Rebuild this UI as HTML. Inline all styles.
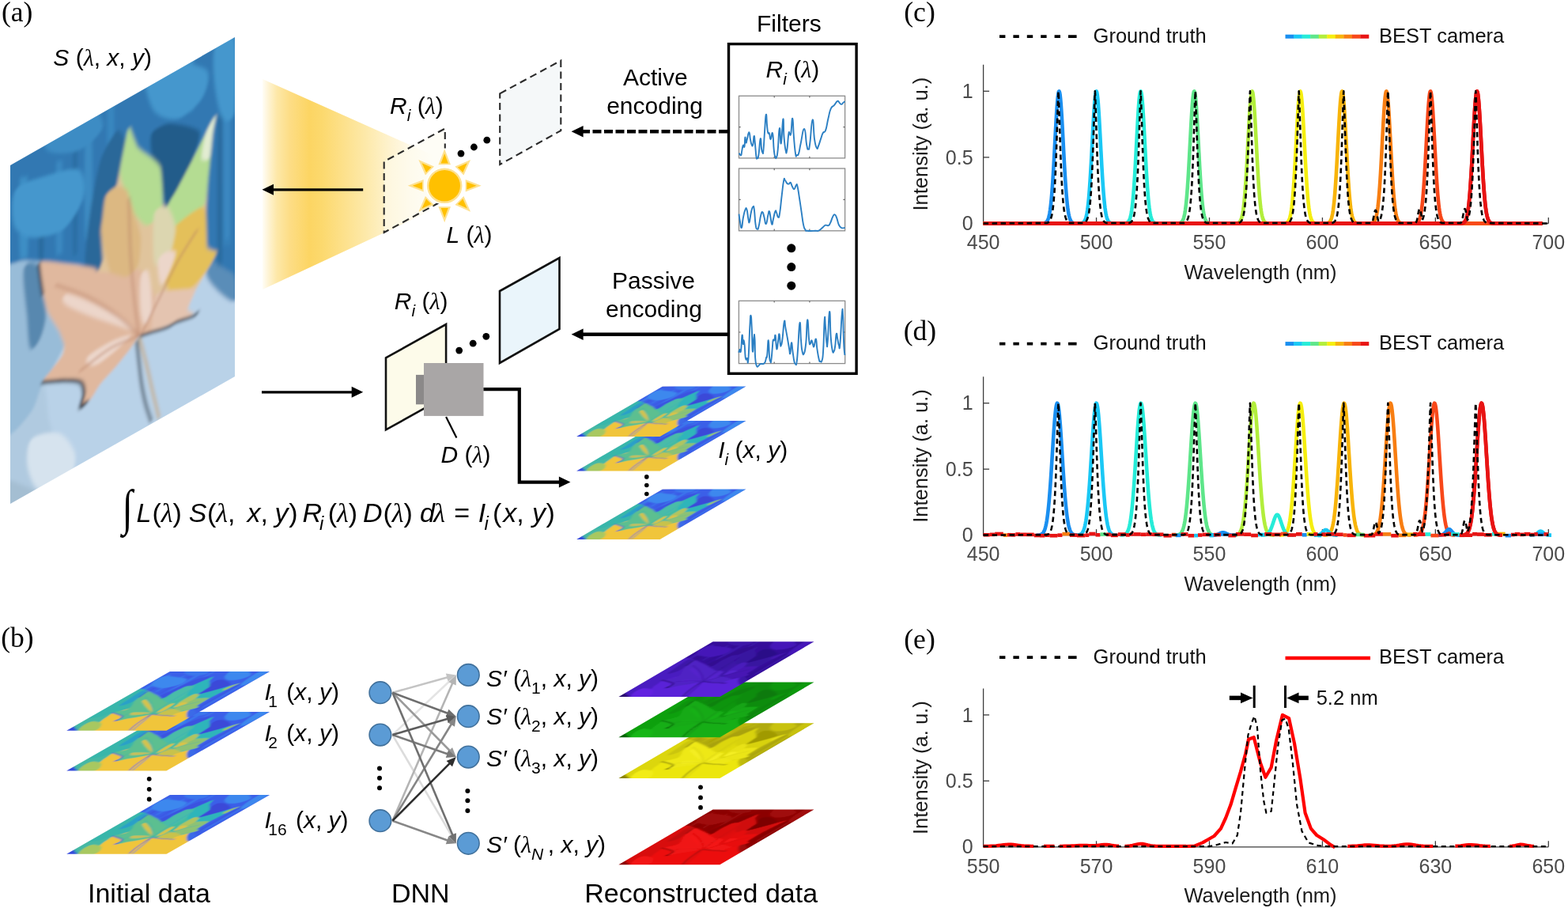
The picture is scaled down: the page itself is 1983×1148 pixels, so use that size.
<!DOCTYPE html>
<html><head><meta charset="utf-8"><title>BEST camera figure</title><style>html,body{margin:0;padding:0;background:#fff;overflow:hidden}svg{display:block}</style></head><body>
<svg width="1983" height="1148" viewBox="0 0 1983 1148"><defs><filter id="blur2" x="-10%" y="-10%" width="120%" height="120%"><feGaussianBlur stdDeviation="2.2"/></filter><filter id="blur1" x="-10%" y="-10%" width="120%" height="120%"><feGaussianBlur stdDeviation="3"/></filter><linearGradient id="cone" gradientUnits="userSpaceOnUse" x1="332" y1="0" x2="560" y2="0"><stop offset="0" stop-color="#fffdf6"/><stop offset="0.035" stop-color="#fef3d2"/><stop offset="0.08" stop-color="#fde8a8"/><stop offset="0.15" stop-color="#fddd86"/><stop offset="0.26" stop-color="#fcd563"/><stop offset="0.33" stop-color="#fcd96e"/><stop offset="0.44" stop-color="#fde089"/><stop offset="0.57" stop-color="#fde9a9"/><stop offset="0.7" stop-color="#fef2cd"/><stop offset="0.83" stop-color="#fffaec"/><stop offset="0.95" stop-color="#ffffff"/></linearGradient><clipPath id="cpA"><path d="M13,209L297,47V476L13,637Z"/></clipPath></defs><rect width="1983" height="1148" fill="#fff"/><g clip-path="url(#cpA)"><g transform="matrix(1,-0.5704,0,1,13,209)"><g filter="url(#blur2)"><rect x="-20" y="-20" width="330" height="480" fill="#b9d2e8"/><path d="M-8,266.44 C-3.1,251.58 35.3,289.64 41,297.89 C46.7,306.14 46.9,338.6 49,348.95 C51.1,359.3 59.8,391.61 62,401.36 C64.2,411.12 70.5,437.71 71,446.5 C71.5,455.28 74.9,489.22 67,489.22 C59.1,489.21 -0.5,468.71 -8,446.44 C-15.5,424.16 -12.9,281.29 -8,266.44Z" fill="#b0cae0"/><path d="M27,361.4 C33,358.52 53.75,366.66 62,374.36 C70.25,382.07 80.5,402.62 82,412.77 C83.5,422.93 78.75,439.17 72,442.07 C65.25,444.97 44.5,439.38 37,432.1 C29.5,424.83 23.5,404.15 22,393.55 C20.5,382.94 21,364.28 27,361.4Z" fill="#d6e3ee"/><path d="M-8,396.44 C-4.25,391.68 9.5,407.72 17,414.7 C24.5,421.67 36,432.63 42,442.96 C48,453.28 64.5,482.99 57,483.51 C49.5,484.03 1.75,459.5 -8,446.44 C-17.75,433.38 -11.75,401.2 -8,396.44Z" fill="#a4bed2"/><path d="M-8,117.44 C-3.55,98.65 31.6,137.02 36.5,143.52 C41.4,150.01 39.87,175.41 41,182.39 C42.13,189.36 45.76,207.12 47.8,213.27 C49.84,219.41 59.36,238.56 61.4,243.82 C63.44,249.09 69.11,261.44 68.2,265.9 C67.29,270.36 55.02,285.23 52.3,288.43 C49.58,291.63 43.53,294.09 41,297.89 C38.47,301.68 31.9,323.05 27,326.4 C22.1,329.76 -4.5,352.33 -8,331.44 C-11.5,310.54 -12.45,136.23 -8,117.44Z" fill="#98bcd8"/><path d="M17,140.7 C19.33,131.36 31,139.68 35,146.96 C39,154.25 39.33,172.77 41,184.39 C42.67,196 45.67,207.05 45,216.67 C44.33,226.29 40.33,237.34 37,242.1 C33.67,246.87 27.67,251.78 25,245.26 C22.33,238.74 22.33,220.41 21,202.98 C19.67,185.55 14.67,150.03 17,140.7Z" fill="#4d7fa8" opacity="0.85"/><path d="M-13,-0.42 C12.17,-10.31 263.58,-31.65 289,-4.15 C314.42,23.34 293,303.13 292,329.56 C291,355.99 279.42,316.63 277,313 C274.58,309.37 265.33,289.68 263,286.02 C260.67,282.35 255.33,273.39 249,269.03 C242.67,264.67 198.5,239.47 187,233.66 C175.5,227.86 119.33,204.15 111,199.31 C102.67,194.48 92.33,179.83 87,175.62 C81.67,171.42 52.83,152.64 47,148.81 C41.17,144.98 22,132.55 17,129.7 C12,126.84 -10.5,125.43 -13,114.58 C-15.5,103.74 -38.17,9.48 -13,-0.42Z" fill="#3078b2"/><path d="M252,264.74 C255.83,265.26 266.67,279.77 272,286.15 C277.33,292.52 282,295.19 284,302.99 C286,310.8 286.83,330.94 284,332.99 C281.17,335.04 272.83,323.62 267,315.3 C261.17,306.97 251.5,291.46 249,283.03 C246.5,274.6 248.17,264.22 252,264.74Z" fill="#5a8db8"/><path d="M12,28.84 C12.83,13.65 15.33,24.75 17,25.7 C18.67,26.65 21.17,18.41 22,34.55 C22.83,50.69 22.83,107.36 22,122.55 C21.17,137.74 18.67,126.65 17,125.7 C15.33,124.75 12.83,132.99 12,116.84 C11.17,100.7 11.17,44.04 12,28.84Z" fill="#4597cd" opacity="0.7"/><path d="M58,35.08 C58.67,17.3 60.67,30.6 62,31.36 C63.33,32.13 65.33,21.1 66,39.65 C66.67,58.19 66.67,124.86 66,142.65 C65.33,160.43 63.33,147.13 62,146.36 C60.67,145.6 58.67,156.63 58,138.08 C57.33,119.54 57.33,52.87 58,35.08Z" fill="#3d8cc4" opacity="0.8"/><path d="M94.5,25.9 C95.25,6.5 97.5,21.61 99,22.47 C100.5,23.33 102.75,10.78 103.5,31.04 C104.25,51.3 104.25,124.63 103.5,144.04 C102.75,163.44 100.5,148.33 99,147.47 C97.5,146.61 95.25,159.16 94.5,138.9 C93.75,118.64 93.75,45.31 94.5,25.9Z" fill="#4597cd" opacity="0.6"/><path d="M123,-7.84 C123.67,-18.96 125.67,-12.32 127,-11.56 C128.33,-10.8 130.33,-15.16 131,-3.28 C131.67,8.6 131.67,48.6 131,59.72 C130.33,70.84 128.33,64.2 127,63.44 C125.67,62.68 123.67,67.04 123,55.16 C122.33,43.28 122.33,3.28 123,-7.84Z" fill="#3d8cc4" opacity="0.7"/><path d="M222,-14.37 C222.83,-25.9 225.33,-18.47 227,-17.52 C228.67,-16.57 231.17,-21.14 232,-8.67 C232.83,3.81 232.83,45.81 232,57.33 C231.17,68.86 228.67,61.43 227,60.48 C225.33,59.53 222.83,64.1 222,51.63 C221.17,39.15 221.17,-2.85 222,-14.37Z" fill="#4597cd" opacity="0.7"/><path d="M270,6.01 C270.67,-33.45 272.67,1.53 274,2.29 C275.33,3.05 277.33,-29.64 278,10.57 C278.67,50.78 278.67,204.12 278,243.57 C277.33,283.02 275.33,248.05 274,247.29 C272.67,246.53 270.67,279.22 270,239.01 C269.33,198.79 269.33,45.46 270,6.01Z" fill="#3d8cc4" opacity="0.8"/><path d="M36,67.53 C36.5,55.49 38,62.68 39,63.25 C40,63.82 41.5,58.34 42,70.96 C42.5,83.58 42.5,126.91 42,138.96 C41.5,151 40,143.82 39,143.25 C38,142.68 36.5,148.15 36,135.53 C35.5,122.92 35.5,79.58 36,67.53Z" fill="#245c8a" opacity="0.5"/><path d="M79.5,32.35 C79.92,11.92 81.17,27.3 82,27.77 C82.83,28.25 84.08,14.29 84.5,35.2 C84.92,56.1 84.92,132.77 84.5,153.2 C84.08,173.63 82.83,158.25 82,157.77 C81.17,157.3 79.92,171.25 79.5,150.35 C79.08,129.44 79.08,52.78 79.5,32.35Z" fill="#245c8a" opacity="0.4"/><path d="M262,96.44 C262.5,67.73 264,91.59 265,92.16 C266,92.73 267.5,70.58 268,99.87 C268.5,129.15 268.5,239.15 268,267.87 C267.5,296.58 266,272.73 265,272.16 C264,271.59 262.5,293.73 262,264.44 C261.5,235.16 261.5,125.16 262,96.44Z" fill="#245c8a" opacity="0.5"/><path d="M172,-15.89 C176.5,-22.32 200.45,-13.91 212,-8.08 C223.55,-2.24 244.5,13.71 249,23.03 C253.5,32.35 247.55,48.2 242,54.04 C236.45,59.87 221,64.81 212,61.92 C203,59.04 188,46.49 182,34.81 C176,23.14 167.5,-9.46 172,-15.89Z" fill="#4597cd"/><path d="M7,34.99 C13.3,29.14 35,36.71 47,39.81 C59,42.9 80.25,47.57 87,55.62 C93.75,63.67 95,83.94 92,93.48 C89,103.02 76.75,117.28 67,119.22 C57.25,121.16 36.3,112.46 27,106.4 C17.7,100.35 8,89.56 5,78.85 C2,68.14 0.7,40.85 7,34.99Z" fill="#4597cd"/><path d="M259,-1.27 C262.75,-8.13 280.25,-11.15 284,2.99 C287.75,17.13 286.25,79.28 284,92.99 C281.75,106.71 272.75,101.08 269,94.44 C265.25,87.8 260.5,63.09 259,48.73 C257.5,34.38 255.25,5.59 259,-1.27Z" fill="#4597cd"/><path d="M47,-32.19 C54.5,-36.91 86.5,-31.16 97,-23.67 C107.5,-16.18 118.5,9.59 117,17.74 C115.5,25.88 97.5,32.11 87,30.62 C76.5,29.14 53,17.23 47,7.81 C41,-1.61 39.5,-27.47 47,-32.19Z" fill="#3d8cc4"/><path d="M179,61.1 C181.68,57.97 195,58.46 202,62.22 C209,65.98 235.73,85.98 239,93.33 C242.27,100.67 233.27,118.42 230,125.19 C226.73,131.96 214.73,146.6 211,151.35 C207.27,156.11 200.1,166.9 198,165.94 C195.9,164.97 193.93,149.34 193,143.09 C192.07,136.84 191.63,118.67 190,112.38 C188.37,106.08 180.28,95.08 179,89.1 C177.72,83.12 176.32,64.24 179,61.1Z" fill="#245c8a"/><path d="M135,33 C138.5,32.43 144.42,46.48 145,51.71 C145.58,56.94 141.28,71.82 140,77.86 C138.72,83.89 136.22,100.03 134,103.43 C131.78,106.84 123.22,101.17 121,107.02 C118.78,112.87 115.47,144.41 115,153.6 C114.53,162.78 117.47,180.64 117,185.74 C116.53,190.84 113.57,197.85 111,197.31 C108.43,196.78 96.63,187.14 95,181.19 C93.37,175.24 95.95,155.76 97,146.33 C98.05,136.89 101.9,110.79 104,100.32 C106.1,89.85 111.38,64.45 115,56.6 C118.62,48.74 131.5,33.57 135,33Z" fill="#2a6899"/><path d="M150.6,38 C151.62,39.1 159.25,65.28 161.1,68.89 C162.95,72.5 176.39,89.22 178.3,92.1 C180.21,94.98 188.84,107.81 189.8,112.06 C190.76,116.32 192.12,152.27 192.7,155.92 C193.28,159.57 197.29,167.16 198.5,166.82 C199.71,166.49 208.8,153.66 210.9,150.9 C213,148.14 227.57,128.73 230,125.39 C232.43,122.05 245.31,103.46 247.3,100.76 C249.29,98.06 259.23,84.56 259.8,84.89 C260.37,85.22 256.54,100.66 255.9,105.67 C255.26,110.67 250.77,153.21 250.2,159.91 C249.63,166.61 247.37,200.45 247.3,206.16 C247.23,211.87 248.31,242.09 249.2,245.54 C250.09,248.99 260.31,256.4 260.7,257.9 C261.09,259.4 255.91,266.76 255,268.05 C254.09,269.34 248.53,275.63 247.1,277.25 C245.67,278.86 235.11,290.08 233.6,292.25 C232.09,294.41 224.65,307.78 224.5,309.65 C224.35,311.53 232.21,319.94 231.3,320.33 C230.39,320.72 213.01,315.8 210.9,315.5 C208.79,315.2 201.71,316.15 199.6,315.85 C197.49,315.55 181.47,311.56 179.2,311.02 C176.93,310.48 166.81,307.84 165.6,307.76 C164.39,307.67 161.91,309.04 161,309.73 C160.09,310.43 153.81,316.82 152,318.2 C150.19,319.58 136.47,328.92 133.9,330.48 C131.33,332.03 115.61,340.03 113.5,341.54 C111.39,343.05 103.86,352.18 102.2,353.19 C100.54,354.21 89.21,357.55 88.6,356.74 C87.99,355.93 93,343.16 93,341.05 C93,338.93 90.11,326.95 88.6,325.04 C87.09,323.12 73.57,314.17 70.4,312.36 C67.23,310.55 42.21,299.48 41,297.89 C39.79,296.29 50.64,289.75 52.3,288.43 C53.96,287.11 64.84,279.59 65.9,278.09 C66.96,276.59 68.5,268.19 68.2,265.9 C67.9,263.62 62.76,247.33 61.4,243.82 C60.04,240.31 49.16,217.36 47.8,213.27 C46.44,209.17 41.75,187.04 41,182.39 C40.25,177.74 34.23,144.49 36.5,143.52 C38.77,142.55 70.47,164.74 75,167.78 C79.53,170.82 101.98,187.07 104.4,189.05 C106.82,191.03 110.46,197.73 111.3,197.49 C112.14,197.24 116.75,188.35 117,185.44 C117.25,182.52 115.1,157.33 115.1,153.75 C115.1,150.18 116.61,134.94 117,131.84 C117.39,128.74 119.75,109.16 120.9,107.26 C122.05,105.37 133.03,105.37 134.3,103.4 C135.57,101.44 139.23,81.25 140,77.86 C140.77,74.46 145.09,55.12 145.8,52.46 C146.51,49.81 149.58,36.91 150.6,38Z" fill="#e0c49c"/><path d="M150.6,38 C152.38,39.92 157.87,62.58 161.1,68.89 C164.33,75.2 174.95,87.07 178.3,92.1 C181.65,97.14 188.12,104.62 189.8,112.06 C191.48,119.51 193.03,148.85 192.7,155.92 C192.37,162.99 189.41,170.54 187,172.66 C184.59,174.79 175.5,176.69 172,174.11 C168.5,171.53 159.92,156.88 157,150.55 C154.08,144.22 149.1,126.88 147,119.85 C144.9,112.82 139.14,98.15 139,90.29 C138.86,82.42 144.45,58.56 145.8,52.46 C147.15,46.36 148.81,36.09 150.6,38Z" fill="#b4dc92"/><path d="M259.8,84.89 C260.8,85.46 257.02,96.91 255.9,105.67 C254.78,114.42 251.47,149.99 250.2,159.91 C248.93,169.84 247.71,186.02 245,190.75 C242.29,195.48 231.2,199.96 227,200.48 C222.8,201 212.32,199.14 209,195.21 C205.68,191.29 198.28,171.99 198.5,166.82 C198.72,161.65 207.22,155.73 210.9,150.9 C214.58,146.06 225.75,131.24 230,125.39 C234.25,119.54 243.82,105.49 247.3,100.76 C250.78,96.03 258.8,84.32 259.8,84.89Z" fill="#b4dc92"/><path d="M259.8,84.89 C260.8,85.46 256.81,99.85 255.9,105.67 C254.99,111.48 253.62,132.01 252,134.74 C250.38,137.47 242.55,133 242,129.04 C241.45,125.07 245.22,105.91 247.3,100.76 C249.38,95.61 258.8,84.32 259.8,84.89Z" fill="#e2ecd2"/><path d="M134.3,103.4 C137.34,104.29 144.35,109.35 147,114.85 C149.65,120.35 154.9,142.35 157,150.55 C159.1,158.75 164.42,177.2 165,185.12 C165.58,193.03 164.1,213.77 162,218.4 C159.9,223.04 151.08,226.01 147,224.85 C142.92,223.69 130.73,216.75 127,208.44 C123.27,200.13 116.17,162.53 115,153.6 C113.83,144.66 116.31,137.24 117,131.84 C117.69,126.43 118.88,110.58 120.9,107.26 C122.92,103.94 131.26,102.52 134.3,103.4Z" fill="#dcb882"/><path d="M209,195.21 C214.6,193.97 240.31,186.88 245,192.75 C249.69,198.62 247.37,237.94 249.2,245.54 C251.03,253.15 260.02,255.28 260.7,257.9 C261.38,260.53 257.18,265.59 255,268.05 C252.82,270.52 245.27,277 242,279.04 C238.73,281.07 231.67,286.04 227,285.48 C222.33,284.92 206.08,279.47 202,274.22 C197.92,268.97 192.58,248.78 192,240.52 C191.42,232.25 195.02,208.65 197,203.37 C198.98,198.08 203.4,196.45 209,195.21Z" fill="#e4c05a"/><path d="M36.5,143.52 C40.47,141.82 67.08,162.47 75,167.78 C82.92,173.09 100.17,185.58 104.4,189.05 C108.64,192.52 108.66,195.22 111.3,197.49 C113.94,199.75 122.83,205.25 127,208.44 C131.16,211.63 142.92,223.1 147,224.85 C151.08,226.59 158.5,220.24 162,223.4 C165.5,226.57 174.08,244.46 177,251.96 C179.92,259.46 186.74,280.78 187,287.66 C187.26,294.55 181.7,308.67 179.2,311.02 C176.7,313.36 167.72,307.91 165.6,307.76 C163.48,307.61 162.59,308.52 161,309.73 C159.41,310.95 155.16,315.78 152,318.2 C148.84,320.62 138.39,327.75 133.9,330.48 C129.41,333.2 117.2,338.89 113.5,341.54 C109.8,344.19 105.11,351.42 102.2,353.19 C99.3,354.97 89.67,358.15 88.6,356.74 C87.53,355.32 93,344.75 93,341.05 C93,337.35 91.24,328.38 88.6,325.04 C85.96,321.69 75.95,315.52 70.4,312.36 C64.85,309.19 43.11,300.68 41,297.89 C38.89,295.1 49.39,290.74 52.3,288.43 C55.2,286.12 64.05,280.72 65.9,278.09 C67.76,275.46 68.73,269.9 68.2,265.9 C67.67,261.9 63.78,249.96 61.4,243.82 C59.02,237.68 50.18,220.43 47.8,213.27 C45.42,206.1 42.32,190.52 41,182.39 C39.68,174.25 32.53,145.22 36.5,143.52Z" fill="#e0b89e"/><path d="M187,267.66 C192.25,267.74 221.56,282.61 227,285.48 C232.44,288.35 233.89,289.43 233.6,292.25 C233.31,295.07 224.77,306.38 224.5,309.65 C224.23,312.93 234.21,319.61 231.3,320.33 C228.4,321.06 205.68,316.94 199.6,315.85 C193.52,314.76 181.25,314.64 179.2,311.02 C177.15,307.39 181.09,289.87 182,284.81 C182.91,279.76 181.75,267.59 187,267.66Z" fill="#e4c4b0"/><path d="M182,164.81 C183.98,158.01 195.85,162.38 199,166.51 C202.15,170.64 209.23,191.25 209,200.21 C208.77,209.18 200.15,240.5 197,243.37 C193.85,246.24 183.75,233.98 182,224.81 C180.25,215.65 180.02,171.61 182,164.81Z" fill="#dcd6b0"/><path d="M72,204.07 C78.33,207.85 94.5,223.9 107,237.03 C119.5,250.16 139,272.79 147,282.85 C155,292.91 156.67,297.7 155,297.41 C153.33,297.13 146.67,289.99 137,281.14 C127.33,272.3 108.33,255.46 97,244.33 C85.67,233.2 73.17,221.07 69,214.36 C64.83,207.65 65.67,200.29 72,204.07Z" fill="#ecd6ca"/><path d="M97,298.33 C100.33,295.23 117.83,294.88 127,295.44 C136.17,296 150.33,299.42 152,301.7 C153.67,303.98 144.5,307.09 137,309.14 C129.5,311.2 113.67,315.84 107,314.03 C100.33,312.23 93.67,301.43 97,298.33Z" fill="#ecd6ca"/><path d="M165,235.12 C166.67,227.73 172.67,227.82 175,235.82 C177.33,243.82 179.67,272.65 179,283.1 C178.33,293.55 173.33,299.04 171,298.54 C168.67,298.04 166,290.69 165,280.12 C164,269.55 163.33,242.5 165,235.12Z" fill="#ecd6ca"/><path d="M187,227.66 C188.17,221.33 195.33,221.75 199,222.51 C202.67,223.27 210.17,225.88 209,232.21 C207.83,238.55 195.67,261.27 192,260.52 C188.33,259.76 185.83,234 187,227.66Z" fill="#ecd6ca"/><path d="M163,308.98 C158.67,302.34 148,283.75 137,269.14 C126,254.54 110.33,235.6 97,221.33 C83.67,207.06 63.67,189.82 57,183.51" fill="none" stroke="#b88066" stroke-width="2.4" opacity="0.7"/><path d="M163,308.98 C157,308.05 139.67,303.17 127,303.44 C114.33,303.72 93.67,309.43 87,310.62" fill="none" stroke="#b88066" stroke-width="2.4" opacity="0.7"/><path d="M163,308.98 C162,300.9 158.83,279.1 157,260.55 C155.17,242.01 153.17,220.03 152,197.7 C150.83,175.37 150.33,138.42 150,126.56" fill="none" stroke="#b88066" stroke-width="2.4" opacity="0.7"/><path d="M165,309.12 C168.67,303.87 179.17,288.86 187,277.66 C194.83,266.47 203.67,252.17 212,241.92 C220.33,231.68 232.83,220.47 237,216.18" fill="none" stroke="#b88066" stroke-width="2.4" opacity="0.7"/><path d="M163.3,311.05 C164.75,317.39 169.22,336.17 172,349.11 C174.78,362.05 177.3,375.67 180,388.67 C182.7,401.68 186.83,420.74 188.2,427.15" fill="none" stroke="#c9a25f" stroke-width="2.6"/><path d="M41,297.89 C43.67,299.16 52.1,303.1 57,305.51 C61.9,307.92 65.13,309.1 70.4,312.36 C75.67,315.61 84.83,320.26 88.6,325.04 C92.37,329.82 93,335.76 93,341.05 C93,346.33 87.93,354.52 88.6,356.74 C89.27,358.95 95.6,354.73 97,354.33" fill="none" stroke="#1b2a3a" stroke-width="4.0" stroke-linecap="round" stroke-linejoin="round"/><path d="M165.6,309.96 C167.87,310.5 173.53,311.82 179.2,313.22 C184.87,314.61 194.32,317.5 199.6,318.35 C204.88,319.2 205.62,317.53 210.9,318.3 C216.18,319.06 226.95,322.45 231.3,322.93 C235.65,323.41 236.05,321.48 237,321.18" fill="none" stroke="#1b2a3a" stroke-width="3.4" stroke-linecap="round" stroke-linejoin="round"/><path d="M160,314.26 C160.5,319.22 162,334.57 163,343.98 C164,353.38 164.67,361.59 166,370.69 C167.33,379.78 169,389.56 171,398.54 C173,407.51 176.83,420.2 178,424.53" fill="none" stroke="#1b2a3a" stroke-width="3.0" stroke-linecap="round" stroke-linejoin="round"/><path d="M36,145.53 C36.33,148.72 37.17,157.87 38,164.68 C38.83,171.48 40.5,182.77 41,186.39" fill="none" stroke="#1b2a3a" stroke-width="3.0" stroke-linecap="round" stroke-linejoin="round"/></g></g></g>
<path d="M332,100L560,201.7V259.6L332,366Z" fill="url(#cone)"/>
<path d="M632.2,118.3L709.3,76.6V165.1L632.2,208Z" fill="#f5f8f9" stroke="#2b2b2b" stroke-width="2.1" stroke-dasharray="9 5.5"/>
<path d="M485.7,204.2L562.8,162.5V252.2L485.7,293.9Z" fill="#fdfbee" fill-opacity="0.55"/>
<path d="M562.8,187.5V162.5L485.7,204.2V293.9L557,255.3" fill="none" stroke="#2b2b2b" stroke-width="2.1" stroke-dasharray="9 5.5" stroke-dashoffset="3"/>
<path d="M459.2,239.8H344" stroke="#000" stroke-width="3.3"/><path d="M331.5,239.8L346,232.8L346,246.8Z" fill="#000"/>
<circle cx="583" cy="194.1" r="4.4" fill="#000"/>
<circle cx="599.4" cy="186" r="4.4" fill="#000"/>
<circle cx="615.8" cy="177.2" r="4.4" fill="#000"/>
<g transform="translate(562.2,234.8) rotate(0)"><path d="M0,-46.5L7.8,-26.5H-7.8Z" fill="#fee18f"/><path d="M0,-40.5L4.6,-28.2H-4.6Z" fill="#ffc000"/></g><g transform="translate(562.2,234.8) rotate(45)"><path d="M0,-46.5L7.8,-26.5H-7.8Z" fill="#fee18f"/><path d="M0,-40.5L4.6,-28.2H-4.6Z" fill="#ffc000"/></g><g transform="translate(562.2,234.8) rotate(90)"><path d="M0,-46.5L7.8,-26.5H-7.8Z" fill="#fee18f"/><path d="M0,-40.5L4.6,-28.2H-4.6Z" fill="#ffc000"/></g><g transform="translate(562.2,234.8) rotate(135)"><path d="M0,-46.5L7.8,-26.5H-7.8Z" fill="#fee18f"/><path d="M0,-40.5L4.6,-28.2H-4.6Z" fill="#ffc000"/></g><g transform="translate(562.2,234.8) rotate(180)"><path d="M0,-46.5L7.8,-26.5H-7.8Z" fill="#fee18f"/><path d="M0,-40.5L4.6,-28.2H-4.6Z" fill="#ffc000"/></g><g transform="translate(562.2,234.8) rotate(225)"><path d="M0,-46.5L7.8,-26.5H-7.8Z" fill="#fee18f"/><path d="M0,-40.5L4.6,-28.2H-4.6Z" fill="#ffc000"/></g><g transform="translate(562.2,234.8) rotate(270)"><path d="M0,-46.5L7.8,-26.5H-7.8Z" fill="#fee18f"/><path d="M0,-40.5L4.6,-28.2H-4.6Z" fill="#ffc000"/></g><g transform="translate(562.2,234.8) rotate(315)"><path d="M0,-46.5L7.8,-26.5H-7.8Z" fill="#fee18f"/><path d="M0,-40.5L4.6,-28.2H-4.6Z" fill="#ffc000"/></g><circle cx="562.2" cy="234.8" r="24" fill="#fff"/><circle cx="562.2" cy="234.8" r="22.3" fill="#fee18f"/><circle cx="562.2" cy="234.8" r="19.8" fill="#ffc000"/>
<rect x="921.5" y="55.6" width="161.6" height="416.7" fill="none" stroke="#000" stroke-width="3.4"/>
<rect x="934.5" y="121.3" width="134.1" height="78.6" fill="#fff" stroke="#8c8c8c" stroke-width="1.3"/><path d="M979.2,121.3v2.2M979.2,199.9v-2.2M1023.9,121.3v2.2M1023.9,199.9v-2.2M934.5,160.6h2.2M1068.6,160.6h-2.2" stroke="#666" stroke-width="1.2"/><rect x="934.5" y="213" width="134.1" height="78.8" fill="#fff" stroke="#8c8c8c" stroke-width="1.3"/><path d="M979.2,213v2.2M979.2,291.8v-2.2M1023.9,213v2.2M1023.9,291.8v-2.2M934.5,252.4h2.2M1068.6,252.4h-2.2" stroke="#666" stroke-width="1.2"/><rect x="934.4" y="380.4" width="134.3" height="79.2" fill="#fff" stroke="#8c8c8c" stroke-width="1.3"/><path d="M979.17,380.4v2.2M979.17,459.6v-2.2M1023.93,380.4v2.2M1023.93,459.6v-2.2M934.4,420h2.2M1068.7,420h-2.2" stroke="#666" stroke-width="1.2"/><path d="M934.54,193.61 C934.85,194.05 934.94,194.6 935.7,195.26 C936.45,195.93 936.69,197.2 937.35,196.09 C938.01,194.99 937.52,194.44 938.18,191.13 C938.84,187.81 938.95,185.22 939.83,183.68 C940.72,182.13 940.83,187.98 941.49,185.33 C942.15,182.68 941.79,175.07 942.32,173.74 C942.85,172.42 942.81,179.7 943.48,180.36 C944.14,181.03 943.79,179.76 944.8,176.23 C945.82,172.69 946.18,167.12 947.28,167.12 C948.39,167.12 948.06,172.03 948.94,176.23 C949.82,180.42 949.71,181.08 950.6,182.85 C951.48,184.61 951.46,185.72 952.25,182.85 C953.05,179.98 952.91,172.97 953.58,172.09 C954.24,171.2 953.98,172.69 954.74,179.54 C955.49,186.38 955.6,192.45 956.39,197.75 C957.19,203.05 956.92,199.85 957.72,199.4 C958.51,198.96 958.31,202.49 959.37,196.09 C960.43,189.69 960.72,177.6 961.69,175.4 C962.66,173.19 962.31,183.18 963.01,187.81 C963.72,192.45 963.68,192.34 964.34,192.78 C965,193.22 964.75,196.98 965.5,189.47 C966.25,181.96 966.27,176.56 967.15,164.64 C968.04,152.72 968.01,146.09 968.81,144.77 C969.6,143.44 969.47,153.49 970.13,159.67 C970.79,165.85 970.54,165.52 971.29,167.95 C972.04,170.38 972.06,166.57 972.95,168.77 C973.83,170.98 973.5,176.23 974.6,176.23 C975.71,176.23 975.98,165.24 977.09,168.77 C978.19,172.31 977.86,181.52 978.74,189.47 C979.62,197.42 979.51,196.15 980.4,198.58 C981.28,201 981.17,201 982.05,198.58 C982.94,196.15 982.69,199.18 983.71,189.47 C984.72,179.76 984.76,164.36 985.86,162.15 C986.96,159.94 986.66,184.28 987.85,181.19 C989.04,178.1 989.36,152.77 990.33,150.56 C991.3,148.36 990.61,162.32 991.49,172.91 C992.37,183.51 992.63,185.88 993.64,190.3 C994.66,194.71 994.33,194.99 995.3,189.47 C996.27,183.95 996.4,175.12 997.28,169.6 C998.17,164.08 997.81,169 998.61,168.77 C999.4,168.55 999.29,173.85 1000.26,168.77 C1001.24,163.7 1001.28,148.63 1002.25,149.74 C1003.22,150.84 1002.89,160.99 1003.91,172.91 C1004.92,184.83 1005.04,188.26 1006.06,194.44 C1007.08,200.62 1006.61,196.31 1007.72,196.09 C1008.82,195.87 1008.87,197.58 1010.2,193.61 C1011.52,189.64 1010.83,189.36 1012.68,181.19 C1014.54,173.02 1015.17,162.54 1017.15,162.98 C1019.14,163.42 1018.76,176 1020.13,182.85 C1021.5,189.69 1021.18,189.08 1022.28,188.64 C1023.39,188.2 1022.86,191.13 1024.27,181.19 C1025.68,171.26 1026.04,152.72 1027.58,151.39 C1029.13,150.07 1028.65,166.73 1030.07,176.23 C1031.48,185.72 1031.56,184.78 1032.88,186.99 C1034.21,189.19 1033.58,187.81 1035.03,184.5 C1036.49,181.19 1036.8,178.98 1038.34,174.57 C1039.89,170.15 1039.28,170.6 1040.83,167.95 C1042.37,165.3 1042.37,169.49 1044.14,164.64 C1045.91,159.78 1045.68,157.02 1047.45,149.74 C1049.22,142.45 1048.77,141.73 1050.76,137.32 C1052.75,132.9 1052.69,135.7 1054.9,133.18 C1057.11,130.66 1057.27,128.76 1059.04,127.88 C1060.81,127 1060.2,128.81 1061.52,129.87 C1062.85,130.93 1062.68,131.85 1064.01,131.85 C1065.33,131.85 1065.25,130.84 1066.49,129.87 C1067.73,128.9 1068.07,128.65 1068.64,128.21" fill="none" stroke="#2b7fc3" stroke-width="1.9" stroke-linejoin="round"/><path d="M934.54,270.6 C934.85,272.8 934.81,274.24 935.7,278.87 C936.58,283.51 936.74,288.86 937.85,287.98 C938.95,287.1 938.64,281.52 939.83,275.56 C941.03,269.6 941.08,268.5 942.32,265.63 C943.55,262.76 943.37,261.71 944.47,264.8 C945.57,267.89 945.57,273.02 946.46,277.22 C947.34,281.41 946.9,282.74 947.78,280.53 C948.66,278.32 948.58,274.02 949.77,268.94 C950.96,263.86 951.15,262.37 952.25,261.49 C953.36,260.61 953.02,259.67 953.91,265.63 C954.79,271.59 954.55,277.44 955.56,283.84 C956.58,290.24 956.61,289.19 957.72,289.64 C958.82,290.08 958.51,290.13 959.7,285.5 C960.89,280.86 960.95,276.89 962.19,272.25 C963.42,267.62 963.23,267.67 964.34,268.11 C965.44,268.55 965.13,269.93 966.32,273.91 C967.52,277.88 967.48,283.45 968.81,283.01 C970.13,282.57 970.19,276.45 971.29,272.25 C972.4,268.06 972.06,266.4 972.95,267.28 C973.83,268.17 973.72,271.15 974.6,275.56 C975.49,279.98 975.38,283.4 976.26,283.84 C977.14,284.28 976.81,281.63 977.91,277.22 C979.02,272.8 979.29,269.49 980.4,267.28 C981.5,265.08 981.04,266.95 982.05,268.94 C983.07,270.93 983.1,274.74 984.21,274.74 C985.31,274.74 985,276.23 986.19,268.94 C987.38,261.66 987.35,258.23 988.68,247.42 C990,236.6 990.06,233.59 991.16,228.38 C992.26,223.17 991.71,227 992.81,227.88 C993.92,228.76 993.97,230.45 995.3,231.69 C996.62,232.92 996.59,232.74 997.78,232.52 C998.97,232.3 998.66,229.98 999.77,230.86 C1000.87,231.74 1000.68,233.62 1001.92,235.83 C1003.16,238.04 1003.08,239.58 1004.4,239.14 C1005.73,238.7 1005.78,235.06 1006.89,234.17 C1007.99,233.29 1007.44,231.41 1008.54,235.83 C1009.65,240.24 1009.7,242.34 1011.03,250.73 C1012.35,259.12 1012.19,258.45 1013.51,267.28 C1014.83,276.11 1014.67,277.66 1015.99,283.84 C1017.32,290.02 1017.15,288.34 1018.48,290.46 C1019.8,292.58 1017.65,291.43 1020.96,291.79 C1024.27,292.14 1026.92,291.92 1030.89,291.79 C1034.87,291.66 1033.21,292.53 1035.86,291.29 C1038.51,290.06 1038.62,288.92 1040.83,287.15 C1043.04,285.39 1042.37,285.2 1044.14,284.67 C1045.91,284.14 1045.91,285.83 1047.45,285.17 C1049,284.5 1048.39,285.19 1049.93,282.19 C1051.48,279.18 1051.7,276.78 1053.25,273.91 C1054.79,271.04 1054.4,270.98 1055.73,271.42 C1057.05,271.87 1056.89,272.25 1058.21,275.56 C1059.54,278.87 1059.15,280.53 1060.7,283.84 C1062.24,287.15 1061.89,286.88 1064.01,287.98 C1066.13,289.08 1067.41,287.98 1068.64,287.98" fill="none" stroke="#2b7fc3" stroke-width="1.9" stroke-linejoin="round"/><path d="M934.29,445.84 C934.58,444.79 934.67,442.54 935.39,441.92 C936.1,441.29 936.12,448.29 936.95,443.48 C937.79,438.68 937.77,426.18 938.52,423.88 C939.27,421.58 939.23,433.19 939.78,434.86 C940.32,436.53 940.06,429.74 940.56,430.16 C941.06,430.57 941.03,430.36 941.66,436.43 C942.29,442.49 942.08,448.5 942.91,452.89 C943.75,457.28 943.87,452.48 944.79,452.89 C945.71,453.31 945.44,464.71 946.36,454.46 C947.28,444.22 947.41,429.32 948.24,414.47 C949.08,399.63 948.83,398.79 949.5,398.79 C950.17,398.79 950.13,402.35 950.75,414.47 C951.38,426.6 951.14,440.92 951.85,444.27 C952.56,447.61 952.71,431.2 953.42,427.02 C954.13,422.84 953.81,419.81 954.52,428.59 C955.23,437.37 954.08,451.59 956.09,459.95 C958.09,468.31 959.2,460.16 962.04,459.95 C964.89,459.74 964.87,461.26 966.75,459.17 C968.63,457.07 968.18,454.83 969.1,452.11 C970.02,449.39 969.49,454.83 970.2,448.97 C970.91,443.12 971.01,429.74 971.77,430.16 C972.52,430.57 972.35,443.43 973.02,450.54 C973.69,457.65 973.65,455.56 974.28,456.81 C974.9,458.07 974.66,460.26 975.37,455.25 C976.08,450.23 976.31,444.69 976.94,438 C977.57,431.31 977.1,432.25 977.73,430.16 C978.35,428.06 978.54,431.83 979.29,430.16 C980.05,428.48 979.92,422.21 980.55,423.88 C981.18,425.56 981.06,431.83 981.65,436.43 C982.23,441.03 982.12,442.39 982.74,441.13 C983.37,439.88 983.25,436.74 984,431.72 C984.75,426.71 984.81,421.48 985.57,422.31 C986.32,423.15 986.19,431.1 986.82,434.86 C987.45,438.62 987.21,438.1 987.92,436.43 C988.63,434.76 988.44,436.53 989.49,428.59 C990.53,420.64 990.79,410.4 991.84,406.63 C992.88,402.87 992.36,409.04 993.41,414.47 C994.45,419.91 994.5,419.91 995.76,427.02 C997.01,434.13 997.15,435.91 998.11,441.13 C999.07,446.36 998.61,448.71 999.37,446.62 C1000.12,444.53 1000.1,433.92 1000.93,433.29 C1001.77,432.66 1001.58,438 1002.5,444.27 C1003.42,450.54 1003.46,452.63 1004.38,456.81 C1005.3,461 1005.12,459.53 1005.95,459.95 C1006.79,460.37 1006.68,463.4 1007.52,458.38 C1008.36,453.36 1008.04,454.51 1009.09,441.13 C1010.13,427.75 1010.39,411.13 1011.44,408.2 C1012.49,405.27 1012.17,420.54 1013.01,430.16 C1013.84,439.77 1013.53,439.88 1014.58,444.27 C1015.62,448.66 1015.67,449.55 1016.93,446.62 C1018.18,443.69 1018.15,444.58 1019.28,433.29 C1020.41,422 1020.12,405.12 1021.16,404.28 C1022.21,403.44 1022.24,422 1023.2,430.16 C1024.16,438.31 1023.93,434.86 1024.77,434.86 C1025.61,434.86 1025.5,430.16 1026.34,430.16 C1027.17,430.16 1027.07,432.77 1027.91,434.86 C1028.74,436.95 1028.43,439.67 1029.47,438 C1030.52,436.32 1030.78,427.75 1031.83,428.59 C1032.87,429.42 1032.35,434.23 1033.39,441.13 C1034.44,448.03 1034.7,450.28 1035.75,454.46 C1036.79,458.64 1036.27,456.6 1037.31,456.81 C1038.36,457.02 1038.62,459.43 1039.67,455.25 C1040.71,451.06 1040.4,454.93 1041.23,441.13 C1042.07,427.33 1042.09,411.02 1042.8,403.5 C1043.51,395.97 1043.19,404.96 1043.9,412.91 C1044.61,420.85 1044.72,428.27 1045.47,433.29 C1046.22,438.31 1045.76,442.18 1046.72,431.72 C1047.69,421.27 1048.03,395.76 1049.08,394.09 C1050.12,392.42 1049.68,412.49 1050.64,425.45 C1051.61,438.41 1051.64,437.68 1052.68,442.7 C1053.73,447.72 1053.64,445.52 1054.56,444.27 C1055.48,443.01 1055.3,443.85 1056.13,438 C1056.97,432.14 1056.86,424.82 1057.7,422.31 C1058.54,419.81 1058.43,424.82 1059.27,428.59 C1060.1,432.35 1060,434.76 1060.84,436.43 C1061.67,438.1 1061.36,445.31 1062.4,434.86 C1063.45,424.41 1063.8,406.84 1064.76,397.22 C1065.72,387.61 1065.38,389.17 1066.01,398.79 C1066.64,408.41 1066.48,419.91 1067.11,433.29 C1067.74,446.67 1068.03,444.79 1068.36,448.97" fill="none" stroke="#2b7fc3" stroke-width="1.9" stroke-linejoin="round"/>
<circle cx="1000.8" cy="313.8" r="5.5" fill="#000"/>
<circle cx="1000.8" cy="337.6" r="5.5" fill="#000"/>
<circle cx="1000.8" cy="361.2" r="5.5" fill="#000"/>
<path d="M920,166.3H736" stroke="#000" stroke-width="4.4" stroke-dasharray="11 3.5"/><path d="M722.6,166.3L737.6,159.1L737.6,173.5Z" fill="#000"/>
<path d="M920,422.8H736" stroke="#000" stroke-width="4.4"/><path d="M722.6,422.8L737.6,415.6L737.6,430Z" fill="#000"/>
<path d="M632,368L707.5,326V416L632,459Z" fill="#eaf5fb" stroke="#111" stroke-width="2.6" stroke-linejoin="miter"/>
<path d="M488,452.4L564.1,410V501L488,543.4Z" fill="#fdfbea" stroke="#111" stroke-width="2.6"/>
<circle cx="580.7" cy="443.1" r="4.4" fill="#000"/>
<circle cx="598.2" cy="434.2" r="4.4" fill="#000"/>
<circle cx="614.8" cy="425.3" r="4.4" fill="#000"/>
<rect x="536" y="459" width="75.5" height="66.9" fill="#a9a6a6"/>
<rect x="526" y="473.9" width="10" height="37.4" fill="#8b8989"/>
<path d="M564.1,526.9L577.4,553.4" stroke="#000" stroke-width="2.2"/>
<path d="M611.5,492.1H656.8V609.6H708" fill="none" stroke="#000" stroke-width="4.2"/><path d="M721.4,609.6L706.9,602.6L706.9,616.6Z" fill="#000"/>
<path d="M331,495.8H447" stroke="#000" stroke-width="3.3"/><path d="M459.2,495.8L444.7,488.8L444.7,502.8Z" fill="#000"/>
<clipPath id="clipa2"><path d="M838,618.6H943.5L834.6,681.9H729.1Z"/></clipPath><g clip-path="url(#clipa2)"><g transform="matrix(0.37,0,-0.25444,0.14790,838,618.6)"><g filter="url(#blur1)"><rect x="-20" y="-20" width="330" height="480" fill="#f0c53a"/><path d="M-8,266.44 C-3.1,251.58 35.3,289.64 41,297.89 C46.7,306.14 46.9,338.6 49,348.95 C51.1,359.3 59.8,391.61 62,401.36 C64.2,411.12 70.5,437.71 71,446.5 C71.5,455.28 74.9,489.22 67,489.22 C59.1,489.21 -0.5,468.71 -8,446.44 C-15.5,424.16 -12.9,281.29 -8,266.44Z" fill="#44b8a4"/><path d="M27,361.4 C33,358.52 53.75,366.66 62,374.36 C70.25,382.07 80.5,402.62 82,412.77 C83.5,422.93 78.75,439.17 72,442.07 C65.25,444.97 44.5,439.38 37,432.1 C29.5,424.83 23.5,404.15 22,393.55 C20.5,382.94 21,364.28 27,361.4Z" fill="#a8c860"/><path d="M-8,396.44 C-4.25,391.68 9.5,407.72 17,414.7 C24.5,421.67 36,432.63 42,442.96 C48,453.28 64.5,482.99 57,483.51 C49.5,484.03 1.75,459.5 -8,446.44 C-17.75,433.38 -11.75,401.2 -8,396.44Z" fill="#3548dc"/><path d="M-8,117.44 C-3.55,98.65 31.6,137.02 36.5,143.52 C41.4,150.01 39.87,175.41 41,182.39 C42.13,189.36 45.76,207.12 47.8,213.27 C49.84,219.41 59.36,238.56 61.4,243.82 C63.44,249.09 69.11,261.44 68.2,265.9 C67.29,270.36 55.02,285.23 52.3,288.43 C49.58,291.63 43.53,294.09 41,297.89 C38.47,301.68 31.9,323.05 27,326.4 C22.1,329.76 -4.5,352.33 -8,331.44 C-11.5,310.54 -12.45,136.23 -8,117.44Z" fill="#38b6aa"/><path d="M17,140.7 C19.33,131.36 31,139.68 35,146.96 C39,154.25 39.33,172.77 41,184.39 C42.67,196 45.67,207.05 45,216.67 C44.33,226.29 40.33,237.34 37,242.1 C33.67,246.87 27.67,251.78 25,245.26 C22.33,238.74 22.33,220.41 21,202.98 C19.67,185.55 14.67,150.03 17,140.7Z" fill="#2a9ccc" opacity="0.85"/><path d="M-13,-0.42 C12.17,-10.31 263.58,-31.65 289,-4.15 C314.42,23.34 293,303.13 292,329.56 C291,355.99 279.42,316.63 277,313 C274.58,309.37 265.33,289.68 263,286.02 C260.67,282.35 255.33,273.39 249,269.03 C242.67,264.67 198.5,239.47 187,233.66 C175.5,227.86 119.33,204.15 111,199.31 C102.67,194.48 92.33,179.83 87,175.62 C81.67,171.42 52.83,152.64 47,148.81 C41.17,144.98 22,132.55 17,129.7 C12,126.84 -10.5,125.43 -13,114.58 C-15.5,103.74 -38.17,9.48 -13,-0.42Z" fill="#3b5fe8"/><path d="M252,264.74 C255.83,265.26 266.67,279.77 272,286.15 C277.33,292.52 282,295.19 284,302.99 C286,310.8 286.83,330.94 284,332.99 C281.17,335.04 272.83,323.62 267,315.3 C261.17,306.97 251.5,291.46 249,283.03 C246.5,274.6 248.17,264.22 252,264.74Z" fill="#3b6ae8"/><path d="M12,28.84 C12.83,13.65 15.33,24.75 17,25.7 C18.67,26.65 21.17,18.41 22,34.55 C22.83,50.69 22.83,107.36 22,122.55 C21.17,137.74 18.67,126.65 17,125.7 C15.33,124.75 12.83,132.99 12,116.84 C11.17,100.7 11.17,44.04 12,28.84Z" fill="#3c88ee" opacity="0.7"/><path d="M58,35.08 C58.67,17.3 60.67,30.6 62,31.36 C63.33,32.13 65.33,21.1 66,39.65 C66.67,58.19 66.67,124.86 66,142.65 C65.33,160.43 63.33,147.13 62,146.36 C60.67,145.6 58.67,156.63 58,138.08 C57.33,119.54 57.33,52.87 58,35.08Z" fill="#3b76ec" opacity="0.8"/><path d="M94.5,25.9 C95.25,6.5 97.5,21.61 99,22.47 C100.5,23.33 102.75,10.78 103.5,31.04 C104.25,51.3 104.25,124.63 103.5,144.04 C102.75,163.44 100.5,148.33 99,147.47 C97.5,146.61 95.25,159.16 94.5,138.9 C93.75,118.64 93.75,45.31 94.5,25.9Z" fill="#3c88ee" opacity="0.6"/><path d="M123,-7.84 C123.67,-18.96 125.67,-12.32 127,-11.56 C128.33,-10.8 130.33,-15.16 131,-3.28 C131.67,8.6 131.67,48.6 131,59.72 C130.33,70.84 128.33,64.2 127,63.44 C125.67,62.68 123.67,67.04 123,55.16 C122.33,43.28 122.33,3.28 123,-7.84Z" fill="#3b76ec" opacity="0.7"/><path d="M222,-14.37 C222.83,-25.9 225.33,-18.47 227,-17.52 C228.67,-16.57 231.17,-21.14 232,-8.67 C232.83,3.81 232.83,45.81 232,57.33 C231.17,68.86 228.67,61.43 227,60.48 C225.33,59.53 222.83,64.1 222,51.63 C221.17,39.15 221.17,-2.85 222,-14.37Z" fill="#3c88ee" opacity="0.7"/><path d="M270,6.01 C270.67,-33.45 272.67,1.53 274,2.29 C275.33,3.05 277.33,-29.64 278,10.57 C278.67,50.78 278.67,204.12 278,243.57 C277.33,283.02 275.33,248.05 274,247.29 C272.67,246.53 270.67,279.22 270,239.01 C269.33,198.79 269.33,45.46 270,6.01Z" fill="#3b76ec" opacity="0.8"/><path d="M36,67.53 C36.5,55.49 38,62.68 39,63.25 C40,63.82 41.5,58.34 42,70.96 C42.5,83.58 42.5,126.91 42,138.96 C41.5,151 40,143.82 39,143.25 C38,142.68 36.5,148.15 36,135.53 C35.5,122.92 35.5,79.58 36,67.53Z" fill="#3a4ad8" opacity="0.5"/><path d="M79.5,32.35 C79.92,11.92 81.17,27.3 82,27.77 C82.83,28.25 84.08,14.29 84.5,35.2 C84.92,56.1 84.92,132.77 84.5,153.2 C84.08,173.63 82.83,158.25 82,157.77 C81.17,157.3 79.92,171.25 79.5,150.35 C79.08,129.44 79.08,52.78 79.5,32.35Z" fill="#3a4ad8" opacity="0.4"/><path d="M262,96.44 C262.5,67.73 264,91.59 265,92.16 C266,92.73 267.5,70.58 268,99.87 C268.5,129.15 268.5,239.15 268,267.87 C267.5,296.58 266,272.73 265,272.16 C264,271.59 262.5,293.73 262,264.44 C261.5,235.16 261.5,125.16 262,96.44Z" fill="#3a4ad8" opacity="0.5"/><path d="M172,-15.89 C176.5,-22.32 200.45,-13.91 212,-8.08 C223.55,-2.24 244.5,13.71 249,23.03 C253.5,32.35 247.55,48.2 242,54.04 C236.45,59.87 221,64.81 212,61.92 C203,59.04 188,46.49 182,34.81 C176,23.14 167.5,-9.46 172,-15.89Z" fill="#3c88ee"/><path d="M7,34.99 C13.3,29.14 35,36.71 47,39.81 C59,42.9 80.25,47.57 87,55.62 C93.75,63.67 95,83.94 92,93.48 C89,103.02 76.75,117.28 67,119.22 C57.25,121.16 36.3,112.46 27,106.4 C17.7,100.35 8,89.56 5,78.85 C2,68.14 0.7,40.85 7,34.99Z" fill="#3c88ee"/><path d="M259,-1.27 C262.75,-8.13 280.25,-11.15 284,2.99 C287.75,17.13 286.25,79.28 284,92.99 C281.75,106.71 272.75,101.08 269,94.44 C265.25,87.8 260.5,63.09 259,48.73 C257.5,34.38 255.25,5.59 259,-1.27Z" fill="#3c88ee"/><path d="M47,-32.19 C54.5,-36.91 86.5,-31.16 97,-23.67 C107.5,-16.18 118.5,9.59 117,17.74 C115.5,25.88 97.5,32.11 87,30.62 C76.5,29.14 53,17.23 47,7.81 C41,-1.61 39.5,-27.47 47,-32.19Z" fill="#3b76ec"/><path d="M179,61.1 C181.68,57.97 195,58.46 202,62.22 C209,65.98 235.73,85.98 239,93.33 C242.27,100.67 233.27,118.42 230,125.19 C226.73,131.96 214.73,146.6 211,151.35 C207.27,156.11 200.1,166.9 198,165.94 C195.9,164.97 193.93,149.34 193,143.09 C192.07,136.84 191.63,118.67 190,112.38 C188.37,106.08 180.28,95.08 179,89.1 C177.72,83.12 176.32,64.24 179,61.1Z" fill="#3a4ad8"/><path d="M135,33 C138.5,32.43 144.42,46.48 145,51.71 C145.58,56.94 141.28,71.82 140,77.86 C138.72,83.89 136.22,100.03 134,103.43 C131.78,106.84 123.22,101.17 121,107.02 C118.78,112.87 115.47,144.41 115,153.6 C114.53,162.78 117.47,180.64 117,185.74 C116.53,190.84 113.57,197.85 111,197.31 C108.43,196.78 96.63,187.14 95,181.19 C93.37,175.24 95.95,155.76 97,146.33 C98.05,136.89 101.9,110.79 104,100.32 C106.1,89.85 111.38,64.45 115,56.6 C118.62,48.74 131.5,33.57 135,33Z" fill="#3a52e0"/><path d="M150.6,38 C151.62,39.1 159.25,65.28 161.1,68.89 C162.95,72.5 176.39,89.22 178.3,92.1 C180.21,94.98 188.84,107.81 189.8,112.06 C190.76,116.32 192.12,152.27 192.7,155.92 C193.28,159.57 197.29,167.16 198.5,166.82 C199.71,166.49 208.8,153.66 210.9,150.9 C213,148.14 227.57,128.73 230,125.39 C232.43,122.05 245.31,103.46 247.3,100.76 C249.29,98.06 259.23,84.56 259.8,84.89 C260.37,85.22 256.54,100.66 255.9,105.67 C255.26,110.67 250.77,153.21 250.2,159.91 C249.63,166.61 247.37,200.45 247.3,206.16 C247.23,211.87 248.31,242.09 249.2,245.54 C250.09,248.99 260.31,256.4 260.7,257.9 C261.09,259.4 255.91,266.76 255,268.05 C254.09,269.34 248.53,275.63 247.1,277.25 C245.67,278.86 235.11,290.08 233.6,292.25 C232.09,294.41 224.65,307.78 224.5,309.65 C224.35,311.53 232.21,319.94 231.3,320.33 C230.39,320.72 213.01,315.8 210.9,315.5 C208.79,315.2 201.71,316.15 199.6,315.85 C197.49,315.55 181.47,311.56 179.2,311.02 C176.93,310.48 166.81,307.84 165.6,307.76 C164.39,307.67 161.91,309.04 161,309.73 C160.09,310.43 153.81,316.82 152,318.2 C150.19,319.58 136.47,328.92 133.9,330.48 C131.33,332.03 115.61,340.03 113.5,341.54 C111.39,343.05 103.86,352.18 102.2,353.19 C100.54,354.21 89.21,357.55 88.6,356.74 C87.99,355.93 93,343.16 93,341.05 C93,338.93 90.11,326.95 88.6,325.04 C87.09,323.12 73.57,314.17 70.4,312.36 C67.23,310.55 42.21,299.48 41,297.89 C39.79,296.29 50.64,289.75 52.3,288.43 C53.96,287.11 64.84,279.59 65.9,278.09 C66.96,276.59 68.5,268.19 68.2,265.9 C67.9,263.62 62.76,247.33 61.4,243.82 C60.04,240.31 49.16,217.36 47.8,213.27 C46.44,209.17 41.75,187.04 41,182.39 C40.25,177.74 34.23,144.49 36.5,143.52 C38.77,142.55 70.47,164.74 75,167.78 C79.53,170.82 101.98,187.07 104.4,189.05 C106.82,191.03 110.46,197.73 111.3,197.49 C112.14,197.24 116.75,188.35 117,185.44 C117.25,182.52 115.1,157.33 115.1,153.75 C115.1,150.18 116.61,134.94 117,131.84 C117.39,128.74 119.75,109.16 120.9,107.26 C122.05,105.37 133.03,105.37 134.3,103.4 C135.57,101.44 139.23,81.25 140,77.86 C140.77,74.46 145.09,55.12 145.8,52.46 C146.51,49.81 149.58,36.91 150.6,38Z" fill="#42bca2"/><path d="M150.6,38 C152.38,39.92 157.87,62.58 161.1,68.89 C164.33,75.2 174.95,87.07 178.3,92.1 C181.65,97.14 188.12,104.62 189.8,112.06 C191.48,119.51 193.03,148.85 192.7,155.92 C192.37,162.99 189.41,170.54 187,172.66 C184.59,174.79 175.5,176.69 172,174.11 C168.5,171.53 159.92,156.88 157,150.55 C154.08,144.22 149.1,126.88 147,119.85 C144.9,112.82 139.14,98.15 139,90.29 C138.86,82.42 144.45,58.56 145.8,52.46 C147.15,46.36 148.81,36.09 150.6,38Z" fill="#2eb5ba"/><path d="M259.8,84.89 C260.8,85.46 257.02,96.91 255.9,105.67 C254.78,114.42 251.47,149.99 250.2,159.91 C248.93,169.84 247.71,186.02 245,190.75 C242.29,195.48 231.2,199.96 227,200.48 C222.8,201 212.32,199.14 209,195.21 C205.68,191.29 198.28,171.99 198.5,166.82 C198.72,161.65 207.22,155.73 210.9,150.9 C214.58,146.06 225.75,131.24 230,125.39 C234.25,119.54 243.82,105.49 247.3,100.76 C250.78,96.03 258.8,84.32 259.8,84.89Z" fill="#2eb5ba"/><path d="M259.8,84.89 C260.8,85.46 256.81,99.85 255.9,105.67 C254.99,111.48 253.62,132.01 252,134.74 C250.38,137.47 242.55,133 242,129.04 C241.45,125.07 245.22,105.91 247.3,100.76 C249.38,95.61 258.8,84.32 259.8,84.89Z" fill="#9cc46c"/><path d="M134.3,103.4 C137.34,104.29 144.35,109.35 147,114.85 C149.65,120.35 154.9,142.35 157,150.55 C159.1,158.75 164.42,177.2 165,185.12 C165.58,193.03 164.1,213.77 162,218.4 C159.9,223.04 151.08,226.01 147,224.85 C142.92,223.69 130.73,216.75 127,208.44 C123.27,200.13 116.17,162.53 115,153.6 C113.83,144.66 116.31,137.24 117,131.84 C117.69,126.43 118.88,110.58 120.9,107.26 C122.92,103.94 131.26,102.52 134.3,103.4Z" fill="#4abca8"/><path d="M209,195.21 C214.6,193.97 240.31,186.88 245,192.75 C249.69,198.62 247.37,237.94 249.2,245.54 C251.03,253.15 260.02,255.28 260.7,257.9 C261.38,260.53 257.18,265.59 255,268.05 C252.82,270.52 245.27,277 242,279.04 C238.73,281.07 231.67,286.04 227,285.48 C222.33,284.92 206.08,279.47 202,274.22 C197.92,268.97 192.58,248.78 192,240.52 C191.42,232.25 195.02,208.65 197,203.37 C198.98,198.08 203.4,196.45 209,195.21Z" fill="#8cc274"/><path d="M36.5,143.52 C40.47,141.82 67.08,162.47 75,167.78 C82.92,173.09 100.17,185.58 104.4,189.05 C108.64,192.52 108.66,195.22 111.3,197.49 C113.94,199.75 122.83,205.25 127,208.44 C131.16,211.63 142.92,223.1 147,224.85 C151.08,226.59 158.5,220.24 162,223.4 C165.5,226.57 174.08,244.46 177,251.96 C179.92,259.46 186.74,280.78 187,287.66 C187.26,294.55 181.7,308.67 179.2,311.02 C176.7,313.36 167.72,307.91 165.6,307.76 C163.48,307.61 162.59,308.52 161,309.73 C159.41,310.95 155.16,315.78 152,318.2 C148.84,320.62 138.39,327.75 133.9,330.48 C129.41,333.2 117.2,338.89 113.5,341.54 C109.8,344.19 105.11,351.42 102.2,353.19 C99.3,354.97 89.67,358.15 88.6,356.74 C87.53,355.32 93,344.75 93,341.05 C93,337.35 91.24,328.38 88.6,325.04 C85.96,321.69 75.95,315.52 70.4,312.36 C64.85,309.19 43.11,300.68 41,297.89 C38.89,295.1 49.39,290.74 52.3,288.43 C55.2,286.12 64.05,280.72 65.9,278.09 C67.76,275.46 68.73,269.9 68.2,265.9 C67.67,261.9 63.78,249.96 61.4,243.82 C59.02,237.68 50.18,220.43 47.8,213.27 C45.42,206.1 42.32,190.52 41,182.39 C39.68,174.25 32.53,145.22 36.5,143.52Z" fill="#5cbf90"/><path d="M187,267.66 C192.25,267.74 221.56,282.61 227,285.48 C232.44,288.35 233.89,289.43 233.6,292.25 C233.31,295.07 224.77,306.38 224.5,309.65 C224.23,312.93 234.21,319.61 231.3,320.33 C228.4,321.06 205.68,316.94 199.6,315.85 C193.52,314.76 181.25,314.64 179.2,311.02 C177.15,307.39 181.09,289.87 182,284.81 C182.91,279.76 181.75,267.59 187,267.66Z" fill="#c8c24c"/><path d="M182,164.81 C183.98,158.01 195.85,162.38 199,166.51 C202.15,170.64 209.23,191.25 209,200.21 C208.77,209.18 200.15,240.5 197,243.37 C193.85,246.24 183.75,233.98 182,224.81 C180.25,215.65 180.02,171.61 182,164.81Z" fill="#b0c460"/><path d="M72,204.07 C78.33,207.85 94.5,223.9 107,237.03 C119.5,250.16 139,272.79 147,282.85 C155,292.91 156.67,297.7 155,297.41 C153.33,297.13 146.67,289.99 137,281.14 C127.33,272.3 108.33,255.46 97,244.33 C85.67,233.2 73.17,221.07 69,214.36 C64.83,207.65 65.67,200.29 72,204.07Z" fill="#d8c34a"/><path d="M97,298.33 C100.33,295.23 117.83,294.88 127,295.44 C136.17,296 150.33,299.42 152,301.7 C153.67,303.98 144.5,307.09 137,309.14 C129.5,311.2 113.67,315.84 107,314.03 C100.33,312.23 93.67,301.43 97,298.33Z" fill="#d8c34a"/><path d="M165,235.12 C166.67,227.73 172.67,227.82 175,235.82 C177.33,243.82 179.67,272.65 179,283.1 C178.33,293.55 173.33,299.04 171,298.54 C168.67,298.04 166,290.69 165,280.12 C164,269.55 163.33,242.5 165,235.12Z" fill="#d8c34a"/><path d="M187,227.66 C188.17,221.33 195.33,221.75 199,222.51 C202.67,223.27 210.17,225.88 209,232.21 C207.83,238.55 195.67,261.27 192,260.52 C188.33,259.76 185.83,234 187,227.66Z" fill="#d8c34a"/><path d="M163,308.98 C158.67,302.34 148,283.75 137,269.14 C126,254.54 110.33,235.6 97,221.33 C83.67,207.06 63.67,189.82 57,183.51" fill="none" stroke="#30a8c0" stroke-width="2.4" opacity="0.7"/><path d="M163,308.98 C157,308.05 139.67,303.17 127,303.44 C114.33,303.72 93.67,309.43 87,310.62" fill="none" stroke="#30a8c0" stroke-width="2.4" opacity="0.7"/><path d="M163,308.98 C162,300.9 158.83,279.1 157,260.55 C155.17,242.01 153.17,220.03 152,197.7 C150.83,175.37 150.33,138.42 150,126.56" fill="none" stroke="#30a8c0" stroke-width="2.4" opacity="0.7"/><path d="M165,309.12 C168.67,303.87 179.17,288.86 187,277.66 C194.83,266.47 203.67,252.17 212,241.92 C220.33,231.68 232.83,220.47 237,216.18" fill="none" stroke="#30a8c0" stroke-width="2.4" opacity="0.7"/><path d="M163.3,311.05 C164.75,317.39 169.22,336.17 172,349.11 C174.78,362.05 177.3,375.67 180,388.67 C182.7,401.68 186.83,420.74 188.2,427.15" fill="none" stroke="#3a6ae8" stroke-width="2.6"/><path d="M41,297.89 C43.67,299.16 52.1,303.1 57,305.51 C61.9,307.92 65.13,309.1 70.4,312.36 C75.67,315.61 84.83,320.26 88.6,325.04 C92.37,329.82 93,335.76 93,341.05 C93,346.33 87.93,354.52 88.6,356.74 C89.27,358.95 95.6,354.73 97,354.33" fill="none" stroke="#3040e0" stroke-width="4.0" stroke-linecap="round" stroke-linejoin="round"/><path d="M165.6,309.96 C167.87,310.5 173.53,311.82 179.2,313.22 C184.87,314.61 194.32,317.5 199.6,318.35 C204.88,319.2 205.62,317.53 210.9,318.3 C216.18,319.06 226.95,322.45 231.3,322.93 C235.65,323.41 236.05,321.48 237,321.18" fill="none" stroke="#3040e0" stroke-width="3.4" stroke-linecap="round" stroke-linejoin="round"/><path d="M160,314.26 C160.5,319.22 162,334.57 163,343.98 C164,353.38 164.67,361.59 166,370.69 C167.33,379.78 169,389.56 171,398.54 C173,407.51 176.83,420.2 178,424.53" fill="none" stroke="#3040e0" stroke-width="3.0" stroke-linecap="round" stroke-linejoin="round"/><path d="M36,145.53 C36.33,148.72 37.17,157.87 38,164.68 C38.83,171.48 40.5,182.77 41,186.39" fill="none" stroke="#3040e0" stroke-width="3.0" stroke-linecap="round" stroke-linejoin="round"/></g></g></g>
<clipPath id="clipa1"><path d="M838,532.1H943.5L834.6,595.4H729.1Z"/></clipPath><g clip-path="url(#clipa1)"><g transform="matrix(0.37,0,-0.25444,0.14790,838,532.1)"><g filter="url(#blur1)"><rect x="-20" y="-20" width="330" height="480" fill="#f0c53a"/><path d="M-8,266.44 C-3.1,251.58 35.3,289.64 41,297.89 C46.7,306.14 46.9,338.6 49,348.95 C51.1,359.3 59.8,391.61 62,401.36 C64.2,411.12 70.5,437.71 71,446.5 C71.5,455.28 74.9,489.22 67,489.22 C59.1,489.21 -0.5,468.71 -8,446.44 C-15.5,424.16 -12.9,281.29 -8,266.44Z" fill="#44b8a4"/><path d="M27,361.4 C33,358.52 53.75,366.66 62,374.36 C70.25,382.07 80.5,402.62 82,412.77 C83.5,422.93 78.75,439.17 72,442.07 C65.25,444.97 44.5,439.38 37,432.1 C29.5,424.83 23.5,404.15 22,393.55 C20.5,382.94 21,364.28 27,361.4Z" fill="#a8c860"/><path d="M-8,396.44 C-4.25,391.68 9.5,407.72 17,414.7 C24.5,421.67 36,432.63 42,442.96 C48,453.28 64.5,482.99 57,483.51 C49.5,484.03 1.75,459.5 -8,446.44 C-17.75,433.38 -11.75,401.2 -8,396.44Z" fill="#3548dc"/><path d="M-8,117.44 C-3.55,98.65 31.6,137.02 36.5,143.52 C41.4,150.01 39.87,175.41 41,182.39 C42.13,189.36 45.76,207.12 47.8,213.27 C49.84,219.41 59.36,238.56 61.4,243.82 C63.44,249.09 69.11,261.44 68.2,265.9 C67.29,270.36 55.02,285.23 52.3,288.43 C49.58,291.63 43.53,294.09 41,297.89 C38.47,301.68 31.9,323.05 27,326.4 C22.1,329.76 -4.5,352.33 -8,331.44 C-11.5,310.54 -12.45,136.23 -8,117.44Z" fill="#38b6aa"/><path d="M17,140.7 C19.33,131.36 31,139.68 35,146.96 C39,154.25 39.33,172.77 41,184.39 C42.67,196 45.67,207.05 45,216.67 C44.33,226.29 40.33,237.34 37,242.1 C33.67,246.87 27.67,251.78 25,245.26 C22.33,238.74 22.33,220.41 21,202.98 C19.67,185.55 14.67,150.03 17,140.7Z" fill="#2a9ccc" opacity="0.85"/><path d="M-13,-0.42 C12.17,-10.31 263.58,-31.65 289,-4.15 C314.42,23.34 293,303.13 292,329.56 C291,355.99 279.42,316.63 277,313 C274.58,309.37 265.33,289.68 263,286.02 C260.67,282.35 255.33,273.39 249,269.03 C242.67,264.67 198.5,239.47 187,233.66 C175.5,227.86 119.33,204.15 111,199.31 C102.67,194.48 92.33,179.83 87,175.62 C81.67,171.42 52.83,152.64 47,148.81 C41.17,144.98 22,132.55 17,129.7 C12,126.84 -10.5,125.43 -13,114.58 C-15.5,103.74 -38.17,9.48 -13,-0.42Z" fill="#3b5fe8"/><path d="M252,264.74 C255.83,265.26 266.67,279.77 272,286.15 C277.33,292.52 282,295.19 284,302.99 C286,310.8 286.83,330.94 284,332.99 C281.17,335.04 272.83,323.62 267,315.3 C261.17,306.97 251.5,291.46 249,283.03 C246.5,274.6 248.17,264.22 252,264.74Z" fill="#3b6ae8"/><path d="M12,28.84 C12.83,13.65 15.33,24.75 17,25.7 C18.67,26.65 21.17,18.41 22,34.55 C22.83,50.69 22.83,107.36 22,122.55 C21.17,137.74 18.67,126.65 17,125.7 C15.33,124.75 12.83,132.99 12,116.84 C11.17,100.7 11.17,44.04 12,28.84Z" fill="#3c88ee" opacity="0.7"/><path d="M58,35.08 C58.67,17.3 60.67,30.6 62,31.36 C63.33,32.13 65.33,21.1 66,39.65 C66.67,58.19 66.67,124.86 66,142.65 C65.33,160.43 63.33,147.13 62,146.36 C60.67,145.6 58.67,156.63 58,138.08 C57.33,119.54 57.33,52.87 58,35.08Z" fill="#3b76ec" opacity="0.8"/><path d="M94.5,25.9 C95.25,6.5 97.5,21.61 99,22.47 C100.5,23.33 102.75,10.78 103.5,31.04 C104.25,51.3 104.25,124.63 103.5,144.04 C102.75,163.44 100.5,148.33 99,147.47 C97.5,146.61 95.25,159.16 94.5,138.9 C93.75,118.64 93.75,45.31 94.5,25.9Z" fill="#3c88ee" opacity="0.6"/><path d="M123,-7.84 C123.67,-18.96 125.67,-12.32 127,-11.56 C128.33,-10.8 130.33,-15.16 131,-3.28 C131.67,8.6 131.67,48.6 131,59.72 C130.33,70.84 128.33,64.2 127,63.44 C125.67,62.68 123.67,67.04 123,55.16 C122.33,43.28 122.33,3.28 123,-7.84Z" fill="#3b76ec" opacity="0.7"/><path d="M222,-14.37 C222.83,-25.9 225.33,-18.47 227,-17.52 C228.67,-16.57 231.17,-21.14 232,-8.67 C232.83,3.81 232.83,45.81 232,57.33 C231.17,68.86 228.67,61.43 227,60.48 C225.33,59.53 222.83,64.1 222,51.63 C221.17,39.15 221.17,-2.85 222,-14.37Z" fill="#3c88ee" opacity="0.7"/><path d="M270,6.01 C270.67,-33.45 272.67,1.53 274,2.29 C275.33,3.05 277.33,-29.64 278,10.57 C278.67,50.78 278.67,204.12 278,243.57 C277.33,283.02 275.33,248.05 274,247.29 C272.67,246.53 270.67,279.22 270,239.01 C269.33,198.79 269.33,45.46 270,6.01Z" fill="#3b76ec" opacity="0.8"/><path d="M36,67.53 C36.5,55.49 38,62.68 39,63.25 C40,63.82 41.5,58.34 42,70.96 C42.5,83.58 42.5,126.91 42,138.96 C41.5,151 40,143.82 39,143.25 C38,142.68 36.5,148.15 36,135.53 C35.5,122.92 35.5,79.58 36,67.53Z" fill="#3a4ad8" opacity="0.5"/><path d="M79.5,32.35 C79.92,11.92 81.17,27.3 82,27.77 C82.83,28.25 84.08,14.29 84.5,35.2 C84.92,56.1 84.92,132.77 84.5,153.2 C84.08,173.63 82.83,158.25 82,157.77 C81.17,157.3 79.92,171.25 79.5,150.35 C79.08,129.44 79.08,52.78 79.5,32.35Z" fill="#3a4ad8" opacity="0.4"/><path d="M262,96.44 C262.5,67.73 264,91.59 265,92.16 C266,92.73 267.5,70.58 268,99.87 C268.5,129.15 268.5,239.15 268,267.87 C267.5,296.58 266,272.73 265,272.16 C264,271.59 262.5,293.73 262,264.44 C261.5,235.16 261.5,125.16 262,96.44Z" fill="#3a4ad8" opacity="0.5"/><path d="M172,-15.89 C176.5,-22.32 200.45,-13.91 212,-8.08 C223.55,-2.24 244.5,13.71 249,23.03 C253.5,32.35 247.55,48.2 242,54.04 C236.45,59.87 221,64.81 212,61.92 C203,59.04 188,46.49 182,34.81 C176,23.14 167.5,-9.46 172,-15.89Z" fill="#3c88ee"/><path d="M7,34.99 C13.3,29.14 35,36.71 47,39.81 C59,42.9 80.25,47.57 87,55.62 C93.75,63.67 95,83.94 92,93.48 C89,103.02 76.75,117.28 67,119.22 C57.25,121.16 36.3,112.46 27,106.4 C17.7,100.35 8,89.56 5,78.85 C2,68.14 0.7,40.85 7,34.99Z" fill="#3c88ee"/><path d="M259,-1.27 C262.75,-8.13 280.25,-11.15 284,2.99 C287.75,17.13 286.25,79.28 284,92.99 C281.75,106.71 272.75,101.08 269,94.44 C265.25,87.8 260.5,63.09 259,48.73 C257.5,34.38 255.25,5.59 259,-1.27Z" fill="#3c88ee"/><path d="M47,-32.19 C54.5,-36.91 86.5,-31.16 97,-23.67 C107.5,-16.18 118.5,9.59 117,17.74 C115.5,25.88 97.5,32.11 87,30.62 C76.5,29.14 53,17.23 47,7.81 C41,-1.61 39.5,-27.47 47,-32.19Z" fill="#3b76ec"/><path d="M179,61.1 C181.68,57.97 195,58.46 202,62.22 C209,65.98 235.73,85.98 239,93.33 C242.27,100.67 233.27,118.42 230,125.19 C226.73,131.96 214.73,146.6 211,151.35 C207.27,156.11 200.1,166.9 198,165.94 C195.9,164.97 193.93,149.34 193,143.09 C192.07,136.84 191.63,118.67 190,112.38 C188.37,106.08 180.28,95.08 179,89.1 C177.72,83.12 176.32,64.24 179,61.1Z" fill="#3a4ad8"/><path d="M135,33 C138.5,32.43 144.42,46.48 145,51.71 C145.58,56.94 141.28,71.82 140,77.86 C138.72,83.89 136.22,100.03 134,103.43 C131.78,106.84 123.22,101.17 121,107.02 C118.78,112.87 115.47,144.41 115,153.6 C114.53,162.78 117.47,180.64 117,185.74 C116.53,190.84 113.57,197.85 111,197.31 C108.43,196.78 96.63,187.14 95,181.19 C93.37,175.24 95.95,155.76 97,146.33 C98.05,136.89 101.9,110.79 104,100.32 C106.1,89.85 111.38,64.45 115,56.6 C118.62,48.74 131.5,33.57 135,33Z" fill="#3a52e0"/><path d="M150.6,38 C151.62,39.1 159.25,65.28 161.1,68.89 C162.95,72.5 176.39,89.22 178.3,92.1 C180.21,94.98 188.84,107.81 189.8,112.06 C190.76,116.32 192.12,152.27 192.7,155.92 C193.28,159.57 197.29,167.16 198.5,166.82 C199.71,166.49 208.8,153.66 210.9,150.9 C213,148.14 227.57,128.73 230,125.39 C232.43,122.05 245.31,103.46 247.3,100.76 C249.29,98.06 259.23,84.56 259.8,84.89 C260.37,85.22 256.54,100.66 255.9,105.67 C255.26,110.67 250.77,153.21 250.2,159.91 C249.63,166.61 247.37,200.45 247.3,206.16 C247.23,211.87 248.31,242.09 249.2,245.54 C250.09,248.99 260.31,256.4 260.7,257.9 C261.09,259.4 255.91,266.76 255,268.05 C254.09,269.34 248.53,275.63 247.1,277.25 C245.67,278.86 235.11,290.08 233.6,292.25 C232.09,294.41 224.65,307.78 224.5,309.65 C224.35,311.53 232.21,319.94 231.3,320.33 C230.39,320.72 213.01,315.8 210.9,315.5 C208.79,315.2 201.71,316.15 199.6,315.85 C197.49,315.55 181.47,311.56 179.2,311.02 C176.93,310.48 166.81,307.84 165.6,307.76 C164.39,307.67 161.91,309.04 161,309.73 C160.09,310.43 153.81,316.82 152,318.2 C150.19,319.58 136.47,328.92 133.9,330.48 C131.33,332.03 115.61,340.03 113.5,341.54 C111.39,343.05 103.86,352.18 102.2,353.19 C100.54,354.21 89.21,357.55 88.6,356.74 C87.99,355.93 93,343.16 93,341.05 C93,338.93 90.11,326.95 88.6,325.04 C87.09,323.12 73.57,314.17 70.4,312.36 C67.23,310.55 42.21,299.48 41,297.89 C39.79,296.29 50.64,289.75 52.3,288.43 C53.96,287.11 64.84,279.59 65.9,278.09 C66.96,276.59 68.5,268.19 68.2,265.9 C67.9,263.62 62.76,247.33 61.4,243.82 C60.04,240.31 49.16,217.36 47.8,213.27 C46.44,209.17 41.75,187.04 41,182.39 C40.25,177.74 34.23,144.49 36.5,143.52 C38.77,142.55 70.47,164.74 75,167.78 C79.53,170.82 101.98,187.07 104.4,189.05 C106.82,191.03 110.46,197.73 111.3,197.49 C112.14,197.24 116.75,188.35 117,185.44 C117.25,182.52 115.1,157.33 115.1,153.75 C115.1,150.18 116.61,134.94 117,131.84 C117.39,128.74 119.75,109.16 120.9,107.26 C122.05,105.37 133.03,105.37 134.3,103.4 C135.57,101.44 139.23,81.25 140,77.86 C140.77,74.46 145.09,55.12 145.8,52.46 C146.51,49.81 149.58,36.91 150.6,38Z" fill="#42bca2"/><path d="M150.6,38 C152.38,39.92 157.87,62.58 161.1,68.89 C164.33,75.2 174.95,87.07 178.3,92.1 C181.65,97.14 188.12,104.62 189.8,112.06 C191.48,119.51 193.03,148.85 192.7,155.92 C192.37,162.99 189.41,170.54 187,172.66 C184.59,174.79 175.5,176.69 172,174.11 C168.5,171.53 159.92,156.88 157,150.55 C154.08,144.22 149.1,126.88 147,119.85 C144.9,112.82 139.14,98.15 139,90.29 C138.86,82.42 144.45,58.56 145.8,52.46 C147.15,46.36 148.81,36.09 150.6,38Z" fill="#2eb5ba"/><path d="M259.8,84.89 C260.8,85.46 257.02,96.91 255.9,105.67 C254.78,114.42 251.47,149.99 250.2,159.91 C248.93,169.84 247.71,186.02 245,190.75 C242.29,195.48 231.2,199.96 227,200.48 C222.8,201 212.32,199.14 209,195.21 C205.68,191.29 198.28,171.99 198.5,166.82 C198.72,161.65 207.22,155.73 210.9,150.9 C214.58,146.06 225.75,131.24 230,125.39 C234.25,119.54 243.82,105.49 247.3,100.76 C250.78,96.03 258.8,84.32 259.8,84.89Z" fill="#2eb5ba"/><path d="M259.8,84.89 C260.8,85.46 256.81,99.85 255.9,105.67 C254.99,111.48 253.62,132.01 252,134.74 C250.38,137.47 242.55,133 242,129.04 C241.45,125.07 245.22,105.91 247.3,100.76 C249.38,95.61 258.8,84.32 259.8,84.89Z" fill="#9cc46c"/><path d="M134.3,103.4 C137.34,104.29 144.35,109.35 147,114.85 C149.65,120.35 154.9,142.35 157,150.55 C159.1,158.75 164.42,177.2 165,185.12 C165.58,193.03 164.1,213.77 162,218.4 C159.9,223.04 151.08,226.01 147,224.85 C142.92,223.69 130.73,216.75 127,208.44 C123.27,200.13 116.17,162.53 115,153.6 C113.83,144.66 116.31,137.24 117,131.84 C117.69,126.43 118.88,110.58 120.9,107.26 C122.92,103.94 131.26,102.52 134.3,103.4Z" fill="#4abca8"/><path d="M209,195.21 C214.6,193.97 240.31,186.88 245,192.75 C249.69,198.62 247.37,237.94 249.2,245.54 C251.03,253.15 260.02,255.28 260.7,257.9 C261.38,260.53 257.18,265.59 255,268.05 C252.82,270.52 245.27,277 242,279.04 C238.73,281.07 231.67,286.04 227,285.48 C222.33,284.92 206.08,279.47 202,274.22 C197.92,268.97 192.58,248.78 192,240.52 C191.42,232.25 195.02,208.65 197,203.37 C198.98,198.08 203.4,196.45 209,195.21Z" fill="#8cc274"/><path d="M36.5,143.52 C40.47,141.82 67.08,162.47 75,167.78 C82.92,173.09 100.17,185.58 104.4,189.05 C108.64,192.52 108.66,195.22 111.3,197.49 C113.94,199.75 122.83,205.25 127,208.44 C131.16,211.63 142.92,223.1 147,224.85 C151.08,226.59 158.5,220.24 162,223.4 C165.5,226.57 174.08,244.46 177,251.96 C179.92,259.46 186.74,280.78 187,287.66 C187.26,294.55 181.7,308.67 179.2,311.02 C176.7,313.36 167.72,307.91 165.6,307.76 C163.48,307.61 162.59,308.52 161,309.73 C159.41,310.95 155.16,315.78 152,318.2 C148.84,320.62 138.39,327.75 133.9,330.48 C129.41,333.2 117.2,338.89 113.5,341.54 C109.8,344.19 105.11,351.42 102.2,353.19 C99.3,354.97 89.67,358.15 88.6,356.74 C87.53,355.32 93,344.75 93,341.05 C93,337.35 91.24,328.38 88.6,325.04 C85.96,321.69 75.95,315.52 70.4,312.36 C64.85,309.19 43.11,300.68 41,297.89 C38.89,295.1 49.39,290.74 52.3,288.43 C55.2,286.12 64.05,280.72 65.9,278.09 C67.76,275.46 68.73,269.9 68.2,265.9 C67.67,261.9 63.78,249.96 61.4,243.82 C59.02,237.68 50.18,220.43 47.8,213.27 C45.42,206.1 42.32,190.52 41,182.39 C39.68,174.25 32.53,145.22 36.5,143.52Z" fill="#5cbf90"/><path d="M187,267.66 C192.25,267.74 221.56,282.61 227,285.48 C232.44,288.35 233.89,289.43 233.6,292.25 C233.31,295.07 224.77,306.38 224.5,309.65 C224.23,312.93 234.21,319.61 231.3,320.33 C228.4,321.06 205.68,316.94 199.6,315.85 C193.52,314.76 181.25,314.64 179.2,311.02 C177.15,307.39 181.09,289.87 182,284.81 C182.91,279.76 181.75,267.59 187,267.66Z" fill="#c8c24c"/><path d="M182,164.81 C183.98,158.01 195.85,162.38 199,166.51 C202.15,170.64 209.23,191.25 209,200.21 C208.77,209.18 200.15,240.5 197,243.37 C193.85,246.24 183.75,233.98 182,224.81 C180.25,215.65 180.02,171.61 182,164.81Z" fill="#b0c460"/><path d="M72,204.07 C78.33,207.85 94.5,223.9 107,237.03 C119.5,250.16 139,272.79 147,282.85 C155,292.91 156.67,297.7 155,297.41 C153.33,297.13 146.67,289.99 137,281.14 C127.33,272.3 108.33,255.46 97,244.33 C85.67,233.2 73.17,221.07 69,214.36 C64.83,207.65 65.67,200.29 72,204.07Z" fill="#d8c34a"/><path d="M97,298.33 C100.33,295.23 117.83,294.88 127,295.44 C136.17,296 150.33,299.42 152,301.7 C153.67,303.98 144.5,307.09 137,309.14 C129.5,311.2 113.67,315.84 107,314.03 C100.33,312.23 93.67,301.43 97,298.33Z" fill="#d8c34a"/><path d="M165,235.12 C166.67,227.73 172.67,227.82 175,235.82 C177.33,243.82 179.67,272.65 179,283.1 C178.33,293.55 173.33,299.04 171,298.54 C168.67,298.04 166,290.69 165,280.12 C164,269.55 163.33,242.5 165,235.12Z" fill="#d8c34a"/><path d="M187,227.66 C188.17,221.33 195.33,221.75 199,222.51 C202.67,223.27 210.17,225.88 209,232.21 C207.83,238.55 195.67,261.27 192,260.52 C188.33,259.76 185.83,234 187,227.66Z" fill="#d8c34a"/><path d="M163,308.98 C158.67,302.34 148,283.75 137,269.14 C126,254.54 110.33,235.6 97,221.33 C83.67,207.06 63.67,189.82 57,183.51" fill="none" stroke="#30a8c0" stroke-width="2.4" opacity="0.7"/><path d="M163,308.98 C157,308.05 139.67,303.17 127,303.44 C114.33,303.72 93.67,309.43 87,310.62" fill="none" stroke="#30a8c0" stroke-width="2.4" opacity="0.7"/><path d="M163,308.98 C162,300.9 158.83,279.1 157,260.55 C155.17,242.01 153.17,220.03 152,197.7 C150.83,175.37 150.33,138.42 150,126.56" fill="none" stroke="#30a8c0" stroke-width="2.4" opacity="0.7"/><path d="M165,309.12 C168.67,303.87 179.17,288.86 187,277.66 C194.83,266.47 203.67,252.17 212,241.92 C220.33,231.68 232.83,220.47 237,216.18" fill="none" stroke="#30a8c0" stroke-width="2.4" opacity="0.7"/><path d="M163.3,311.05 C164.75,317.39 169.22,336.17 172,349.11 C174.78,362.05 177.3,375.67 180,388.67 C182.7,401.68 186.83,420.74 188.2,427.15" fill="none" stroke="#3a6ae8" stroke-width="2.6"/><path d="M41,297.89 C43.67,299.16 52.1,303.1 57,305.51 C61.9,307.92 65.13,309.1 70.4,312.36 C75.67,315.61 84.83,320.26 88.6,325.04 C92.37,329.82 93,335.76 93,341.05 C93,346.33 87.93,354.52 88.6,356.74 C89.27,358.95 95.6,354.73 97,354.33" fill="none" stroke="#3040e0" stroke-width="4.0" stroke-linecap="round" stroke-linejoin="round"/><path d="M165.6,309.96 C167.87,310.5 173.53,311.82 179.2,313.22 C184.87,314.61 194.32,317.5 199.6,318.35 C204.88,319.2 205.62,317.53 210.9,318.3 C216.18,319.06 226.95,322.45 231.3,322.93 C235.65,323.41 236.05,321.48 237,321.18" fill="none" stroke="#3040e0" stroke-width="3.4" stroke-linecap="round" stroke-linejoin="round"/><path d="M160,314.26 C160.5,319.22 162,334.57 163,343.98 C164,353.38 164.67,361.59 166,370.69 C167.33,379.78 169,389.56 171,398.54 C173,407.51 176.83,420.2 178,424.53" fill="none" stroke="#3040e0" stroke-width="3.0" stroke-linecap="round" stroke-linejoin="round"/><path d="M36,145.53 C36.33,148.72 37.17,157.87 38,164.68 C38.83,171.48 40.5,182.77 41,186.39" fill="none" stroke="#3040e0" stroke-width="3.0" stroke-linecap="round" stroke-linejoin="round"/></g></g></g>
<clipPath id="clipa0"><path d="M838,488.6H943.5L834.6,551.9H729.1Z"/></clipPath><g clip-path="url(#clipa0)"><g transform="matrix(0.37,0,-0.25444,0.14790,838,488.6)"><g filter="url(#blur1)"><rect x="-20" y="-20" width="330" height="480" fill="#f0c53a"/><path d="M-8,266.44 C-3.1,251.58 35.3,289.64 41,297.89 C46.7,306.14 46.9,338.6 49,348.95 C51.1,359.3 59.8,391.61 62,401.36 C64.2,411.12 70.5,437.71 71,446.5 C71.5,455.28 74.9,489.22 67,489.22 C59.1,489.21 -0.5,468.71 -8,446.44 C-15.5,424.16 -12.9,281.29 -8,266.44Z" fill="#44b8a4"/><path d="M27,361.4 C33,358.52 53.75,366.66 62,374.36 C70.25,382.07 80.5,402.62 82,412.77 C83.5,422.93 78.75,439.17 72,442.07 C65.25,444.97 44.5,439.38 37,432.1 C29.5,424.83 23.5,404.15 22,393.55 C20.5,382.94 21,364.28 27,361.4Z" fill="#a8c860"/><path d="M-8,396.44 C-4.25,391.68 9.5,407.72 17,414.7 C24.5,421.67 36,432.63 42,442.96 C48,453.28 64.5,482.99 57,483.51 C49.5,484.03 1.75,459.5 -8,446.44 C-17.75,433.38 -11.75,401.2 -8,396.44Z" fill="#3548dc"/><path d="M-8,117.44 C-3.55,98.65 31.6,137.02 36.5,143.52 C41.4,150.01 39.87,175.41 41,182.39 C42.13,189.36 45.76,207.12 47.8,213.27 C49.84,219.41 59.36,238.56 61.4,243.82 C63.44,249.09 69.11,261.44 68.2,265.9 C67.29,270.36 55.02,285.23 52.3,288.43 C49.58,291.63 43.53,294.09 41,297.89 C38.47,301.68 31.9,323.05 27,326.4 C22.1,329.76 -4.5,352.33 -8,331.44 C-11.5,310.54 -12.45,136.23 -8,117.44Z" fill="#38b6aa"/><path d="M17,140.7 C19.33,131.36 31,139.68 35,146.96 C39,154.25 39.33,172.77 41,184.39 C42.67,196 45.67,207.05 45,216.67 C44.33,226.29 40.33,237.34 37,242.1 C33.67,246.87 27.67,251.78 25,245.26 C22.33,238.74 22.33,220.41 21,202.98 C19.67,185.55 14.67,150.03 17,140.7Z" fill="#2a9ccc" opacity="0.85"/><path d="M-13,-0.42 C12.17,-10.31 263.58,-31.65 289,-4.15 C314.42,23.34 293,303.13 292,329.56 C291,355.99 279.42,316.63 277,313 C274.58,309.37 265.33,289.68 263,286.02 C260.67,282.35 255.33,273.39 249,269.03 C242.67,264.67 198.5,239.47 187,233.66 C175.5,227.86 119.33,204.15 111,199.31 C102.67,194.48 92.33,179.83 87,175.62 C81.67,171.42 52.83,152.64 47,148.81 C41.17,144.98 22,132.55 17,129.7 C12,126.84 -10.5,125.43 -13,114.58 C-15.5,103.74 -38.17,9.48 -13,-0.42Z" fill="#3b5fe8"/><path d="M252,264.74 C255.83,265.26 266.67,279.77 272,286.15 C277.33,292.52 282,295.19 284,302.99 C286,310.8 286.83,330.94 284,332.99 C281.17,335.04 272.83,323.62 267,315.3 C261.17,306.97 251.5,291.46 249,283.03 C246.5,274.6 248.17,264.22 252,264.74Z" fill="#3b6ae8"/><path d="M12,28.84 C12.83,13.65 15.33,24.75 17,25.7 C18.67,26.65 21.17,18.41 22,34.55 C22.83,50.69 22.83,107.36 22,122.55 C21.17,137.74 18.67,126.65 17,125.7 C15.33,124.75 12.83,132.99 12,116.84 C11.17,100.7 11.17,44.04 12,28.84Z" fill="#3c88ee" opacity="0.7"/><path d="M58,35.08 C58.67,17.3 60.67,30.6 62,31.36 C63.33,32.13 65.33,21.1 66,39.65 C66.67,58.19 66.67,124.86 66,142.65 C65.33,160.43 63.33,147.13 62,146.36 C60.67,145.6 58.67,156.63 58,138.08 C57.33,119.54 57.33,52.87 58,35.08Z" fill="#3b76ec" opacity="0.8"/><path d="M94.5,25.9 C95.25,6.5 97.5,21.61 99,22.47 C100.5,23.33 102.75,10.78 103.5,31.04 C104.25,51.3 104.25,124.63 103.5,144.04 C102.75,163.44 100.5,148.33 99,147.47 C97.5,146.61 95.25,159.16 94.5,138.9 C93.75,118.64 93.75,45.31 94.5,25.9Z" fill="#3c88ee" opacity="0.6"/><path d="M123,-7.84 C123.67,-18.96 125.67,-12.32 127,-11.56 C128.33,-10.8 130.33,-15.16 131,-3.28 C131.67,8.6 131.67,48.6 131,59.72 C130.33,70.84 128.33,64.2 127,63.44 C125.67,62.68 123.67,67.04 123,55.16 C122.33,43.28 122.33,3.28 123,-7.84Z" fill="#3b76ec" opacity="0.7"/><path d="M222,-14.37 C222.83,-25.9 225.33,-18.47 227,-17.52 C228.67,-16.57 231.17,-21.14 232,-8.67 C232.83,3.81 232.83,45.81 232,57.33 C231.17,68.86 228.67,61.43 227,60.48 C225.33,59.53 222.83,64.1 222,51.63 C221.17,39.15 221.17,-2.85 222,-14.37Z" fill="#3c88ee" opacity="0.7"/><path d="M270,6.01 C270.67,-33.45 272.67,1.53 274,2.29 C275.33,3.05 277.33,-29.64 278,10.57 C278.67,50.78 278.67,204.12 278,243.57 C277.33,283.02 275.33,248.05 274,247.29 C272.67,246.53 270.67,279.22 270,239.01 C269.33,198.79 269.33,45.46 270,6.01Z" fill="#3b76ec" opacity="0.8"/><path d="M36,67.53 C36.5,55.49 38,62.68 39,63.25 C40,63.82 41.5,58.34 42,70.96 C42.5,83.58 42.5,126.91 42,138.96 C41.5,151 40,143.82 39,143.25 C38,142.68 36.5,148.15 36,135.53 C35.5,122.92 35.5,79.58 36,67.53Z" fill="#3a4ad8" opacity="0.5"/><path d="M79.5,32.35 C79.92,11.92 81.17,27.3 82,27.77 C82.83,28.25 84.08,14.29 84.5,35.2 C84.92,56.1 84.92,132.77 84.5,153.2 C84.08,173.63 82.83,158.25 82,157.77 C81.17,157.3 79.92,171.25 79.5,150.35 C79.08,129.44 79.08,52.78 79.5,32.35Z" fill="#3a4ad8" opacity="0.4"/><path d="M262,96.44 C262.5,67.73 264,91.59 265,92.16 C266,92.73 267.5,70.58 268,99.87 C268.5,129.15 268.5,239.15 268,267.87 C267.5,296.58 266,272.73 265,272.16 C264,271.59 262.5,293.73 262,264.44 C261.5,235.16 261.5,125.16 262,96.44Z" fill="#3a4ad8" opacity="0.5"/><path d="M172,-15.89 C176.5,-22.32 200.45,-13.91 212,-8.08 C223.55,-2.24 244.5,13.71 249,23.03 C253.5,32.35 247.55,48.2 242,54.04 C236.45,59.87 221,64.81 212,61.92 C203,59.04 188,46.49 182,34.81 C176,23.14 167.5,-9.46 172,-15.89Z" fill="#3c88ee"/><path d="M7,34.99 C13.3,29.14 35,36.71 47,39.81 C59,42.9 80.25,47.57 87,55.62 C93.75,63.67 95,83.94 92,93.48 C89,103.02 76.75,117.28 67,119.22 C57.25,121.16 36.3,112.46 27,106.4 C17.7,100.35 8,89.56 5,78.85 C2,68.14 0.7,40.85 7,34.99Z" fill="#3c88ee"/><path d="M259,-1.27 C262.75,-8.13 280.25,-11.15 284,2.99 C287.75,17.13 286.25,79.28 284,92.99 C281.75,106.71 272.75,101.08 269,94.44 C265.25,87.8 260.5,63.09 259,48.73 C257.5,34.38 255.25,5.59 259,-1.27Z" fill="#3c88ee"/><path d="M47,-32.19 C54.5,-36.91 86.5,-31.16 97,-23.67 C107.5,-16.18 118.5,9.59 117,17.74 C115.5,25.88 97.5,32.11 87,30.62 C76.5,29.14 53,17.23 47,7.81 C41,-1.61 39.5,-27.47 47,-32.19Z" fill="#3b76ec"/><path d="M179,61.1 C181.68,57.97 195,58.46 202,62.22 C209,65.98 235.73,85.98 239,93.33 C242.27,100.67 233.27,118.42 230,125.19 C226.73,131.96 214.73,146.6 211,151.35 C207.27,156.11 200.1,166.9 198,165.94 C195.9,164.97 193.93,149.34 193,143.09 C192.07,136.84 191.63,118.67 190,112.38 C188.37,106.08 180.28,95.08 179,89.1 C177.72,83.12 176.32,64.24 179,61.1Z" fill="#3a4ad8"/><path d="M135,33 C138.5,32.43 144.42,46.48 145,51.71 C145.58,56.94 141.28,71.82 140,77.86 C138.72,83.89 136.22,100.03 134,103.43 C131.78,106.84 123.22,101.17 121,107.02 C118.78,112.87 115.47,144.41 115,153.6 C114.53,162.78 117.47,180.64 117,185.74 C116.53,190.84 113.57,197.85 111,197.31 C108.43,196.78 96.63,187.14 95,181.19 C93.37,175.24 95.95,155.76 97,146.33 C98.05,136.89 101.9,110.79 104,100.32 C106.1,89.85 111.38,64.45 115,56.6 C118.62,48.74 131.5,33.57 135,33Z" fill="#3a52e0"/><path d="M150.6,38 C151.62,39.1 159.25,65.28 161.1,68.89 C162.95,72.5 176.39,89.22 178.3,92.1 C180.21,94.98 188.84,107.81 189.8,112.06 C190.76,116.32 192.12,152.27 192.7,155.92 C193.28,159.57 197.29,167.16 198.5,166.82 C199.71,166.49 208.8,153.66 210.9,150.9 C213,148.14 227.57,128.73 230,125.39 C232.43,122.05 245.31,103.46 247.3,100.76 C249.29,98.06 259.23,84.56 259.8,84.89 C260.37,85.22 256.54,100.66 255.9,105.67 C255.26,110.67 250.77,153.21 250.2,159.91 C249.63,166.61 247.37,200.45 247.3,206.16 C247.23,211.87 248.31,242.09 249.2,245.54 C250.09,248.99 260.31,256.4 260.7,257.9 C261.09,259.4 255.91,266.76 255,268.05 C254.09,269.34 248.53,275.63 247.1,277.25 C245.67,278.86 235.11,290.08 233.6,292.25 C232.09,294.41 224.65,307.78 224.5,309.65 C224.35,311.53 232.21,319.94 231.3,320.33 C230.39,320.72 213.01,315.8 210.9,315.5 C208.79,315.2 201.71,316.15 199.6,315.85 C197.49,315.55 181.47,311.56 179.2,311.02 C176.93,310.48 166.81,307.84 165.6,307.76 C164.39,307.67 161.91,309.04 161,309.73 C160.09,310.43 153.81,316.82 152,318.2 C150.19,319.58 136.47,328.92 133.9,330.48 C131.33,332.03 115.61,340.03 113.5,341.54 C111.39,343.05 103.86,352.18 102.2,353.19 C100.54,354.21 89.21,357.55 88.6,356.74 C87.99,355.93 93,343.16 93,341.05 C93,338.93 90.11,326.95 88.6,325.04 C87.09,323.12 73.57,314.17 70.4,312.36 C67.23,310.55 42.21,299.48 41,297.89 C39.79,296.29 50.64,289.75 52.3,288.43 C53.96,287.11 64.84,279.59 65.9,278.09 C66.96,276.59 68.5,268.19 68.2,265.9 C67.9,263.62 62.76,247.33 61.4,243.82 C60.04,240.31 49.16,217.36 47.8,213.27 C46.44,209.17 41.75,187.04 41,182.39 C40.25,177.74 34.23,144.49 36.5,143.52 C38.77,142.55 70.47,164.74 75,167.78 C79.53,170.82 101.98,187.07 104.4,189.05 C106.82,191.03 110.46,197.73 111.3,197.49 C112.14,197.24 116.75,188.35 117,185.44 C117.25,182.52 115.1,157.33 115.1,153.75 C115.1,150.18 116.61,134.94 117,131.84 C117.39,128.74 119.75,109.16 120.9,107.26 C122.05,105.37 133.03,105.37 134.3,103.4 C135.57,101.44 139.23,81.25 140,77.86 C140.77,74.46 145.09,55.12 145.8,52.46 C146.51,49.81 149.58,36.91 150.6,38Z" fill="#42bca2"/><path d="M150.6,38 C152.38,39.92 157.87,62.58 161.1,68.89 C164.33,75.2 174.95,87.07 178.3,92.1 C181.65,97.14 188.12,104.62 189.8,112.06 C191.48,119.51 193.03,148.85 192.7,155.92 C192.37,162.99 189.41,170.54 187,172.66 C184.59,174.79 175.5,176.69 172,174.11 C168.5,171.53 159.92,156.88 157,150.55 C154.08,144.22 149.1,126.88 147,119.85 C144.9,112.82 139.14,98.15 139,90.29 C138.86,82.42 144.45,58.56 145.8,52.46 C147.15,46.36 148.81,36.09 150.6,38Z" fill="#2eb5ba"/><path d="M259.8,84.89 C260.8,85.46 257.02,96.91 255.9,105.67 C254.78,114.42 251.47,149.99 250.2,159.91 C248.93,169.84 247.71,186.02 245,190.75 C242.29,195.48 231.2,199.96 227,200.48 C222.8,201 212.32,199.14 209,195.21 C205.68,191.29 198.28,171.99 198.5,166.82 C198.72,161.65 207.22,155.73 210.9,150.9 C214.58,146.06 225.75,131.24 230,125.39 C234.25,119.54 243.82,105.49 247.3,100.76 C250.78,96.03 258.8,84.32 259.8,84.89Z" fill="#2eb5ba"/><path d="M259.8,84.89 C260.8,85.46 256.81,99.85 255.9,105.67 C254.99,111.48 253.62,132.01 252,134.74 C250.38,137.47 242.55,133 242,129.04 C241.45,125.07 245.22,105.91 247.3,100.76 C249.38,95.61 258.8,84.32 259.8,84.89Z" fill="#9cc46c"/><path d="M134.3,103.4 C137.34,104.29 144.35,109.35 147,114.85 C149.65,120.35 154.9,142.35 157,150.55 C159.1,158.75 164.42,177.2 165,185.12 C165.58,193.03 164.1,213.77 162,218.4 C159.9,223.04 151.08,226.01 147,224.85 C142.92,223.69 130.73,216.75 127,208.44 C123.27,200.13 116.17,162.53 115,153.6 C113.83,144.66 116.31,137.24 117,131.84 C117.69,126.43 118.88,110.58 120.9,107.26 C122.92,103.94 131.26,102.52 134.3,103.4Z" fill="#4abca8"/><path d="M209,195.21 C214.6,193.97 240.31,186.88 245,192.75 C249.69,198.62 247.37,237.94 249.2,245.54 C251.03,253.15 260.02,255.28 260.7,257.9 C261.38,260.53 257.18,265.59 255,268.05 C252.82,270.52 245.27,277 242,279.04 C238.73,281.07 231.67,286.04 227,285.48 C222.33,284.92 206.08,279.47 202,274.22 C197.92,268.97 192.58,248.78 192,240.52 C191.42,232.25 195.02,208.65 197,203.37 C198.98,198.08 203.4,196.45 209,195.21Z" fill="#8cc274"/><path d="M36.5,143.52 C40.47,141.82 67.08,162.47 75,167.78 C82.92,173.09 100.17,185.58 104.4,189.05 C108.64,192.52 108.66,195.22 111.3,197.49 C113.94,199.75 122.83,205.25 127,208.44 C131.16,211.63 142.92,223.1 147,224.85 C151.08,226.59 158.5,220.24 162,223.4 C165.5,226.57 174.08,244.46 177,251.96 C179.92,259.46 186.74,280.78 187,287.66 C187.26,294.55 181.7,308.67 179.2,311.02 C176.7,313.36 167.72,307.91 165.6,307.76 C163.48,307.61 162.59,308.52 161,309.73 C159.41,310.95 155.16,315.78 152,318.2 C148.84,320.62 138.39,327.75 133.9,330.48 C129.41,333.2 117.2,338.89 113.5,341.54 C109.8,344.19 105.11,351.42 102.2,353.19 C99.3,354.97 89.67,358.15 88.6,356.74 C87.53,355.32 93,344.75 93,341.05 C93,337.35 91.24,328.38 88.6,325.04 C85.96,321.69 75.95,315.52 70.4,312.36 C64.85,309.19 43.11,300.68 41,297.89 C38.89,295.1 49.39,290.74 52.3,288.43 C55.2,286.12 64.05,280.72 65.9,278.09 C67.76,275.46 68.73,269.9 68.2,265.9 C67.67,261.9 63.78,249.96 61.4,243.82 C59.02,237.68 50.18,220.43 47.8,213.27 C45.42,206.1 42.32,190.52 41,182.39 C39.68,174.25 32.53,145.22 36.5,143.52Z" fill="#5cbf90"/><path d="M187,267.66 C192.25,267.74 221.56,282.61 227,285.48 C232.44,288.35 233.89,289.43 233.6,292.25 C233.31,295.07 224.77,306.38 224.5,309.65 C224.23,312.93 234.21,319.61 231.3,320.33 C228.4,321.06 205.68,316.94 199.6,315.85 C193.52,314.76 181.25,314.64 179.2,311.02 C177.15,307.39 181.09,289.87 182,284.81 C182.91,279.76 181.75,267.59 187,267.66Z" fill="#c8c24c"/><path d="M182,164.81 C183.98,158.01 195.85,162.38 199,166.51 C202.15,170.64 209.23,191.25 209,200.21 C208.77,209.18 200.15,240.5 197,243.37 C193.85,246.24 183.75,233.98 182,224.81 C180.25,215.65 180.02,171.61 182,164.81Z" fill="#b0c460"/><path d="M72,204.07 C78.33,207.85 94.5,223.9 107,237.03 C119.5,250.16 139,272.79 147,282.85 C155,292.91 156.67,297.7 155,297.41 C153.33,297.13 146.67,289.99 137,281.14 C127.33,272.3 108.33,255.46 97,244.33 C85.67,233.2 73.17,221.07 69,214.36 C64.83,207.65 65.67,200.29 72,204.07Z" fill="#d8c34a"/><path d="M97,298.33 C100.33,295.23 117.83,294.88 127,295.44 C136.17,296 150.33,299.42 152,301.7 C153.67,303.98 144.5,307.09 137,309.14 C129.5,311.2 113.67,315.84 107,314.03 C100.33,312.23 93.67,301.43 97,298.33Z" fill="#d8c34a"/><path d="M165,235.12 C166.67,227.73 172.67,227.82 175,235.82 C177.33,243.82 179.67,272.65 179,283.1 C178.33,293.55 173.33,299.04 171,298.54 C168.67,298.04 166,290.69 165,280.12 C164,269.55 163.33,242.5 165,235.12Z" fill="#d8c34a"/><path d="M187,227.66 C188.17,221.33 195.33,221.75 199,222.51 C202.67,223.27 210.17,225.88 209,232.21 C207.83,238.55 195.67,261.27 192,260.52 C188.33,259.76 185.83,234 187,227.66Z" fill="#d8c34a"/><path d="M163,308.98 C158.67,302.34 148,283.75 137,269.14 C126,254.54 110.33,235.6 97,221.33 C83.67,207.06 63.67,189.82 57,183.51" fill="none" stroke="#30a8c0" stroke-width="2.4" opacity="0.7"/><path d="M163,308.98 C157,308.05 139.67,303.17 127,303.44 C114.33,303.72 93.67,309.43 87,310.62" fill="none" stroke="#30a8c0" stroke-width="2.4" opacity="0.7"/><path d="M163,308.98 C162,300.9 158.83,279.1 157,260.55 C155.17,242.01 153.17,220.03 152,197.7 C150.83,175.37 150.33,138.42 150,126.56" fill="none" stroke="#30a8c0" stroke-width="2.4" opacity="0.7"/><path d="M165,309.12 C168.67,303.87 179.17,288.86 187,277.66 C194.83,266.47 203.67,252.17 212,241.92 C220.33,231.68 232.83,220.47 237,216.18" fill="none" stroke="#30a8c0" stroke-width="2.4" opacity="0.7"/><path d="M163.3,311.05 C164.75,317.39 169.22,336.17 172,349.11 C174.78,362.05 177.3,375.67 180,388.67 C182.7,401.68 186.83,420.74 188.2,427.15" fill="none" stroke="#3a6ae8" stroke-width="2.6"/><path d="M41,297.89 C43.67,299.16 52.1,303.1 57,305.51 C61.9,307.92 65.13,309.1 70.4,312.36 C75.67,315.61 84.83,320.26 88.6,325.04 C92.37,329.82 93,335.76 93,341.05 C93,346.33 87.93,354.52 88.6,356.74 C89.27,358.95 95.6,354.73 97,354.33" fill="none" stroke="#3040e0" stroke-width="4.0" stroke-linecap="round" stroke-linejoin="round"/><path d="M165.6,309.96 C167.87,310.5 173.53,311.82 179.2,313.22 C184.87,314.61 194.32,317.5 199.6,318.35 C204.88,319.2 205.62,317.53 210.9,318.3 C216.18,319.06 226.95,322.45 231.3,322.93 C235.65,323.41 236.05,321.48 237,321.18" fill="none" stroke="#3040e0" stroke-width="3.4" stroke-linecap="round" stroke-linejoin="round"/><path d="M160,314.26 C160.5,319.22 162,334.57 163,343.98 C164,353.38 164.67,361.59 166,370.69 C167.33,379.78 169,389.56 171,398.54 C173,407.51 176.83,420.2 178,424.53" fill="none" stroke="#3040e0" stroke-width="3.0" stroke-linecap="round" stroke-linejoin="round"/><path d="M36,145.53 C36.33,148.72 37.17,157.87 38,164.68 C38.83,171.48 40.5,182.77 41,186.39" fill="none" stroke="#3040e0" stroke-width="3.0" stroke-linecap="round" stroke-linejoin="round"/></g></g></g>
<circle cx="817.8" cy="602.9" r="2.8" fill="#000"/>
<circle cx="817.8" cy="613.5" r="2.8" fill="#000"/>
<circle cx="817.8" cy="624.5" r="2.8" fill="#000"/>
<clipPath id="clipb2"><path d="M214.8,1005H341.1L210.5,1079.7H84.2Z"/></clipPath><g clip-path="url(#clipb2)"><g transform="matrix(0.44,0,-0.30514,0.17453,214.8,1005)"><g filter="url(#blur1)"><rect x="-20" y="-20" width="330" height="480" fill="#f0c53a"/><path d="M-8,266.44 C-3.1,251.58 35.3,289.64 41,297.89 C46.7,306.14 46.9,338.6 49,348.95 C51.1,359.3 59.8,391.61 62,401.36 C64.2,411.12 70.5,437.71 71,446.5 C71.5,455.28 74.9,489.22 67,489.22 C59.1,489.21 -0.5,468.71 -8,446.44 C-15.5,424.16 -12.9,281.29 -8,266.44Z" fill="#44b8a4"/><path d="M27,361.4 C33,358.52 53.75,366.66 62,374.36 C70.25,382.07 80.5,402.62 82,412.77 C83.5,422.93 78.75,439.17 72,442.07 C65.25,444.97 44.5,439.38 37,432.1 C29.5,424.83 23.5,404.15 22,393.55 C20.5,382.94 21,364.28 27,361.4Z" fill="#a8c860"/><path d="M-8,396.44 C-4.25,391.68 9.5,407.72 17,414.7 C24.5,421.67 36,432.63 42,442.96 C48,453.28 64.5,482.99 57,483.51 C49.5,484.03 1.75,459.5 -8,446.44 C-17.75,433.38 -11.75,401.2 -8,396.44Z" fill="#3548dc"/><path d="M-8,117.44 C-3.55,98.65 31.6,137.02 36.5,143.52 C41.4,150.01 39.87,175.41 41,182.39 C42.13,189.36 45.76,207.12 47.8,213.27 C49.84,219.41 59.36,238.56 61.4,243.82 C63.44,249.09 69.11,261.44 68.2,265.9 C67.29,270.36 55.02,285.23 52.3,288.43 C49.58,291.63 43.53,294.09 41,297.89 C38.47,301.68 31.9,323.05 27,326.4 C22.1,329.76 -4.5,352.33 -8,331.44 C-11.5,310.54 -12.45,136.23 -8,117.44Z" fill="#38b6aa"/><path d="M17,140.7 C19.33,131.36 31,139.68 35,146.96 C39,154.25 39.33,172.77 41,184.39 C42.67,196 45.67,207.05 45,216.67 C44.33,226.29 40.33,237.34 37,242.1 C33.67,246.87 27.67,251.78 25,245.26 C22.33,238.74 22.33,220.41 21,202.98 C19.67,185.55 14.67,150.03 17,140.7Z" fill="#2a9ccc" opacity="0.85"/><path d="M-13,-0.42 C12.17,-10.31 263.58,-31.65 289,-4.15 C314.42,23.34 293,303.13 292,329.56 C291,355.99 279.42,316.63 277,313 C274.58,309.37 265.33,289.68 263,286.02 C260.67,282.35 255.33,273.39 249,269.03 C242.67,264.67 198.5,239.47 187,233.66 C175.5,227.86 119.33,204.15 111,199.31 C102.67,194.48 92.33,179.83 87,175.62 C81.67,171.42 52.83,152.64 47,148.81 C41.17,144.98 22,132.55 17,129.7 C12,126.84 -10.5,125.43 -13,114.58 C-15.5,103.74 -38.17,9.48 -13,-0.42Z" fill="#3b5fe8"/><path d="M252,264.74 C255.83,265.26 266.67,279.77 272,286.15 C277.33,292.52 282,295.19 284,302.99 C286,310.8 286.83,330.94 284,332.99 C281.17,335.04 272.83,323.62 267,315.3 C261.17,306.97 251.5,291.46 249,283.03 C246.5,274.6 248.17,264.22 252,264.74Z" fill="#3b6ae8"/><path d="M12,28.84 C12.83,13.65 15.33,24.75 17,25.7 C18.67,26.65 21.17,18.41 22,34.55 C22.83,50.69 22.83,107.36 22,122.55 C21.17,137.74 18.67,126.65 17,125.7 C15.33,124.75 12.83,132.99 12,116.84 C11.17,100.7 11.17,44.04 12,28.84Z" fill="#3c88ee" opacity="0.7"/><path d="M58,35.08 C58.67,17.3 60.67,30.6 62,31.36 C63.33,32.13 65.33,21.1 66,39.65 C66.67,58.19 66.67,124.86 66,142.65 C65.33,160.43 63.33,147.13 62,146.36 C60.67,145.6 58.67,156.63 58,138.08 C57.33,119.54 57.33,52.87 58,35.08Z" fill="#3b76ec" opacity="0.8"/><path d="M94.5,25.9 C95.25,6.5 97.5,21.61 99,22.47 C100.5,23.33 102.75,10.78 103.5,31.04 C104.25,51.3 104.25,124.63 103.5,144.04 C102.75,163.44 100.5,148.33 99,147.47 C97.5,146.61 95.25,159.16 94.5,138.9 C93.75,118.64 93.75,45.31 94.5,25.9Z" fill="#3c88ee" opacity="0.6"/><path d="M123,-7.84 C123.67,-18.96 125.67,-12.32 127,-11.56 C128.33,-10.8 130.33,-15.16 131,-3.28 C131.67,8.6 131.67,48.6 131,59.72 C130.33,70.84 128.33,64.2 127,63.44 C125.67,62.68 123.67,67.04 123,55.16 C122.33,43.28 122.33,3.28 123,-7.84Z" fill="#3b76ec" opacity="0.7"/><path d="M222,-14.37 C222.83,-25.9 225.33,-18.47 227,-17.52 C228.67,-16.57 231.17,-21.14 232,-8.67 C232.83,3.81 232.83,45.81 232,57.33 C231.17,68.86 228.67,61.43 227,60.48 C225.33,59.53 222.83,64.1 222,51.63 C221.17,39.15 221.17,-2.85 222,-14.37Z" fill="#3c88ee" opacity="0.7"/><path d="M270,6.01 C270.67,-33.45 272.67,1.53 274,2.29 C275.33,3.05 277.33,-29.64 278,10.57 C278.67,50.78 278.67,204.12 278,243.57 C277.33,283.02 275.33,248.05 274,247.29 C272.67,246.53 270.67,279.22 270,239.01 C269.33,198.79 269.33,45.46 270,6.01Z" fill="#3b76ec" opacity="0.8"/><path d="M36,67.53 C36.5,55.49 38,62.68 39,63.25 C40,63.82 41.5,58.34 42,70.96 C42.5,83.58 42.5,126.91 42,138.96 C41.5,151 40,143.82 39,143.25 C38,142.68 36.5,148.15 36,135.53 C35.5,122.92 35.5,79.58 36,67.53Z" fill="#3a4ad8" opacity="0.5"/><path d="M79.5,32.35 C79.92,11.92 81.17,27.3 82,27.77 C82.83,28.25 84.08,14.29 84.5,35.2 C84.92,56.1 84.92,132.77 84.5,153.2 C84.08,173.63 82.83,158.25 82,157.77 C81.17,157.3 79.92,171.25 79.5,150.35 C79.08,129.44 79.08,52.78 79.5,32.35Z" fill="#3a4ad8" opacity="0.4"/><path d="M262,96.44 C262.5,67.73 264,91.59 265,92.16 C266,92.73 267.5,70.58 268,99.87 C268.5,129.15 268.5,239.15 268,267.87 C267.5,296.58 266,272.73 265,272.16 C264,271.59 262.5,293.73 262,264.44 C261.5,235.16 261.5,125.16 262,96.44Z" fill="#3a4ad8" opacity="0.5"/><path d="M172,-15.89 C176.5,-22.32 200.45,-13.91 212,-8.08 C223.55,-2.24 244.5,13.71 249,23.03 C253.5,32.35 247.55,48.2 242,54.04 C236.45,59.87 221,64.81 212,61.92 C203,59.04 188,46.49 182,34.81 C176,23.14 167.5,-9.46 172,-15.89Z" fill="#3c88ee"/><path d="M7,34.99 C13.3,29.14 35,36.71 47,39.81 C59,42.9 80.25,47.57 87,55.62 C93.75,63.67 95,83.94 92,93.48 C89,103.02 76.75,117.28 67,119.22 C57.25,121.16 36.3,112.46 27,106.4 C17.7,100.35 8,89.56 5,78.85 C2,68.14 0.7,40.85 7,34.99Z" fill="#3c88ee"/><path d="M259,-1.27 C262.75,-8.13 280.25,-11.15 284,2.99 C287.75,17.13 286.25,79.28 284,92.99 C281.75,106.71 272.75,101.08 269,94.44 C265.25,87.8 260.5,63.09 259,48.73 C257.5,34.38 255.25,5.59 259,-1.27Z" fill="#3c88ee"/><path d="M47,-32.19 C54.5,-36.91 86.5,-31.16 97,-23.67 C107.5,-16.18 118.5,9.59 117,17.74 C115.5,25.88 97.5,32.11 87,30.62 C76.5,29.14 53,17.23 47,7.81 C41,-1.61 39.5,-27.47 47,-32.19Z" fill="#3b76ec"/><path d="M179,61.1 C181.68,57.97 195,58.46 202,62.22 C209,65.98 235.73,85.98 239,93.33 C242.27,100.67 233.27,118.42 230,125.19 C226.73,131.96 214.73,146.6 211,151.35 C207.27,156.11 200.1,166.9 198,165.94 C195.9,164.97 193.93,149.34 193,143.09 C192.07,136.84 191.63,118.67 190,112.38 C188.37,106.08 180.28,95.08 179,89.1 C177.72,83.12 176.32,64.24 179,61.1Z" fill="#3a4ad8"/><path d="M135,33 C138.5,32.43 144.42,46.48 145,51.71 C145.58,56.94 141.28,71.82 140,77.86 C138.72,83.89 136.22,100.03 134,103.43 C131.78,106.84 123.22,101.17 121,107.02 C118.78,112.87 115.47,144.41 115,153.6 C114.53,162.78 117.47,180.64 117,185.74 C116.53,190.84 113.57,197.85 111,197.31 C108.43,196.78 96.63,187.14 95,181.19 C93.37,175.24 95.95,155.76 97,146.33 C98.05,136.89 101.9,110.79 104,100.32 C106.1,89.85 111.38,64.45 115,56.6 C118.62,48.74 131.5,33.57 135,33Z" fill="#3a52e0"/><path d="M150.6,38 C151.62,39.1 159.25,65.28 161.1,68.89 C162.95,72.5 176.39,89.22 178.3,92.1 C180.21,94.98 188.84,107.81 189.8,112.06 C190.76,116.32 192.12,152.27 192.7,155.92 C193.28,159.57 197.29,167.16 198.5,166.82 C199.71,166.49 208.8,153.66 210.9,150.9 C213,148.14 227.57,128.73 230,125.39 C232.43,122.05 245.31,103.46 247.3,100.76 C249.29,98.06 259.23,84.56 259.8,84.89 C260.37,85.22 256.54,100.66 255.9,105.67 C255.26,110.67 250.77,153.21 250.2,159.91 C249.63,166.61 247.37,200.45 247.3,206.16 C247.23,211.87 248.31,242.09 249.2,245.54 C250.09,248.99 260.31,256.4 260.7,257.9 C261.09,259.4 255.91,266.76 255,268.05 C254.09,269.34 248.53,275.63 247.1,277.25 C245.67,278.86 235.11,290.08 233.6,292.25 C232.09,294.41 224.65,307.78 224.5,309.65 C224.35,311.53 232.21,319.94 231.3,320.33 C230.39,320.72 213.01,315.8 210.9,315.5 C208.79,315.2 201.71,316.15 199.6,315.85 C197.49,315.55 181.47,311.56 179.2,311.02 C176.93,310.48 166.81,307.84 165.6,307.76 C164.39,307.67 161.91,309.04 161,309.73 C160.09,310.43 153.81,316.82 152,318.2 C150.19,319.58 136.47,328.92 133.9,330.48 C131.33,332.03 115.61,340.03 113.5,341.54 C111.39,343.05 103.86,352.18 102.2,353.19 C100.54,354.21 89.21,357.55 88.6,356.74 C87.99,355.93 93,343.16 93,341.05 C93,338.93 90.11,326.95 88.6,325.04 C87.09,323.12 73.57,314.17 70.4,312.36 C67.23,310.55 42.21,299.48 41,297.89 C39.79,296.29 50.64,289.75 52.3,288.43 C53.96,287.11 64.84,279.59 65.9,278.09 C66.96,276.59 68.5,268.19 68.2,265.9 C67.9,263.62 62.76,247.33 61.4,243.82 C60.04,240.31 49.16,217.36 47.8,213.27 C46.44,209.17 41.75,187.04 41,182.39 C40.25,177.74 34.23,144.49 36.5,143.52 C38.77,142.55 70.47,164.74 75,167.78 C79.53,170.82 101.98,187.07 104.4,189.05 C106.82,191.03 110.46,197.73 111.3,197.49 C112.14,197.24 116.75,188.35 117,185.44 C117.25,182.52 115.1,157.33 115.1,153.75 C115.1,150.18 116.61,134.94 117,131.84 C117.39,128.74 119.75,109.16 120.9,107.26 C122.05,105.37 133.03,105.37 134.3,103.4 C135.57,101.44 139.23,81.25 140,77.86 C140.77,74.46 145.09,55.12 145.8,52.46 C146.51,49.81 149.58,36.91 150.6,38Z" fill="#42bca2"/><path d="M150.6,38 C152.38,39.92 157.87,62.58 161.1,68.89 C164.33,75.2 174.95,87.07 178.3,92.1 C181.65,97.14 188.12,104.62 189.8,112.06 C191.48,119.51 193.03,148.85 192.7,155.92 C192.37,162.99 189.41,170.54 187,172.66 C184.59,174.79 175.5,176.69 172,174.11 C168.5,171.53 159.92,156.88 157,150.55 C154.08,144.22 149.1,126.88 147,119.85 C144.9,112.82 139.14,98.15 139,90.29 C138.86,82.42 144.45,58.56 145.8,52.46 C147.15,46.36 148.81,36.09 150.6,38Z" fill="#2eb5ba"/><path d="M259.8,84.89 C260.8,85.46 257.02,96.91 255.9,105.67 C254.78,114.42 251.47,149.99 250.2,159.91 C248.93,169.84 247.71,186.02 245,190.75 C242.29,195.48 231.2,199.96 227,200.48 C222.8,201 212.32,199.14 209,195.21 C205.68,191.29 198.28,171.99 198.5,166.82 C198.72,161.65 207.22,155.73 210.9,150.9 C214.58,146.06 225.75,131.24 230,125.39 C234.25,119.54 243.82,105.49 247.3,100.76 C250.78,96.03 258.8,84.32 259.8,84.89Z" fill="#2eb5ba"/><path d="M259.8,84.89 C260.8,85.46 256.81,99.85 255.9,105.67 C254.99,111.48 253.62,132.01 252,134.74 C250.38,137.47 242.55,133 242,129.04 C241.45,125.07 245.22,105.91 247.3,100.76 C249.38,95.61 258.8,84.32 259.8,84.89Z" fill="#9cc46c"/><path d="M134.3,103.4 C137.34,104.29 144.35,109.35 147,114.85 C149.65,120.35 154.9,142.35 157,150.55 C159.1,158.75 164.42,177.2 165,185.12 C165.58,193.03 164.1,213.77 162,218.4 C159.9,223.04 151.08,226.01 147,224.85 C142.92,223.69 130.73,216.75 127,208.44 C123.27,200.13 116.17,162.53 115,153.6 C113.83,144.66 116.31,137.24 117,131.84 C117.69,126.43 118.88,110.58 120.9,107.26 C122.92,103.94 131.26,102.52 134.3,103.4Z" fill="#4abca8"/><path d="M209,195.21 C214.6,193.97 240.31,186.88 245,192.75 C249.69,198.62 247.37,237.94 249.2,245.54 C251.03,253.15 260.02,255.28 260.7,257.9 C261.38,260.53 257.18,265.59 255,268.05 C252.82,270.52 245.27,277 242,279.04 C238.73,281.07 231.67,286.04 227,285.48 C222.33,284.92 206.08,279.47 202,274.22 C197.92,268.97 192.58,248.78 192,240.52 C191.42,232.25 195.02,208.65 197,203.37 C198.98,198.08 203.4,196.45 209,195.21Z" fill="#8cc274"/><path d="M36.5,143.52 C40.47,141.82 67.08,162.47 75,167.78 C82.92,173.09 100.17,185.58 104.4,189.05 C108.64,192.52 108.66,195.22 111.3,197.49 C113.94,199.75 122.83,205.25 127,208.44 C131.16,211.63 142.92,223.1 147,224.85 C151.08,226.59 158.5,220.24 162,223.4 C165.5,226.57 174.08,244.46 177,251.96 C179.92,259.46 186.74,280.78 187,287.66 C187.26,294.55 181.7,308.67 179.2,311.02 C176.7,313.36 167.72,307.91 165.6,307.76 C163.48,307.61 162.59,308.52 161,309.73 C159.41,310.95 155.16,315.78 152,318.2 C148.84,320.62 138.39,327.75 133.9,330.48 C129.41,333.2 117.2,338.89 113.5,341.54 C109.8,344.19 105.11,351.42 102.2,353.19 C99.3,354.97 89.67,358.15 88.6,356.74 C87.53,355.32 93,344.75 93,341.05 C93,337.35 91.24,328.38 88.6,325.04 C85.96,321.69 75.95,315.52 70.4,312.36 C64.85,309.19 43.11,300.68 41,297.89 C38.89,295.1 49.39,290.74 52.3,288.43 C55.2,286.12 64.05,280.72 65.9,278.09 C67.76,275.46 68.73,269.9 68.2,265.9 C67.67,261.9 63.78,249.96 61.4,243.82 C59.02,237.68 50.18,220.43 47.8,213.27 C45.42,206.1 42.32,190.52 41,182.39 C39.68,174.25 32.53,145.22 36.5,143.52Z" fill="#5cbf90"/><path d="M187,267.66 C192.25,267.74 221.56,282.61 227,285.48 C232.44,288.35 233.89,289.43 233.6,292.25 C233.31,295.07 224.77,306.38 224.5,309.65 C224.23,312.93 234.21,319.61 231.3,320.33 C228.4,321.06 205.68,316.94 199.6,315.85 C193.52,314.76 181.25,314.64 179.2,311.02 C177.15,307.39 181.09,289.87 182,284.81 C182.91,279.76 181.75,267.59 187,267.66Z" fill="#c8c24c"/><path d="M182,164.81 C183.98,158.01 195.85,162.38 199,166.51 C202.15,170.64 209.23,191.25 209,200.21 C208.77,209.18 200.15,240.5 197,243.37 C193.85,246.24 183.75,233.98 182,224.81 C180.25,215.65 180.02,171.61 182,164.81Z" fill="#b0c460"/><path d="M72,204.07 C78.33,207.85 94.5,223.9 107,237.03 C119.5,250.16 139,272.79 147,282.85 C155,292.91 156.67,297.7 155,297.41 C153.33,297.13 146.67,289.99 137,281.14 C127.33,272.3 108.33,255.46 97,244.33 C85.67,233.2 73.17,221.07 69,214.36 C64.83,207.65 65.67,200.29 72,204.07Z" fill="#d8c34a"/><path d="M97,298.33 C100.33,295.23 117.83,294.88 127,295.44 C136.17,296 150.33,299.42 152,301.7 C153.67,303.98 144.5,307.09 137,309.14 C129.5,311.2 113.67,315.84 107,314.03 C100.33,312.23 93.67,301.43 97,298.33Z" fill="#d8c34a"/><path d="M165,235.12 C166.67,227.73 172.67,227.82 175,235.82 C177.33,243.82 179.67,272.65 179,283.1 C178.33,293.55 173.33,299.04 171,298.54 C168.67,298.04 166,290.69 165,280.12 C164,269.55 163.33,242.5 165,235.12Z" fill="#d8c34a"/><path d="M187,227.66 C188.17,221.33 195.33,221.75 199,222.51 C202.67,223.27 210.17,225.88 209,232.21 C207.83,238.55 195.67,261.27 192,260.52 C188.33,259.76 185.83,234 187,227.66Z" fill="#d8c34a"/><path d="M163,308.98 C158.67,302.34 148,283.75 137,269.14 C126,254.54 110.33,235.6 97,221.33 C83.67,207.06 63.67,189.82 57,183.51" fill="none" stroke="#30a8c0" stroke-width="2.4" opacity="0.7"/><path d="M163,308.98 C157,308.05 139.67,303.17 127,303.44 C114.33,303.72 93.67,309.43 87,310.62" fill="none" stroke="#30a8c0" stroke-width="2.4" opacity="0.7"/><path d="M163,308.98 C162,300.9 158.83,279.1 157,260.55 C155.17,242.01 153.17,220.03 152,197.7 C150.83,175.37 150.33,138.42 150,126.56" fill="none" stroke="#30a8c0" stroke-width="2.4" opacity="0.7"/><path d="M165,309.12 C168.67,303.87 179.17,288.86 187,277.66 C194.83,266.47 203.67,252.17 212,241.92 C220.33,231.68 232.83,220.47 237,216.18" fill="none" stroke="#30a8c0" stroke-width="2.4" opacity="0.7"/><path d="M163.3,311.05 C164.75,317.39 169.22,336.17 172,349.11 C174.78,362.05 177.3,375.67 180,388.67 C182.7,401.68 186.83,420.74 188.2,427.15" fill="none" stroke="#3a6ae8" stroke-width="2.6"/><path d="M41,297.89 C43.67,299.16 52.1,303.1 57,305.51 C61.9,307.92 65.13,309.1 70.4,312.36 C75.67,315.61 84.83,320.26 88.6,325.04 C92.37,329.82 93,335.76 93,341.05 C93,346.33 87.93,354.52 88.6,356.74 C89.27,358.95 95.6,354.73 97,354.33" fill="none" stroke="#3040e0" stroke-width="4.0" stroke-linecap="round" stroke-linejoin="round"/><path d="M165.6,309.96 C167.87,310.5 173.53,311.82 179.2,313.22 C184.87,314.61 194.32,317.5 199.6,318.35 C204.88,319.2 205.62,317.53 210.9,318.3 C216.18,319.06 226.95,322.45 231.3,322.93 C235.65,323.41 236.05,321.48 237,321.18" fill="none" stroke="#3040e0" stroke-width="3.4" stroke-linecap="round" stroke-linejoin="round"/><path d="M160,314.26 C160.5,319.22 162,334.57 163,343.98 C164,353.38 164.67,361.59 166,370.69 C167.33,379.78 169,389.56 171,398.54 C173,407.51 176.83,420.2 178,424.53" fill="none" stroke="#3040e0" stroke-width="3.0" stroke-linecap="round" stroke-linejoin="round"/><path d="M36,145.53 C36.33,148.72 37.17,157.87 38,164.68 C38.83,171.48 40.5,182.77 41,186.39" fill="none" stroke="#3040e0" stroke-width="3.0" stroke-linecap="round" stroke-linejoin="round"/></g></g></g>
<clipPath id="clipb1"><path d="M214.8,899.9H341.1L210.5,974.6H84.2Z"/></clipPath><g clip-path="url(#clipb1)"><g transform="matrix(0.44,0,-0.30514,0.17453,214.8,899.9)"><g filter="url(#blur1)"><rect x="-20" y="-20" width="330" height="480" fill="#f0c53a"/><path d="M-8,266.44 C-3.1,251.58 35.3,289.64 41,297.89 C46.7,306.14 46.9,338.6 49,348.95 C51.1,359.3 59.8,391.61 62,401.36 C64.2,411.12 70.5,437.71 71,446.5 C71.5,455.28 74.9,489.22 67,489.22 C59.1,489.21 -0.5,468.71 -8,446.44 C-15.5,424.16 -12.9,281.29 -8,266.44Z" fill="#44b8a4"/><path d="M27,361.4 C33,358.52 53.75,366.66 62,374.36 C70.25,382.07 80.5,402.62 82,412.77 C83.5,422.93 78.75,439.17 72,442.07 C65.25,444.97 44.5,439.38 37,432.1 C29.5,424.83 23.5,404.15 22,393.55 C20.5,382.94 21,364.28 27,361.4Z" fill="#a8c860"/><path d="M-8,396.44 C-4.25,391.68 9.5,407.72 17,414.7 C24.5,421.67 36,432.63 42,442.96 C48,453.28 64.5,482.99 57,483.51 C49.5,484.03 1.75,459.5 -8,446.44 C-17.75,433.38 -11.75,401.2 -8,396.44Z" fill="#3548dc"/><path d="M-8,117.44 C-3.55,98.65 31.6,137.02 36.5,143.52 C41.4,150.01 39.87,175.41 41,182.39 C42.13,189.36 45.76,207.12 47.8,213.27 C49.84,219.41 59.36,238.56 61.4,243.82 C63.44,249.09 69.11,261.44 68.2,265.9 C67.29,270.36 55.02,285.23 52.3,288.43 C49.58,291.63 43.53,294.09 41,297.89 C38.47,301.68 31.9,323.05 27,326.4 C22.1,329.76 -4.5,352.33 -8,331.44 C-11.5,310.54 -12.45,136.23 -8,117.44Z" fill="#38b6aa"/><path d="M17,140.7 C19.33,131.36 31,139.68 35,146.96 C39,154.25 39.33,172.77 41,184.39 C42.67,196 45.67,207.05 45,216.67 C44.33,226.29 40.33,237.34 37,242.1 C33.67,246.87 27.67,251.78 25,245.26 C22.33,238.74 22.33,220.41 21,202.98 C19.67,185.55 14.67,150.03 17,140.7Z" fill="#2a9ccc" opacity="0.85"/><path d="M-13,-0.42 C12.17,-10.31 263.58,-31.65 289,-4.15 C314.42,23.34 293,303.13 292,329.56 C291,355.99 279.42,316.63 277,313 C274.58,309.37 265.33,289.68 263,286.02 C260.67,282.35 255.33,273.39 249,269.03 C242.67,264.67 198.5,239.47 187,233.66 C175.5,227.86 119.33,204.15 111,199.31 C102.67,194.48 92.33,179.83 87,175.62 C81.67,171.42 52.83,152.64 47,148.81 C41.17,144.98 22,132.55 17,129.7 C12,126.84 -10.5,125.43 -13,114.58 C-15.5,103.74 -38.17,9.48 -13,-0.42Z" fill="#3b5fe8"/><path d="M252,264.74 C255.83,265.26 266.67,279.77 272,286.15 C277.33,292.52 282,295.19 284,302.99 C286,310.8 286.83,330.94 284,332.99 C281.17,335.04 272.83,323.62 267,315.3 C261.17,306.97 251.5,291.46 249,283.03 C246.5,274.6 248.17,264.22 252,264.74Z" fill="#3b6ae8"/><path d="M12,28.84 C12.83,13.65 15.33,24.75 17,25.7 C18.67,26.65 21.17,18.41 22,34.55 C22.83,50.69 22.83,107.36 22,122.55 C21.17,137.74 18.67,126.65 17,125.7 C15.33,124.75 12.83,132.99 12,116.84 C11.17,100.7 11.17,44.04 12,28.84Z" fill="#3c88ee" opacity="0.7"/><path d="M58,35.08 C58.67,17.3 60.67,30.6 62,31.36 C63.33,32.13 65.33,21.1 66,39.65 C66.67,58.19 66.67,124.86 66,142.65 C65.33,160.43 63.33,147.13 62,146.36 C60.67,145.6 58.67,156.63 58,138.08 C57.33,119.54 57.33,52.87 58,35.08Z" fill="#3b76ec" opacity="0.8"/><path d="M94.5,25.9 C95.25,6.5 97.5,21.61 99,22.47 C100.5,23.33 102.75,10.78 103.5,31.04 C104.25,51.3 104.25,124.63 103.5,144.04 C102.75,163.44 100.5,148.33 99,147.47 C97.5,146.61 95.25,159.16 94.5,138.9 C93.75,118.64 93.75,45.31 94.5,25.9Z" fill="#3c88ee" opacity="0.6"/><path d="M123,-7.84 C123.67,-18.96 125.67,-12.32 127,-11.56 C128.33,-10.8 130.33,-15.16 131,-3.28 C131.67,8.6 131.67,48.6 131,59.72 C130.33,70.84 128.33,64.2 127,63.44 C125.67,62.68 123.67,67.04 123,55.16 C122.33,43.28 122.33,3.28 123,-7.84Z" fill="#3b76ec" opacity="0.7"/><path d="M222,-14.37 C222.83,-25.9 225.33,-18.47 227,-17.52 C228.67,-16.57 231.17,-21.14 232,-8.67 C232.83,3.81 232.83,45.81 232,57.33 C231.17,68.86 228.67,61.43 227,60.48 C225.33,59.53 222.83,64.1 222,51.63 C221.17,39.15 221.17,-2.85 222,-14.37Z" fill="#3c88ee" opacity="0.7"/><path d="M270,6.01 C270.67,-33.45 272.67,1.53 274,2.29 C275.33,3.05 277.33,-29.64 278,10.57 C278.67,50.78 278.67,204.12 278,243.57 C277.33,283.02 275.33,248.05 274,247.29 C272.67,246.53 270.67,279.22 270,239.01 C269.33,198.79 269.33,45.46 270,6.01Z" fill="#3b76ec" opacity="0.8"/><path d="M36,67.53 C36.5,55.49 38,62.68 39,63.25 C40,63.82 41.5,58.34 42,70.96 C42.5,83.58 42.5,126.91 42,138.96 C41.5,151 40,143.82 39,143.25 C38,142.68 36.5,148.15 36,135.53 C35.5,122.92 35.5,79.58 36,67.53Z" fill="#3a4ad8" opacity="0.5"/><path d="M79.5,32.35 C79.92,11.92 81.17,27.3 82,27.77 C82.83,28.25 84.08,14.29 84.5,35.2 C84.92,56.1 84.92,132.77 84.5,153.2 C84.08,173.63 82.83,158.25 82,157.77 C81.17,157.3 79.92,171.25 79.5,150.35 C79.08,129.44 79.08,52.78 79.5,32.35Z" fill="#3a4ad8" opacity="0.4"/><path d="M262,96.44 C262.5,67.73 264,91.59 265,92.16 C266,92.73 267.5,70.58 268,99.87 C268.5,129.15 268.5,239.15 268,267.87 C267.5,296.58 266,272.73 265,272.16 C264,271.59 262.5,293.73 262,264.44 C261.5,235.16 261.5,125.16 262,96.44Z" fill="#3a4ad8" opacity="0.5"/><path d="M172,-15.89 C176.5,-22.32 200.45,-13.91 212,-8.08 C223.55,-2.24 244.5,13.71 249,23.03 C253.5,32.35 247.55,48.2 242,54.04 C236.45,59.87 221,64.81 212,61.92 C203,59.04 188,46.49 182,34.81 C176,23.14 167.5,-9.46 172,-15.89Z" fill="#3c88ee"/><path d="M7,34.99 C13.3,29.14 35,36.71 47,39.81 C59,42.9 80.25,47.57 87,55.62 C93.75,63.67 95,83.94 92,93.48 C89,103.02 76.75,117.28 67,119.22 C57.25,121.16 36.3,112.46 27,106.4 C17.7,100.35 8,89.56 5,78.85 C2,68.14 0.7,40.85 7,34.99Z" fill="#3c88ee"/><path d="M259,-1.27 C262.75,-8.13 280.25,-11.15 284,2.99 C287.75,17.13 286.25,79.28 284,92.99 C281.75,106.71 272.75,101.08 269,94.44 C265.25,87.8 260.5,63.09 259,48.73 C257.5,34.38 255.25,5.59 259,-1.27Z" fill="#3c88ee"/><path d="M47,-32.19 C54.5,-36.91 86.5,-31.16 97,-23.67 C107.5,-16.18 118.5,9.59 117,17.74 C115.5,25.88 97.5,32.11 87,30.62 C76.5,29.14 53,17.23 47,7.81 C41,-1.61 39.5,-27.47 47,-32.19Z" fill="#3b76ec"/><path d="M179,61.1 C181.68,57.97 195,58.46 202,62.22 C209,65.98 235.73,85.98 239,93.33 C242.27,100.67 233.27,118.42 230,125.19 C226.73,131.96 214.73,146.6 211,151.35 C207.27,156.11 200.1,166.9 198,165.94 C195.9,164.97 193.93,149.34 193,143.09 C192.07,136.84 191.63,118.67 190,112.38 C188.37,106.08 180.28,95.08 179,89.1 C177.72,83.12 176.32,64.24 179,61.1Z" fill="#3a4ad8"/><path d="M135,33 C138.5,32.43 144.42,46.48 145,51.71 C145.58,56.94 141.28,71.82 140,77.86 C138.72,83.89 136.22,100.03 134,103.43 C131.78,106.84 123.22,101.17 121,107.02 C118.78,112.87 115.47,144.41 115,153.6 C114.53,162.78 117.47,180.64 117,185.74 C116.53,190.84 113.57,197.85 111,197.31 C108.43,196.78 96.63,187.14 95,181.19 C93.37,175.24 95.95,155.76 97,146.33 C98.05,136.89 101.9,110.79 104,100.32 C106.1,89.85 111.38,64.45 115,56.6 C118.62,48.74 131.5,33.57 135,33Z" fill="#3a52e0"/><path d="M150.6,38 C151.62,39.1 159.25,65.28 161.1,68.89 C162.95,72.5 176.39,89.22 178.3,92.1 C180.21,94.98 188.84,107.81 189.8,112.06 C190.76,116.32 192.12,152.27 192.7,155.92 C193.28,159.57 197.29,167.16 198.5,166.82 C199.71,166.49 208.8,153.66 210.9,150.9 C213,148.14 227.57,128.73 230,125.39 C232.43,122.05 245.31,103.46 247.3,100.76 C249.29,98.06 259.23,84.56 259.8,84.89 C260.37,85.22 256.54,100.66 255.9,105.67 C255.26,110.67 250.77,153.21 250.2,159.91 C249.63,166.61 247.37,200.45 247.3,206.16 C247.23,211.87 248.31,242.09 249.2,245.54 C250.09,248.99 260.31,256.4 260.7,257.9 C261.09,259.4 255.91,266.76 255,268.05 C254.09,269.34 248.53,275.63 247.1,277.25 C245.67,278.86 235.11,290.08 233.6,292.25 C232.09,294.41 224.65,307.78 224.5,309.65 C224.35,311.53 232.21,319.94 231.3,320.33 C230.39,320.72 213.01,315.8 210.9,315.5 C208.79,315.2 201.71,316.15 199.6,315.85 C197.49,315.55 181.47,311.56 179.2,311.02 C176.93,310.48 166.81,307.84 165.6,307.76 C164.39,307.67 161.91,309.04 161,309.73 C160.09,310.43 153.81,316.82 152,318.2 C150.19,319.58 136.47,328.92 133.9,330.48 C131.33,332.03 115.61,340.03 113.5,341.54 C111.39,343.05 103.86,352.18 102.2,353.19 C100.54,354.21 89.21,357.55 88.6,356.74 C87.99,355.93 93,343.16 93,341.05 C93,338.93 90.11,326.95 88.6,325.04 C87.09,323.12 73.57,314.17 70.4,312.36 C67.23,310.55 42.21,299.48 41,297.89 C39.79,296.29 50.64,289.75 52.3,288.43 C53.96,287.11 64.84,279.59 65.9,278.09 C66.96,276.59 68.5,268.19 68.2,265.9 C67.9,263.62 62.76,247.33 61.4,243.82 C60.04,240.31 49.16,217.36 47.8,213.27 C46.44,209.17 41.75,187.04 41,182.39 C40.25,177.74 34.23,144.49 36.5,143.52 C38.77,142.55 70.47,164.74 75,167.78 C79.53,170.82 101.98,187.07 104.4,189.05 C106.82,191.03 110.46,197.73 111.3,197.49 C112.14,197.24 116.75,188.35 117,185.44 C117.25,182.52 115.1,157.33 115.1,153.75 C115.1,150.18 116.61,134.94 117,131.84 C117.39,128.74 119.75,109.16 120.9,107.26 C122.05,105.37 133.03,105.37 134.3,103.4 C135.57,101.44 139.23,81.25 140,77.86 C140.77,74.46 145.09,55.12 145.8,52.46 C146.51,49.81 149.58,36.91 150.6,38Z" fill="#42bca2"/><path d="M150.6,38 C152.38,39.92 157.87,62.58 161.1,68.89 C164.33,75.2 174.95,87.07 178.3,92.1 C181.65,97.14 188.12,104.62 189.8,112.06 C191.48,119.51 193.03,148.85 192.7,155.92 C192.37,162.99 189.41,170.54 187,172.66 C184.59,174.79 175.5,176.69 172,174.11 C168.5,171.53 159.92,156.88 157,150.55 C154.08,144.22 149.1,126.88 147,119.85 C144.9,112.82 139.14,98.15 139,90.29 C138.86,82.42 144.45,58.56 145.8,52.46 C147.15,46.36 148.81,36.09 150.6,38Z" fill="#2eb5ba"/><path d="M259.8,84.89 C260.8,85.46 257.02,96.91 255.9,105.67 C254.78,114.42 251.47,149.99 250.2,159.91 C248.93,169.84 247.71,186.02 245,190.75 C242.29,195.48 231.2,199.96 227,200.48 C222.8,201 212.32,199.14 209,195.21 C205.68,191.29 198.28,171.99 198.5,166.82 C198.72,161.65 207.22,155.73 210.9,150.9 C214.58,146.06 225.75,131.24 230,125.39 C234.25,119.54 243.82,105.49 247.3,100.76 C250.78,96.03 258.8,84.32 259.8,84.89Z" fill="#2eb5ba"/><path d="M259.8,84.89 C260.8,85.46 256.81,99.85 255.9,105.67 C254.99,111.48 253.62,132.01 252,134.74 C250.38,137.47 242.55,133 242,129.04 C241.45,125.07 245.22,105.91 247.3,100.76 C249.38,95.61 258.8,84.32 259.8,84.89Z" fill="#9cc46c"/><path d="M134.3,103.4 C137.34,104.29 144.35,109.35 147,114.85 C149.65,120.35 154.9,142.35 157,150.55 C159.1,158.75 164.42,177.2 165,185.12 C165.58,193.03 164.1,213.77 162,218.4 C159.9,223.04 151.08,226.01 147,224.85 C142.92,223.69 130.73,216.75 127,208.44 C123.27,200.13 116.17,162.53 115,153.6 C113.83,144.66 116.31,137.24 117,131.84 C117.69,126.43 118.88,110.58 120.9,107.26 C122.92,103.94 131.26,102.52 134.3,103.4Z" fill="#4abca8"/><path d="M209,195.21 C214.6,193.97 240.31,186.88 245,192.75 C249.69,198.62 247.37,237.94 249.2,245.54 C251.03,253.15 260.02,255.28 260.7,257.9 C261.38,260.53 257.18,265.59 255,268.05 C252.82,270.52 245.27,277 242,279.04 C238.73,281.07 231.67,286.04 227,285.48 C222.33,284.92 206.08,279.47 202,274.22 C197.92,268.97 192.58,248.78 192,240.52 C191.42,232.25 195.02,208.65 197,203.37 C198.98,198.08 203.4,196.45 209,195.21Z" fill="#8cc274"/><path d="M36.5,143.52 C40.47,141.82 67.08,162.47 75,167.78 C82.92,173.09 100.17,185.58 104.4,189.05 C108.64,192.52 108.66,195.22 111.3,197.49 C113.94,199.75 122.83,205.25 127,208.44 C131.16,211.63 142.92,223.1 147,224.85 C151.08,226.59 158.5,220.24 162,223.4 C165.5,226.57 174.08,244.46 177,251.96 C179.92,259.46 186.74,280.78 187,287.66 C187.26,294.55 181.7,308.67 179.2,311.02 C176.7,313.36 167.72,307.91 165.6,307.76 C163.48,307.61 162.59,308.52 161,309.73 C159.41,310.95 155.16,315.78 152,318.2 C148.84,320.62 138.39,327.75 133.9,330.48 C129.41,333.2 117.2,338.89 113.5,341.54 C109.8,344.19 105.11,351.42 102.2,353.19 C99.3,354.97 89.67,358.15 88.6,356.74 C87.53,355.32 93,344.75 93,341.05 C93,337.35 91.24,328.38 88.6,325.04 C85.96,321.69 75.95,315.52 70.4,312.36 C64.85,309.19 43.11,300.68 41,297.89 C38.89,295.1 49.39,290.74 52.3,288.43 C55.2,286.12 64.05,280.72 65.9,278.09 C67.76,275.46 68.73,269.9 68.2,265.9 C67.67,261.9 63.78,249.96 61.4,243.82 C59.02,237.68 50.18,220.43 47.8,213.27 C45.42,206.1 42.32,190.52 41,182.39 C39.68,174.25 32.53,145.22 36.5,143.52Z" fill="#5cbf90"/><path d="M187,267.66 C192.25,267.74 221.56,282.61 227,285.48 C232.44,288.35 233.89,289.43 233.6,292.25 C233.31,295.07 224.77,306.38 224.5,309.65 C224.23,312.93 234.21,319.61 231.3,320.33 C228.4,321.06 205.68,316.94 199.6,315.85 C193.52,314.76 181.25,314.64 179.2,311.02 C177.15,307.39 181.09,289.87 182,284.81 C182.91,279.76 181.75,267.59 187,267.66Z" fill="#c8c24c"/><path d="M182,164.81 C183.98,158.01 195.85,162.38 199,166.51 C202.15,170.64 209.23,191.25 209,200.21 C208.77,209.18 200.15,240.5 197,243.37 C193.85,246.24 183.75,233.98 182,224.81 C180.25,215.65 180.02,171.61 182,164.81Z" fill="#b0c460"/><path d="M72,204.07 C78.33,207.85 94.5,223.9 107,237.03 C119.5,250.16 139,272.79 147,282.85 C155,292.91 156.67,297.7 155,297.41 C153.33,297.13 146.67,289.99 137,281.14 C127.33,272.3 108.33,255.46 97,244.33 C85.67,233.2 73.17,221.07 69,214.36 C64.83,207.65 65.67,200.29 72,204.07Z" fill="#d8c34a"/><path d="M97,298.33 C100.33,295.23 117.83,294.88 127,295.44 C136.17,296 150.33,299.42 152,301.7 C153.67,303.98 144.5,307.09 137,309.14 C129.5,311.2 113.67,315.84 107,314.03 C100.33,312.23 93.67,301.43 97,298.33Z" fill="#d8c34a"/><path d="M165,235.12 C166.67,227.73 172.67,227.82 175,235.82 C177.33,243.82 179.67,272.65 179,283.1 C178.33,293.55 173.33,299.04 171,298.54 C168.67,298.04 166,290.69 165,280.12 C164,269.55 163.33,242.5 165,235.12Z" fill="#d8c34a"/><path d="M187,227.66 C188.17,221.33 195.33,221.75 199,222.51 C202.67,223.27 210.17,225.88 209,232.21 C207.83,238.55 195.67,261.27 192,260.52 C188.33,259.76 185.83,234 187,227.66Z" fill="#d8c34a"/><path d="M163,308.98 C158.67,302.34 148,283.75 137,269.14 C126,254.54 110.33,235.6 97,221.33 C83.67,207.06 63.67,189.82 57,183.51" fill="none" stroke="#30a8c0" stroke-width="2.4" opacity="0.7"/><path d="M163,308.98 C157,308.05 139.67,303.17 127,303.44 C114.33,303.72 93.67,309.43 87,310.62" fill="none" stroke="#30a8c0" stroke-width="2.4" opacity="0.7"/><path d="M163,308.98 C162,300.9 158.83,279.1 157,260.55 C155.17,242.01 153.17,220.03 152,197.7 C150.83,175.37 150.33,138.42 150,126.56" fill="none" stroke="#30a8c0" stroke-width="2.4" opacity="0.7"/><path d="M165,309.12 C168.67,303.87 179.17,288.86 187,277.66 C194.83,266.47 203.67,252.17 212,241.92 C220.33,231.68 232.83,220.47 237,216.18" fill="none" stroke="#30a8c0" stroke-width="2.4" opacity="0.7"/><path d="M163.3,311.05 C164.75,317.39 169.22,336.17 172,349.11 C174.78,362.05 177.3,375.67 180,388.67 C182.7,401.68 186.83,420.74 188.2,427.15" fill="none" stroke="#3a6ae8" stroke-width="2.6"/><path d="M41,297.89 C43.67,299.16 52.1,303.1 57,305.51 C61.9,307.92 65.13,309.1 70.4,312.36 C75.67,315.61 84.83,320.26 88.6,325.04 C92.37,329.82 93,335.76 93,341.05 C93,346.33 87.93,354.52 88.6,356.74 C89.27,358.95 95.6,354.73 97,354.33" fill="none" stroke="#3040e0" stroke-width="4.0" stroke-linecap="round" stroke-linejoin="round"/><path d="M165.6,309.96 C167.87,310.5 173.53,311.82 179.2,313.22 C184.87,314.61 194.32,317.5 199.6,318.35 C204.88,319.2 205.62,317.53 210.9,318.3 C216.18,319.06 226.95,322.45 231.3,322.93 C235.65,323.41 236.05,321.48 237,321.18" fill="none" stroke="#3040e0" stroke-width="3.4" stroke-linecap="round" stroke-linejoin="round"/><path d="M160,314.26 C160.5,319.22 162,334.57 163,343.98 C164,353.38 164.67,361.59 166,370.69 C167.33,379.78 169,389.56 171,398.54 C173,407.51 176.83,420.2 178,424.53" fill="none" stroke="#3040e0" stroke-width="3.0" stroke-linecap="round" stroke-linejoin="round"/><path d="M36,145.53 C36.33,148.72 37.17,157.87 38,164.68 C38.83,171.48 40.5,182.77 41,186.39" fill="none" stroke="#3040e0" stroke-width="3.0" stroke-linecap="round" stroke-linejoin="round"/></g></g></g>
<clipPath id="clipb0"><path d="M214.8,849.1H341.1L210.5,923.8H84.2Z"/></clipPath><g clip-path="url(#clipb0)"><g transform="matrix(0.44,0,-0.30514,0.17453,214.8,849.1)"><g filter="url(#blur1)"><rect x="-20" y="-20" width="330" height="480" fill="#f0c53a"/><path d="M-8,266.44 C-3.1,251.58 35.3,289.64 41,297.89 C46.7,306.14 46.9,338.6 49,348.95 C51.1,359.3 59.8,391.61 62,401.36 C64.2,411.12 70.5,437.71 71,446.5 C71.5,455.28 74.9,489.22 67,489.22 C59.1,489.21 -0.5,468.71 -8,446.44 C-15.5,424.16 -12.9,281.29 -8,266.44Z" fill="#44b8a4"/><path d="M27,361.4 C33,358.52 53.75,366.66 62,374.36 C70.25,382.07 80.5,402.62 82,412.77 C83.5,422.93 78.75,439.17 72,442.07 C65.25,444.97 44.5,439.38 37,432.1 C29.5,424.83 23.5,404.15 22,393.55 C20.5,382.94 21,364.28 27,361.4Z" fill="#a8c860"/><path d="M-8,396.44 C-4.25,391.68 9.5,407.72 17,414.7 C24.5,421.67 36,432.63 42,442.96 C48,453.28 64.5,482.99 57,483.51 C49.5,484.03 1.75,459.5 -8,446.44 C-17.75,433.38 -11.75,401.2 -8,396.44Z" fill="#3548dc"/><path d="M-8,117.44 C-3.55,98.65 31.6,137.02 36.5,143.52 C41.4,150.01 39.87,175.41 41,182.39 C42.13,189.36 45.76,207.12 47.8,213.27 C49.84,219.41 59.36,238.56 61.4,243.82 C63.44,249.09 69.11,261.44 68.2,265.9 C67.29,270.36 55.02,285.23 52.3,288.43 C49.58,291.63 43.53,294.09 41,297.89 C38.47,301.68 31.9,323.05 27,326.4 C22.1,329.76 -4.5,352.33 -8,331.44 C-11.5,310.54 -12.45,136.23 -8,117.44Z" fill="#38b6aa"/><path d="M17,140.7 C19.33,131.36 31,139.68 35,146.96 C39,154.25 39.33,172.77 41,184.39 C42.67,196 45.67,207.05 45,216.67 C44.33,226.29 40.33,237.34 37,242.1 C33.67,246.87 27.67,251.78 25,245.26 C22.33,238.74 22.33,220.41 21,202.98 C19.67,185.55 14.67,150.03 17,140.7Z" fill="#2a9ccc" opacity="0.85"/><path d="M-13,-0.42 C12.17,-10.31 263.58,-31.65 289,-4.15 C314.42,23.34 293,303.13 292,329.56 C291,355.99 279.42,316.63 277,313 C274.58,309.37 265.33,289.68 263,286.02 C260.67,282.35 255.33,273.39 249,269.03 C242.67,264.67 198.5,239.47 187,233.66 C175.5,227.86 119.33,204.15 111,199.31 C102.67,194.48 92.33,179.83 87,175.62 C81.67,171.42 52.83,152.64 47,148.81 C41.17,144.98 22,132.55 17,129.7 C12,126.84 -10.5,125.43 -13,114.58 C-15.5,103.74 -38.17,9.48 -13,-0.42Z" fill="#3b5fe8"/><path d="M252,264.74 C255.83,265.26 266.67,279.77 272,286.15 C277.33,292.52 282,295.19 284,302.99 C286,310.8 286.83,330.94 284,332.99 C281.17,335.04 272.83,323.62 267,315.3 C261.17,306.97 251.5,291.46 249,283.03 C246.5,274.6 248.17,264.22 252,264.74Z" fill="#3b6ae8"/><path d="M12,28.84 C12.83,13.65 15.33,24.75 17,25.7 C18.67,26.65 21.17,18.41 22,34.55 C22.83,50.69 22.83,107.36 22,122.55 C21.17,137.74 18.67,126.65 17,125.7 C15.33,124.75 12.83,132.99 12,116.84 C11.17,100.7 11.17,44.04 12,28.84Z" fill="#3c88ee" opacity="0.7"/><path d="M58,35.08 C58.67,17.3 60.67,30.6 62,31.36 C63.33,32.13 65.33,21.1 66,39.65 C66.67,58.19 66.67,124.86 66,142.65 C65.33,160.43 63.33,147.13 62,146.36 C60.67,145.6 58.67,156.63 58,138.08 C57.33,119.54 57.33,52.87 58,35.08Z" fill="#3b76ec" opacity="0.8"/><path d="M94.5,25.9 C95.25,6.5 97.5,21.61 99,22.47 C100.5,23.33 102.75,10.78 103.5,31.04 C104.25,51.3 104.25,124.63 103.5,144.04 C102.75,163.44 100.5,148.33 99,147.47 C97.5,146.61 95.25,159.16 94.5,138.9 C93.75,118.64 93.75,45.31 94.5,25.9Z" fill="#3c88ee" opacity="0.6"/><path d="M123,-7.84 C123.67,-18.96 125.67,-12.32 127,-11.56 C128.33,-10.8 130.33,-15.16 131,-3.28 C131.67,8.6 131.67,48.6 131,59.72 C130.33,70.84 128.33,64.2 127,63.44 C125.67,62.68 123.67,67.04 123,55.16 C122.33,43.28 122.33,3.28 123,-7.84Z" fill="#3b76ec" opacity="0.7"/><path d="M222,-14.37 C222.83,-25.9 225.33,-18.47 227,-17.52 C228.67,-16.57 231.17,-21.14 232,-8.67 C232.83,3.81 232.83,45.81 232,57.33 C231.17,68.86 228.67,61.43 227,60.48 C225.33,59.53 222.83,64.1 222,51.63 C221.17,39.15 221.17,-2.85 222,-14.37Z" fill="#3c88ee" opacity="0.7"/><path d="M270,6.01 C270.67,-33.45 272.67,1.53 274,2.29 C275.33,3.05 277.33,-29.64 278,10.57 C278.67,50.78 278.67,204.12 278,243.57 C277.33,283.02 275.33,248.05 274,247.29 C272.67,246.53 270.67,279.22 270,239.01 C269.33,198.79 269.33,45.46 270,6.01Z" fill="#3b76ec" opacity="0.8"/><path d="M36,67.53 C36.5,55.49 38,62.68 39,63.25 C40,63.82 41.5,58.34 42,70.96 C42.5,83.58 42.5,126.91 42,138.96 C41.5,151 40,143.82 39,143.25 C38,142.68 36.5,148.15 36,135.53 C35.5,122.92 35.5,79.58 36,67.53Z" fill="#3a4ad8" opacity="0.5"/><path d="M79.5,32.35 C79.92,11.92 81.17,27.3 82,27.77 C82.83,28.25 84.08,14.29 84.5,35.2 C84.92,56.1 84.92,132.77 84.5,153.2 C84.08,173.63 82.83,158.25 82,157.77 C81.17,157.3 79.92,171.25 79.5,150.35 C79.08,129.44 79.08,52.78 79.5,32.35Z" fill="#3a4ad8" opacity="0.4"/><path d="M262,96.44 C262.5,67.73 264,91.59 265,92.16 C266,92.73 267.5,70.58 268,99.87 C268.5,129.15 268.5,239.15 268,267.87 C267.5,296.58 266,272.73 265,272.16 C264,271.59 262.5,293.73 262,264.44 C261.5,235.16 261.5,125.16 262,96.44Z" fill="#3a4ad8" opacity="0.5"/><path d="M172,-15.89 C176.5,-22.32 200.45,-13.91 212,-8.08 C223.55,-2.24 244.5,13.71 249,23.03 C253.5,32.35 247.55,48.2 242,54.04 C236.45,59.87 221,64.81 212,61.92 C203,59.04 188,46.49 182,34.81 C176,23.14 167.5,-9.46 172,-15.89Z" fill="#3c88ee"/><path d="M7,34.99 C13.3,29.14 35,36.71 47,39.81 C59,42.9 80.25,47.57 87,55.62 C93.75,63.67 95,83.94 92,93.48 C89,103.02 76.75,117.28 67,119.22 C57.25,121.16 36.3,112.46 27,106.4 C17.7,100.35 8,89.56 5,78.85 C2,68.14 0.7,40.85 7,34.99Z" fill="#3c88ee"/><path d="M259,-1.27 C262.75,-8.13 280.25,-11.15 284,2.99 C287.75,17.13 286.25,79.28 284,92.99 C281.75,106.71 272.75,101.08 269,94.44 C265.25,87.8 260.5,63.09 259,48.73 C257.5,34.38 255.25,5.59 259,-1.27Z" fill="#3c88ee"/><path d="M47,-32.19 C54.5,-36.91 86.5,-31.16 97,-23.67 C107.5,-16.18 118.5,9.59 117,17.74 C115.5,25.88 97.5,32.11 87,30.62 C76.5,29.14 53,17.23 47,7.81 C41,-1.61 39.5,-27.47 47,-32.19Z" fill="#3b76ec"/><path d="M179,61.1 C181.68,57.97 195,58.46 202,62.22 C209,65.98 235.73,85.98 239,93.33 C242.27,100.67 233.27,118.42 230,125.19 C226.73,131.96 214.73,146.6 211,151.35 C207.27,156.11 200.1,166.9 198,165.94 C195.9,164.97 193.93,149.34 193,143.09 C192.07,136.84 191.63,118.67 190,112.38 C188.37,106.08 180.28,95.08 179,89.1 C177.72,83.12 176.32,64.24 179,61.1Z" fill="#3a4ad8"/><path d="M135,33 C138.5,32.43 144.42,46.48 145,51.71 C145.58,56.94 141.28,71.82 140,77.86 C138.72,83.89 136.22,100.03 134,103.43 C131.78,106.84 123.22,101.17 121,107.02 C118.78,112.87 115.47,144.41 115,153.6 C114.53,162.78 117.47,180.64 117,185.74 C116.53,190.84 113.57,197.85 111,197.31 C108.43,196.78 96.63,187.14 95,181.19 C93.37,175.24 95.95,155.76 97,146.33 C98.05,136.89 101.9,110.79 104,100.32 C106.1,89.85 111.38,64.45 115,56.6 C118.62,48.74 131.5,33.57 135,33Z" fill="#3a52e0"/><path d="M150.6,38 C151.62,39.1 159.25,65.28 161.1,68.89 C162.95,72.5 176.39,89.22 178.3,92.1 C180.21,94.98 188.84,107.81 189.8,112.06 C190.76,116.32 192.12,152.27 192.7,155.92 C193.28,159.57 197.29,167.16 198.5,166.82 C199.71,166.49 208.8,153.66 210.9,150.9 C213,148.14 227.57,128.73 230,125.39 C232.43,122.05 245.31,103.46 247.3,100.76 C249.29,98.06 259.23,84.56 259.8,84.89 C260.37,85.22 256.54,100.66 255.9,105.67 C255.26,110.67 250.77,153.21 250.2,159.91 C249.63,166.61 247.37,200.45 247.3,206.16 C247.23,211.87 248.31,242.09 249.2,245.54 C250.09,248.99 260.31,256.4 260.7,257.9 C261.09,259.4 255.91,266.76 255,268.05 C254.09,269.34 248.53,275.63 247.1,277.25 C245.67,278.86 235.11,290.08 233.6,292.25 C232.09,294.41 224.65,307.78 224.5,309.65 C224.35,311.53 232.21,319.94 231.3,320.33 C230.39,320.72 213.01,315.8 210.9,315.5 C208.79,315.2 201.71,316.15 199.6,315.85 C197.49,315.55 181.47,311.56 179.2,311.02 C176.93,310.48 166.81,307.84 165.6,307.76 C164.39,307.67 161.91,309.04 161,309.73 C160.09,310.43 153.81,316.82 152,318.2 C150.19,319.58 136.47,328.92 133.9,330.48 C131.33,332.03 115.61,340.03 113.5,341.54 C111.39,343.05 103.86,352.18 102.2,353.19 C100.54,354.21 89.21,357.55 88.6,356.74 C87.99,355.93 93,343.16 93,341.05 C93,338.93 90.11,326.95 88.6,325.04 C87.09,323.12 73.57,314.17 70.4,312.36 C67.23,310.55 42.21,299.48 41,297.89 C39.79,296.29 50.64,289.75 52.3,288.43 C53.96,287.11 64.84,279.59 65.9,278.09 C66.96,276.59 68.5,268.19 68.2,265.9 C67.9,263.62 62.76,247.33 61.4,243.82 C60.04,240.31 49.16,217.36 47.8,213.27 C46.44,209.17 41.75,187.04 41,182.39 C40.25,177.74 34.23,144.49 36.5,143.52 C38.77,142.55 70.47,164.74 75,167.78 C79.53,170.82 101.98,187.07 104.4,189.05 C106.82,191.03 110.46,197.73 111.3,197.49 C112.14,197.24 116.75,188.35 117,185.44 C117.25,182.52 115.1,157.33 115.1,153.75 C115.1,150.18 116.61,134.94 117,131.84 C117.39,128.74 119.75,109.16 120.9,107.26 C122.05,105.37 133.03,105.37 134.3,103.4 C135.57,101.44 139.23,81.25 140,77.86 C140.77,74.46 145.09,55.12 145.8,52.46 C146.51,49.81 149.58,36.91 150.6,38Z" fill="#42bca2"/><path d="M150.6,38 C152.38,39.92 157.87,62.58 161.1,68.89 C164.33,75.2 174.95,87.07 178.3,92.1 C181.65,97.14 188.12,104.62 189.8,112.06 C191.48,119.51 193.03,148.85 192.7,155.92 C192.37,162.99 189.41,170.54 187,172.66 C184.59,174.79 175.5,176.69 172,174.11 C168.5,171.53 159.92,156.88 157,150.55 C154.08,144.22 149.1,126.88 147,119.85 C144.9,112.82 139.14,98.15 139,90.29 C138.86,82.42 144.45,58.56 145.8,52.46 C147.15,46.36 148.81,36.09 150.6,38Z" fill="#2eb5ba"/><path d="M259.8,84.89 C260.8,85.46 257.02,96.91 255.9,105.67 C254.78,114.42 251.47,149.99 250.2,159.91 C248.93,169.84 247.71,186.02 245,190.75 C242.29,195.48 231.2,199.96 227,200.48 C222.8,201 212.32,199.14 209,195.21 C205.68,191.29 198.28,171.99 198.5,166.82 C198.72,161.65 207.22,155.73 210.9,150.9 C214.58,146.06 225.75,131.24 230,125.39 C234.25,119.54 243.82,105.49 247.3,100.76 C250.78,96.03 258.8,84.32 259.8,84.89Z" fill="#2eb5ba"/><path d="M259.8,84.89 C260.8,85.46 256.81,99.85 255.9,105.67 C254.99,111.48 253.62,132.01 252,134.74 C250.38,137.47 242.55,133 242,129.04 C241.45,125.07 245.22,105.91 247.3,100.76 C249.38,95.61 258.8,84.32 259.8,84.89Z" fill="#9cc46c"/><path d="M134.3,103.4 C137.34,104.29 144.35,109.35 147,114.85 C149.65,120.35 154.9,142.35 157,150.55 C159.1,158.75 164.42,177.2 165,185.12 C165.58,193.03 164.1,213.77 162,218.4 C159.9,223.04 151.08,226.01 147,224.85 C142.92,223.69 130.73,216.75 127,208.44 C123.27,200.13 116.17,162.53 115,153.6 C113.83,144.66 116.31,137.24 117,131.84 C117.69,126.43 118.88,110.58 120.9,107.26 C122.92,103.94 131.26,102.52 134.3,103.4Z" fill="#4abca8"/><path d="M209,195.21 C214.6,193.97 240.31,186.88 245,192.75 C249.69,198.62 247.37,237.94 249.2,245.54 C251.03,253.15 260.02,255.28 260.7,257.9 C261.38,260.53 257.18,265.59 255,268.05 C252.82,270.52 245.27,277 242,279.04 C238.73,281.07 231.67,286.04 227,285.48 C222.33,284.92 206.08,279.47 202,274.22 C197.92,268.97 192.58,248.78 192,240.52 C191.42,232.25 195.02,208.65 197,203.37 C198.98,198.08 203.4,196.45 209,195.21Z" fill="#8cc274"/><path d="M36.5,143.52 C40.47,141.82 67.08,162.47 75,167.78 C82.92,173.09 100.17,185.58 104.4,189.05 C108.64,192.52 108.66,195.22 111.3,197.49 C113.94,199.75 122.83,205.25 127,208.44 C131.16,211.63 142.92,223.1 147,224.85 C151.08,226.59 158.5,220.24 162,223.4 C165.5,226.57 174.08,244.46 177,251.96 C179.92,259.46 186.74,280.78 187,287.66 C187.26,294.55 181.7,308.67 179.2,311.02 C176.7,313.36 167.72,307.91 165.6,307.76 C163.48,307.61 162.59,308.52 161,309.73 C159.41,310.95 155.16,315.78 152,318.2 C148.84,320.62 138.39,327.75 133.9,330.48 C129.41,333.2 117.2,338.89 113.5,341.54 C109.8,344.19 105.11,351.42 102.2,353.19 C99.3,354.97 89.67,358.15 88.6,356.74 C87.53,355.32 93,344.75 93,341.05 C93,337.35 91.24,328.38 88.6,325.04 C85.96,321.69 75.95,315.52 70.4,312.36 C64.85,309.19 43.11,300.68 41,297.89 C38.89,295.1 49.39,290.74 52.3,288.43 C55.2,286.12 64.05,280.72 65.9,278.09 C67.76,275.46 68.73,269.9 68.2,265.9 C67.67,261.9 63.78,249.96 61.4,243.82 C59.02,237.68 50.18,220.43 47.8,213.27 C45.42,206.1 42.32,190.52 41,182.39 C39.68,174.25 32.53,145.22 36.5,143.52Z" fill="#5cbf90"/><path d="M187,267.66 C192.25,267.74 221.56,282.61 227,285.48 C232.44,288.35 233.89,289.43 233.6,292.25 C233.31,295.07 224.77,306.38 224.5,309.65 C224.23,312.93 234.21,319.61 231.3,320.33 C228.4,321.06 205.68,316.94 199.6,315.85 C193.52,314.76 181.25,314.64 179.2,311.02 C177.15,307.39 181.09,289.87 182,284.81 C182.91,279.76 181.75,267.59 187,267.66Z" fill="#c8c24c"/><path d="M182,164.81 C183.98,158.01 195.85,162.38 199,166.51 C202.15,170.64 209.23,191.25 209,200.21 C208.77,209.18 200.15,240.5 197,243.37 C193.85,246.24 183.75,233.98 182,224.81 C180.25,215.65 180.02,171.61 182,164.81Z" fill="#b0c460"/><path d="M72,204.07 C78.33,207.85 94.5,223.9 107,237.03 C119.5,250.16 139,272.79 147,282.85 C155,292.91 156.67,297.7 155,297.41 C153.33,297.13 146.67,289.99 137,281.14 C127.33,272.3 108.33,255.46 97,244.33 C85.67,233.2 73.17,221.07 69,214.36 C64.83,207.65 65.67,200.29 72,204.07Z" fill="#d8c34a"/><path d="M97,298.33 C100.33,295.23 117.83,294.88 127,295.44 C136.17,296 150.33,299.42 152,301.7 C153.67,303.98 144.5,307.09 137,309.14 C129.5,311.2 113.67,315.84 107,314.03 C100.33,312.23 93.67,301.43 97,298.33Z" fill="#d8c34a"/><path d="M165,235.12 C166.67,227.73 172.67,227.82 175,235.82 C177.33,243.82 179.67,272.65 179,283.1 C178.33,293.55 173.33,299.04 171,298.54 C168.67,298.04 166,290.69 165,280.12 C164,269.55 163.33,242.5 165,235.12Z" fill="#d8c34a"/><path d="M187,227.66 C188.17,221.33 195.33,221.75 199,222.51 C202.67,223.27 210.17,225.88 209,232.21 C207.83,238.55 195.67,261.27 192,260.52 C188.33,259.76 185.83,234 187,227.66Z" fill="#d8c34a"/><path d="M163,308.98 C158.67,302.34 148,283.75 137,269.14 C126,254.54 110.33,235.6 97,221.33 C83.67,207.06 63.67,189.82 57,183.51" fill="none" stroke="#30a8c0" stroke-width="2.4" opacity="0.7"/><path d="M163,308.98 C157,308.05 139.67,303.17 127,303.44 C114.33,303.72 93.67,309.43 87,310.62" fill="none" stroke="#30a8c0" stroke-width="2.4" opacity="0.7"/><path d="M163,308.98 C162,300.9 158.83,279.1 157,260.55 C155.17,242.01 153.17,220.03 152,197.7 C150.83,175.37 150.33,138.42 150,126.56" fill="none" stroke="#30a8c0" stroke-width="2.4" opacity="0.7"/><path d="M165,309.12 C168.67,303.87 179.17,288.86 187,277.66 C194.83,266.47 203.67,252.17 212,241.92 C220.33,231.68 232.83,220.47 237,216.18" fill="none" stroke="#30a8c0" stroke-width="2.4" opacity="0.7"/><path d="M163.3,311.05 C164.75,317.39 169.22,336.17 172,349.11 C174.78,362.05 177.3,375.67 180,388.67 C182.7,401.68 186.83,420.74 188.2,427.15" fill="none" stroke="#3a6ae8" stroke-width="2.6"/><path d="M41,297.89 C43.67,299.16 52.1,303.1 57,305.51 C61.9,307.92 65.13,309.1 70.4,312.36 C75.67,315.61 84.83,320.26 88.6,325.04 C92.37,329.82 93,335.76 93,341.05 C93,346.33 87.93,354.52 88.6,356.74 C89.27,358.95 95.6,354.73 97,354.33" fill="none" stroke="#3040e0" stroke-width="4.0" stroke-linecap="round" stroke-linejoin="round"/><path d="M165.6,309.96 C167.87,310.5 173.53,311.82 179.2,313.22 C184.87,314.61 194.32,317.5 199.6,318.35 C204.88,319.2 205.62,317.53 210.9,318.3 C216.18,319.06 226.95,322.45 231.3,322.93 C235.65,323.41 236.05,321.48 237,321.18" fill="none" stroke="#3040e0" stroke-width="3.4" stroke-linecap="round" stroke-linejoin="round"/><path d="M160,314.26 C160.5,319.22 162,334.57 163,343.98 C164,353.38 164.67,361.59 166,370.69 C167.33,379.78 169,389.56 171,398.54 C173,407.51 176.83,420.2 178,424.53" fill="none" stroke="#3040e0" stroke-width="3.0" stroke-linecap="round" stroke-linejoin="round"/><path d="M36,145.53 C36.33,148.72 37.17,157.87 38,164.68 C38.83,171.48 40.5,182.77 41,186.39" fill="none" stroke="#3040e0" stroke-width="3.0" stroke-linecap="round" stroke-linejoin="round"/></g></g></g>
<circle cx="188.7" cy="984.8" r="2.9" fill="#000"/>
<circle cx="188.7" cy="997.8" r="2.9" fill="#000"/>
<circle cx="188.7" cy="1010.5" r="2.9" fill="#000"/>
<path d="M496.4,929.1L569.52,860.26" stroke="#e4e4e4" stroke-width="2.6"/><path d="M576.8,853.4L571.63,865.41L564.5,857.84Z" fill="#e4e4e4"/><path d="M496.4,929.1L571.74,1057.67" stroke="#dcdcdc" stroke-width="2.6"/><path d="M576.8,1066.3L566.25,1058.58L575.22,1053.32Z" fill="#dcdcdc"/><path d="M496.4,875.7L567.16,856.07" stroke="#c4c4c4" stroke-width="2.6"/><path d="M576.8,853.4L566.63,861.62L563.85,851.6Z" fill="#c4c4c4"/><path d="M496.4,1037.7L572.8,862.57" stroke="#b4b4b4" stroke-width="2.6"/><path d="M576.8,853.4L576.77,866.48L567.24,862.32Z" fill="#b4b4b4"/><path d="M496.4,875.7L569.77,949.99" stroke="#9a9a9a" stroke-width="2.6"/><path d="M576.8,957.1L564.67,952.22L572.07,944.91Z" fill="#9a9a9a"/><path d="M496.4,1037.7L567.38,1062.95" stroke="#878787" stroke-width="2.6"/><path d="M576.8,1066.3L563.75,1067.18L567.24,1057.38Z" fill="#878787"/><path d="M496.4,1037.7L571.6,914.24" stroke="#858585" stroke-width="2.6"/><path d="M576.8,905.7L575,918.65L566.12,913.24Z" fill="#858585"/><path d="M496.4,929.1L567.36,953.81" stroke="#7a7a7a" stroke-width="2.6"/><path d="M576.8,957.1L563.76,958.06L567.18,948.24Z" fill="#7a7a7a"/><path d="M496.4,875.7L572.91,1057.09" stroke="#707070" stroke-width="2.6"/><path d="M576.8,1066.3L567.34,1057.26L576.93,1053.22Z" fill="#707070"/><path d="M496.4,875.7L567.43,902.2" stroke="#6e6e6e" stroke-width="2.6"/><path d="M576.8,905.7L563.74,906.38L567.38,896.63Z" fill="#6e6e6e"/><path d="M496.4,929.1L567.2,908.49" stroke="#5c5c5c" stroke-width="2.6"/><path d="M576.8,905.7L566.73,914.05L563.82,904.06Z" fill="#5c5c5c"/><path d="M496.4,1037.7L569.74,964.18" stroke="#2e2e2e" stroke-width="2.6"/><path d="M576.8,957.1L572.01,969.27L564.64,961.92Z" fill="#2e2e2e"/><circle cx="480.9" cy="875.7" r="13.8" fill="#5b9bd5" stroke="#41719c" stroke-width="1.6"/><circle cx="480.9" cy="929.1" r="13.8" fill="#5b9bd5" stroke="#41719c" stroke-width="1.6"/><circle cx="480.9" cy="1037.7" r="13.8" fill="#5b9bd5" stroke="#41719c" stroke-width="1.6"/><circle cx="592.3" cy="853.4" r="13.8" fill="#5b9bd5" stroke="#41719c" stroke-width="1.6"/><circle cx="592.3" cy="905.7" r="13.8" fill="#5b9bd5" stroke="#41719c" stroke-width="1.6"/><circle cx="592.3" cy="957.1" r="13.8" fill="#5b9bd5" stroke="#41719c" stroke-width="1.6"/><circle cx="592.3" cy="1066.3" r="13.8" fill="#5b9bd5" stroke="#41719c" stroke-width="1.6"/><circle cx="480" cy="971.4" r="3" fill="#000"/><circle cx="480" cy="983.7" r="3" fill="#000"/><circle cx="480" cy="996.3" r="3" fill="#000"/><circle cx="591.4" cy="1000" r="3" fill="#000"/><circle cx="591.4" cy="1012.3" r="3" fill="#000"/><circle cx="591.4" cy="1024.9" r="3" fill="#000"/>
<clipPath id="clipr3"><path d="M901.6,1023.4H1029.5L910.3,1093.3H782.4Z"/></clipPath><g clip-path="url(#clipr3)"><g transform="matrix(0.45,0,-0.27850,0.16332,901.6,1023.4)"><g filter="url(#blur1)"><rect x="-20" y="-20" width="330" height="480" fill="#ec1010"/><path d="M-8,266.44 C-3.1,251.58 35.3,289.64 41,297.89 C46.7,306.14 46.9,338.6 49,348.95 C51.1,359.3 59.8,391.61 62,401.36 C64.2,411.12 70.5,437.71 71,446.5 C71.5,455.28 74.9,489.22 67,489.22 C59.1,489.21 -0.5,468.71 -8,446.44 C-15.5,424.16 -12.9,281.29 -8,266.44Z" fill="#d80c0c"/><path d="M27,361.4 C33,358.52 53.75,366.66 62,374.36 C70.25,382.07 80.5,402.62 82,412.77 C83.5,422.93 78.75,439.17 72,442.07 C65.25,444.97 44.5,439.38 37,432.1 C29.5,424.83 23.5,404.15 22,393.55 C20.5,382.94 21,364.28 27,361.4Z" fill="#f21414"/><path d="M-8,396.44 C-4.25,391.68 9.5,407.72 17,414.7 C24.5,421.67 36,432.63 42,442.96 C48,453.28 64.5,482.99 57,483.51 C49.5,484.03 1.75,459.5 -8,446.44 C-17.75,433.38 -11.75,401.2 -8,396.44Z" fill="#8a0404"/><path d="M-8,117.44 C-3.55,98.65 31.6,137.02 36.5,143.52 C41.4,150.01 39.87,175.41 41,182.39 C42.13,189.36 45.76,207.12 47.8,213.27 C49.84,219.41 59.36,238.56 61.4,243.82 C63.44,249.09 69.11,261.44 68.2,265.9 C67.29,270.36 55.02,285.23 52.3,288.43 C49.58,291.63 43.53,294.09 41,297.89 C38.47,301.68 31.9,323.05 27,326.4 C22.1,329.76 -4.5,352.33 -8,331.44 C-11.5,310.54 -12.45,136.23 -8,117.44Z" fill="#d80c0c"/><path d="M17,140.7 C19.33,131.36 31,139.68 35,146.96 C39,154.25 39.33,172.77 41,184.39 C42.67,196 45.67,207.05 45,216.67 C44.33,226.29 40.33,237.34 37,242.1 C33.67,246.87 27.67,251.78 25,245.26 C22.33,238.74 22.33,220.41 21,202.98 C19.67,185.55 14.67,150.03 17,140.7Z" fill="#c00a0a" opacity="0.85"/><path d="M-13,-0.42 C12.17,-10.31 263.58,-31.65 289,-4.15 C314.42,23.34 293,303.13 292,329.56 C291,355.99 279.42,316.63 277,313 C274.58,309.37 265.33,289.68 263,286.02 C260.67,282.35 255.33,273.39 249,269.03 C242.67,264.67 198.5,239.47 187,233.66 C175.5,227.86 119.33,204.15 111,199.31 C102.67,194.48 92.33,179.83 87,175.62 C81.67,171.42 52.83,152.64 47,148.81 C41.17,144.98 22,132.55 17,129.7 C12,126.84 -10.5,125.43 -13,114.58 C-15.5,103.74 -38.17,9.48 -13,-0.42Z" fill="#8c0606"/><path d="M252,264.74 C255.83,265.26 266.67,279.77 272,286.15 C277.33,292.52 282,295.19 284,302.99 C286,310.8 286.83,330.94 284,332.99 C281.17,335.04 272.83,323.62 267,315.3 C261.17,306.97 251.5,291.46 249,283.03 C246.5,274.6 248.17,264.22 252,264.74Z" fill="#a00808"/><path d="M12,28.84 C12.83,13.65 15.33,24.75 17,25.7 C18.67,26.65 21.17,18.41 22,34.55 C22.83,50.69 22.83,107.36 22,122.55 C21.17,137.74 18.67,126.65 17,125.7 C15.33,124.75 12.83,132.99 12,116.84 C11.17,100.7 11.17,44.04 12,28.84Z" fill="#a00808" opacity="0.7"/><path d="M58,35.08 C58.67,17.3 60.67,30.6 62,31.36 C63.33,32.13 65.33,21.1 66,39.65 C66.67,58.19 66.67,124.86 66,142.65 C65.33,160.43 63.33,147.13 62,146.36 C60.67,145.6 58.67,156.63 58,138.08 C57.33,119.54 57.33,52.87 58,35.08Z" fill="#960707" opacity="0.8"/><path d="M94.5,25.9 C95.25,6.5 97.5,21.61 99,22.47 C100.5,23.33 102.75,10.78 103.5,31.04 C104.25,51.3 104.25,124.63 103.5,144.04 C102.75,163.44 100.5,148.33 99,147.47 C97.5,146.61 95.25,159.16 94.5,138.9 C93.75,118.64 93.75,45.31 94.5,25.9Z" fill="#a00808" opacity="0.6"/><path d="M123,-7.84 C123.67,-18.96 125.67,-12.32 127,-11.56 C128.33,-10.8 130.33,-15.16 131,-3.28 C131.67,8.6 131.67,48.6 131,59.72 C130.33,70.84 128.33,64.2 127,63.44 C125.67,62.68 123.67,67.04 123,55.16 C122.33,43.28 122.33,3.28 123,-7.84Z" fill="#960707" opacity="0.7"/><path d="M222,-14.37 C222.83,-25.9 225.33,-18.47 227,-17.52 C228.67,-16.57 231.17,-21.14 232,-8.67 C232.83,3.81 232.83,45.81 232,57.33 C231.17,68.86 228.67,61.43 227,60.48 C225.33,59.53 222.83,64.1 222,51.63 C221.17,39.15 221.17,-2.85 222,-14.37Z" fill="#a00808" opacity="0.7"/><path d="M270,6.01 C270.67,-33.45 272.67,1.53 274,2.29 C275.33,3.05 277.33,-29.64 278,10.57 C278.67,50.78 278.67,204.12 278,243.57 C277.33,283.02 275.33,248.05 274,247.29 C272.67,246.53 270.67,279.22 270,239.01 C269.33,198.79 269.33,45.46 270,6.01Z" fill="#960707" opacity="0.8"/><path d="M36,67.53 C36.5,55.49 38,62.68 39,63.25 C40,63.82 41.5,58.34 42,70.96 C42.5,83.58 42.5,126.91 42,138.96 C41.5,151 40,143.82 39,143.25 C38,142.68 36.5,148.15 36,135.53 C35.5,122.92 35.5,79.58 36,67.53Z" fill="#7c0404" opacity="0.5"/><path d="M79.5,32.35 C79.92,11.92 81.17,27.3 82,27.77 C82.83,28.25 84.08,14.29 84.5,35.2 C84.92,56.1 84.92,132.77 84.5,153.2 C84.08,173.63 82.83,158.25 82,157.77 C81.17,157.3 79.92,171.25 79.5,150.35 C79.08,129.44 79.08,52.78 79.5,32.35Z" fill="#7c0404" opacity="0.4"/><path d="M262,96.44 C262.5,67.73 264,91.59 265,92.16 C266,92.73 267.5,70.58 268,99.87 C268.5,129.15 268.5,239.15 268,267.87 C267.5,296.58 266,272.73 265,272.16 C264,271.59 262.5,293.73 262,264.44 C261.5,235.16 261.5,125.16 262,96.44Z" fill="#7c0404" opacity="0.5"/><path d="M172,-15.89 C176.5,-22.32 200.45,-13.91 212,-8.08 C223.55,-2.24 244.5,13.71 249,23.03 C253.5,32.35 247.55,48.2 242,54.04 C236.45,59.87 221,64.81 212,61.92 C203,59.04 188,46.49 182,34.81 C176,23.14 167.5,-9.46 172,-15.89Z" fill="#a00808"/><path d="M7,34.99 C13.3,29.14 35,36.71 47,39.81 C59,42.9 80.25,47.57 87,55.62 C93.75,63.67 95,83.94 92,93.48 C89,103.02 76.75,117.28 67,119.22 C57.25,121.16 36.3,112.46 27,106.4 C17.7,100.35 8,89.56 5,78.85 C2,68.14 0.7,40.85 7,34.99Z" fill="#a00808"/><path d="M259,-1.27 C262.75,-8.13 280.25,-11.15 284,2.99 C287.75,17.13 286.25,79.28 284,92.99 C281.75,106.71 272.75,101.08 269,94.44 C265.25,87.8 260.5,63.09 259,48.73 C257.5,34.38 255.25,5.59 259,-1.27Z" fill="#a00808"/><path d="M47,-32.19 C54.5,-36.91 86.5,-31.16 97,-23.67 C107.5,-16.18 118.5,9.59 117,17.74 C115.5,25.88 97.5,32.11 87,30.62 C76.5,29.14 53,17.23 47,7.81 C41,-1.61 39.5,-27.47 47,-32.19Z" fill="#960707"/><path d="M179,61.1 C181.68,57.97 195,58.46 202,62.22 C209,65.98 235.73,85.98 239,93.33 C242.27,100.67 233.27,118.42 230,125.19 C226.73,131.96 214.73,146.6 211,151.35 C207.27,156.11 200.1,166.9 198,165.94 C195.9,164.97 193.93,149.34 193,143.09 C192.07,136.84 191.63,118.67 190,112.38 C188.37,106.08 180.28,95.08 179,89.1 C177.72,83.12 176.32,64.24 179,61.1Z" fill="#7c0404"/><path d="M135,33 C138.5,32.43 144.42,46.48 145,51.71 C145.58,56.94 141.28,71.82 140,77.86 C138.72,83.89 136.22,100.03 134,103.43 C131.78,106.84 123.22,101.17 121,107.02 C118.78,112.87 115.47,144.41 115,153.6 C114.53,162.78 117.47,180.64 117,185.74 C116.53,190.84 113.57,197.85 111,197.31 C108.43,196.78 96.63,187.14 95,181.19 C93.37,175.24 95.95,155.76 97,146.33 C98.05,136.89 101.9,110.79 104,100.32 C106.1,89.85 111.38,64.45 115,56.6 C118.62,48.74 131.5,33.57 135,33Z" fill="#840505"/><path d="M150.6,38 C151.62,39.1 159.25,65.28 161.1,68.89 C162.95,72.5 176.39,89.22 178.3,92.1 C180.21,94.98 188.84,107.81 189.8,112.06 C190.76,116.32 192.12,152.27 192.7,155.92 C193.28,159.57 197.29,167.16 198.5,166.82 C199.71,166.49 208.8,153.66 210.9,150.9 C213,148.14 227.57,128.73 230,125.39 C232.43,122.05 245.31,103.46 247.3,100.76 C249.29,98.06 259.23,84.56 259.8,84.89 C260.37,85.22 256.54,100.66 255.9,105.67 C255.26,110.67 250.77,153.21 250.2,159.91 C249.63,166.61 247.37,200.45 247.3,206.16 C247.23,211.87 248.31,242.09 249.2,245.54 C250.09,248.99 260.31,256.4 260.7,257.9 C261.09,259.4 255.91,266.76 255,268.05 C254.09,269.34 248.53,275.63 247.1,277.25 C245.67,278.86 235.11,290.08 233.6,292.25 C232.09,294.41 224.65,307.78 224.5,309.65 C224.35,311.53 232.21,319.94 231.3,320.33 C230.39,320.72 213.01,315.8 210.9,315.5 C208.79,315.2 201.71,316.15 199.6,315.85 C197.49,315.55 181.47,311.56 179.2,311.02 C176.93,310.48 166.81,307.84 165.6,307.76 C164.39,307.67 161.91,309.04 161,309.73 C160.09,310.43 153.81,316.82 152,318.2 C150.19,319.58 136.47,328.92 133.9,330.48 C131.33,332.03 115.61,340.03 113.5,341.54 C111.39,343.05 103.86,352.18 102.2,353.19 C100.54,354.21 89.21,357.55 88.6,356.74 C87.99,355.93 93,343.16 93,341.05 C93,338.93 90.11,326.95 88.6,325.04 C87.09,323.12 73.57,314.17 70.4,312.36 C67.23,310.55 42.21,299.48 41,297.89 C39.79,296.29 50.64,289.75 52.3,288.43 C53.96,287.11 64.84,279.59 65.9,278.09 C66.96,276.59 68.5,268.19 68.2,265.9 C67.9,263.62 62.76,247.33 61.4,243.82 C60.04,240.31 49.16,217.36 47.8,213.27 C46.44,209.17 41.75,187.04 41,182.39 C40.25,177.74 34.23,144.49 36.5,143.52 C38.77,142.55 70.47,164.74 75,167.78 C79.53,170.82 101.98,187.07 104.4,189.05 C106.82,191.03 110.46,197.73 111.3,197.49 C112.14,197.24 116.75,188.35 117,185.44 C117.25,182.52 115.1,157.33 115.1,153.75 C115.1,150.18 116.61,134.94 117,131.84 C117.39,128.74 119.75,109.16 120.9,107.26 C122.05,105.37 133.03,105.37 134.3,103.4 C135.57,101.44 139.23,81.25 140,77.86 C140.77,74.46 145.09,55.12 145.8,52.46 C146.51,49.81 149.58,36.91 150.6,38Z" fill="#e00c0c"/><path d="M150.6,38 C152.38,39.92 157.87,62.58 161.1,68.89 C164.33,75.2 174.95,87.07 178.3,92.1 C181.65,97.14 188.12,104.62 189.8,112.06 C191.48,119.51 193.03,148.85 192.7,155.92 C192.37,162.99 189.41,170.54 187,172.66 C184.59,174.79 175.5,176.69 172,174.11 C168.5,171.53 159.92,156.88 157,150.55 C154.08,144.22 149.1,126.88 147,119.85 C144.9,112.82 139.14,98.15 139,90.29 C138.86,82.42 144.45,58.56 145.8,52.46 C147.15,46.36 148.81,36.09 150.6,38Z" fill="#d00a0a"/><path d="M259.8,84.89 C260.8,85.46 257.02,96.91 255.9,105.67 C254.78,114.42 251.47,149.99 250.2,159.91 C248.93,169.84 247.71,186.02 245,190.75 C242.29,195.48 231.2,199.96 227,200.48 C222.8,201 212.32,199.14 209,195.21 C205.68,191.29 198.28,171.99 198.5,166.82 C198.72,161.65 207.22,155.73 210.9,150.9 C214.58,146.06 225.75,131.24 230,125.39 C234.25,119.54 243.82,105.49 247.3,100.76 C250.78,96.03 258.8,84.32 259.8,84.89Z" fill="#d00a0a"/><path d="M259.8,84.89 C260.8,85.46 256.81,99.85 255.9,105.67 C254.99,111.48 253.62,132.01 252,134.74 C250.38,137.47 242.55,133 242,129.04 C241.45,125.07 245.22,105.91 247.3,100.76 C249.38,95.61 258.8,84.32 259.8,84.89Z" fill="#d80c0c"/><path d="M134.3,103.4 C137.34,104.29 144.35,109.35 147,114.85 C149.65,120.35 154.9,142.35 157,150.55 C159.1,158.75 164.42,177.2 165,185.12 C165.58,193.03 164.1,213.77 162,218.4 C159.9,223.04 151.08,226.01 147,224.85 C142.92,223.69 130.73,216.75 127,208.44 C123.27,200.13 116.17,162.53 115,153.6 C113.83,144.66 116.31,137.24 117,131.84 C117.69,126.43 118.88,110.58 120.9,107.26 C122.92,103.94 131.26,102.52 134.3,103.4Z" fill="#da0c0c"/><path d="M209,195.21 C214.6,193.97 240.31,186.88 245,192.75 C249.69,198.62 247.37,237.94 249.2,245.54 C251.03,253.15 260.02,255.28 260.7,257.9 C261.38,260.53 257.18,265.59 255,268.05 C252.82,270.52 245.27,277 242,279.04 C238.73,281.07 231.67,286.04 227,285.48 C222.33,284.92 206.08,279.47 202,274.22 C197.92,268.97 192.58,248.78 192,240.52 C191.42,232.25 195.02,208.65 197,203.37 C198.98,198.08 203.4,196.45 209,195.21Z" fill="#e80e0e"/><path d="M36.5,143.52 C40.47,141.82 67.08,162.47 75,167.78 C82.92,173.09 100.17,185.58 104.4,189.05 C108.64,192.52 108.66,195.22 111.3,197.49 C113.94,199.75 122.83,205.25 127,208.44 C131.16,211.63 142.92,223.1 147,224.85 C151.08,226.59 158.5,220.24 162,223.4 C165.5,226.57 174.08,244.46 177,251.96 C179.92,259.46 186.74,280.78 187,287.66 C187.26,294.55 181.7,308.67 179.2,311.02 C176.7,313.36 167.72,307.91 165.6,307.76 C163.48,307.61 162.59,308.52 161,309.73 C159.41,310.95 155.16,315.78 152,318.2 C148.84,320.62 138.39,327.75 133.9,330.48 C129.41,333.2 117.2,338.89 113.5,341.54 C109.8,344.19 105.11,351.42 102.2,353.19 C99.3,354.97 89.67,358.15 88.6,356.74 C87.53,355.32 93,344.75 93,341.05 C93,337.35 91.24,328.38 88.6,325.04 C85.96,321.69 75.95,315.52 70.4,312.36 C64.85,309.19 43.11,300.68 41,297.89 C38.89,295.1 49.39,290.74 52.3,288.43 C55.2,286.12 64.05,280.72 65.9,278.09 C67.76,275.46 68.73,269.9 68.2,265.9 C67.67,261.9 63.78,249.96 61.4,243.82 C59.02,237.68 50.18,220.43 47.8,213.27 C45.42,206.1 42.32,190.52 41,182.39 C39.68,174.25 32.53,145.22 36.5,143.52Z" fill="#f01212"/><path d="M187,267.66 C192.25,267.74 221.56,282.61 227,285.48 C232.44,288.35 233.89,289.43 233.6,292.25 C233.31,295.07 224.77,306.38 224.5,309.65 C224.23,312.93 234.21,319.61 231.3,320.33 C228.4,321.06 205.68,316.94 199.6,315.85 C193.52,314.76 181.25,314.64 179.2,311.02 C177.15,307.39 181.09,289.87 182,284.81 C182.91,279.76 181.75,267.59 187,267.66Z" fill="#f01212"/><path d="M182,164.81 C183.98,158.01 195.85,162.38 199,166.51 C202.15,170.64 209.23,191.25 209,200.21 C208.77,209.18 200.15,240.5 197,243.37 C193.85,246.24 183.75,233.98 182,224.81 C180.25,215.65 180.02,171.61 182,164.81Z" fill="#e40e0e"/><path d="M72,204.07 C78.33,207.85 94.5,223.9 107,237.03 C119.5,250.16 139,272.79 147,282.85 C155,292.91 156.67,297.7 155,297.41 C153.33,297.13 146.67,289.99 137,281.14 C127.33,272.3 108.33,255.46 97,244.33 C85.67,233.2 73.17,221.07 69,214.36 C64.83,207.65 65.67,200.29 72,204.07Z" fill="#f41616"/><path d="M97,298.33 C100.33,295.23 117.83,294.88 127,295.44 C136.17,296 150.33,299.42 152,301.7 C153.67,303.98 144.5,307.09 137,309.14 C129.5,311.2 113.67,315.84 107,314.03 C100.33,312.23 93.67,301.43 97,298.33Z" fill="#f41616"/><path d="M165,235.12 C166.67,227.73 172.67,227.82 175,235.82 C177.33,243.82 179.67,272.65 179,283.1 C178.33,293.55 173.33,299.04 171,298.54 C168.67,298.04 166,290.69 165,280.12 C164,269.55 163.33,242.5 165,235.12Z" fill="#f41616"/><path d="M187,227.66 C188.17,221.33 195.33,221.75 199,222.51 C202.67,223.27 210.17,225.88 209,232.21 C207.83,238.55 195.67,261.27 192,260.52 C188.33,259.76 185.83,234 187,227.66Z" fill="#f41616"/><path d="M163,308.98 C158.67,302.34 148,283.75 137,269.14 C126,254.54 110.33,235.6 97,221.33 C83.67,207.06 63.67,189.82 57,183.51" fill="none" stroke="#c00808" stroke-width="2.4" opacity="0.7"/><path d="M163,308.98 C157,308.05 139.67,303.17 127,303.44 C114.33,303.72 93.67,309.43 87,310.62" fill="none" stroke="#c00808" stroke-width="2.4" opacity="0.7"/><path d="M163,308.98 C162,300.9 158.83,279.1 157,260.55 C155.17,242.01 153.17,220.03 152,197.7 C150.83,175.37 150.33,138.42 150,126.56" fill="none" stroke="#c00808" stroke-width="2.4" opacity="0.7"/><path d="M165,309.12 C168.67,303.87 179.17,288.86 187,277.66 C194.83,266.47 203.67,252.17 212,241.92 C220.33,231.68 232.83,220.47 237,216.18" fill="none" stroke="#c00808" stroke-width="2.4" opacity="0.7"/><path d="M163.3,311.05 C164.75,317.39 169.22,336.17 172,349.11 C174.78,362.05 177.3,375.67 180,388.67 C182.7,401.68 186.83,420.74 188.2,427.15" fill="none" stroke="#c80a0a" stroke-width="2.6"/><path d="M41,297.89 C43.67,299.16 52.1,303.1 57,305.51 C61.9,307.92 65.13,309.1 70.4,312.36 C75.67,315.61 84.83,320.26 88.6,325.04 C92.37,329.82 93,335.76 93,341.05 C93,346.33 87.93,354.52 88.6,356.74 C89.27,358.95 95.6,354.73 97,354.33" fill="none" stroke="#6a0202" stroke-width="4.0" stroke-linecap="round" stroke-linejoin="round"/><path d="M165.6,309.96 C167.87,310.5 173.53,311.82 179.2,313.22 C184.87,314.61 194.32,317.5 199.6,318.35 C204.88,319.2 205.62,317.53 210.9,318.3 C216.18,319.06 226.95,322.45 231.3,322.93 C235.65,323.41 236.05,321.48 237,321.18" fill="none" stroke="#6a0202" stroke-width="3.4" stroke-linecap="round" stroke-linejoin="round"/><path d="M160,314.26 C160.5,319.22 162,334.57 163,343.98 C164,353.38 164.67,361.59 166,370.69 C167.33,379.78 169,389.56 171,398.54 C173,407.51 176.83,420.2 178,424.53" fill="none" stroke="#6a0202" stroke-width="3.0" stroke-linecap="round" stroke-linejoin="round"/><path d="M36,145.53 C36.33,148.72 37.17,157.87 38,164.68 C38.83,171.48 40.5,182.77 41,186.39" fill="none" stroke="#6a0202" stroke-width="3.0" stroke-linecap="round" stroke-linejoin="round"/></g></g></g>
<clipPath id="clipr2"><path d="M901.6,914.2H1029.5L910.3,984.1H782.4Z"/></clipPath><g clip-path="url(#clipr2)"><g transform="matrix(0.45,0,-0.27850,0.16332,901.6,914.2)"><g filter="url(#blur1)"><rect x="-20" y="-20" width="330" height="480" fill="#ece610"/><path d="M-8,266.44 C-3.1,251.58 35.3,289.64 41,297.89 C46.7,306.14 46.9,338.6 49,348.95 C51.1,359.3 59.8,391.61 62,401.36 C64.2,411.12 70.5,437.71 71,446.5 C71.5,455.28 74.9,489.22 67,489.22 C59.1,489.21 -0.5,468.71 -8,446.44 C-15.5,424.16 -12.9,281.29 -8,266.44Z" fill="#dcd60c"/><path d="M27,361.4 C33,358.52 53.75,366.66 62,374.36 C70.25,382.07 80.5,402.62 82,412.77 C83.5,422.93 78.75,439.17 72,442.07 C65.25,444.97 44.5,439.38 37,432.1 C29.5,424.83 23.5,404.15 22,393.55 C20.5,382.94 21,364.28 27,361.4Z" fill="#f2ec18"/><path d="M-8,396.44 C-4.25,391.68 9.5,407.72 17,414.7 C24.5,421.67 36,432.63 42,442.96 C48,453.28 64.5,482.99 57,483.51 C49.5,484.03 1.75,459.5 -8,446.44 C-17.75,433.38 -11.75,401.2 -8,396.44Z" fill="#8a8406"/><path d="M-8,117.44 C-3.55,98.65 31.6,137.02 36.5,143.52 C41.4,150.01 39.87,175.41 41,182.39 C42.13,189.36 45.76,207.12 47.8,213.27 C49.84,219.41 59.36,238.56 61.4,243.82 C63.44,249.09 69.11,261.44 68.2,265.9 C67.29,270.36 55.02,285.23 52.3,288.43 C49.58,291.63 43.53,294.09 41,297.89 C38.47,301.68 31.9,323.05 27,326.4 C22.1,329.76 -4.5,352.33 -8,331.44 C-11.5,310.54 -12.45,136.23 -8,117.44Z" fill="#dcd60c"/><path d="M17,140.7 C19.33,131.36 31,139.68 35,146.96 C39,154.25 39.33,172.77 41,184.39 C42.67,196 45.67,207.05 45,216.67 C44.33,226.29 40.33,237.34 37,242.1 C33.67,246.87 27.67,251.78 25,245.26 C22.33,238.74 22.33,220.41 21,202.98 C19.67,185.55 14.67,150.03 17,140.7Z" fill="#c8c20a" opacity="0.85"/><path d="M-13,-0.42 C12.17,-10.31 263.58,-31.65 289,-4.15 C314.42,23.34 293,303.13 292,329.56 C291,355.99 279.42,316.63 277,313 C274.58,309.37 265.33,289.68 263,286.02 C260.67,282.35 255.33,273.39 249,269.03 C242.67,264.67 198.5,239.47 187,233.66 C175.5,227.86 119.33,204.15 111,199.31 C102.67,194.48 92.33,179.83 87,175.62 C81.67,171.42 52.83,152.64 47,148.81 C41.17,144.98 22,132.55 17,129.7 C12,126.84 -10.5,125.43 -13,114.58 C-15.5,103.74 -38.17,9.48 -13,-0.42Z" fill="#b0aa08"/><path d="M252,264.74 C255.83,265.26 266.67,279.77 272,286.15 C277.33,292.52 282,295.19 284,302.99 C286,310.8 286.83,330.94 284,332.99 C281.17,335.04 272.83,323.62 267,315.3 C261.17,306.97 251.5,291.46 249,283.03 C246.5,274.6 248.17,264.22 252,264.74Z" fill="#c0ba08"/><path d="M12,28.84 C12.83,13.65 15.33,24.75 17,25.7 C18.67,26.65 21.17,18.41 22,34.55 C22.83,50.69 22.83,107.36 22,122.55 C21.17,137.74 18.67,126.65 17,125.7 C15.33,124.75 12.83,132.99 12,116.84 C11.17,100.7 11.17,44.04 12,28.84Z" fill="#c8c208" opacity="0.7"/><path d="M58,35.08 C58.67,17.3 60.67,30.6 62,31.36 C63.33,32.13 65.33,21.1 66,39.65 C66.67,58.19 66.67,124.86 66,142.65 C65.33,160.43 63.33,147.13 62,146.36 C60.67,145.6 58.67,156.63 58,138.08 C57.33,119.54 57.33,52.87 58,35.08Z" fill="#bcb608" opacity="0.8"/><path d="M94.5,25.9 C95.25,6.5 97.5,21.61 99,22.47 C100.5,23.33 102.75,10.78 103.5,31.04 C104.25,51.3 104.25,124.63 103.5,144.04 C102.75,163.44 100.5,148.33 99,147.47 C97.5,146.61 95.25,159.16 94.5,138.9 C93.75,118.64 93.75,45.31 94.5,25.9Z" fill="#c8c208" opacity="0.6"/><path d="M123,-7.84 C123.67,-18.96 125.67,-12.32 127,-11.56 C128.33,-10.8 130.33,-15.16 131,-3.28 C131.67,8.6 131.67,48.6 131,59.72 C130.33,70.84 128.33,64.2 127,63.44 C125.67,62.68 123.67,67.04 123,55.16 C122.33,43.28 122.33,3.28 123,-7.84Z" fill="#bcb608" opacity="0.7"/><path d="M222,-14.37 C222.83,-25.9 225.33,-18.47 227,-17.52 C228.67,-16.57 231.17,-21.14 232,-8.67 C232.83,3.81 232.83,45.81 232,57.33 C231.17,68.86 228.67,61.43 227,60.48 C225.33,59.53 222.83,64.1 222,51.63 C221.17,39.15 221.17,-2.85 222,-14.37Z" fill="#c8c208" opacity="0.7"/><path d="M270,6.01 C270.67,-33.45 272.67,1.53 274,2.29 C275.33,3.05 277.33,-29.64 278,10.57 C278.67,50.78 278.67,204.12 278,243.57 C277.33,283.02 275.33,248.05 274,247.29 C272.67,246.53 270.67,279.22 270,239.01 C269.33,198.79 269.33,45.46 270,6.01Z" fill="#bcb608" opacity="0.8"/><path d="M36,67.53 C36.5,55.49 38,62.68 39,63.25 C40,63.82 41.5,58.34 42,70.96 C42.5,83.58 42.5,126.91 42,138.96 C41.5,151 40,143.82 39,143.25 C38,142.68 36.5,148.15 36,135.53 C35.5,122.92 35.5,79.58 36,67.53Z" fill="#a09a06" opacity="0.5"/><path d="M79.5,32.35 C79.92,11.92 81.17,27.3 82,27.77 C82.83,28.25 84.08,14.29 84.5,35.2 C84.92,56.1 84.92,132.77 84.5,153.2 C84.08,173.63 82.83,158.25 82,157.77 C81.17,157.3 79.92,171.25 79.5,150.35 C79.08,129.44 79.08,52.78 79.5,32.35Z" fill="#a09a06" opacity="0.4"/><path d="M262,96.44 C262.5,67.73 264,91.59 265,92.16 C266,92.73 267.5,70.58 268,99.87 C268.5,129.15 268.5,239.15 268,267.87 C267.5,296.58 266,272.73 265,272.16 C264,271.59 262.5,293.73 262,264.44 C261.5,235.16 261.5,125.16 262,96.44Z" fill="#a09a06" opacity="0.5"/><path d="M172,-15.89 C176.5,-22.32 200.45,-13.91 212,-8.08 C223.55,-2.24 244.5,13.71 249,23.03 C253.5,32.35 247.55,48.2 242,54.04 C236.45,59.87 221,64.81 212,61.92 C203,59.04 188,46.49 182,34.81 C176,23.14 167.5,-9.46 172,-15.89Z" fill="#c8c208"/><path d="M7,34.99 C13.3,29.14 35,36.71 47,39.81 C59,42.9 80.25,47.57 87,55.62 C93.75,63.67 95,83.94 92,93.48 C89,103.02 76.75,117.28 67,119.22 C57.25,121.16 36.3,112.46 27,106.4 C17.7,100.35 8,89.56 5,78.85 C2,68.14 0.7,40.85 7,34.99Z" fill="#c8c208"/><path d="M259,-1.27 C262.75,-8.13 280.25,-11.15 284,2.99 C287.75,17.13 286.25,79.28 284,92.99 C281.75,106.71 272.75,101.08 269,94.44 C265.25,87.8 260.5,63.09 259,48.73 C257.5,34.38 255.25,5.59 259,-1.27Z" fill="#c8c208"/><path d="M47,-32.19 C54.5,-36.91 86.5,-31.16 97,-23.67 C107.5,-16.18 118.5,9.59 117,17.74 C115.5,25.88 97.5,32.11 87,30.62 C76.5,29.14 53,17.23 47,7.81 C41,-1.61 39.5,-27.47 47,-32.19Z" fill="#bcb608"/><path d="M179,61.1 C181.68,57.97 195,58.46 202,62.22 C209,65.98 235.73,85.98 239,93.33 C242.27,100.67 233.27,118.42 230,125.19 C226.73,131.96 214.73,146.6 211,151.35 C207.27,156.11 200.1,166.9 198,165.94 C195.9,164.97 193.93,149.34 193,143.09 C192.07,136.84 191.63,118.67 190,112.38 C188.37,106.08 180.28,95.08 179,89.1 C177.72,83.12 176.32,64.24 179,61.1Z" fill="#a09a06"/><path d="M135,33 C138.5,32.43 144.42,46.48 145,51.71 C145.58,56.94 141.28,71.82 140,77.86 C138.72,83.89 136.22,100.03 134,103.43 C131.78,106.84 123.22,101.17 121,107.02 C118.78,112.87 115.47,144.41 115,153.6 C114.53,162.78 117.47,180.64 117,185.74 C116.53,190.84 113.57,197.85 111,197.31 C108.43,196.78 96.63,187.14 95,181.19 C93.37,175.24 95.95,155.76 97,146.33 C98.05,136.89 101.9,110.79 104,100.32 C106.1,89.85 111.38,64.45 115,56.6 C118.62,48.74 131.5,33.57 135,33Z" fill="#a8a207"/><path d="M150.6,38 C151.62,39.1 159.25,65.28 161.1,68.89 C162.95,72.5 176.39,89.22 178.3,92.1 C180.21,94.98 188.84,107.81 189.8,112.06 C190.76,116.32 192.12,152.27 192.7,155.92 C193.28,159.57 197.29,167.16 198.5,166.82 C199.71,166.49 208.8,153.66 210.9,150.9 C213,148.14 227.57,128.73 230,125.39 C232.43,122.05 245.31,103.46 247.3,100.76 C249.29,98.06 259.23,84.56 259.8,84.89 C260.37,85.22 256.54,100.66 255.9,105.67 C255.26,110.67 250.77,153.21 250.2,159.91 C249.63,166.61 247.37,200.45 247.3,206.16 C247.23,211.87 248.31,242.09 249.2,245.54 C250.09,248.99 260.31,256.4 260.7,257.9 C261.09,259.4 255.91,266.76 255,268.05 C254.09,269.34 248.53,275.63 247.1,277.25 C245.67,278.86 235.11,290.08 233.6,292.25 C232.09,294.41 224.65,307.78 224.5,309.65 C224.35,311.53 232.21,319.94 231.3,320.33 C230.39,320.72 213.01,315.8 210.9,315.5 C208.79,315.2 201.71,316.15 199.6,315.85 C197.49,315.55 181.47,311.56 179.2,311.02 C176.93,310.48 166.81,307.84 165.6,307.76 C164.39,307.67 161.91,309.04 161,309.73 C160.09,310.43 153.81,316.82 152,318.2 C150.19,319.58 136.47,328.92 133.9,330.48 C131.33,332.03 115.61,340.03 113.5,341.54 C111.39,343.05 103.86,352.18 102.2,353.19 C100.54,354.21 89.21,357.55 88.6,356.74 C87.99,355.93 93,343.16 93,341.05 C93,338.93 90.11,326.95 88.6,325.04 C87.09,323.12 73.57,314.17 70.4,312.36 C67.23,310.55 42.21,299.48 41,297.89 C39.79,296.29 50.64,289.75 52.3,288.43 C53.96,287.11 64.84,279.59 65.9,278.09 C66.96,276.59 68.5,268.19 68.2,265.9 C67.9,263.62 62.76,247.33 61.4,243.82 C60.04,240.31 49.16,217.36 47.8,213.27 C46.44,209.17 41.75,187.04 41,182.39 C40.25,177.74 34.23,144.49 36.5,143.52 C38.77,142.55 70.47,164.74 75,167.78 C79.53,170.82 101.98,187.07 104.4,189.05 C106.82,191.03 110.46,197.73 111.3,197.49 C112.14,197.24 116.75,188.35 117,185.44 C117.25,182.52 115.1,157.33 115.1,153.75 C115.1,150.18 116.61,134.94 117,131.84 C117.39,128.74 119.75,109.16 120.9,107.26 C122.05,105.37 133.03,105.37 134.3,103.4 C135.57,101.44 139.23,81.25 140,77.86 C140.77,74.46 145.09,55.12 145.8,52.46 C146.51,49.81 149.58,36.91 150.6,38Z" fill="#e0da10"/><path d="M150.6,38 C152.38,39.92 157.87,62.58 161.1,68.89 C164.33,75.2 174.95,87.07 178.3,92.1 C181.65,97.14 188.12,104.62 189.8,112.06 C191.48,119.51 193.03,148.85 192.7,155.92 C192.37,162.99 189.41,170.54 187,172.66 C184.59,174.79 175.5,176.69 172,174.11 C168.5,171.53 159.92,156.88 157,150.55 C154.08,144.22 149.1,126.88 147,119.85 C144.9,112.82 139.14,98.15 139,90.29 C138.86,82.42 144.45,58.56 145.8,52.46 C147.15,46.36 148.81,36.09 150.6,38Z" fill="#d8d20e"/><path d="M259.8,84.89 C260.8,85.46 257.02,96.91 255.9,105.67 C254.78,114.42 251.47,149.99 250.2,159.91 C248.93,169.84 247.71,186.02 245,190.75 C242.29,195.48 231.2,199.96 227,200.48 C222.8,201 212.32,199.14 209,195.21 C205.68,191.29 198.28,171.99 198.5,166.82 C198.72,161.65 207.22,155.73 210.9,150.9 C214.58,146.06 225.75,131.24 230,125.39 C234.25,119.54 243.82,105.49 247.3,100.76 C250.78,96.03 258.8,84.32 259.8,84.89Z" fill="#d8d20e"/><path d="M259.8,84.89 C260.8,85.46 256.81,99.85 255.9,105.67 C254.99,111.48 253.62,132.01 252,134.74 C250.38,137.47 242.55,133 242,129.04 C241.45,125.07 245.22,105.91 247.3,100.76 C249.38,95.61 258.8,84.32 259.8,84.89Z" fill="#e4de12"/><path d="M134.3,103.4 C137.34,104.29 144.35,109.35 147,114.85 C149.65,120.35 154.9,142.35 157,150.55 C159.1,158.75 164.42,177.2 165,185.12 C165.58,193.03 164.1,213.77 162,218.4 C159.9,223.04 151.08,226.01 147,224.85 C142.92,223.69 130.73,216.75 127,208.44 C123.27,200.13 116.17,162.53 115,153.6 C113.83,144.66 116.31,137.24 117,131.84 C117.69,126.43 118.88,110.58 120.9,107.26 C122.92,103.94 131.26,102.52 134.3,103.4Z" fill="#dcd610"/><path d="M209,195.21 C214.6,193.97 240.31,186.88 245,192.75 C249.69,198.62 247.37,237.94 249.2,245.54 C251.03,253.15 260.02,255.28 260.7,257.9 C261.38,260.53 257.18,265.59 255,268.05 C252.82,270.52 245.27,277 242,279.04 C238.73,281.07 231.67,286.04 227,285.48 C222.33,284.92 206.08,279.47 202,274.22 C197.92,268.97 192.58,248.78 192,240.52 C191.42,232.25 195.02,208.65 197,203.37 C198.98,198.08 203.4,196.45 209,195.21Z" fill="#ebe514"/><path d="M36.5,143.52 C40.47,141.82 67.08,162.47 75,167.78 C82.92,173.09 100.17,185.58 104.4,189.05 C108.64,192.52 108.66,195.22 111.3,197.49 C113.94,199.75 122.83,205.25 127,208.44 C131.16,211.63 142.92,223.1 147,224.85 C151.08,226.59 158.5,220.24 162,223.4 C165.5,226.57 174.08,244.46 177,251.96 C179.92,259.46 186.74,280.78 187,287.66 C187.26,294.55 181.7,308.67 179.2,311.02 C176.7,313.36 167.72,307.91 165.6,307.76 C163.48,307.61 162.59,308.52 161,309.73 C159.41,310.95 155.16,315.78 152,318.2 C148.84,320.62 138.39,327.75 133.9,330.48 C129.41,333.2 117.2,338.89 113.5,341.54 C109.8,344.19 105.11,351.42 102.2,353.19 C99.3,354.97 89.67,358.15 88.6,356.74 C87.53,355.32 93,344.75 93,341.05 C93,337.35 91.24,328.38 88.6,325.04 C85.96,321.69 75.95,315.52 70.4,312.36 C64.85,309.19 43.11,300.68 41,297.89 C38.89,295.1 49.39,290.74 52.3,288.43 C55.2,286.12 64.05,280.72 65.9,278.09 C67.76,275.46 68.73,269.9 68.2,265.9 C67.67,261.9 63.78,249.96 61.4,243.82 C59.02,237.68 50.18,220.43 47.8,213.27 C45.42,206.1 42.32,190.52 41,182.39 C39.68,174.25 32.53,145.22 36.5,143.52Z" fill="#eee816"/><path d="M187,267.66 C192.25,267.74 221.56,282.61 227,285.48 C232.44,288.35 233.89,289.43 233.6,292.25 C233.31,295.07 224.77,306.38 224.5,309.65 C224.23,312.93 234.21,319.61 231.3,320.33 C228.4,321.06 205.68,316.94 199.6,315.85 C193.52,314.76 181.25,314.64 179.2,311.02 C177.15,307.39 181.09,289.87 182,284.81 C182.91,279.76 181.75,267.59 187,267.66Z" fill="#eee816"/><path d="M182,164.81 C183.98,158.01 195.85,162.38 199,166.51 C202.15,170.64 209.23,191.25 209,200.21 C208.77,209.18 200.15,240.5 197,243.37 C193.85,246.24 183.75,233.98 182,224.81 C180.25,215.65 180.02,171.61 182,164.81Z" fill="#e8e214"/><path d="M72,204.07 C78.33,207.85 94.5,223.9 107,237.03 C119.5,250.16 139,272.79 147,282.85 C155,292.91 156.67,297.7 155,297.41 C153.33,297.13 146.67,289.99 137,281.14 C127.33,272.3 108.33,255.46 97,244.33 C85.67,233.2 73.17,221.07 69,214.36 C64.83,207.65 65.67,200.29 72,204.07Z" fill="#f4ee20"/><path d="M97,298.33 C100.33,295.23 117.83,294.88 127,295.44 C136.17,296 150.33,299.42 152,301.7 C153.67,303.98 144.5,307.09 137,309.14 C129.5,311.2 113.67,315.84 107,314.03 C100.33,312.23 93.67,301.43 97,298.33Z" fill="#f4ee20"/><path d="M165,235.12 C166.67,227.73 172.67,227.82 175,235.82 C177.33,243.82 179.67,272.65 179,283.1 C178.33,293.55 173.33,299.04 171,298.54 C168.67,298.04 166,290.69 165,280.12 C164,269.55 163.33,242.5 165,235.12Z" fill="#f4ee20"/><path d="M187,227.66 C188.17,221.33 195.33,221.75 199,222.51 C202.67,223.27 210.17,225.88 209,232.21 C207.83,238.55 195.67,261.27 192,260.52 C188.33,259.76 185.83,234 187,227.66Z" fill="#f4ee20"/><path d="M163,308.98 C158.67,302.34 148,283.75 137,269.14 C126,254.54 110.33,235.6 97,221.33 C83.67,207.06 63.67,189.82 57,183.51" fill="none" stroke="#c4be0c" stroke-width="2.4" opacity="0.7"/><path d="M163,308.98 C157,308.05 139.67,303.17 127,303.44 C114.33,303.72 93.67,309.43 87,310.62" fill="none" stroke="#c4be0c" stroke-width="2.4" opacity="0.7"/><path d="M163,308.98 C162,300.9 158.83,279.1 157,260.55 C155.17,242.01 153.17,220.03 152,197.7 C150.83,175.37 150.33,138.42 150,126.56" fill="none" stroke="#c4be0c" stroke-width="2.4" opacity="0.7"/><path d="M165,309.12 C168.67,303.87 179.17,288.86 187,277.66 C194.83,266.47 203.67,252.17 212,241.92 C220.33,231.68 232.83,220.47 237,216.18" fill="none" stroke="#c4be0c" stroke-width="2.4" opacity="0.7"/><path d="M163.3,311.05 C164.75,317.39 169.22,336.17 172,349.11 C174.78,362.05 177.3,375.67 180,388.67 C182.7,401.68 186.83,420.74 188.2,427.15" fill="none" stroke="#d0ca0c" stroke-width="2.6"/><path d="M41,297.89 C43.67,299.16 52.1,303.1 57,305.51 C61.9,307.92 65.13,309.1 70.4,312.36 C75.67,315.61 84.83,320.26 88.6,325.04 C92.37,329.82 93,335.76 93,341.05 C93,346.33 87.93,354.52 88.6,356.74 C89.27,358.95 95.6,354.73 97,354.33" fill="none" stroke="#5a5604" stroke-width="4.0" stroke-linecap="round" stroke-linejoin="round"/><path d="M165.6,309.96 C167.87,310.5 173.53,311.82 179.2,313.22 C184.87,314.61 194.32,317.5 199.6,318.35 C204.88,319.2 205.62,317.53 210.9,318.3 C216.18,319.06 226.95,322.45 231.3,322.93 C235.65,323.41 236.05,321.48 237,321.18" fill="none" stroke="#5a5604" stroke-width="3.4" stroke-linecap="round" stroke-linejoin="round"/><path d="M160,314.26 C160.5,319.22 162,334.57 163,343.98 C164,353.38 164.67,361.59 166,370.69 C167.33,379.78 169,389.56 171,398.54 C173,407.51 176.83,420.2 178,424.53" fill="none" stroke="#5a5604" stroke-width="3.0" stroke-linecap="round" stroke-linejoin="round"/><path d="M36,145.53 C36.33,148.72 37.17,157.87 38,164.68 C38.83,171.48 40.5,182.77 41,186.39" fill="none" stroke="#5a5604" stroke-width="3.0" stroke-linecap="round" stroke-linejoin="round"/></g></g></g>
<clipPath id="clipr1"><path d="M901.6,862.4H1029.5L910.3,932.3H782.4Z"/></clipPath><g clip-path="url(#clipr1)"><g transform="matrix(0.45,0,-0.27850,0.16332,901.6,862.4)"><g filter="url(#blur1)"><rect x="-20" y="-20" width="330" height="480" fill="#14ae14"/><path d="M-8,266.44 C-3.1,251.58 35.3,289.64 41,297.89 C46.7,306.14 46.9,338.6 49,348.95 C51.1,359.3 59.8,391.61 62,401.36 C64.2,411.12 70.5,437.71 71,446.5 C71.5,455.28 74.9,489.22 67,489.22 C59.1,489.21 -0.5,468.71 -8,446.44 C-15.5,424.16 -12.9,281.29 -8,266.44Z" fill="#10a010"/><path d="M27,361.4 C33,358.52 53.75,366.66 62,374.36 C70.25,382.07 80.5,402.62 82,412.77 C83.5,422.93 78.75,439.17 72,442.07 C65.25,444.97 44.5,439.38 37,432.1 C29.5,424.83 23.5,404.15 22,393.55 C20.5,382.94 21,364.28 27,361.4Z" fill="#18b618"/><path d="M-8,396.44 C-4.25,391.68 9.5,407.72 17,414.7 C24.5,421.67 36,432.63 42,442.96 C48,453.28 64.5,482.99 57,483.51 C49.5,484.03 1.75,459.5 -8,446.44 C-17.75,433.38 -11.75,401.2 -8,396.44Z" fill="#066006"/><path d="M-8,117.44 C-3.55,98.65 31.6,137.02 36.5,143.52 C41.4,150.01 39.87,175.41 41,182.39 C42.13,189.36 45.76,207.12 47.8,213.27 C49.84,219.41 59.36,238.56 61.4,243.82 C63.44,249.09 69.11,261.44 68.2,265.9 C67.29,270.36 55.02,285.23 52.3,288.43 C49.58,291.63 43.53,294.09 41,297.89 C38.47,301.68 31.9,323.05 27,326.4 C22.1,329.76 -4.5,352.33 -8,331.44 C-11.5,310.54 -12.45,136.23 -8,117.44Z" fill="#10a010"/><path d="M17,140.7 C19.33,131.36 31,139.68 35,146.96 C39,154.25 39.33,172.77 41,184.39 C42.67,196 45.67,207.05 45,216.67 C44.33,226.29 40.33,237.34 37,242.1 C33.67,246.87 27.67,251.78 25,245.26 C22.33,238.74 22.33,220.41 21,202.98 C19.67,185.55 14.67,150.03 17,140.7Z" fill="#0c900c" opacity="0.85"/><path d="M-13,-0.42 C12.17,-10.31 263.58,-31.65 289,-4.15 C314.42,23.34 293,303.13 292,329.56 C291,355.99 279.42,316.63 277,313 C274.58,309.37 265.33,289.68 263,286.02 C260.67,282.35 255.33,273.39 249,269.03 C242.67,264.67 198.5,239.47 187,233.66 C175.5,227.86 119.33,204.15 111,199.31 C102.67,194.48 92.33,179.83 87,175.62 C81.67,171.42 52.83,152.64 47,148.81 C41.17,144.98 22,132.55 17,129.7 C12,126.84 -10.5,125.43 -13,114.58 C-15.5,103.74 -38.17,9.48 -13,-0.42Z" fill="#0c8a0c"/><path d="M252,264.74 C255.83,265.26 266.67,279.77 272,286.15 C277.33,292.52 282,295.19 284,302.99 C286,310.8 286.83,330.94 284,332.99 C281.17,335.04 272.83,323.62 267,315.3 C261.17,306.97 251.5,291.46 249,283.03 C246.5,274.6 248.17,264.22 252,264.74Z" fill="#0e980e"/><path d="M12,28.84 C12.83,13.65 15.33,24.75 17,25.7 C18.67,26.65 21.17,18.41 22,34.55 C22.83,50.69 22.83,107.36 22,122.55 C21.17,137.74 18.67,126.65 17,125.7 C15.33,124.75 12.83,132.99 12,116.84 C11.17,100.7 11.17,44.04 12,28.84Z" fill="#0e980e" opacity="0.7"/><path d="M58,35.08 C58.67,17.3 60.67,30.6 62,31.36 C63.33,32.13 65.33,21.1 66,39.65 C66.67,58.19 66.67,124.86 66,142.65 C65.33,160.43 63.33,147.13 62,146.36 C60.67,145.6 58.67,156.63 58,138.08 C57.33,119.54 57.33,52.87 58,35.08Z" fill="#0d920d" opacity="0.8"/><path d="M94.5,25.9 C95.25,6.5 97.5,21.61 99,22.47 C100.5,23.33 102.75,10.78 103.5,31.04 C104.25,51.3 104.25,124.63 103.5,144.04 C102.75,163.44 100.5,148.33 99,147.47 C97.5,146.61 95.25,159.16 94.5,138.9 C93.75,118.64 93.75,45.31 94.5,25.9Z" fill="#0e980e" opacity="0.6"/><path d="M123,-7.84 C123.67,-18.96 125.67,-12.32 127,-11.56 C128.33,-10.8 130.33,-15.16 131,-3.28 C131.67,8.6 131.67,48.6 131,59.72 C130.33,70.84 128.33,64.2 127,63.44 C125.67,62.68 123.67,67.04 123,55.16 C122.33,43.28 122.33,3.28 123,-7.84Z" fill="#0d920d" opacity="0.7"/><path d="M222,-14.37 C222.83,-25.9 225.33,-18.47 227,-17.52 C228.67,-16.57 231.17,-21.14 232,-8.67 C232.83,3.81 232.83,45.81 232,57.33 C231.17,68.86 228.67,61.43 227,60.48 C225.33,59.53 222.83,64.1 222,51.63 C221.17,39.15 221.17,-2.85 222,-14.37Z" fill="#0e980e" opacity="0.7"/><path d="M270,6.01 C270.67,-33.45 272.67,1.53 274,2.29 C275.33,3.05 277.33,-29.64 278,10.57 C278.67,50.78 278.67,204.12 278,243.57 C277.33,283.02 275.33,248.05 274,247.29 C272.67,246.53 270.67,279.22 270,239.01 C269.33,198.79 269.33,45.46 270,6.01Z" fill="#0d920d" opacity="0.8"/><path d="M36,67.53 C36.5,55.49 38,62.68 39,63.25 C40,63.82 41.5,58.34 42,70.96 C42.5,83.58 42.5,126.91 42,138.96 C41.5,151 40,143.82 39,143.25 C38,142.68 36.5,148.15 36,135.53 C35.5,122.92 35.5,79.58 36,67.53Z" fill="#087a08" opacity="0.5"/><path d="M79.5,32.35 C79.92,11.92 81.17,27.3 82,27.77 C82.83,28.25 84.08,14.29 84.5,35.2 C84.92,56.1 84.92,132.77 84.5,153.2 C84.08,173.63 82.83,158.25 82,157.77 C81.17,157.3 79.92,171.25 79.5,150.35 C79.08,129.44 79.08,52.78 79.5,32.35Z" fill="#087a08" opacity="0.4"/><path d="M262,96.44 C262.5,67.73 264,91.59 265,92.16 C266,92.73 267.5,70.58 268,99.87 C268.5,129.15 268.5,239.15 268,267.87 C267.5,296.58 266,272.73 265,272.16 C264,271.59 262.5,293.73 262,264.44 C261.5,235.16 261.5,125.16 262,96.44Z" fill="#087a08" opacity="0.5"/><path d="M172,-15.89 C176.5,-22.32 200.45,-13.91 212,-8.08 C223.55,-2.24 244.5,13.71 249,23.03 C253.5,32.35 247.55,48.2 242,54.04 C236.45,59.87 221,64.81 212,61.92 C203,59.04 188,46.49 182,34.81 C176,23.14 167.5,-9.46 172,-15.89Z" fill="#0e980e"/><path d="M7,34.99 C13.3,29.14 35,36.71 47,39.81 C59,42.9 80.25,47.57 87,55.62 C93.75,63.67 95,83.94 92,93.48 C89,103.02 76.75,117.28 67,119.22 C57.25,121.16 36.3,112.46 27,106.4 C17.7,100.35 8,89.56 5,78.85 C2,68.14 0.7,40.85 7,34.99Z" fill="#0e980e"/><path d="M259,-1.27 C262.75,-8.13 280.25,-11.15 284,2.99 C287.75,17.13 286.25,79.28 284,92.99 C281.75,106.71 272.75,101.08 269,94.44 C265.25,87.8 260.5,63.09 259,48.73 C257.5,34.38 255.25,5.59 259,-1.27Z" fill="#0e980e"/><path d="M47,-32.19 C54.5,-36.91 86.5,-31.16 97,-23.67 C107.5,-16.18 118.5,9.59 117,17.74 C115.5,25.88 97.5,32.11 87,30.62 C76.5,29.14 53,17.23 47,7.81 C41,-1.61 39.5,-27.47 47,-32.19Z" fill="#0d920d"/><path d="M179,61.1 C181.68,57.97 195,58.46 202,62.22 C209,65.98 235.73,85.98 239,93.33 C242.27,100.67 233.27,118.42 230,125.19 C226.73,131.96 214.73,146.6 211,151.35 C207.27,156.11 200.1,166.9 198,165.94 C195.9,164.97 193.93,149.34 193,143.09 C192.07,136.84 191.63,118.67 190,112.38 C188.37,106.08 180.28,95.08 179,89.1 C177.72,83.12 176.32,64.24 179,61.1Z" fill="#087a08"/><path d="M135,33 C138.5,32.43 144.42,46.48 145,51.71 C145.58,56.94 141.28,71.82 140,77.86 C138.72,83.89 136.22,100.03 134,103.43 C131.78,106.84 123.22,101.17 121,107.02 C118.78,112.87 115.47,144.41 115,153.6 C114.53,162.78 117.47,180.64 117,185.74 C116.53,190.84 113.57,197.85 111,197.31 C108.43,196.78 96.63,187.14 95,181.19 C93.37,175.24 95.95,155.76 97,146.33 C98.05,136.89 101.9,110.79 104,100.32 C106.1,89.85 111.38,64.45 115,56.6 C118.62,48.74 131.5,33.57 135,33Z" fill="#0a820a"/><path d="M150.6,38 C151.62,39.1 159.25,65.28 161.1,68.89 C162.95,72.5 176.39,89.22 178.3,92.1 C180.21,94.98 188.84,107.81 189.8,112.06 C190.76,116.32 192.12,152.27 192.7,155.92 C193.28,159.57 197.29,167.16 198.5,166.82 C199.71,166.49 208.8,153.66 210.9,150.9 C213,148.14 227.57,128.73 230,125.39 C232.43,122.05 245.31,103.46 247.3,100.76 C249.29,98.06 259.23,84.56 259.8,84.89 C260.37,85.22 256.54,100.66 255.9,105.67 C255.26,110.67 250.77,153.21 250.2,159.91 C249.63,166.61 247.37,200.45 247.3,206.16 C247.23,211.87 248.31,242.09 249.2,245.54 C250.09,248.99 260.31,256.4 260.7,257.9 C261.09,259.4 255.91,266.76 255,268.05 C254.09,269.34 248.53,275.63 247.1,277.25 C245.67,278.86 235.11,290.08 233.6,292.25 C232.09,294.41 224.65,307.78 224.5,309.65 C224.35,311.53 232.21,319.94 231.3,320.33 C230.39,320.72 213.01,315.8 210.9,315.5 C208.79,315.2 201.71,316.15 199.6,315.85 C197.49,315.55 181.47,311.56 179.2,311.02 C176.93,310.48 166.81,307.84 165.6,307.76 C164.39,307.67 161.91,309.04 161,309.73 C160.09,310.43 153.81,316.82 152,318.2 C150.19,319.58 136.47,328.92 133.9,330.48 C131.33,332.03 115.61,340.03 113.5,341.54 C111.39,343.05 103.86,352.18 102.2,353.19 C100.54,354.21 89.21,357.55 88.6,356.74 C87.99,355.93 93,343.16 93,341.05 C93,338.93 90.11,326.95 88.6,325.04 C87.09,323.12 73.57,314.17 70.4,312.36 C67.23,310.55 42.21,299.48 41,297.89 C39.79,296.29 50.64,289.75 52.3,288.43 C53.96,287.11 64.84,279.59 65.9,278.09 C66.96,276.59 68.5,268.19 68.2,265.9 C67.9,263.62 62.76,247.33 61.4,243.82 C60.04,240.31 49.16,217.36 47.8,213.27 C46.44,209.17 41.75,187.04 41,182.39 C40.25,177.74 34.23,144.49 36.5,143.52 C38.77,142.55 70.47,164.74 75,167.78 C79.53,170.82 101.98,187.07 104.4,189.05 C106.82,191.03 110.46,197.73 111.3,197.49 C112.14,197.24 116.75,188.35 117,185.44 C117.25,182.52 115.1,157.33 115.1,153.75 C115.1,150.18 116.61,134.94 117,131.84 C117.39,128.74 119.75,109.16 120.9,107.26 C122.05,105.37 133.03,105.37 134.3,103.4 C135.57,101.44 139.23,81.25 140,77.86 C140.77,74.46 145.09,55.12 145.8,52.46 C146.51,49.81 149.58,36.91 150.6,38Z" fill="#109610"/><path d="M150.6,38 C152.38,39.92 157.87,62.58 161.1,68.89 C164.33,75.2 174.95,87.07 178.3,92.1 C181.65,97.14 188.12,104.62 189.8,112.06 C191.48,119.51 193.03,148.85 192.7,155.92 C192.37,162.99 189.41,170.54 187,172.66 C184.59,174.79 175.5,176.69 172,174.11 C168.5,171.53 159.92,156.88 157,150.55 C154.08,144.22 149.1,126.88 147,119.85 C144.9,112.82 139.14,98.15 139,90.29 C138.86,82.42 144.45,58.56 145.8,52.46 C147.15,46.36 148.81,36.09 150.6,38Z" fill="#0c8c0c"/><path d="M259.8,84.89 C260.8,85.46 257.02,96.91 255.9,105.67 C254.78,114.42 251.47,149.99 250.2,159.91 C248.93,169.84 247.71,186.02 245,190.75 C242.29,195.48 231.2,199.96 227,200.48 C222.8,201 212.32,199.14 209,195.21 C205.68,191.29 198.28,171.99 198.5,166.82 C198.72,161.65 207.22,155.73 210.9,150.9 C214.58,146.06 225.75,131.24 230,125.39 C234.25,119.54 243.82,105.49 247.3,100.76 C250.78,96.03 258.8,84.32 259.8,84.89Z" fill="#0c8c0c"/><path d="M259.8,84.89 C260.8,85.46 256.81,99.85 255.9,105.67 C254.99,111.48 253.62,132.01 252,134.74 C250.38,137.47 242.55,133 242,129.04 C241.45,125.07 245.22,105.91 247.3,100.76 C249.38,95.61 258.8,84.32 259.8,84.89Z" fill="#109a10"/><path d="M134.3,103.4 C137.34,104.29 144.35,109.35 147,114.85 C149.65,120.35 154.9,142.35 157,150.55 C159.1,158.75 164.42,177.2 165,185.12 C165.58,193.03 164.1,213.77 162,218.4 C159.9,223.04 151.08,226.01 147,224.85 C142.92,223.69 130.73,216.75 127,208.44 C123.27,200.13 116.17,162.53 115,153.6 C113.83,144.66 116.31,137.24 117,131.84 C117.69,126.43 118.88,110.58 120.9,107.26 C122.92,103.94 131.26,102.52 134.3,103.4Z" fill="#0e940e"/><path d="M209,195.21 C214.6,193.97 240.31,186.88 245,192.75 C249.69,198.62 247.37,237.94 249.2,245.54 C251.03,253.15 260.02,255.28 260.7,257.9 C261.38,260.53 257.18,265.59 255,268.05 C252.82,270.52 245.27,277 242,279.04 C238.73,281.07 231.67,286.04 227,285.48 C222.33,284.92 206.08,279.47 202,274.22 C197.92,268.97 192.58,248.78 192,240.52 C191.42,232.25 195.02,208.65 197,203.37 C198.98,198.08 203.4,196.45 209,195.21Z" fill="#14a814"/><path d="M36.5,143.52 C40.47,141.82 67.08,162.47 75,167.78 C82.92,173.09 100.17,185.58 104.4,189.05 C108.64,192.52 108.66,195.22 111.3,197.49 C113.94,199.75 122.83,205.25 127,208.44 C131.16,211.63 142.92,223.1 147,224.85 C151.08,226.59 158.5,220.24 162,223.4 C165.5,226.57 174.08,244.46 177,251.96 C179.92,259.46 186.74,280.78 187,287.66 C187.26,294.55 181.7,308.67 179.2,311.02 C176.7,313.36 167.72,307.91 165.6,307.76 C163.48,307.61 162.59,308.52 161,309.73 C159.41,310.95 155.16,315.78 152,318.2 C148.84,320.62 138.39,327.75 133.9,330.48 C129.41,333.2 117.2,338.89 113.5,341.54 C109.8,344.19 105.11,351.42 102.2,353.19 C99.3,354.97 89.67,358.15 88.6,356.74 C87.53,355.32 93,344.75 93,341.05 C93,337.35 91.24,328.38 88.6,325.04 C85.96,321.69 75.95,315.52 70.4,312.36 C64.85,309.19 43.11,300.68 41,297.89 C38.89,295.1 49.39,290.74 52.3,288.43 C55.2,286.12 64.05,280.72 65.9,278.09 C67.76,275.46 68.73,269.9 68.2,265.9 C67.67,261.9 63.78,249.96 61.4,243.82 C59.02,237.68 50.18,220.43 47.8,213.27 C45.42,206.1 42.32,190.52 41,182.39 C39.68,174.25 32.53,145.22 36.5,143.52Z" fill="#16aa16"/><path d="M187,267.66 C192.25,267.74 221.56,282.61 227,285.48 C232.44,288.35 233.89,289.43 233.6,292.25 C233.31,295.07 224.77,306.38 224.5,309.65 C224.23,312.93 234.21,319.61 231.3,320.33 C228.4,321.06 205.68,316.94 199.6,315.85 C193.52,314.76 181.25,314.64 179.2,311.02 C177.15,307.39 181.09,289.87 182,284.81 C182.91,279.76 181.75,267.59 187,267.66Z" fill="#16aa16"/><path d="M182,164.81 C183.98,158.01 195.85,162.38 199,166.51 C202.15,170.64 209.23,191.25 209,200.21 C208.77,209.18 200.15,240.5 197,243.37 C193.85,246.24 183.75,233.98 182,224.81 C180.25,215.65 180.02,171.61 182,164.81Z" fill="#14a414"/><path d="M72,204.07 C78.33,207.85 94.5,223.9 107,237.03 C119.5,250.16 139,272.79 147,282.85 C155,292.91 156.67,297.7 155,297.41 C153.33,297.13 146.67,289.99 137,281.14 C127.33,272.3 108.33,255.46 97,244.33 C85.67,233.2 73.17,221.07 69,214.36 C64.83,207.65 65.67,200.29 72,204.07Z" fill="#18b018"/><path d="M97,298.33 C100.33,295.23 117.83,294.88 127,295.44 C136.17,296 150.33,299.42 152,301.7 C153.67,303.98 144.5,307.09 137,309.14 C129.5,311.2 113.67,315.84 107,314.03 C100.33,312.23 93.67,301.43 97,298.33Z" fill="#18b018"/><path d="M165,235.12 C166.67,227.73 172.67,227.82 175,235.82 C177.33,243.82 179.67,272.65 179,283.1 C178.33,293.55 173.33,299.04 171,298.54 C168.67,298.04 166,290.69 165,280.12 C164,269.55 163.33,242.5 165,235.12Z" fill="#18b018"/><path d="M187,227.66 C188.17,221.33 195.33,221.75 199,222.51 C202.67,223.27 210.17,225.88 209,232.21 C207.83,238.55 195.67,261.27 192,260.52 C188.33,259.76 185.83,234 187,227.66Z" fill="#18b018"/><path d="M163,308.98 C158.67,302.34 148,283.75 137,269.14 C126,254.54 110.33,235.6 97,221.33 C83.67,207.06 63.67,189.82 57,183.51" fill="none" stroke="#0a800a" stroke-width="2.4" opacity="0.7"/><path d="M163,308.98 C157,308.05 139.67,303.17 127,303.44 C114.33,303.72 93.67,309.43 87,310.62" fill="none" stroke="#0a800a" stroke-width="2.4" opacity="0.7"/><path d="M163,308.98 C162,300.9 158.83,279.1 157,260.55 C155.17,242.01 153.17,220.03 152,197.7 C150.83,175.37 150.33,138.42 150,126.56" fill="none" stroke="#0a800a" stroke-width="2.4" opacity="0.7"/><path d="M165,309.12 C168.67,303.87 179.17,288.86 187,277.66 C194.83,266.47 203.67,252.17 212,241.92 C220.33,231.68 232.83,220.47 237,216.18" fill="none" stroke="#0a800a" stroke-width="2.4" opacity="0.7"/><path d="M163.3,311.05 C164.75,317.39 169.22,336.17 172,349.11 C174.78,362.05 177.3,375.67 180,388.67 C182.7,401.68 186.83,420.74 188.2,427.15" fill="none" stroke="#0c880c" stroke-width="2.6"/><path d="M41,297.89 C43.67,299.16 52.1,303.1 57,305.51 C61.9,307.92 65.13,309.1 70.4,312.36 C75.67,315.61 84.83,320.26 88.6,325.04 C92.37,329.82 93,335.76 93,341.05 C93,346.33 87.93,354.52 88.6,356.74 C89.27,358.95 95.6,354.73 97,354.33" fill="none" stroke="#064a06" stroke-width="4.0" stroke-linecap="round" stroke-linejoin="round"/><path d="M165.6,309.96 C167.87,310.5 173.53,311.82 179.2,313.22 C184.87,314.61 194.32,317.5 199.6,318.35 C204.88,319.2 205.62,317.53 210.9,318.3 C216.18,319.06 226.95,322.45 231.3,322.93 C235.65,323.41 236.05,321.48 237,321.18" fill="none" stroke="#064a06" stroke-width="3.4" stroke-linecap="round" stroke-linejoin="round"/><path d="M160,314.26 C160.5,319.22 162,334.57 163,343.98 C164,353.38 164.67,361.59 166,370.69 C167.33,379.78 169,389.56 171,398.54 C173,407.51 176.83,420.2 178,424.53" fill="none" stroke="#064a06" stroke-width="3.0" stroke-linecap="round" stroke-linejoin="round"/><path d="M36,145.53 C36.33,148.72 37.17,157.87 38,164.68 C38.83,171.48 40.5,182.77 41,186.39" fill="none" stroke="#064a06" stroke-width="3.0" stroke-linecap="round" stroke-linejoin="round"/></g></g></g>
<clipPath id="clipr0"><path d="M901.6,811.2H1029.5L910.3,881.1H782.4Z"/></clipPath><g clip-path="url(#clipr0)"><g transform="matrix(0.45,0,-0.27850,0.16332,901.6,811.2)"><g filter="url(#blur1)"><rect x="-20" y="-20" width="330" height="480" fill="#5a20d8"/><path d="M-8,266.44 C-3.1,251.58 35.3,289.64 41,297.89 C46.7,306.14 46.9,338.6 49,348.95 C51.1,359.3 59.8,391.61 62,401.36 C64.2,411.12 70.5,437.71 71,446.5 C71.5,455.28 74.9,489.22 67,489.22 C59.1,489.21 -0.5,468.71 -8,446.44 C-15.5,424.16 -12.9,281.29 -8,266.44Z" fill="#4a1cc0"/><path d="M27,361.4 C33,358.52 53.75,366.66 62,374.36 C70.25,382.07 80.5,402.62 82,412.77 C83.5,422.93 78.75,439.17 72,442.07 C65.25,444.97 44.5,439.38 37,432.1 C29.5,424.83 23.5,404.15 22,393.55 C20.5,382.94 21,364.28 27,361.4Z" fill="#6224e0"/><path d="M-8,396.44 C-4.25,391.68 9.5,407.72 17,414.7 C24.5,421.67 36,432.63 42,442.96 C48,453.28 64.5,482.99 57,483.51 C49.5,484.03 1.75,459.5 -8,446.44 C-17.75,433.38 -11.75,401.2 -8,396.44Z" fill="#2a0c70"/><path d="M-8,117.44 C-3.55,98.65 31.6,137.02 36.5,143.52 C41.4,150.01 39.87,175.41 41,182.39 C42.13,189.36 45.76,207.12 47.8,213.27 C49.84,219.41 59.36,238.56 61.4,243.82 C63.44,249.09 69.11,261.44 68.2,265.9 C67.29,270.36 55.02,285.23 52.3,288.43 C49.58,291.63 43.53,294.09 41,297.89 C38.47,301.68 31.9,323.05 27,326.4 C22.1,329.76 -4.5,352.33 -8,331.44 C-11.5,310.54 -12.45,136.23 -8,117.44Z" fill="#4a1cc0"/><path d="M17,140.7 C19.33,131.36 31,139.68 35,146.96 C39,154.25 39.33,172.77 41,184.39 C42.67,196 45.67,207.05 45,216.67 C44.33,226.29 40.33,237.34 37,242.1 C33.67,246.87 27.67,251.78 25,245.26 C22.33,238.74 22.33,220.41 21,202.98 C19.67,185.55 14.67,150.03 17,140.7Z" fill="#3a14a4" opacity="0.85"/><path d="M-13,-0.42 C12.17,-10.31 263.58,-31.65 289,-4.15 C314.42,23.34 293,303.13 292,329.56 C291,355.99 279.42,316.63 277,313 C274.58,309.37 265.33,289.68 263,286.02 C260.67,282.35 255.33,273.39 249,269.03 C242.67,264.67 198.5,239.47 187,233.66 C175.5,227.86 119.33,204.15 111,199.31 C102.67,194.48 92.33,179.83 87,175.62 C81.67,171.42 52.83,152.64 47,148.81 C41.17,144.98 22,132.55 17,129.7 C12,126.84 -10.5,125.43 -13,114.58 C-15.5,103.74 -38.17,9.48 -13,-0.42Z" fill="#34109a"/><path d="M252,264.74 C255.83,265.26 266.67,279.77 272,286.15 C277.33,292.52 282,295.19 284,302.99 C286,310.8 286.83,330.94 284,332.99 C281.17,335.04 272.83,323.62 267,315.3 C261.17,306.97 251.5,291.46 249,283.03 C246.5,274.6 248.17,264.22 252,264.74Z" fill="#3c14a8"/><path d="M12,28.84 C12.83,13.65 15.33,24.75 17,25.7 C18.67,26.65 21.17,18.41 22,34.55 C22.83,50.69 22.83,107.36 22,122.55 C21.17,137.74 18.67,126.65 17,125.7 C15.33,124.75 12.83,132.99 12,116.84 C11.17,100.7 11.17,44.04 12,28.84Z" fill="#4418b8" opacity="0.7"/><path d="M58,35.08 C58.67,17.3 60.67,30.6 62,31.36 C63.33,32.13 65.33,21.1 66,39.65 C66.67,58.19 66.67,124.86 66,142.65 C65.33,160.43 63.33,147.13 62,146.36 C60.67,145.6 58.67,156.63 58,138.08 C57.33,119.54 57.33,52.87 58,35.08Z" fill="#3c14a8" opacity="0.8"/><path d="M94.5,25.9 C95.25,6.5 97.5,21.61 99,22.47 C100.5,23.33 102.75,10.78 103.5,31.04 C104.25,51.3 104.25,124.63 103.5,144.04 C102.75,163.44 100.5,148.33 99,147.47 C97.5,146.61 95.25,159.16 94.5,138.9 C93.75,118.64 93.75,45.31 94.5,25.9Z" fill="#4418b8" opacity="0.6"/><path d="M123,-7.84 C123.67,-18.96 125.67,-12.32 127,-11.56 C128.33,-10.8 130.33,-15.16 131,-3.28 C131.67,8.6 131.67,48.6 131,59.72 C130.33,70.84 128.33,64.2 127,63.44 C125.67,62.68 123.67,67.04 123,55.16 C122.33,43.28 122.33,3.28 123,-7.84Z" fill="#3c14a8" opacity="0.7"/><path d="M222,-14.37 C222.83,-25.9 225.33,-18.47 227,-17.52 C228.67,-16.57 231.17,-21.14 232,-8.67 C232.83,3.81 232.83,45.81 232,57.33 C231.17,68.86 228.67,61.43 227,60.48 C225.33,59.53 222.83,64.1 222,51.63 C221.17,39.15 221.17,-2.85 222,-14.37Z" fill="#4418b8" opacity="0.7"/><path d="M270,6.01 C270.67,-33.45 272.67,1.53 274,2.29 C275.33,3.05 277.33,-29.64 278,10.57 C278.67,50.78 278.67,204.12 278,243.57 C277.33,283.02 275.33,248.05 274,247.29 C272.67,246.53 270.67,279.22 270,239.01 C269.33,198.79 269.33,45.46 270,6.01Z" fill="#3c14a8" opacity="0.8"/><path d="M36,67.53 C36.5,55.49 38,62.68 39,63.25 C40,63.82 41.5,58.34 42,70.96 C42.5,83.58 42.5,126.91 42,138.96 C41.5,151 40,143.82 39,143.25 C38,142.68 36.5,148.15 36,135.53 C35.5,122.92 35.5,79.58 36,67.53Z" fill="#2c0c88" opacity="0.5"/><path d="M79.5,32.35 C79.92,11.92 81.17,27.3 82,27.77 C82.83,28.25 84.08,14.29 84.5,35.2 C84.92,56.1 84.92,132.77 84.5,153.2 C84.08,173.63 82.83,158.25 82,157.77 C81.17,157.3 79.92,171.25 79.5,150.35 C79.08,129.44 79.08,52.78 79.5,32.35Z" fill="#2c0c88" opacity="0.4"/><path d="M262,96.44 C262.5,67.73 264,91.59 265,92.16 C266,92.73 267.5,70.58 268,99.87 C268.5,129.15 268.5,239.15 268,267.87 C267.5,296.58 266,272.73 265,272.16 C264,271.59 262.5,293.73 262,264.44 C261.5,235.16 261.5,125.16 262,96.44Z" fill="#2c0c88" opacity="0.5"/><path d="M172,-15.89 C176.5,-22.32 200.45,-13.91 212,-8.08 C223.55,-2.24 244.5,13.71 249,23.03 C253.5,32.35 247.55,48.2 242,54.04 C236.45,59.87 221,64.81 212,61.92 C203,59.04 188,46.49 182,34.81 C176,23.14 167.5,-9.46 172,-15.89Z" fill="#4418b8"/><path d="M7,34.99 C13.3,29.14 35,36.71 47,39.81 C59,42.9 80.25,47.57 87,55.62 C93.75,63.67 95,83.94 92,93.48 C89,103.02 76.75,117.28 67,119.22 C57.25,121.16 36.3,112.46 27,106.4 C17.7,100.35 8,89.56 5,78.85 C2,68.14 0.7,40.85 7,34.99Z" fill="#4418b8"/><path d="M259,-1.27 C262.75,-8.13 280.25,-11.15 284,2.99 C287.75,17.13 286.25,79.28 284,92.99 C281.75,106.71 272.75,101.08 269,94.44 C265.25,87.8 260.5,63.09 259,48.73 C257.5,34.38 255.25,5.59 259,-1.27Z" fill="#4418b8"/><path d="M47,-32.19 C54.5,-36.91 86.5,-31.16 97,-23.67 C107.5,-16.18 118.5,9.59 117,17.74 C115.5,25.88 97.5,32.11 87,30.62 C76.5,29.14 53,17.23 47,7.81 C41,-1.61 39.5,-27.47 47,-32.19Z" fill="#3c14a8"/><path d="M179,61.1 C181.68,57.97 195,58.46 202,62.22 C209,65.98 235.73,85.98 239,93.33 C242.27,100.67 233.27,118.42 230,125.19 C226.73,131.96 214.73,146.6 211,151.35 C207.27,156.11 200.1,166.9 198,165.94 C195.9,164.97 193.93,149.34 193,143.09 C192.07,136.84 191.63,118.67 190,112.38 C188.37,106.08 180.28,95.08 179,89.1 C177.72,83.12 176.32,64.24 179,61.1Z" fill="#2c0c88"/><path d="M135,33 C138.5,32.43 144.42,46.48 145,51.71 C145.58,56.94 141.28,71.82 140,77.86 C138.72,83.89 136.22,100.03 134,103.43 C131.78,106.84 123.22,101.17 121,107.02 C118.78,112.87 115.47,144.41 115,153.6 C114.53,162.78 117.47,180.64 117,185.74 C116.53,190.84 113.57,197.85 111,197.31 C108.43,196.78 96.63,187.14 95,181.19 C93.37,175.24 95.95,155.76 97,146.33 C98.05,136.89 101.9,110.79 104,100.32 C106.1,89.85 111.38,64.45 115,56.6 C118.62,48.74 131.5,33.57 135,33Z" fill="#300e90"/><path d="M150.6,38 C151.62,39.1 159.25,65.28 161.1,68.89 C162.95,72.5 176.39,89.22 178.3,92.1 C180.21,94.98 188.84,107.81 189.8,112.06 C190.76,116.32 192.12,152.27 192.7,155.92 C193.28,159.57 197.29,167.16 198.5,166.82 C199.71,166.49 208.8,153.66 210.9,150.9 C213,148.14 227.57,128.73 230,125.39 C232.43,122.05 245.31,103.46 247.3,100.76 C249.29,98.06 259.23,84.56 259.8,84.89 C260.37,85.22 256.54,100.66 255.9,105.67 C255.26,110.67 250.77,153.21 250.2,159.91 C249.63,166.61 247.37,200.45 247.3,206.16 C247.23,211.87 248.31,242.09 249.2,245.54 C250.09,248.99 260.31,256.4 260.7,257.9 C261.09,259.4 255.91,266.76 255,268.05 C254.09,269.34 248.53,275.63 247.1,277.25 C245.67,278.86 235.11,290.08 233.6,292.25 C232.09,294.41 224.65,307.78 224.5,309.65 C224.35,311.53 232.21,319.94 231.3,320.33 C230.39,320.72 213.01,315.8 210.9,315.5 C208.79,315.2 201.71,316.15 199.6,315.85 C197.49,315.55 181.47,311.56 179.2,311.02 C176.93,310.48 166.81,307.84 165.6,307.76 C164.39,307.67 161.91,309.04 161,309.73 C160.09,310.43 153.81,316.82 152,318.2 C150.19,319.58 136.47,328.92 133.9,330.48 C131.33,332.03 115.61,340.03 113.5,341.54 C111.39,343.05 103.86,352.18 102.2,353.19 C100.54,354.21 89.21,357.55 88.6,356.74 C87.99,355.93 93,343.16 93,341.05 C93,338.93 90.11,326.95 88.6,325.04 C87.09,323.12 73.57,314.17 70.4,312.36 C67.23,310.55 42.21,299.48 41,297.89 C39.79,296.29 50.64,289.75 52.3,288.43 C53.96,287.11 64.84,279.59 65.9,278.09 C66.96,276.59 68.5,268.19 68.2,265.9 C67.9,263.62 62.76,247.33 61.4,243.82 C60.04,240.31 49.16,217.36 47.8,213.27 C46.44,209.17 41.75,187.04 41,182.39 C40.25,177.74 34.23,144.49 36.5,143.52 C38.77,142.55 70.47,164.74 75,167.78 C79.53,170.82 101.98,187.07 104.4,189.05 C106.82,191.03 110.46,197.73 111.3,197.49 C112.14,197.24 116.75,188.35 117,185.44 C117.25,182.52 115.1,157.33 115.1,153.75 C115.1,150.18 116.61,134.94 117,131.84 C117.39,128.74 119.75,109.16 120.9,107.26 C122.05,105.37 133.03,105.37 134.3,103.4 C135.57,101.44 139.23,81.25 140,77.86 C140.77,74.46 145.09,55.12 145.8,52.46 C146.51,49.81 149.58,36.91 150.6,38Z" fill="#3e14a8"/><path d="M150.6,38 C152.38,39.92 157.87,62.58 161.1,68.89 C164.33,75.2 174.95,87.07 178.3,92.1 C181.65,97.14 188.12,104.62 189.8,112.06 C191.48,119.51 193.03,148.85 192.7,155.92 C192.37,162.99 189.41,170.54 187,172.66 C184.59,174.79 175.5,176.69 172,174.11 C168.5,171.53 159.92,156.88 157,150.55 C154.08,144.22 149.1,126.88 147,119.85 C144.9,112.82 139.14,98.15 139,90.29 C138.86,82.42 144.45,58.56 145.8,52.46 C147.15,46.36 148.81,36.09 150.6,38Z" fill="#3812a0"/><path d="M259.8,84.89 C260.8,85.46 257.02,96.91 255.9,105.67 C254.78,114.42 251.47,149.99 250.2,159.91 C248.93,169.84 247.71,186.02 245,190.75 C242.29,195.48 231.2,199.96 227,200.48 C222.8,201 212.32,199.14 209,195.21 C205.68,191.29 198.28,171.99 198.5,166.82 C198.72,161.65 207.22,155.73 210.9,150.9 C214.58,146.06 225.75,131.24 230,125.39 C234.25,119.54 243.82,105.49 247.3,100.76 C250.78,96.03 258.8,84.32 259.8,84.89Z" fill="#3812a0"/><path d="M259.8,84.89 C260.8,85.46 256.81,99.85 255.9,105.67 C254.99,111.48 253.62,132.01 252,134.74 C250.38,137.47 242.55,133 242,129.04 C241.45,125.07 245.22,105.91 247.3,100.76 C249.38,95.61 258.8,84.32 259.8,84.89Z" fill="#4418b0"/><path d="M134.3,103.4 C137.34,104.29 144.35,109.35 147,114.85 C149.65,120.35 154.9,142.35 157,150.55 C159.1,158.75 164.42,177.2 165,185.12 C165.58,193.03 164.1,213.77 162,218.4 C159.9,223.04 151.08,226.01 147,224.85 C142.92,223.69 130.73,216.75 127,208.44 C123.27,200.13 116.17,162.53 115,153.6 C113.83,144.66 116.31,137.24 117,131.84 C117.69,126.43 118.88,110.58 120.9,107.26 C122.92,103.94 131.26,102.52 134.3,103.4Z" fill="#3a12a4"/><path d="M209,195.21 C214.6,193.97 240.31,186.88 245,192.75 C249.69,198.62 247.37,237.94 249.2,245.54 C251.03,253.15 260.02,255.28 260.7,257.9 C261.38,260.53 257.18,265.59 255,268.05 C252.82,270.52 245.27,277 242,279.04 C238.73,281.07 231.67,286.04 227,285.48 C222.33,284.92 206.08,279.47 202,274.22 C197.92,268.97 192.58,248.78 192,240.52 C191.42,232.25 195.02,208.65 197,203.37 C198.98,198.08 203.4,196.45 209,195.21Z" fill="#4618b4"/><path d="M36.5,143.52 C40.47,141.82 67.08,162.47 75,167.78 C82.92,173.09 100.17,185.58 104.4,189.05 C108.64,192.52 108.66,195.22 111.3,197.49 C113.94,199.75 122.83,205.25 127,208.44 C131.16,211.63 142.92,223.1 147,224.85 C151.08,226.59 158.5,220.24 162,223.4 C165.5,226.57 174.08,244.46 177,251.96 C179.92,259.46 186.74,280.78 187,287.66 C187.26,294.55 181.7,308.67 179.2,311.02 C176.7,313.36 167.72,307.91 165.6,307.76 C163.48,307.61 162.59,308.52 161,309.73 C159.41,310.95 155.16,315.78 152,318.2 C148.84,320.62 138.39,327.75 133.9,330.48 C129.41,333.2 117.2,338.89 113.5,341.54 C109.8,344.19 105.11,351.42 102.2,353.19 C99.3,354.97 89.67,358.15 88.6,356.74 C87.53,355.32 93,344.75 93,341.05 C93,337.35 91.24,328.38 88.6,325.04 C85.96,321.69 75.95,315.52 70.4,312.36 C64.85,309.19 43.11,300.68 41,297.89 C38.89,295.1 49.39,290.74 52.3,288.43 C55.2,286.12 64.05,280.72 65.9,278.09 C67.76,275.46 68.73,269.9 68.2,265.9 C67.67,261.9 63.78,249.96 61.4,243.82 C59.02,237.68 50.18,220.43 47.8,213.27 C45.42,206.1 42.32,190.52 41,182.39 C39.68,174.25 32.53,145.22 36.5,143.52Z" fill="#5020c4"/><path d="M187,267.66 C192.25,267.74 221.56,282.61 227,285.48 C232.44,288.35 233.89,289.43 233.6,292.25 C233.31,295.07 224.77,306.38 224.5,309.65 C224.23,312.93 234.21,319.61 231.3,320.33 C228.4,321.06 205.68,316.94 199.6,315.85 C193.52,314.76 181.25,314.64 179.2,311.02 C177.15,307.39 181.09,289.87 182,284.81 C182.91,279.76 181.75,267.59 187,267.66Z" fill="#5020c4"/><path d="M182,164.81 C183.98,158.01 195.85,162.38 199,166.51 C202.15,170.64 209.23,191.25 209,200.21 C208.77,209.18 200.15,240.5 197,243.37 C193.85,246.24 183.75,233.98 182,224.81 C180.25,215.65 180.02,171.61 182,164.81Z" fill="#4a1cbc"/><path d="M72,204.07 C78.33,207.85 94.5,223.9 107,237.03 C119.5,250.16 139,272.79 147,282.85 C155,292.91 156.67,297.7 155,297.41 C153.33,297.13 146.67,289.99 137,281.14 C127.33,272.3 108.33,255.46 97,244.33 C85.67,233.2 73.17,221.07 69,214.36 C64.83,207.65 65.67,200.29 72,204.07Z" fill="#5424cc"/><path d="M97,298.33 C100.33,295.23 117.83,294.88 127,295.44 C136.17,296 150.33,299.42 152,301.7 C153.67,303.98 144.5,307.09 137,309.14 C129.5,311.2 113.67,315.84 107,314.03 C100.33,312.23 93.67,301.43 97,298.33Z" fill="#5424cc"/><path d="M165,235.12 C166.67,227.73 172.67,227.82 175,235.82 C177.33,243.82 179.67,272.65 179,283.1 C178.33,293.55 173.33,299.04 171,298.54 C168.67,298.04 166,290.69 165,280.12 C164,269.55 163.33,242.5 165,235.12Z" fill="#5424cc"/><path d="M187,227.66 C188.17,221.33 195.33,221.75 199,222.51 C202.67,223.27 210.17,225.88 209,232.21 C207.83,238.55 195.67,261.27 192,260.52 C188.33,259.76 185.83,234 187,227.66Z" fill="#5424cc"/><path d="M163,308.98 C158.67,302.34 148,283.75 137,269.14 C126,254.54 110.33,235.6 97,221.33 C83.67,207.06 63.67,189.82 57,183.51" fill="none" stroke="#2c0c88" stroke-width="2.4" opacity="0.7"/><path d="M163,308.98 C157,308.05 139.67,303.17 127,303.44 C114.33,303.72 93.67,309.43 87,310.62" fill="none" stroke="#2c0c88" stroke-width="2.4" opacity="0.7"/><path d="M163,308.98 C162,300.9 158.83,279.1 157,260.55 C155.17,242.01 153.17,220.03 152,197.7 C150.83,175.37 150.33,138.42 150,126.56" fill="none" stroke="#2c0c88" stroke-width="2.4" opacity="0.7"/><path d="M165,309.12 C168.67,303.87 179.17,288.86 187,277.66 C194.83,266.47 203.67,252.17 212,241.92 C220.33,231.68 232.83,220.47 237,216.18" fill="none" stroke="#2c0c88" stroke-width="2.4" opacity="0.7"/><path d="M163.3,311.05 C164.75,317.39 169.22,336.17 172,349.11 C174.78,362.05 177.3,375.67 180,388.67 C182.7,401.68 186.83,420.74 188.2,427.15" fill="none" stroke="#3810a0" stroke-width="2.6"/><path d="M41,297.89 C43.67,299.16 52.1,303.1 57,305.51 C61.9,307.92 65.13,309.1 70.4,312.36 C75.67,315.61 84.83,320.26 88.6,325.04 C92.37,329.82 93,335.76 93,341.05 C93,346.33 87.93,354.52 88.6,356.74 C89.27,358.95 95.6,354.73 97,354.33" fill="none" stroke="#1c0860" stroke-width="4.0" stroke-linecap="round" stroke-linejoin="round"/><path d="M165.6,309.96 C167.87,310.5 173.53,311.82 179.2,313.22 C184.87,314.61 194.32,317.5 199.6,318.35 C204.88,319.2 205.62,317.53 210.9,318.3 C216.18,319.06 226.95,322.45 231.3,322.93 C235.65,323.41 236.05,321.48 237,321.18" fill="none" stroke="#1c0860" stroke-width="3.4" stroke-linecap="round" stroke-linejoin="round"/><path d="M160,314.26 C160.5,319.22 162,334.57 163,343.98 C164,353.38 164.67,361.59 166,370.69 C167.33,379.78 169,389.56 171,398.54 C173,407.51 176.83,420.2 178,424.53" fill="none" stroke="#1c0860" stroke-width="3.0" stroke-linecap="round" stroke-linejoin="round"/><path d="M36,145.53 C36.33,148.72 37.17,157.87 38,164.68 C38.83,171.48 40.5,182.77 41,186.39" fill="none" stroke="#1c0860" stroke-width="3.0" stroke-linecap="round" stroke-linejoin="round"/></g></g></g>
<circle cx="886" cy="995.3" r="2.9" fill="#000"/>
<circle cx="886" cy="1008.4" r="2.9" fill="#000"/>
<circle cx="886" cy="1020.9" r="2.9" fill="#000"/>
<g font-family="'Liberation Sans', Arial, sans-serif"><text x="2" y="26.7" font-family="'Liberation Serif', 'Times New Roman', serif" font-size="35.5" fill="#000">(a)</text>
<text x="1.3" y="818.2" font-family="'Liberation Serif', 'Times New Roman', serif" font-size="35.5" fill="#000">(b)</text>
<text x="1143.3" y="27" font-family="'Liberation Serif', 'Times New Roman', serif" font-size="35.5" fill="#000">(c)</text>
<text x="1142.7" y="430.4" font-family="'Liberation Serif', 'Times New Roman', serif" font-size="35.5" fill="#000">(d)</text>
<text x="1143.3" y="819.5" font-family="'Liberation Serif', 'Times New Roman', serif" font-size="35.5" fill="#000">(e)</text>
<text x="67.33" y="83" font-size="30" fill="#000" xml:space="preserve"><tspan font-style="italic">S</tspan><tspan> (<tspan font-family="'Liberation Serif', serif" font-style="italic">λ</tspan>, </tspan><tspan font-style="italic">x</tspan><tspan>, </tspan><tspan font-style="italic">y</tspan><tspan>)</tspan></text>
<text x="957" y="40" font-family="'Liberation Sans', Arial, sans-serif" font-size="30" fill="#000">Filters</text>
<text x="968.62" y="98" font-size="30" fill="#000" xml:space="preserve"><tspan font-style="italic">R</tspan><tspan font-style="italic" font-size="21" dy="9">i</tspan><tspan dy="-9"> (<tspan font-family="'Liberation Serif', serif" font-style="italic">λ</tspan>)</tspan></text>
<text x="493.12" y="143.6" font-size="30" fill="#000" xml:space="preserve"><tspan font-style="italic">R</tspan><tspan font-style="italic" font-size="21" dy="9">i</tspan><tspan dy="-9"> (<tspan font-family="'Liberation Serif', serif" font-style="italic">λ</tspan>)</tspan></text>
<text x="564.42" y="306.5" font-size="30" fill="#000" xml:space="preserve"><tspan font-style="italic">L</tspan><tspan> (<tspan font-family="'Liberation Serif', serif" font-style="italic">λ</tspan>)</tspan></text>
<text x="787.98" y="108.3" font-family="'Liberation Sans', Arial, sans-serif" font-size="30" fill="#000">Active</text>
<text x="767.15" y="144.2" font-family="'Liberation Sans', Arial, sans-serif" font-size="30" fill="#000">encoding</text>
<text x="774" y="365.4" font-family="'Liberation Sans', Arial, sans-serif" font-size="30" fill="#000">Passive</text>
<text x="766.05" y="401.3" font-family="'Liberation Sans', Arial, sans-serif" font-size="30" fill="#000">encoding</text>
<text x="498.73" y="391.2" font-size="30" fill="#000" xml:space="preserve"><tspan font-style="italic">R</tspan><tspan font-style="italic" font-size="21" dy="9">i</tspan><tspan dy="-9"> (<tspan font-family="'Liberation Serif', serif" font-style="italic">λ</tspan>)</tspan></text>
<text x="557.62" y="584.8" font-size="30" fill="#000" xml:space="preserve"><tspan font-style="italic">D</tspan><tspan> (<tspan font-family="'Liberation Serif', serif" font-style="italic">λ</tspan>)</tspan></text>
<text x="908.17" y="579" font-size="30" fill="#000" xml:space="preserve"><tspan font-style="italic">I</tspan><tspan font-style="italic" font-size="21" dy="9">i</tspan><tspan dy="-9"> (</tspan><tspan font-style="italic">x</tspan><tspan>, </tspan><tspan font-style="italic">y</tspan><tspan>)</tspan></text>
<text transform="translate(154.4,662.6) scale(0.77,1)" font-size="63.2" font-family="'Liberation Serif', 'Times New Roman', serif">∫</text>
<text y="659.9" font-size="34" fill="#000" xml:space="preserve"><tspan x="172.6" font-style="italic">L</tspan><tspan x="192.38">(<tspan font-family="'Liberation Serif', serif" font-style="italic">λ</tspan>)</tspan><tspan x="238.8" font-style="italic">S</tspan><tspan x="261.88">(<tspan font-family="'Liberation Serif', serif" font-style="italic">λ</tspan>, </tspan><tspan x="312.38" font-style="italic">x</tspan><tspan>, </tspan><tspan x="347.57" font-style="italic">y</tspan><tspan x="365.15">)</tspan><tspan x="382.6" font-style="italic">R</tspan><tspan x="403.93" font-style="italic" font-size="23.8" dy="10.2">i</tspan><tspan x="414.77" dy="-10.2">(<tspan font-family="'Liberation Serif', serif" font-style="italic">λ</tspan>)</tspan><tspan x="459.1" font-style="italic">D</tspan><tspan x="484.48">(<tspan font-family="'Liberation Serif', serif" font-style="italic">λ</tspan>)</tspan><tspan x="530.88" font-style="italic">d</tspan><tspan x="548.35"><tspan font-family="'Liberation Serif', serif" font-style="italic">λ</tspan></tspan><tspan x="574.17">=</tspan><tspan x="604.73" font-style="italic">I</tspan><tspan x="612.42" font-style="italic" font-size="23.8" dy="10.2">i</tspan><tspan x="622.88" dy="-10.2">(</tspan><tspan x="636.17" font-style="italic">x</tspan><tspan>, </tspan><tspan x="672.98" font-style="italic">y</tspan><tspan x="690.55">)</tspan></text>
<text x="334.38" y="884.8" font-size="30" fill="#000" xml:space="preserve"><tspan font-style="italic">I</tspan><tspan dx="-3.5" font-size="21" dy="9">1</tspan><tspan dx="3" dy="-9"> (</tspan><tspan font-style="italic">x</tspan><tspan>, </tspan><tspan font-style="italic">y</tspan><tspan>)</tspan></text>
<text x="334.38" y="936.9" font-size="30" fill="#000" xml:space="preserve"><tspan font-style="italic">I</tspan><tspan dx="-3.5" font-size="21" dy="9">2</tspan><tspan dx="3" dy="-9"> (</tspan><tspan font-style="italic">x</tspan><tspan>, </tspan><tspan font-style="italic">y</tspan><tspan>)</tspan></text>
<text x="334.38" y="1046.6" font-size="30" fill="#000" xml:space="preserve"><tspan font-style="italic">I</tspan><tspan dx="-3.5" font-size="21" dy="9">16</tspan><tspan dx="3" dy="-9"> (</tspan><tspan font-style="italic">x</tspan><tspan>, </tspan><tspan font-style="italic">y</tspan><tspan>)</tspan></text>
<text x="615.12" y="867.6" font-size="30" fill="#000" xml:space="preserve"><tspan font-style="italic">S′</tspan><tspan> (<tspan font-family="'Liberation Serif', serif" font-style="italic">λ</tspan></tspan><tspan font-size="21" dy="9">1</tspan><tspan dy="-9">, </tspan><tspan font-style="italic">x</tspan><tspan>, </tspan><tspan font-style="italic">y</tspan><tspan>)</tspan></text>
<text x="615.12" y="915.9" font-size="30" fill="#000" xml:space="preserve"><tspan font-style="italic">S′</tspan><tspan> (<tspan font-family="'Liberation Serif', serif" font-style="italic">λ</tspan></tspan><tspan font-size="21" dy="9">2</tspan><tspan dy="-9">, </tspan><tspan font-style="italic">x</tspan><tspan>, </tspan><tspan font-style="italic">y</tspan><tspan>)</tspan></text>
<text x="615.12" y="968.8" font-size="30" fill="#000" xml:space="preserve"><tspan font-style="italic">S′</tspan><tspan> (<tspan font-family="'Liberation Serif', serif" font-style="italic">λ</tspan></tspan><tspan font-size="21" dy="9">3</tspan><tspan dy="-9">, </tspan><tspan font-style="italic">x</tspan><tspan>, </tspan><tspan font-style="italic">y</tspan><tspan>)</tspan></text>
<text x="615.12" y="1078.2" font-size="30" fill="#000" xml:space="preserve"><tspan font-style="italic">S′</tspan><tspan> (<tspan font-family="'Liberation Serif', serif" font-style="italic">λ</tspan></tspan><tspan font-style="italic" font-size="21" dy="9">N</tspan><tspan dx="5.5" dy="-9">, </tspan><tspan font-style="italic">x</tspan><tspan>, </tspan><tspan font-style="italic">y</tspan><tspan>)</tspan></text>
<text x="110.97" y="1140.8" font-family="'Liberation Sans', Arial, sans-serif" font-size="34" fill="#000">Initial data</text>
<text x="494.95" y="1140.8" font-family="'Liberation Sans', Arial, sans-serif" font-size="34" fill="#000">DNN</text>
<text x="739.25" y="1140.8" font-family="'Liberation Sans', Arial, sans-serif" font-size="34" fill="#000">Reconstructed data</text></g>
<path d="M1243.6,81.86V282.5H1958.3" fill="none" stroke="#3d3d3d" stroke-width="1.3"/>
<path d="M1243.6,198.9h7.5" stroke="#3d3d3d" stroke-width="1.3"/>
<path d="M1243.6,115.3h7.5" stroke="#3d3d3d" stroke-width="1.3"/>
<path d="M1386.54,282.5v-7.5" stroke="#3d3d3d" stroke-width="1.3"/>
<path d="M1529.48,282.5v-7.5" stroke="#3d3d3d" stroke-width="1.3"/>
<path d="M1672.42,282.5v-7.5" stroke="#3d3d3d" stroke-width="1.3"/>
<path d="M1815.36,282.5v-7.5" stroke="#3d3d3d" stroke-width="1.3"/>
<path d="M1958.3,282.5v-7.5" stroke="#3d3d3d" stroke-width="1.3"/>
<path d="M1243.6,282.5 L1317.16,282.48 L1317.73,282.46 L1318.3,282.44 L1318.87,282.41 L1319.44,282.36 L1320.02,282.29 L1320.59,282.19 L1321.16,282.05 L1321.73,281.86 L1322.3,281.58 L1322.87,281.21 L1323.45,280.7 L1324.02,280.02 L1324.59,279.13 L1325.16,277.97 L1325.73,276.48 L1326.31,274.59 L1326.88,272.23 L1327.45,269.32 L1328.02,265.78 L1328.59,261.54 L1329.16,256.52 L1329.74,250.68 L1330.31,243.98 L1330.88,236.41 L1331.45,228 L1332.02,218.79 L1332.59,208.9 L1333.17,198.46 L1333.74,187.66 L1334.31,176.71 L1334.88,165.86 L1335.45,155.4 L1336.03,145.61 L1336.6,136.77 L1337.17,129.17 L1337.74,123.05 L1338.31,118.61 L1338.88,116 L1339.46,115.32 L1340.03,116.59 L1340.6,119.76 L1341.17,124.72 L1341.74,131.31 L1342.31,139.31 L1342.89,148.46 L1343.46,158.48 L1344.03,169.09 L1344.6,179.99 L1345.17,190.92 L1345.74,201.64 L1346.32,211.94 L1346.89,221.63 L1347.46,230.61 L1348.03,238.77 L1348.6,246.08 L1349.18,252.52 L1349.75,258.11 L1350.32,262.89 L1350.89,266.91 L1351.46,270.25 L1352.03,272.99 L1352.61,275.2 L1353.18,276.97 L1353.75,278.35 L1354.32,279.43 L1354.89,280.25 L1355.46,280.87 L1356.04,281.33 L1356.61,281.68 L1357.18,281.92 L1357.75,282.1 L1358.32,282.23 L1358.9,282.32 L1359.47,282.38 L1360.04,282.42 L1360.61,282.45 L1361.18,282.47 L1950.58,282.5" fill="none" stroke="#1a8ff0" stroke-width="4.6" stroke-linejoin="round"/><path d="M1243.6,282.5 L1364.33,282.48 L1364.9,282.46 L1365.47,282.44 L1366.04,282.41 L1366.61,282.36 L1367.19,282.29 L1367.76,282.19 L1368.33,282.05 L1368.9,281.86 L1369.47,281.58 L1370.04,281.21 L1370.62,280.7 L1371.19,280.02 L1371.76,279.13 L1372.33,277.97 L1372.9,276.48 L1373.48,274.59 L1374.05,272.23 L1374.62,269.32 L1375.19,265.78 L1375.76,261.54 L1376.33,256.52 L1376.91,250.68 L1377.48,243.98 L1378.05,236.41 L1378.62,228 L1379.19,218.79 L1379.76,208.9 L1380.34,198.46 L1380.91,187.66 L1381.48,176.71 L1382.05,165.86 L1382.62,155.4 L1383.2,145.61 L1383.77,136.77 L1384.34,129.17 L1384.91,123.05 L1385.48,118.61 L1386.05,116 L1386.63,115.32 L1387.2,116.59 L1387.77,119.76 L1388.34,124.72 L1388.91,131.31 L1389.48,139.31 L1390.06,148.46 L1390.63,158.48 L1391.2,169.09 L1391.77,179.99 L1392.34,190.92 L1392.92,201.64 L1393.49,211.94 L1394.06,221.63 L1394.63,230.61 L1395.2,238.77 L1395.77,246.08 L1396.35,252.52 L1396.92,258.11 L1397.49,262.89 L1398.06,266.91 L1398.63,270.25 L1399.2,272.99 L1399.78,275.2 L1400.35,276.97 L1400.92,278.35 L1401.49,279.43 L1402.06,280.25 L1402.64,280.87 L1403.21,281.33 L1403.78,281.68 L1404.35,281.92 L1404.92,282.1 L1405.49,282.23 L1406.07,282.32 L1406.64,282.38 L1407.21,282.42 L1407.78,282.45 L1408.35,282.47 L1950.58,282.5" fill="none" stroke="#1ac8f5" stroke-width="4.6" stroke-linejoin="round"/><path d="M1243.6,282.5 L1420.36,282.48 L1420.93,282.46 L1421.5,282.44 L1422.07,282.41 L1422.65,282.36 L1423.22,282.29 L1423.79,282.19 L1424.36,282.05 L1424.93,281.86 L1425.51,281.58 L1426.08,281.21 L1426.65,280.7 L1427.22,280.02 L1427.79,279.13 L1428.36,277.97 L1428.94,276.48 L1429.51,274.59 L1430.08,272.23 L1430.65,269.32 L1431.22,265.78 L1431.79,261.54 L1432.37,256.52 L1432.94,250.68 L1433.51,243.98 L1434.08,236.41 L1434.65,228 L1435.23,218.79 L1435.8,208.9 L1436.37,198.46 L1436.94,187.66 L1437.51,176.71 L1438.08,165.86 L1438.66,155.4 L1439.23,145.61 L1439.8,136.77 L1440.37,129.17 L1440.94,123.05 L1441.51,118.61 L1442.09,116 L1442.66,115.32 L1443.23,116.59 L1443.8,119.76 L1444.37,124.72 L1444.95,131.31 L1445.52,139.31 L1446.09,148.46 L1446.66,158.48 L1447.23,169.09 L1447.8,179.99 L1448.38,190.92 L1448.95,201.64 L1449.52,211.94 L1450.09,221.63 L1450.66,230.61 L1451.23,238.77 L1451.81,246.08 L1452.38,252.52 L1452.95,258.11 L1453.52,262.89 L1454.09,266.91 L1454.67,270.25 L1455.24,272.99 L1455.81,275.2 L1456.38,276.97 L1456.95,278.35 L1457.52,279.43 L1458.1,280.25 L1458.67,280.87 L1459.24,281.33 L1459.81,281.68 L1460.38,281.92 L1460.95,282.1 L1461.53,282.23 L1462.1,282.32 L1462.67,282.38 L1463.24,282.42 L1463.81,282.45 L1464.39,282.47 L1950.58,282.5" fill="none" stroke="#26ecd8" stroke-width="4.6" stroke-linejoin="round"/><path d="M1243.6,282.5 L1488.11,282.48 L1488.68,282.46 L1489.26,282.44 L1489.83,282.41 L1490.4,282.36 L1490.97,282.29 L1491.54,282.19 L1492.12,282.05 L1492.69,281.86 L1493.26,281.58 L1493.83,281.21 L1494.4,280.7 L1494.97,280.02 L1495.55,279.13 L1496.12,277.97 L1496.69,276.48 L1497.26,274.59 L1497.83,272.23 L1498.4,269.32 L1498.98,265.78 L1499.55,261.54 L1500.12,256.52 L1500.69,250.68 L1501.26,243.98 L1501.84,236.41 L1502.41,228 L1502.98,218.79 L1503.55,208.9 L1504.12,198.46 L1504.69,187.66 L1505.27,176.71 L1505.84,165.86 L1506.41,155.4 L1506.98,145.61 L1507.55,136.77 L1508.12,129.17 L1508.7,123.05 L1509.27,118.61 L1509.84,116 L1510.41,115.32 L1510.98,116.59 L1511.56,119.76 L1512.13,124.72 L1512.7,131.31 L1513.27,139.31 L1513.84,148.46 L1514.41,158.48 L1514.99,169.09 L1515.56,179.99 L1516.13,190.92 L1516.7,201.64 L1517.27,211.94 L1517.84,221.63 L1518.42,230.61 L1518.99,238.77 L1519.56,246.08 L1520.13,252.52 L1520.7,258.11 L1521.28,262.89 L1521.85,266.91 L1522.42,270.25 L1522.99,272.99 L1523.56,275.2 L1524.13,276.97 L1524.71,278.35 L1525.28,279.43 L1525.85,280.25 L1526.42,280.87 L1526.99,281.33 L1527.56,281.68 L1528.14,281.92 L1528.71,282.1 L1529.28,282.23 L1529.85,282.32 L1530.42,282.38 L1531,282.42 L1531.57,282.45 L1532.14,282.47 L1950.58,282.5" fill="none" stroke="#5ee68a" stroke-width="4.6" stroke-linejoin="round"/><path d="M1243.6,282.5 L1561.3,282.48 L1561.87,282.46 L1562.44,282.44 L1563.01,282.41 L1563.59,282.36 L1564.16,282.29 L1564.73,282.19 L1565.3,282.05 L1565.87,281.86 L1566.44,281.58 L1567.02,281.21 L1567.59,280.7 L1568.16,280.02 L1568.73,279.13 L1569.3,277.97 L1569.87,276.48 L1570.45,274.59 L1571.02,272.23 L1571.59,269.32 L1572.16,265.78 L1572.73,261.54 L1573.31,256.52 L1573.88,250.68 L1574.45,243.98 L1575.02,236.41 L1575.59,228 L1576.16,218.79 L1576.74,208.9 L1577.31,198.46 L1577.88,187.66 L1578.45,176.71 L1579.02,165.86 L1579.59,155.4 L1580.17,145.61 L1580.74,136.77 L1581.31,129.17 L1581.88,123.05 L1582.45,118.61 L1583.03,116 L1583.6,115.32 L1584.17,116.59 L1584.74,119.76 L1585.31,124.72 L1585.88,131.31 L1586.46,139.31 L1587.03,148.46 L1587.6,158.48 L1588.17,169.09 L1588.74,179.99 L1589.31,190.92 L1589.89,201.64 L1590.46,211.94 L1591.03,221.63 L1591.6,230.61 L1592.17,238.77 L1592.75,246.08 L1593.32,252.52 L1593.89,258.11 L1594.46,262.89 L1595.03,266.91 L1595.6,270.25 L1596.18,272.99 L1596.75,275.2 L1597.32,276.97 L1597.89,278.35 L1598.46,279.43 L1599.03,280.25 L1599.61,280.87 L1600.18,281.33 L1600.75,281.68 L1601.32,281.92 L1601.89,282.1 L1602.47,282.23 L1603.04,282.32 L1603.61,282.38 L1604.18,282.42 L1604.75,282.45 L1605.32,282.47 L1950.58,282.5" fill="none" stroke="#b2ee3c" stroke-width="4.6" stroke-linejoin="round"/><path d="M1243.6,282.5 L1622.19,282.48 L1622.76,282.46 L1623.33,282.44 L1623.91,282.41 L1624.48,282.36 L1625.05,282.29 L1625.62,282.19 L1626.19,282.05 L1626.76,281.86 L1627.34,281.58 L1627.91,281.21 L1628.48,280.7 L1629.05,280.02 L1629.62,279.13 L1630.2,277.97 L1630.77,276.48 L1631.34,274.59 L1631.91,272.23 L1632.48,269.32 L1633.05,265.78 L1633.63,261.54 L1634.2,256.52 L1634.77,250.68 L1635.34,243.98 L1635.91,236.41 L1636.48,228 L1637.06,218.79 L1637.63,208.9 L1638.2,198.46 L1638.77,187.66 L1639.34,176.71 L1639.92,165.86 L1640.49,155.4 L1641.06,145.61 L1641.63,136.77 L1642.2,129.17 L1642.77,123.05 L1643.35,118.61 L1643.92,116 L1644.49,115.32 L1645.06,116.59 L1645.63,119.76 L1646.2,124.72 L1646.78,131.31 L1647.35,139.31 L1647.92,148.46 L1648.49,158.48 L1649.06,169.09 L1649.64,179.99 L1650.21,190.92 L1650.78,201.64 L1651.35,211.94 L1651.92,221.63 L1652.49,230.61 L1653.07,238.77 L1653.64,246.08 L1654.21,252.52 L1654.78,258.11 L1655.35,262.89 L1655.92,266.91 L1656.5,270.25 L1657.07,272.99 L1657.64,275.2 L1658.21,276.97 L1658.78,278.35 L1659.36,279.43 L1659.93,280.25 L1660.5,280.87 L1661.07,281.33 L1661.64,281.68 L1662.21,281.92 L1662.79,282.1 L1663.36,282.23 L1663.93,282.32 L1664.5,282.38 L1665.07,282.42 L1665.64,282.45 L1666.22,282.47 L1950.58,282.5" fill="none" stroke="#f5ee10" stroke-width="4.6" stroke-linejoin="round"/><path d="M1243.6,282.5 L1675.08,282.48 L1675.65,282.46 L1676.22,282.44 L1676.79,282.41 L1677.37,282.36 L1677.94,282.29 L1678.51,282.19 L1679.08,282.05 L1679.65,281.86 L1680.22,281.58 L1680.8,281.21 L1681.37,280.7 L1681.94,280.02 L1682.51,279.13 L1683.08,277.97 L1683.66,276.48 L1684.23,274.59 L1684.8,272.23 L1685.37,269.32 L1685.94,265.78 L1686.51,261.54 L1687.09,256.52 L1687.66,250.68 L1688.23,243.98 L1688.8,236.41 L1689.37,228 L1689.94,218.79 L1690.52,208.9 L1691.09,198.46 L1691.66,187.66 L1692.23,176.71 L1692.8,165.86 L1693.38,155.4 L1693.95,145.61 L1694.52,136.77 L1695.09,129.17 L1695.66,123.05 L1696.23,118.61 L1696.81,116 L1697.38,115.32 L1697.95,116.59 L1698.52,119.76 L1699.09,124.72 L1699.66,131.31 L1700.24,139.31 L1700.81,148.46 L1701.38,158.48 L1701.95,169.09 L1702.52,179.99 L1703.09,190.92 L1703.67,201.64 L1704.24,211.94 L1704.81,221.63 L1705.38,230.61 L1705.95,238.77 L1706.53,246.08 L1707.1,252.52 L1707.67,258.11 L1708.24,262.89 L1708.81,266.91 L1709.38,270.25 L1709.96,272.99 L1710.53,275.2 L1711.1,276.97 L1711.67,278.35 L1712.24,279.43 L1712.81,280.25 L1713.39,280.87 L1713.96,281.33 L1714.53,281.68 L1715.1,281.92 L1715.67,282.1 L1716.25,282.23 L1716.82,282.32 L1717.39,282.38 L1717.96,282.42 L1718.53,282.45 L1719.1,282.47 L1950.58,282.5" fill="none" stroke="#f8b40a" stroke-width="4.6" stroke-linejoin="round"/><path d="M1243.6,282.5 L1731.11,282.48 L1731.68,282.46 L1732.25,282.44 L1732.83,282.41 L1733.4,282.36 L1733.97,282.29 L1734.54,282.19 L1735.11,282.05 L1735.69,281.86 L1736.26,281.58 L1736.83,281.21 L1737.4,280.7 L1737.97,280.02 L1738.54,279.13 L1739.12,277.97 L1739.69,276.48 L1740.26,274.59 L1740.83,272.23 L1741.4,269.32 L1741.97,265.78 L1742.55,261.54 L1743.12,256.52 L1743.69,250.68 L1744.26,243.98 L1744.83,236.41 L1745.41,228 L1745.98,218.79 L1746.55,208.9 L1747.12,198.46 L1747.69,187.66 L1748.26,176.71 L1748.84,165.86 L1749.41,155.4 L1749.98,145.61 L1750.55,136.77 L1751.12,129.17 L1751.69,123.05 L1752.27,118.61 L1752.84,116 L1753.41,115.32 L1753.98,116.59 L1754.55,119.76 L1755.13,124.72 L1755.7,131.31 L1756.27,139.31 L1756.84,148.46 L1757.41,158.48 L1757.98,169.09 L1758.56,179.99 L1759.13,190.92 L1759.7,201.64 L1760.27,211.94 L1760.84,221.63 L1761.41,230.61 L1761.99,238.77 L1762.56,246.08 L1763.13,252.52 L1763.7,258.11 L1764.27,262.89 L1764.85,266.91 L1765.42,270.25 L1765.99,272.99 L1766.56,275.2 L1767.13,276.97 L1767.7,278.35 L1768.28,279.43 L1768.85,280.25 L1769.42,280.87 L1769.99,281.33 L1770.56,281.68 L1771.13,281.92 L1771.71,282.1 L1772.28,282.23 L1772.85,282.32 L1773.42,282.38 L1773.99,282.42 L1774.56,282.45 L1775.14,282.47 L1950.58,282.5" fill="none" stroke="#f87e12" stroke-width="4.6" stroke-linejoin="round"/><path d="M1243.6,282.5 L1786.86,282.48 L1787.43,282.46 L1788,282.44 L1788.57,282.41 L1789.14,282.36 L1789.72,282.29 L1790.29,282.19 L1790.86,282.05 L1791.43,281.86 L1792,281.58 L1792.58,281.21 L1793.15,280.7 L1793.72,280.02 L1794.29,279.13 L1794.86,277.97 L1795.43,276.48 L1796.01,274.59 L1796.58,272.23 L1797.15,269.32 L1797.72,265.78 L1798.29,261.54 L1798.86,256.52 L1799.44,250.68 L1800.01,243.98 L1800.58,236.41 L1801.15,228 L1801.72,218.79 L1802.3,208.9 L1802.87,198.46 L1803.44,187.66 L1804.01,176.71 L1804.58,165.86 L1805.15,155.4 L1805.73,145.61 L1806.3,136.77 L1806.87,129.17 L1807.44,123.05 L1808.01,118.61 L1808.58,116 L1809.16,115.32 L1809.73,116.59 L1810.3,119.76 L1810.87,124.72 L1811.44,131.31 L1812.02,139.31 L1812.59,148.46 L1813.16,158.48 L1813.73,169.09 L1814.3,179.99 L1814.87,190.92 L1815.45,201.64 L1816.02,211.94 L1816.59,221.63 L1817.16,230.61 L1817.73,238.77 L1818.3,246.08 L1818.88,252.52 L1819.45,258.11 L1820.02,262.89 L1820.59,266.91 L1821.16,270.25 L1821.74,272.99 L1822.31,275.2 L1822.88,276.97 L1823.45,278.35 L1824.02,279.43 L1824.59,280.25 L1825.17,280.87 L1825.74,281.33 L1826.31,281.68 L1826.88,281.92 L1827.45,282.1 L1828.02,282.23 L1828.6,282.32 L1829.17,282.38 L1829.74,282.42 L1830.31,282.45 L1830.88,282.47 L1950.58,282.5" fill="none" stroke="#f8481a" stroke-width="4.6" stroke-linejoin="round"/><path d="M1243.6,282.5 L1845.75,282.48 L1846.32,282.46 L1846.89,282.44 L1847.46,282.41 L1848.04,282.36 L1848.61,282.29 L1849.18,282.19 L1849.75,282.05 L1850.32,281.86 L1850.89,281.58 L1851.47,281.21 L1852.04,280.7 L1852.61,280.02 L1853.18,279.13 L1853.75,277.97 L1854.33,276.48 L1854.9,274.59 L1855.47,272.23 L1856.04,269.32 L1856.61,265.78 L1857.18,261.54 L1857.76,256.52 L1858.33,250.68 L1858.9,243.98 L1859.47,236.41 L1860.04,228 L1860.61,218.79 L1861.19,208.9 L1861.76,198.46 L1862.33,187.66 L1862.9,176.71 L1863.47,165.86 L1864.05,155.4 L1864.62,145.61 L1865.19,136.77 L1865.76,129.17 L1866.33,123.05 L1866.9,118.61 L1867.48,116 L1868.05,115.32 L1868.62,116.59 L1869.19,119.76 L1869.76,124.72 L1870.33,131.31 L1870.91,139.31 L1871.48,148.46 L1872.05,158.48 L1872.62,169.09 L1873.19,179.99 L1873.77,190.92 L1874.34,201.64 L1874.91,211.94 L1875.48,221.63 L1876.05,230.61 L1876.62,238.77 L1877.2,246.08 L1877.77,252.52 L1878.34,258.11 L1878.91,262.89 L1879.48,266.91 L1880.05,270.25 L1880.63,272.99 L1881.2,275.2 L1881.77,276.97 L1882.34,278.35 L1882.91,279.43 L1883.49,280.25 L1884.06,280.87 L1884.63,281.33 L1885.2,281.68 L1885.77,281.92 L1886.34,282.1 L1886.92,282.23 L1887.49,282.32 L1888.06,282.38 L1888.63,282.42 L1889.2,282.45 L1889.77,282.47 L1950.58,282.5" fill="none" stroke="#e81414" stroke-width="4.6" stroke-linejoin="round"/><path d="M1243.6,282.5 L1845.75,282.48 L1846.32,282.46 L1846.89,282.44 L1847.46,282.41 L1848.04,282.36 L1848.61,282.29 L1849.18,282.19 L1849.75,282.05 L1850.32,281.86 L1850.89,281.58 L1851.47,281.21 L1852.04,280.7 L1852.61,280.02 L1853.18,279.13 L1853.75,277.97 L1854.33,276.48 L1854.9,274.59 L1855.47,272.23 L1856.04,269.32 L1856.61,265.78 L1857.18,261.54 L1857.76,256.52 L1858.33,250.68 L1858.9,243.98 L1859.47,236.41 L1860.04,228 L1860.61,218.79 L1861.19,208.9 L1861.76,198.46 L1862.33,187.66 L1862.9,176.71 L1863.47,165.86 L1864.05,155.4 L1864.62,145.61 L1865.19,136.77 L1865.76,129.17 L1866.33,123.05 L1866.9,118.61 L1867.48,116 L1868.05,115.32 L1868.62,116.59 L1869.19,119.76 L1869.76,124.72 L1870.33,131.31 L1870.91,139.31 L1871.48,148.46 L1872.05,158.48 L1872.62,169.09 L1873.19,179.99 L1873.77,190.92 L1874.34,201.64 L1874.91,211.94 L1875.48,221.63 L1876.05,230.61 L1876.62,238.77 L1877.2,246.08 L1877.77,252.52 L1878.34,258.11 L1878.91,262.89 L1879.48,266.91 L1880.05,270.25 L1880.63,272.99 L1881.2,275.2 L1881.77,276.97 L1882.34,278.35 L1882.91,279.43 L1883.49,280.25 L1884.06,280.87 L1884.63,281.33 L1885.2,281.68 L1885.77,281.92 L1886.34,282.1 L1886.92,282.23 L1887.49,282.32 L1888.06,282.38 L1888.63,282.42 L1889.2,282.45 L1889.77,282.47 L1950.58,282.5" fill="none" stroke="#e81414" stroke-width="4.6" stroke-linejoin="round"/><path d="M1243.6,282.5 L1323.65,282.04 L1323.93,281.96 L1324.22,281.88 L1324.5,281.78 L1324.79,281.67 L1325.08,281.54 L1325.36,281.39 L1325.65,281.23 L1325.93,281.03 L1326.22,280.81 L1326.51,280.56 L1326.79,280.28 L1327.08,279.95 L1327.36,279.58 L1327.65,279.17 L1327.93,278.69 L1328.22,278.15 L1328.51,277.54 L1328.79,276.85 L1329.08,276.07 L1329.36,275.2 L1329.65,274.21 L1329.94,273.11 L1330.22,271.86 L1330.51,270.47 L1330.79,268.92 L1331.08,267.18 L1331.37,265.25 L1331.65,263.1 L1331.94,260.72 L1332.22,258.08 L1332.51,255.16 L1332.79,251.94 L1333.08,248.4 L1333.37,244.51 L1333.65,240.26 L1333.94,235.62 L1334.22,230.57 L1334.51,225.09 L1334.8,219.17 L1335.08,212.79 L1335.37,205.95 L1335.65,198.66 L1335.94,190.91 L1336.23,182.74 L1336.51,174.18 L1336.8,165.3 L1337.08,156.17 L1337.37,146.93 L1337.65,137.77 L1337.94,128.95 L1338.23,120.99 L1338.51,115.3 L1338.8,120.99 L1339.08,128.95 L1339.37,137.77 L1339.66,146.93 L1339.94,156.17 L1340.23,165.3 L1340.51,174.18 L1340.8,182.74 L1341.09,190.91 L1341.37,198.66 L1341.66,205.95 L1341.94,212.79 L1342.23,219.17 L1342.51,225.09 L1342.8,230.57 L1343.09,235.62 L1343.37,240.26 L1343.66,244.51 L1343.94,248.4 L1344.23,251.94 L1344.52,255.16 L1344.8,258.08 L1345.09,260.72 L1345.37,263.1 L1345.66,265.25 L1345.95,267.18 L1346.23,268.92 L1346.52,270.47 L1346.8,271.86 L1347.09,273.11 L1347.37,274.21 L1347.66,275.2 L1347.95,276.07 L1348.23,276.85 L1348.52,277.54 L1348.8,278.15 L1349.09,278.69 L1349.38,279.17 L1349.66,279.58 L1349.95,279.95 L1350.23,280.28 L1350.52,280.56 L1350.81,280.81 L1351.09,281.03 L1351.38,281.23 L1351.66,281.39 L1351.95,281.54 L1352.23,281.67 L1352.52,281.78 L1352.81,281.88 L1353.09,281.96 L1353.38,282.04 L1369.96,282.04 L1370.24,281.96 L1370.53,281.88 L1370.82,281.78 L1371.1,281.67 L1371.39,281.54 L1371.67,281.39 L1371.96,281.23 L1372.25,281.03 L1372.53,280.81 L1372.82,280.56 L1373.1,280.28 L1373.39,279.95 L1373.68,279.58 L1373.96,279.17 L1374.25,278.69 L1374.53,278.15 L1374.82,277.54 L1375.1,276.85 L1375.39,276.07 L1375.68,275.2 L1375.96,274.21 L1376.25,273.11 L1376.53,271.86 L1376.82,270.47 L1377.11,268.92 L1377.39,267.18 L1377.68,265.25 L1377.96,263.1 L1378.25,260.72 L1378.54,258.08 L1378.82,255.16 L1379.11,251.94 L1379.39,248.4 L1379.68,244.51 L1379.96,240.26 L1380.25,235.62 L1380.54,230.57 L1380.82,225.09 L1381.11,219.17 L1381.39,212.79 L1381.68,205.95 L1381.97,198.66 L1382.25,190.91 L1382.54,182.74 L1382.82,174.18 L1383.11,165.3 L1383.4,156.17 L1383.68,146.93 L1383.97,137.77 L1384.25,128.95 L1384.54,120.99 L1384.82,115.3 L1385.11,120.99 L1385.4,128.95 L1385.68,137.77 L1385.97,146.93 L1386.25,156.17 L1386.54,165.3 L1386.83,174.18 L1387.11,182.74 L1387.4,190.91 L1387.68,198.66 L1387.97,205.95 L1388.26,212.79 L1388.54,219.17 L1388.83,225.09 L1389.11,230.57 L1389.4,235.62 L1389.68,240.26 L1389.97,244.51 L1390.26,248.4 L1390.54,251.94 L1390.83,255.16 L1391.11,258.08 L1391.4,260.72 L1391.69,263.1 L1391.97,265.25 L1392.26,267.18 L1392.54,268.92 L1392.83,270.47 L1393.12,271.86 L1393.4,273.11 L1393.69,274.21 L1393.97,275.2 L1394.26,276.07 L1394.54,276.85 L1394.83,277.54 L1395.12,278.15 L1395.4,278.69 L1395.69,279.17 L1395.97,279.58 L1396.26,279.95 L1396.55,280.28 L1396.83,280.56 L1397.12,280.81 L1397.4,281.03 L1397.69,281.23 L1397.98,281.39 L1398.26,281.54 L1398.55,281.67 L1398.83,281.78 L1399.12,281.88 L1399.4,281.96 L1399.69,282.04 L1427.71,282.04 L1427.99,281.96 L1428.28,281.88 L1428.56,281.78 L1428.85,281.67 L1429.14,281.54 L1429.42,281.39 L1429.71,281.23 L1429.99,281.03 L1430.28,280.81 L1430.57,280.56 L1430.85,280.28 L1431.14,279.95 L1431.42,279.58 L1431.71,279.17 L1431.99,278.69 L1432.28,278.15 L1432.57,277.54 L1432.85,276.85 L1433.14,276.07 L1433.42,275.2 L1433.71,274.21 L1434,273.11 L1434.28,271.86 L1434.57,270.47 L1434.85,268.92 L1435.14,267.18 L1435.43,265.25 L1435.71,263.1 L1436,260.72 L1436.28,258.08 L1436.57,255.16 L1436.85,251.94 L1437.14,248.4 L1437.43,244.51 L1437.71,240.26 L1438,235.62 L1438.28,230.57 L1438.57,225.09 L1438.86,219.17 L1439.14,212.79 L1439.43,205.95 L1439.71,198.66 L1440,190.91 L1440.29,182.74 L1440.57,174.18 L1440.86,165.3 L1441.14,156.17 L1441.43,146.93 L1441.71,137.77 L1442,128.95 L1442.29,120.99 L1442.57,115.3 L1442.86,120.99 L1443.14,128.95 L1443.43,137.77 L1443.72,146.93 L1444,156.17 L1444.29,165.3 L1444.57,174.18 L1444.86,182.74 L1445.15,190.91 L1445.43,198.66 L1445.72,205.95 L1446,212.79 L1446.29,219.17 L1446.57,225.09 L1446.86,230.57 L1447.15,235.62 L1447.43,240.26 L1447.72,244.51 L1448,248.4 L1448.29,251.94 L1448.58,255.16 L1448.86,258.08 L1449.15,260.72 L1449.43,263.1 L1449.72,265.25 L1450.01,267.18 L1450.29,268.92 L1450.58,270.47 L1450.86,271.86 L1451.15,273.11 L1451.43,274.21 L1451.72,275.2 L1452.01,276.07 L1452.29,276.85 L1452.58,277.54 L1452.86,278.15 L1453.15,278.69 L1453.44,279.17 L1453.72,279.58 L1454.01,279.95 L1454.29,280.28 L1454.58,280.56 L1454.87,280.81 L1455.15,281.03 L1455.44,281.23 L1455.72,281.39 L1456.01,281.54 L1456.29,281.67 L1456.58,281.78 L1456.87,281.88 L1457.15,281.96 L1457.44,282.04 L1496.89,282.04 L1497.18,281.96 L1497.46,281.88 L1497.75,281.78 L1498.03,281.67 L1498.32,281.54 L1498.6,281.39 L1498.89,281.23 L1499.18,281.03 L1499.46,280.81 L1499.75,280.56 L1500.03,280.28 L1500.32,279.95 L1500.61,279.58 L1500.89,279.17 L1501.18,278.69 L1501.46,278.15 L1501.75,277.54 L1502.04,276.85 L1502.32,276.07 L1502.61,275.2 L1502.89,274.21 L1503.18,273.11 L1503.46,271.86 L1503.75,270.47 L1504.04,268.92 L1504.32,267.18 L1504.61,265.25 L1504.89,263.1 L1505.18,260.72 L1505.47,258.08 L1505.75,255.16 L1506.04,251.94 L1506.32,248.4 L1506.61,244.51 L1506.9,240.26 L1507.18,235.62 L1507.47,230.57 L1507.75,225.09 L1508.04,219.17 L1508.32,212.79 L1508.61,205.95 L1508.9,198.66 L1509.18,190.91 L1509.47,182.74 L1509.75,174.18 L1510.04,165.3 L1510.33,156.17 L1510.61,146.93 L1510.9,137.77 L1511.18,128.95 L1511.47,120.99 L1511.76,115.3 L1512.04,120.99 L1512.33,128.95 L1512.61,137.77 L1512.9,146.93 L1513.18,156.17 L1513.47,165.3 L1513.76,174.18 L1514.04,182.74 L1514.33,190.91 L1514.61,198.66 L1514.9,205.95 L1515.19,212.79 L1515.47,219.17 L1515.76,225.09 L1516.04,230.57 L1516.33,235.62 L1516.62,240.26 L1516.9,244.51 L1517.19,248.4 L1517.47,251.94 L1517.76,255.16 L1518.04,258.08 L1518.33,260.72 L1518.62,263.1 L1518.9,265.25 L1519.19,267.18 L1519.47,268.92 L1519.76,270.47 L1520.05,271.86 L1520.33,273.11 L1520.62,274.21 L1520.9,275.2 L1521.19,276.07 L1521.48,276.85 L1521.76,277.54 L1522.05,278.15 L1522.33,278.69 L1522.62,279.17 L1522.9,279.58 L1523.19,279.95 L1523.48,280.28 L1523.76,280.56 L1524.05,280.81 L1524.33,281.03 L1524.62,281.23 L1524.91,281.39 L1525.19,281.54 L1525.48,281.67 L1525.76,281.78 L1526.05,281.88 L1526.34,281.96 L1526.62,282.04 L1566.07,282.04 L1566.36,281.96 L1566.64,281.88 L1566.93,281.78 L1567.22,281.67 L1567.5,281.54 L1567.79,281.39 L1568.07,281.23 L1568.36,281.03 L1568.65,280.81 L1568.93,280.56 L1569.22,280.28 L1569.5,279.95 L1569.79,279.58 L1570.07,279.17 L1570.36,278.69 L1570.65,278.15 L1570.93,277.54 L1571.22,276.85 L1571.5,276.07 L1571.79,275.2 L1572.08,274.21 L1572.36,273.11 L1572.65,271.86 L1572.93,270.47 L1573.22,268.92 L1573.51,267.18 L1573.79,265.25 L1574.08,263.1 L1574.36,260.72 L1574.65,258.08 L1574.93,255.16 L1575.22,251.94 L1575.51,248.4 L1575.79,244.51 L1576.08,240.26 L1576.36,235.62 L1576.65,230.57 L1576.94,225.09 L1577.22,219.17 L1577.51,212.79 L1577.79,205.95 L1578.08,198.66 L1578.37,190.91 L1578.65,182.74 L1578.94,174.18 L1579.22,165.3 L1579.51,156.17 L1579.79,146.93 L1580.08,137.77 L1580.37,128.95 L1580.65,120.99 L1580.94,115.3 L1581.22,120.99 L1581.51,128.95 L1581.8,137.77 L1582.08,146.93 L1582.37,156.17 L1582.65,165.3 L1582.94,174.18 L1583.23,182.74 L1583.51,190.91 L1583.8,198.66 L1584.08,205.95 L1584.37,212.79 L1584.65,219.17 L1584.94,225.09 L1585.23,230.57 L1585.51,235.62 L1585.8,240.26 L1586.08,244.51 L1586.37,248.4 L1586.66,251.94 L1586.94,255.16 L1587.23,258.08 L1587.51,260.72 L1587.8,263.1 L1588.09,265.25 L1588.37,267.18 L1588.66,268.92 L1588.94,270.47 L1589.23,271.86 L1589.51,273.11 L1589.8,274.21 L1590.09,275.2 L1590.37,276.07 L1590.66,276.85 L1590.94,277.54 L1591.23,278.15 L1591.52,278.69 L1591.8,279.17 L1592.09,279.58 L1592.37,279.95 L1592.66,280.28 L1592.95,280.56 L1593.23,280.81 L1593.52,281.03 L1593.8,281.23 L1594.09,281.39 L1594.37,281.54 L1594.66,281.67 L1594.95,281.78 L1595.23,281.88 L1595.52,281.96 L1595.8,282.04 L1627.82,282.04 L1628.11,281.96 L1628.39,281.88 L1628.68,281.78 L1628.97,281.67 L1629.25,281.54 L1629.54,281.39 L1629.82,281.23 L1630.11,281.03 L1630.4,280.81 L1630.68,280.56 L1630.97,280.28 L1631.25,279.95 L1631.54,279.58 L1631.83,279.17 L1632.11,278.69 L1632.4,278.15 L1632.68,277.54 L1632.97,276.85 L1633.25,276.07 L1633.54,275.2 L1633.83,274.21 L1634.11,273.11 L1634.4,271.86 L1634.68,270.47 L1634.97,268.92 L1635.26,267.18 L1635.54,265.25 L1635.83,263.1 L1636.11,260.72 L1636.4,258.08 L1636.69,255.16 L1636.97,251.94 L1637.26,248.4 L1637.54,244.51 L1637.83,240.26 L1638.11,235.62 L1638.4,230.57 L1638.69,225.09 L1638.97,219.17 L1639.26,212.79 L1639.54,205.95 L1639.83,198.66 L1640.12,190.91 L1640.4,182.74 L1640.69,174.18 L1640.97,165.3 L1641.26,156.17 L1641.54,146.93 L1641.83,137.77 L1642.12,128.95 L1642.4,120.99 L1642.69,115.3 L1642.97,120.99 L1643.26,128.95 L1643.55,137.77 L1643.83,146.93 L1644.12,156.17 L1644.4,165.3 L1644.69,174.18 L1644.98,182.74 L1645.26,190.91 L1645.55,198.66 L1645.83,205.95 L1646.12,212.79 L1646.4,219.17 L1646.69,225.09 L1646.98,230.57 L1647.26,235.62 L1647.55,240.26 L1647.83,244.51 L1648.12,248.4 L1648.41,251.94 L1648.69,255.16 L1648.98,258.08 L1649.26,260.72 L1649.55,263.1 L1649.84,265.25 L1650.12,267.18 L1650.41,268.92 L1650.69,270.47 L1650.98,271.86 L1651.26,273.11 L1651.55,274.21 L1651.84,275.2 L1652.12,276.07 L1652.41,276.85 L1652.69,277.54 L1652.98,278.15 L1653.27,278.69 L1653.55,279.17 L1653.84,279.58 L1654.12,279.95 L1654.41,280.28 L1654.7,280.56 L1654.98,280.81 L1655.27,281.03 L1655.55,281.23 L1655.84,281.39 L1656.12,281.54 L1656.41,281.67 L1656.7,281.78 L1656.98,281.88 L1657.27,281.96 L1657.55,282.04 L1684.43,282.04 L1684.71,281.96 L1685,281.88 L1685.28,281.78 L1685.57,281.67 L1685.86,281.54 L1686.14,281.39 L1686.43,281.23 L1686.71,281.03 L1687,280.81 L1687.29,280.56 L1687.57,280.28 L1687.86,279.95 L1688.14,279.58 L1688.43,279.17 L1688.72,278.69 L1689,278.15 L1689.29,277.54 L1689.57,276.85 L1689.86,276.07 L1690.14,275.2 L1690.43,274.21 L1690.72,273.11 L1691,271.86 L1691.29,270.47 L1691.57,268.92 L1691.86,267.18 L1692.15,265.25 L1692.43,263.1 L1692.72,260.72 L1693,258.08 L1693.29,255.16 L1693.58,251.94 L1693.86,248.4 L1694.15,244.51 L1694.43,240.26 L1694.72,235.62 L1695,230.57 L1695.29,225.09 L1695.58,219.17 L1695.86,212.79 L1696.15,205.95 L1696.43,198.66 L1696.72,190.91 L1697.01,182.74 L1697.29,174.18 L1697.58,165.3 L1697.86,156.17 L1698.15,146.93 L1698.44,137.77 L1698.72,128.95 L1699.01,120.99 L1699.29,115.3 L1699.58,120.99 L1699.86,128.95 L1700.15,137.77 L1700.44,146.93 L1700.72,156.17 L1701.01,165.3 L1701.29,174.18 L1701.58,182.74 L1701.87,190.91 L1702.15,198.66 L1702.44,205.95 L1702.72,212.79 L1703.01,219.17 L1703.3,225.09 L1703.58,230.57 L1703.87,235.62 L1704.15,240.26 L1704.44,244.51 L1704.72,248.4 L1705.01,251.94 L1705.3,255.16 L1705.58,258.08 L1705.87,260.72 L1706.15,263.1 L1706.44,265.25 L1706.73,267.18 L1707.01,268.92 L1707.3,270.47 L1707.58,271.86 L1707.87,273.11 L1708.16,274.21 L1708.44,275.2 L1708.73,276.07 L1709.01,276.85 L1709.3,277.54 L1709.58,278.15 L1709.87,278.69 L1710.16,279.17 L1710.44,279.58 L1710.73,279.95 L1711.01,280.28 L1711.3,280.56 L1711.59,280.81 L1711.87,281.03 L1712.16,281.23 L1712.44,281.39 L1712.73,281.54 L1713.01,281.67 L1713.3,281.78 L1713.59,281.88 L1713.87,281.96 L1714.16,282.04 L1734.17,282.05 L1734.46,281.85 L1734.74,281.57 L1735.03,281.21 L1735.31,280.74 L1735.6,280.14 L1735.89,279.41 L1736.17,278.54 L1736.46,277.51 L1736.74,276.35 L1737.03,275.06 L1737.31,273.68 L1737.6,272.26 L1737.89,270.83 L1738.17,269.48 L1738.46,268.25 L1738.74,267.22 L1739.03,266.44 L1739.32,265.95 L1739.6,265.78 L1739.89,265.95 L1740.17,266.44 L1740.46,267.22 L1740.75,268.25 L1741.03,269.48 L1741.32,270.83 L1741.6,272.26 L1741.89,273.68 L1742.17,275.06 L1742.46,276.35 L1742.75,277.51 L1743.03,278.54 L1743.32,279.41 L1743.6,280.14 L1743.89,279.95 L1744.18,279.58 L1744.46,279.17 L1744.75,278.69 L1745.03,278.15 L1745.32,277.54 L1745.61,276.85 L1745.89,276.07 L1746.18,275.2 L1746.46,274.21 L1746.75,273.11 L1747.03,271.86 L1747.32,270.47 L1747.61,268.92 L1747.89,267.18 L1748.18,265.25 L1748.46,263.1 L1748.75,260.72 L1749.04,258.08 L1749.32,255.16 L1749.61,251.94 L1749.89,248.4 L1750.18,244.51 L1750.47,240.26 L1750.75,235.62 L1751.04,230.57 L1751.32,225.09 L1751.61,219.17 L1751.89,212.79 L1752.18,205.95 L1752.47,198.66 L1752.75,190.91 L1753.04,182.74 L1753.32,174.18 L1753.61,165.3 L1753.9,156.17 L1754.18,146.93 L1754.47,137.77 L1754.75,128.95 L1755.04,120.99 L1755.33,115.3 L1755.61,120.99 L1755.9,128.95 L1756.18,137.77 L1756.47,146.93 L1756.75,156.17 L1757.04,165.3 L1757.33,174.18 L1757.61,182.74 L1757.9,190.91 L1758.18,198.66 L1758.47,205.95 L1758.76,212.79 L1759.04,219.17 L1759.33,225.09 L1759.61,230.57 L1759.9,235.62 L1760.19,240.26 L1760.47,244.51 L1760.76,248.4 L1761.04,251.94 L1761.33,255.16 L1761.61,258.08 L1761.9,260.72 L1762.19,263.1 L1762.47,265.25 L1762.76,267.18 L1763.04,268.92 L1763.33,270.47 L1763.62,271.86 L1763.9,273.11 L1764.19,274.21 L1764.47,275.2 L1764.76,276.07 L1765.05,276.85 L1765.33,277.54 L1765.62,278.15 L1765.9,278.69 L1766.19,279.17 L1766.47,279.58 L1766.76,279.95 L1767.05,280.28 L1767.33,280.56 L1767.62,280.81 L1767.9,281.03 L1768.19,281.23 L1768.48,281.39 L1768.76,281.54 L1769.05,281.67 L1769.33,281.78 L1769.62,281.88 L1769.91,281.96 L1770.19,282.04 L1789.92,282 L1790.2,281.78 L1790.49,281.48 L1790.77,281.08 L1791.06,280.56 L1791.35,279.91 L1791.63,279.11 L1791.92,278.14 L1792.2,277.02 L1792.49,275.73 L1792.78,274.32 L1793.06,272.8 L1793.35,271.23 L1793.63,269.67 L1793.92,268.18 L1794.2,266.83 L1794.49,265.69 L1794.78,264.83 L1795.06,264.29 L1795.35,264.11 L1795.63,264.29 L1795.92,264.83 L1796.21,265.69 L1796.49,266.83 L1796.78,268.18 L1797.06,269.67 L1797.35,271.23 L1797.64,272.8 L1797.92,274.32 L1798.21,275.73 L1798.49,277.02 L1798.78,278.14 L1799.06,277.54 L1799.35,276.85 L1799.64,276.07 L1799.92,275.2 L1800.21,274.21 L1800.49,273.11 L1800.78,271.86 L1801.07,270.47 L1801.35,268.92 L1801.64,267.18 L1801.92,265.25 L1802.21,263.1 L1802.5,260.72 L1802.78,258.08 L1803.07,255.16 L1803.35,251.94 L1803.64,248.4 L1803.92,244.51 L1804.21,240.26 L1804.5,235.62 L1804.78,230.57 L1805.07,225.09 L1805.35,219.17 L1805.64,212.79 L1805.93,205.95 L1806.21,198.66 L1806.5,190.91 L1806.78,182.74 L1807.07,174.18 L1807.36,165.3 L1807.64,156.17 L1807.93,146.93 L1808.21,137.77 L1808.5,128.95 L1808.78,120.99 L1809.07,115.3 L1809.36,120.99 L1809.64,128.95 L1809.93,137.77 L1810.21,146.93 L1810.5,156.17 L1810.79,165.3 L1811.07,174.18 L1811.36,182.74 L1811.64,190.91 L1811.93,198.66 L1812.22,205.95 L1812.5,212.79 L1812.79,219.17 L1813.07,225.09 L1813.36,230.57 L1813.64,235.62 L1813.93,240.26 L1814.22,244.51 L1814.5,248.4 L1814.79,251.94 L1815.07,255.16 L1815.36,258.08 L1815.65,260.72 L1815.93,263.1 L1816.22,265.25 L1816.5,267.18 L1816.79,268.92 L1817.08,270.47 L1817.36,271.86 L1817.65,273.11 L1817.93,274.21 L1818.22,275.2 L1818.5,276.07 L1818.79,276.85 L1819.08,277.54 L1819.36,278.15 L1819.65,278.69 L1819.93,279.17 L1820.22,279.58 L1820.51,279.95 L1820.79,280.28 L1821.08,280.56 L1821.36,280.81 L1821.65,281.03 L1821.94,281.23 L1822.22,281.39 L1822.51,281.54 L1822.79,281.67 L1823.08,281.78 L1823.36,281.88 L1823.65,281.96 L1823.94,282.04 L1847.09,282 L1847.38,281.78 L1847.66,281.48 L1847.95,281.08 L1848.24,280.56 L1848.52,279.91 L1848.81,279.11 L1849.09,278.14 L1849.38,277.02 L1849.67,275.73 L1849.95,274.32 L1850.24,272.8 L1850.52,271.23 L1850.81,269.67 L1851.1,268.18 L1851.38,266.83 L1851.67,265.69 L1851.95,264.83 L1852.24,264.29 L1852.52,264.11 L1852.81,264.29 L1853.1,264.83 L1853.38,265.69 L1853.67,266.83 L1853.95,268.18 L1854.24,269.67 L1854.53,271.23 L1854.81,272.8 L1855.1,274.32 L1855.38,275.73 L1855.67,277.02 L1855.95,278.14 L1856.24,277.54 L1856.53,276.85 L1856.81,276.07 L1857.1,275.2 L1857.38,274.21 L1857.67,273.11 L1857.96,271.86 L1858.24,270.47 L1858.53,268.92 L1858.81,267.18 L1859.1,265.25 L1859.39,263.1 L1859.67,260.72 L1859.96,258.08 L1860.24,255.16 L1860.53,251.94 L1860.81,248.4 L1861.1,244.51 L1861.39,240.26 L1861.67,235.62 L1861.96,230.57 L1862.24,225.09 L1862.53,219.17 L1862.82,212.79 L1863.1,205.95 L1863.39,198.66 L1863.67,190.91 L1863.96,182.74 L1864.25,174.18 L1864.53,165.3 L1864.82,156.17 L1865.1,146.93 L1865.39,137.77 L1865.67,128.95 L1865.96,120.99 L1866.25,115.3 L1866.53,120.99 L1866.82,128.95 L1867.1,137.77 L1867.39,146.93 L1867.68,156.17 L1867.96,165.3 L1868.25,174.18 L1868.53,182.74 L1868.82,190.91 L1869.11,198.66 L1869.39,205.95 L1869.68,212.79 L1869.96,219.17 L1870.25,225.09 L1870.53,230.57 L1870.82,235.62 L1871.11,240.26 L1871.39,244.51 L1871.68,248.4 L1871.96,251.94 L1872.25,255.16 L1872.54,258.08 L1872.82,260.72 L1873.11,263.1 L1873.39,265.25 L1873.68,267.18 L1873.97,268.92 L1874.25,270.47 L1874.54,271.86 L1874.82,273.11 L1875.11,274.21 L1875.39,275.2 L1875.68,276.07 L1875.97,276.85 L1876.25,277.54 L1876.54,278.15 L1876.82,278.69 L1877.11,279.17 L1877.4,279.58 L1877.68,279.95 L1877.97,280.28 L1878.25,280.56 L1878.54,280.81 L1878.83,281.03 L1879.11,281.23 L1879.4,281.39 L1879.68,281.54 L1879.97,281.67 L1880.25,281.78 L1880.54,281.88 L1880.83,281.96 L1881.11,282.04 L1958.3,282.5" fill="none" stroke="#000" stroke-width="2.6" stroke-dasharray="6.5 4.5" stroke-linejoin="round"/>
<g font-family="'Liberation Sans', Arial, sans-serif" font-size="25" fill="#4a4a4a"><text x="1243.6" y="315.2" text-anchor="middle">450</text><text x="1386.54" y="315.2" text-anchor="middle">500</text><text x="1529.48" y="315.2" text-anchor="middle">550</text><text x="1672.42" y="315.2" text-anchor="middle">600</text><text x="1815.36" y="315.2" text-anchor="middle">650</text><text x="1958.3" y="315.2" text-anchor="middle">700</text><text x="1230.6" y="291.1" text-anchor="end">0</text><text x="1230.6" y="207.5" text-anchor="end">0.5</text><text x="1230.6" y="123.9" text-anchor="end">1</text></g>
<g font-family="'Liberation Sans', Arial, sans-serif" font-size="25.5" fill="#1a1a1a"><text x="1594" y="352.8" text-anchor="middle">Wavelength (nm)</text><text transform="translate(1172.8,182.18) rotate(-90)" text-anchor="middle">Intensity (a. u.)</text></g>
<path d="M1264,46.2h7.4m10,0h7.4m10,0h7.4m10,0h7.4m10,0h7.4m10,0h10.6" stroke="#000" stroke-width="3.8"/><rect x="1625.5" y="43.7" width="10.85" height="5" fill="#1a8ff0"/><rect x="1636.05" y="43.7" width="10.85" height="5" fill="#1ac8f5"/><rect x="1646.6" y="43.7" width="10.85" height="5" fill="#26ecd8"/><rect x="1657.15" y="43.7" width="10.85" height="5" fill="#5ee68a"/><rect x="1667.7" y="43.7" width="10.85" height="5" fill="#b2ee3c"/><rect x="1678.25" y="43.7" width="10.85" height="5" fill="#f5ee10"/><rect x="1688.8" y="43.7" width="10.85" height="5" fill="#f8b40a"/><rect x="1699.35" y="43.7" width="10.85" height="5" fill="#f87e12"/><rect x="1709.9" y="43.7" width="10.85" height="5" fill="#f8481a"/><rect x="1720.45" y="43.7" width="10.85" height="5" fill="#e81414"/><g font-family="'Liberation Sans', Arial, sans-serif" font-size="25.5" fill="#111"><text x="1382.6" y="53.6">Ground truth</text><text x="1744" y="53.6">BEST camera</text></g>
<path d="M1243.6,476.32V676.6H1958.3" fill="none" stroke="#3d3d3d" stroke-width="1.3"/>
<path d="M1243.6,593.15h7.5" stroke="#3d3d3d" stroke-width="1.3"/>
<path d="M1243.6,509.7h7.5" stroke="#3d3d3d" stroke-width="1.3"/>
<path d="M1386.54,676.6v-7.5" stroke="#3d3d3d" stroke-width="1.3"/>
<path d="M1529.48,676.6v-7.5" stroke="#3d3d3d" stroke-width="1.3"/>
<path d="M1672.42,676.6v-7.5" stroke="#3d3d3d" stroke-width="1.3"/>
<path d="M1815.36,676.6v-7.5" stroke="#3d3d3d" stroke-width="1.3"/>
<path d="M1958.3,676.6v-7.5" stroke="#3d3d3d" stroke-width="1.3"/>
<path d="M1310.67,676.58 L1311.24,676.56 L1311.81,676.55 L1312.38,676.53 L1312.95,676.49 L1313.53,676.45 L1314.1,676.39 L1314.67,676.31 L1315.24,676.2 L1315.81,676.05 L1316.39,675.86 L1316.96,675.6 L1317.53,675.27 L1318.1,674.84 L1318.67,674.3 L1319.24,673.61 L1319.82,672.75 L1320.39,671.68 L1320.96,670.36 L1321.53,668.75 L1322.1,666.81 L1322.67,664.5 L1323.25,661.76 L1323.82,658.55 L1324.39,654.82 L1324.96,650.55 L1325.53,645.68 L1326.1,640.22 L1326.68,634.14 L1327.25,627.45 L1327.82,620.17 L1328.39,612.36 L1328.96,604.06 L1329.54,595.36 L1330.11,586.37 L1330.68,577.21 L1331.25,568.02 L1331.82,558.96 L1332.39,550.19 L1332.97,541.88 L1333.54,534.21 L1334.11,527.34 L1334.68,521.43 L1335.25,516.61 L1335.82,513 L1336.4,510.69 L1336.97,509.73 L1337.54,510.14 L1338.11,511.92 L1338.68,515.02 L1339.26,519.37 L1339.83,524.86 L1340.4,531.36 L1340.97,538.73 L1341.54,546.8 L1342.11,555.41 L1342.69,564.37 L1343.26,573.53 L1343.83,582.72 L1344.4,591.79 L1344.97,600.62 L1345.54,609.09 L1346.12,617.11 L1346.69,624.61 L1347.26,631.53 L1347.83,637.86 L1348.4,643.57 L1348.98,648.67 L1349.55,653.18 L1350.12,657.12 L1350.69,660.53 L1351.26,663.46 L1351.83,665.94 L1352.41,668.02 L1352.98,669.75 L1353.55,671.18 L1354.12,672.35 L1354.69,673.29 L1355.26,674.04 L1355.84,674.64 L1356.41,675.11 L1356.98,675.48 L1357.55,675.76 L1358.12,675.98 L1358.7,676.14 L1359.27,676.27 L1359.84,676.36 L1360.41,676.43 L1360.98,676.48 L1361.55,676.51 L1362.13,676.54 L1362.7,676.56 L1363.27,676.57" fill="none" stroke="#1a8ff0" stroke-width="4.6" stroke-linejoin="round"/><path d="M1360.12,676.58 L1360.7,676.56 L1361.27,676.55 L1361.84,676.53 L1362.41,676.49 L1362.98,676.45 L1363.56,676.39 L1364.13,676.31 L1364.7,676.2 L1365.27,676.05 L1365.84,675.86 L1366.41,675.6 L1366.99,675.27 L1367.56,674.84 L1368.13,674.3 L1368.7,673.61 L1369.27,672.75 L1369.84,671.68 L1370.42,670.36 L1370.99,668.75 L1371.56,666.81 L1372.13,664.5 L1372.7,661.76 L1373.28,658.55 L1373.85,654.82 L1374.42,650.55 L1374.99,645.68 L1375.56,640.22 L1376.13,634.14 L1376.71,627.45 L1377.28,620.17 L1377.85,612.36 L1378.42,604.06 L1378.99,595.36 L1379.56,586.37 L1380.14,577.21 L1380.71,568.02 L1381.28,558.96 L1381.85,550.19 L1382.42,541.88 L1383,534.21 L1383.57,527.34 L1384.14,521.43 L1384.71,516.61 L1385.28,513 L1385.85,510.69 L1386.43,509.73 L1387,510.14 L1387.57,511.92 L1388.14,515.02 L1388.71,519.37 L1389.28,524.86 L1389.86,531.36 L1390.43,538.73 L1391,546.8 L1391.57,555.41 L1392.14,564.37 L1392.72,573.53 L1393.29,582.72 L1393.86,591.79 L1394.43,600.62 L1395,609.09 L1395.57,617.11 L1396.15,624.61 L1396.72,631.53 L1397.29,637.86 L1397.86,643.57 L1398.43,648.67 L1399,653.18 L1399.58,657.12 L1400.15,660.53 L1400.72,663.46 L1401.29,665.94 L1401.86,668.02 L1402.43,669.75 L1403.01,671.18 L1403.58,672.35 L1404.15,673.29 L1404.72,674.04 L1405.29,674.64 L1405.87,675.11 L1406.44,675.48 L1407.01,675.76 L1407.58,675.98 L1408.15,676.14 L1408.72,676.27 L1409.3,676.36 L1409.87,676.43 L1410.44,676.48 L1411.01,676.51 L1411.58,676.54 L1412.15,676.56 L1412.73,676.57" fill="none" stroke="#1ac8f5" stroke-width="4.6" stroke-linejoin="round"/><path d="M1416.44,676.58 L1417.01,676.56 L1417.59,676.55 L1418.16,676.53 L1418.73,676.49 L1419.3,676.45 L1419.87,676.39 L1420.45,676.31 L1421.02,676.2 L1421.59,676.05 L1422.16,675.86 L1422.73,675.6 L1423.3,675.27 L1423.88,674.84 L1424.45,674.3 L1425.02,673.61 L1425.59,672.75 L1426.16,671.68 L1426.73,670.36 L1427.31,668.75 L1427.88,666.81 L1428.45,664.5 L1429.02,661.76 L1429.59,658.55 L1430.17,654.82 L1430.74,650.55 L1431.31,645.68 L1431.88,640.22 L1432.45,634.14 L1433.02,627.45 L1433.6,620.17 L1434.17,612.36 L1434.74,604.06 L1435.31,595.36 L1435.88,586.37 L1436.45,577.21 L1437.03,568.02 L1437.6,558.96 L1438.17,550.19 L1438.74,541.88 L1439.31,534.21 L1439.89,527.34 L1440.46,521.43 L1441.03,516.61 L1441.6,513 L1442.17,510.69 L1442.74,509.73 L1443.32,510.14 L1443.89,511.92 L1444.46,515.02 L1445.03,519.37 L1445.6,524.86 L1446.17,531.36 L1446.75,538.73 L1447.32,546.8 L1447.89,555.41 L1448.46,564.37 L1449.03,573.53 L1449.61,582.72 L1450.18,591.79 L1450.75,600.62 L1451.32,609.09 L1451.89,617.11 L1452.46,624.61 L1453.04,631.53 L1453.61,637.86 L1454.18,643.57 L1454.75,648.67 L1455.32,653.18 L1455.89,657.12 L1456.47,660.53 L1457.04,663.46 L1457.61,665.94 L1458.18,668.02 L1458.75,669.75 L1459.33,671.18 L1459.9,672.35 L1460.47,673.29 L1461.04,674.04 L1461.61,674.64 L1462.18,675.11 L1462.76,675.48 L1463.33,675.76 L1463.9,675.98 L1464.47,676.14 L1465.04,676.27 L1465.61,676.36 L1466.19,676.43 L1466.76,676.48 L1467.33,676.51 L1467.9,676.54 L1468.47,676.56 L1469.04,676.57" fill="none" stroke="#26ecd8" stroke-width="4.6" stroke-linejoin="round"/><path d="M1485.34,676.58 L1485.91,676.56 L1486.48,676.55 L1487.06,676.53 L1487.63,676.49 L1488.2,676.45 L1488.77,676.39 L1489.34,676.31 L1489.91,676.2 L1490.49,676.05 L1491.06,675.86 L1491.63,675.6 L1492.2,675.27 L1492.77,674.84 L1493.34,674.3 L1493.92,673.61 L1494.49,672.75 L1495.06,671.68 L1495.63,670.36 L1496.2,668.75 L1496.78,666.81 L1497.35,664.5 L1497.92,661.76 L1498.49,658.55 L1499.06,654.82 L1499.63,650.55 L1500.21,645.68 L1500.78,640.22 L1501.35,634.14 L1501.92,627.45 L1502.49,620.17 L1503.06,612.36 L1503.64,604.06 L1504.21,595.36 L1504.78,586.37 L1505.35,577.21 L1505.92,568.02 L1506.5,558.96 L1507.07,550.19 L1507.64,541.88 L1508.21,534.21 L1508.78,527.34 L1509.35,521.43 L1509.93,516.61 L1510.5,513 L1511.07,510.69 L1511.64,509.73 L1512.21,510.14 L1512.78,511.92 L1513.36,515.02 L1513.93,519.37 L1514.5,524.86 L1515.07,531.36 L1515.64,538.73 L1516.22,546.8 L1516.79,555.41 L1517.36,564.37 L1517.93,573.53 L1518.5,582.72 L1519.07,591.79 L1519.65,600.62 L1520.22,609.09 L1520.79,617.11 L1521.36,624.61 L1521.93,631.53 L1522.5,637.86 L1523.08,643.57 L1523.65,648.67 L1524.22,653.18 L1524.79,657.12 L1525.36,660.53 L1525.94,663.46 L1526.51,665.94 L1527.08,668.02 L1527.65,669.75 L1528.22,671.18 L1528.79,672.35 L1529.37,673.29 L1529.94,674.04 L1530.51,674.64 L1531.08,675.11 L1531.65,675.48 L1532.22,675.76 L1532.8,675.98 L1533.37,676.14 L1533.94,676.27 L1534.51,676.36 L1535.08,676.43 L1535.66,676.48 L1536.23,676.51 L1536.8,676.54 L1537.37,676.56 L1537.94,676.57" fill="none" stroke="#5ee68a" stroke-width="4.6" stroke-linejoin="round"/><path d="M1559.1,676.58 L1559.67,676.56 L1560.24,676.55 L1560.81,676.53 L1561.38,676.49 L1561.96,676.45 L1562.53,676.39 L1563.1,676.31 L1563.67,676.2 L1564.24,676.05 L1564.81,675.86 L1565.39,675.6 L1565.96,675.27 L1566.53,674.84 L1567.1,674.3 L1567.67,673.61 L1568.25,672.75 L1568.82,671.68 L1569.39,670.36 L1569.96,668.75 L1570.53,666.81 L1571.1,664.5 L1571.68,661.76 L1572.25,658.55 L1572.82,654.82 L1573.39,650.55 L1573.96,645.68 L1574.53,640.22 L1575.11,634.14 L1575.68,627.45 L1576.25,620.17 L1576.82,612.36 L1577.39,604.06 L1577.97,595.36 L1578.54,586.37 L1579.11,577.21 L1579.68,568.02 L1580.25,558.96 L1580.82,550.19 L1581.4,541.88 L1581.97,534.21 L1582.54,527.34 L1583.11,521.43 L1583.68,516.61 L1584.25,513 L1584.83,510.69 L1585.4,509.73 L1585.97,510.14 L1586.54,511.92 L1587.11,515.02 L1587.69,519.37 L1588.26,524.86 L1588.83,531.36 L1589.4,538.73 L1589.97,546.8 L1590.54,555.41 L1591.12,564.37 L1591.69,573.53 L1592.26,582.72 L1592.83,591.79 L1593.4,600.62 L1593.97,609.09 L1594.55,617.11 L1595.12,624.61 L1595.69,631.53 L1596.26,637.86 L1596.83,643.57 L1597.41,648.67 L1597.98,653.18 L1598.55,657.12 L1599.12,660.53 L1599.69,663.46 L1600.26,665.94 L1600.84,668.02 L1601.41,669.75 L1601.98,671.18 L1602.55,672.35 L1603.12,673.29 L1603.69,674.04 L1604.27,674.64 L1604.84,675.11 L1605.41,675.48 L1605.98,675.76 L1606.55,675.98 L1607.13,676.14 L1607.7,676.27 L1608.27,676.36 L1608.84,676.43 L1609.41,676.48 L1609.98,676.51 L1610.56,676.54 L1611.13,676.56 L1611.7,676.57" fill="none" stroke="#b2ee3c" stroke-width="4.6" stroke-linejoin="round"/><path d="M1617.99,676.58 L1618.56,676.56 L1619.13,676.55 L1619.7,676.53 L1620.28,676.49 L1620.85,676.45 L1621.42,676.39 L1621.99,676.31 L1622.56,676.2 L1623.13,676.05 L1623.71,675.86 L1624.28,675.6 L1624.85,675.27 L1625.42,674.84 L1625.99,674.3 L1626.56,673.61 L1627.14,672.75 L1627.71,671.68 L1628.28,670.36 L1628.85,668.75 L1629.42,666.81 L1630,664.5 L1630.57,661.76 L1631.14,658.55 L1631.71,654.82 L1632.28,650.55 L1632.85,645.68 L1633.43,640.22 L1634,634.14 L1634.57,627.45 L1635.14,620.17 L1635.71,612.36 L1636.28,604.06 L1636.86,595.36 L1637.43,586.37 L1638,577.21 L1638.57,568.02 L1639.14,558.96 L1639.72,550.19 L1640.29,541.88 L1640.86,534.21 L1641.43,527.34 L1642,521.43 L1642.57,516.61 L1643.15,513 L1643.72,510.69 L1644.29,509.73 L1644.86,510.14 L1645.43,511.92 L1646,515.02 L1646.58,519.37 L1647.15,524.86 L1647.72,531.36 L1648.29,538.73 L1648.86,546.8 L1649.44,555.41 L1650.01,564.37 L1650.58,573.53 L1651.15,582.72 L1651.72,591.79 L1652.29,600.62 L1652.87,609.09 L1653.44,617.11 L1654.01,624.61 L1654.58,631.53 L1655.15,637.86 L1655.72,643.57 L1656.3,648.67 L1656.87,653.18 L1657.44,657.12 L1658.01,660.53 L1658.58,663.46 L1659.16,665.94 L1659.73,668.02 L1660.3,669.75 L1660.87,671.18 L1661.44,672.35 L1662.01,673.29 L1662.59,674.04 L1663.16,674.64 L1663.73,675.11 L1664.3,675.48 L1664.87,675.76 L1665.44,675.98 L1666.02,676.14 L1666.59,676.27 L1667.16,676.36 L1667.73,676.43 L1668.3,676.48 L1668.88,676.51 L1669.45,676.54 L1670.02,676.56 L1670.59,676.57" fill="none" stroke="#f5ee10" stroke-width="4.6" stroke-linejoin="round"/><path d="M1673.45,676.58 L1674.02,676.56 L1674.59,676.55 L1675.16,676.53 L1675.74,676.49 L1676.31,676.45 L1676.88,676.39 L1677.45,676.31 L1678.02,676.2 L1678.6,676.05 L1679.17,675.86 L1679.74,675.6 L1680.31,675.27 L1680.88,674.84 L1681.45,674.3 L1682.03,673.61 L1682.6,672.75 L1683.17,671.68 L1683.74,670.36 L1684.31,668.75 L1684.88,666.81 L1685.46,664.5 L1686.03,661.76 L1686.6,658.55 L1687.17,654.82 L1687.74,650.55 L1688.31,645.68 L1688.89,640.22 L1689.46,634.14 L1690.03,627.45 L1690.6,620.17 L1691.17,612.36 L1691.75,604.06 L1692.32,595.36 L1692.89,586.37 L1693.46,577.21 L1694.03,568.02 L1694.6,558.96 L1695.18,550.19 L1695.75,541.88 L1696.32,534.21 L1696.89,527.34 L1697.46,521.43 L1698.03,516.61 L1698.61,513 L1699.18,510.69 L1699.75,509.73 L1700.32,510.14 L1700.89,511.92 L1701.47,515.02 L1702.04,519.37 L1702.61,524.86 L1703.18,531.36 L1703.75,538.73 L1704.32,546.8 L1704.9,555.41 L1705.47,564.37 L1706.04,573.53 L1706.61,582.72 L1707.18,591.79 L1707.75,600.62 L1708.33,609.09 L1708.9,617.11 L1709.47,624.61 L1710.04,631.53 L1710.61,637.86 L1711.19,643.57 L1711.76,648.67 L1712.33,653.18 L1712.9,657.12 L1713.47,660.53 L1714.04,663.46 L1714.62,665.94 L1715.19,668.02 L1715.76,669.75 L1716.33,671.18 L1716.9,672.35 L1717.47,673.29 L1718.05,674.04 L1718.62,674.64 L1719.19,675.11 L1719.76,675.48 L1720.33,675.76 L1720.91,675.98 L1721.48,676.14 L1722.05,676.27 L1722.62,676.36 L1723.19,676.43 L1723.76,676.48 L1724.34,676.51 L1724.91,676.54 L1725.48,676.56 L1726.05,676.57" fill="none" stroke="#f8b40a" stroke-width="4.6" stroke-linejoin="round"/><path d="M1732.05,676.58 L1732.63,676.56 L1733.2,676.55 L1733.77,676.53 L1734.34,676.49 L1734.91,676.45 L1735.49,676.39 L1736.06,676.31 L1736.63,676.2 L1737.2,676.05 L1737.77,675.86 L1738.34,675.6 L1738.92,675.27 L1739.49,674.84 L1740.06,674.3 L1740.63,673.61 L1741.2,672.75 L1741.77,671.68 L1742.35,670.36 L1742.92,668.75 L1743.49,666.81 L1744.06,664.5 L1744.63,661.76 L1745.21,658.55 L1745.78,654.82 L1746.35,650.55 L1746.92,645.68 L1747.49,640.22 L1748.06,634.14 L1748.64,627.45 L1749.21,620.17 L1749.78,612.36 L1750.35,604.06 L1750.92,595.36 L1751.49,586.37 L1752.07,577.21 L1752.64,568.02 L1753.21,558.96 L1753.78,550.19 L1754.35,541.88 L1754.92,534.21 L1755.5,527.34 L1756.07,521.43 L1756.64,516.61 L1757.21,513 L1757.78,510.69 L1758.36,509.73 L1758.93,510.14 L1759.5,511.92 L1760.07,515.02 L1760.64,519.37 L1761.21,524.86 L1761.79,531.36 L1762.36,538.73 L1762.93,546.8 L1763.5,555.41 L1764.07,564.37 L1764.64,573.53 L1765.22,582.72 L1765.79,591.79 L1766.36,600.62 L1766.93,609.09 L1767.5,617.11 L1768.08,624.61 L1768.65,631.53 L1769.22,637.86 L1769.79,643.57 L1770.36,648.67 L1770.93,653.18 L1771.51,657.12 L1772.08,660.53 L1772.65,663.46 L1773.22,665.94 L1773.79,668.02 L1774.36,669.75 L1774.94,671.18 L1775.51,672.35 L1776.08,673.29 L1776.65,674.04 L1777.22,674.64 L1777.8,675.11 L1778.37,675.48 L1778.94,675.76 L1779.51,675.98 L1780.08,676.14 L1780.65,676.27 L1781.23,676.36 L1781.8,676.43 L1782.37,676.48 L1782.94,676.51 L1783.51,676.54 L1784.08,676.56 L1784.66,676.57" fill="none" stroke="#f87e12" stroke-width="4.6" stroke-linejoin="round"/><path d="M1787.8,676.58 L1788.37,676.56 L1788.94,676.55 L1789.52,676.53 L1790.09,676.49 L1790.66,676.45 L1791.23,676.39 L1791.8,676.31 L1792.38,676.2 L1792.95,676.05 L1793.52,675.86 L1794.09,675.6 L1794.66,675.27 L1795.23,674.84 L1795.81,674.3 L1796.38,673.61 L1796.95,672.75 L1797.52,671.68 L1798.09,670.36 L1798.66,668.75 L1799.24,666.81 L1799.81,664.5 L1800.38,661.76 L1800.95,658.55 L1801.52,654.82 L1802.1,650.55 L1802.67,645.68 L1803.24,640.22 L1803.81,634.14 L1804.38,627.45 L1804.95,620.17 L1805.53,612.36 L1806.1,604.06 L1806.67,595.36 L1807.24,586.37 L1807.81,577.21 L1808.38,568.02 L1808.96,558.96 L1809.53,550.19 L1810.1,541.88 L1810.67,534.21 L1811.24,527.34 L1811.82,521.43 L1812.39,516.61 L1812.96,513 L1813.53,510.69 L1814.1,509.73 L1814.67,510.14 L1815.25,511.92 L1815.82,515.02 L1816.39,519.37 L1816.96,524.86 L1817.53,531.36 L1818.1,538.73 L1818.68,546.8 L1819.25,555.41 L1819.82,564.37 L1820.39,573.53 L1820.96,582.72 L1821.54,591.79 L1822.11,600.62 L1822.68,609.09 L1823.25,617.11 L1823.82,624.61 L1824.39,631.53 L1824.97,637.86 L1825.54,643.57 L1826.11,648.67 L1826.68,653.18 L1827.25,657.12 L1827.82,660.53 L1828.4,663.46 L1828.97,665.94 L1829.54,668.02 L1830.11,669.75 L1830.68,671.18 L1831.25,672.35 L1831.83,673.29 L1832.4,674.04 L1832.97,674.64 L1833.54,675.11 L1834.11,675.48 L1834.69,675.76 L1835.26,675.98 L1835.83,676.14 L1836.4,676.27 L1836.97,676.36 L1837.54,676.43 L1838.12,676.48 L1838.69,676.51 L1839.26,676.54 L1839.83,676.56 L1840.4,676.57" fill="none" stroke="#f8481a" stroke-width="4.6" stroke-linejoin="round"/><path d="M1847.26,676.58 L1847.84,676.56 L1848.41,676.55 L1848.98,676.53 L1849.55,676.49 L1850.12,676.45 L1850.69,676.39 L1851.27,676.31 L1851.84,676.2 L1852.41,676.05 L1852.98,675.86 L1853.55,675.6 L1854.13,675.27 L1854.7,674.84 L1855.27,674.3 L1855.84,673.61 L1856.41,672.75 L1856.98,671.68 L1857.56,670.36 L1858.13,668.75 L1858.7,666.81 L1859.27,664.5 L1859.84,661.76 L1860.41,658.55 L1860.99,654.82 L1861.56,650.55 L1862.13,645.68 L1862.7,640.22 L1863.27,634.14 L1863.85,627.45 L1864.42,620.17 L1864.99,612.36 L1865.56,604.06 L1866.13,595.36 L1866.7,586.37 L1867.28,577.21 L1867.85,568.02 L1868.42,558.96 L1868.99,550.19 L1869.56,541.88 L1870.13,534.21 L1870.71,527.34 L1871.28,521.43 L1871.85,516.61 L1872.42,513 L1872.99,510.69 L1873.57,509.73 L1874.14,510.14 L1874.71,511.92 L1875.28,515.02 L1875.85,519.37 L1876.42,524.86 L1877,531.36 L1877.57,538.73 L1878.14,546.8 L1878.71,555.41 L1879.28,564.37 L1879.85,573.53 L1880.43,582.72 L1881,591.79 L1881.57,600.62 L1882.14,609.09 L1882.71,617.11 L1883.29,624.61 L1883.86,631.53 L1884.43,637.86 L1885,643.57 L1885.57,648.67 L1886.14,653.18 L1886.72,657.12 L1887.29,660.53 L1887.86,663.46 L1888.43,665.94 L1889,668.02 L1889.57,669.75 L1890.15,671.18 L1890.72,672.35 L1891.29,673.29 L1891.86,674.04 L1892.43,674.64 L1893.01,675.11 L1893.58,675.48 L1894.15,675.76 L1894.72,675.98 L1895.29,676.14 L1895.86,676.27 L1896.44,676.36 L1897.01,676.43 L1897.58,676.48 L1898.15,676.51 L1898.72,676.54 L1899.29,676.56 L1899.87,676.57" fill="none" stroke="#e81414" stroke-width="4.6" stroke-linejoin="round"/><path d="M1594.66,676.59 L1595.23,676.59 L1595.8,676.58 L1596.38,676.57 L1596.95,676.55 L1597.52,676.53 L1598.09,676.5 L1598.66,676.46 L1599.23,676.4 L1599.81,676.31 L1600.38,676.2 L1600.95,676.05 L1601.52,675.86 L1602.09,675.61 L1602.67,675.3 L1603.24,674.9 L1603.81,674.41 L1604.38,673.81 L1604.95,673.1 L1605.52,672.25 L1606.1,671.27 L1606.67,670.15 L1607.24,668.88 L1607.81,667.49 L1608.38,665.96 L1608.95,664.34 L1609.53,662.65 L1610.1,660.91 L1610.67,659.17 L1611.24,657.48 L1611.81,655.89 L1612.39,654.43 L1612.96,653.16 L1613.53,652.13 L1614.1,651.36 L1614.67,650.89 L1615.24,650.73 L1615.82,650.89 L1616.39,651.36 L1616.96,652.13 L1617.53,653.16 L1618.1,654.43 L1618.67,655.89 L1619.25,657.48 L1619.82,659.17 L1620.39,660.91 L1620.96,662.65 L1621.53,664.34 L1622.11,665.96 L1622.68,667.49 L1623.25,668.88 L1623.82,670.15 L1624.39,671.27 L1624.96,672.25 L1625.54,673.1 L1626.11,673.81 L1626.68,674.41 L1627.25,674.9 L1627.82,675.3 L1628.39,675.61 L1628.97,675.86 L1629.54,676.05 L1630.11,676.2 L1630.68,676.31 L1631.25,676.4 L1631.83,676.46 L1632.4,676.5 L1632.97,676.53 L1633.54,676.55 L1634.11,676.57 L1634.68,676.58 L1635.26,676.59 L1635.83,676.59" fill="none" stroke="#26ecd8" stroke-width="4.6" stroke-linejoin="round"/><path d="M1661.84,676.6 L1662.41,676.6 L1662.99,676.59 L1663.56,676.59 L1664.13,676.58 L1664.7,676.56 L1665.27,676.54 L1665.84,676.51 L1666.42,676.46 L1666.99,676.38 L1667.56,676.28 L1668.13,676.13 L1668.7,675.94 L1669.28,675.7 L1669.85,675.39 L1670.42,675.01 L1670.99,674.56 L1671.56,674.04 L1672.13,673.47 L1672.71,672.86 L1673.28,672.24 L1673.85,671.63 L1674.42,671.08 L1674.99,670.6 L1675.56,670.23 L1676.14,670 L1676.71,669.92 L1677.28,670 L1677.85,670.23 L1678.42,670.6 L1679,671.08 L1679.57,671.63 L1680.14,672.24 L1680.71,672.86 L1681.28,673.47 L1681.85,674.04 L1682.43,674.56 L1683,675.01 L1683.57,675.39 L1684.14,675.7 L1684.71,675.94 L1685.28,676.13 L1685.86,676.28 L1686.43,676.38 L1687,676.46 L1687.57,676.51 L1688.14,676.54 L1688.72,676.56 L1689.29,676.58 L1689.86,676.59 L1690.43,676.59 L1691,676.6 L1691.57,676.6" fill="none" stroke="#1ac8f5" stroke-width="4.6" stroke-linejoin="round"/><path d="M1529.48,676.6 L1530.05,676.6 L1530.62,676.6 L1531.2,676.59 L1531.77,676.59 L1532.34,676.59 L1532.91,676.58 L1533.48,676.57 L1534.05,676.55 L1534.63,676.53 L1535.2,676.5 L1535.77,676.47 L1536.34,676.41 L1536.91,676.34 L1537.48,676.26 L1538.06,676.15 L1538.63,676.02 L1539.2,675.86 L1539.77,675.67 L1540.34,675.46 L1540.92,675.23 L1541.49,674.98 L1542.06,674.71 L1542.63,674.44 L1543.2,674.18 L1543.77,673.93 L1544.35,673.7 L1544.92,673.52 L1545.49,673.38 L1546.06,673.29 L1546.63,673.26 L1547.2,673.29 L1547.78,673.38 L1548.35,673.52 L1548.92,673.7 L1549.49,673.93 L1550.06,674.18 L1550.64,674.44 L1551.21,674.71 L1551.78,674.98 L1552.35,675.23 L1552.92,675.46 L1553.49,675.67 L1554.07,675.86 L1554.64,676.02 L1555.21,676.15 L1555.78,676.26 L1556.35,676.34 L1556.92,676.41 L1557.5,676.47 L1558.07,676.5 L1558.64,676.53 L1559.21,676.55 L1559.78,676.57 L1560.36,676.58 L1560.93,676.59 L1561.5,676.59 L1562.07,676.59 L1562.64,676.6 L1563.21,676.6 L1563.79,676.6" fill="none" stroke="#1a8ff0" stroke-width="4.6" stroke-linejoin="round"/><path d="M1817.65,676.6 L1818.22,676.6 L1818.79,676.59 L1819.36,676.59 L1819.93,676.58 L1820.51,676.56 L1821.08,676.53 L1821.65,676.5 L1822.22,676.44 L1822.79,676.35 L1823.36,676.24 L1823.94,676.08 L1824.51,675.86 L1825.08,675.58 L1825.65,675.23 L1826.22,674.81 L1826.8,674.3 L1827.37,673.72 L1827.94,673.08 L1828.51,672.39 L1829.08,671.69 L1829.65,671.01 L1830.23,670.39 L1830.8,669.85 L1831.37,669.44 L1831.94,669.18 L1832.51,669.09 L1833.08,669.18 L1833.66,669.44 L1834.23,669.85 L1834.8,670.39 L1835.37,671.01 L1835.94,671.69 L1836.52,672.39 L1837.09,673.08 L1837.66,673.72 L1838.23,674.3 L1838.8,674.81 L1839.37,675.23 L1839.95,675.58 L1840.52,675.86 L1841.09,676.08 L1841.66,676.24 L1842.23,676.35 L1842.8,676.44 L1843.38,676.5 L1843.95,676.53 L1844.52,676.56 L1845.09,676.58 L1845.66,676.59 L1846.24,676.59 L1846.81,676.6 L1847.38,676.6" fill="none" stroke="#1a8ff0" stroke-width="4.6" stroke-linejoin="round"/><path d="M1934.57,676.6 L1935.14,676.6 L1935.72,676.59 L1936.29,676.59 L1936.86,676.58 L1937.43,676.57 L1938,676.54 L1938.57,676.51 L1939.15,676.46 L1939.72,676.38 L1940.29,676.27 L1940.86,676.12 L1941.43,675.92 L1942,675.67 L1942.58,675.35 L1943.15,674.97 L1943.72,674.54 L1944.29,674.06 L1944.86,673.56 L1945.44,673.06 L1946.01,672.59 L1946.58,672.18 L1947.15,671.86 L1947.72,671.66 L1948.29,671.59 L1948.87,671.66 L1949.44,671.86 L1950.01,672.18 L1950.58,672.59 L1951.15,673.06 L1951.72,673.56 L1952.3,674.06 L1952.87,674.54 L1953.44,674.97 L1954.01,675.35 L1954.58,675.67 L1955.16,675.92 L1955.73,676.12 L1956.3,676.27 L1956.87,676.38 L1957.44,676.46 L1958.01,676.51 L1958.59,676.54 L1959.16,676.57 L1959.73,676.58 L1960.3,676.59 L1960.87,676.59 L1961.44,676.6 L1962.02,676.6" fill="none" stroke="#1ac8f5" stroke-width="4.6" stroke-linejoin="round"/><path d="M1243.6,676.25H1251.82" stroke="#e81414" stroke-width="4.6"/><path d="M1251.82,675.83H1258.19" stroke="#e81414" stroke-width="4.6"/><path d="M1258.19,674.98H1268.86" stroke="#e81414" stroke-width="4.6"/><path d="M1268.86,676.58H1274.05" stroke="#f87e12" stroke-width="4.6"/><path d="M1274.05,676.21H1279" stroke="#e81414" stroke-width="4.6"/><path d="M1279,676.34H1284.33" stroke="#e81414" stroke-width="4.6"/><path d="M1284.33,675.42H1290.16" stroke="#e81414" stroke-width="4.6"/><path d="M1290.16,675.82H1297.97" stroke="#e81414" stroke-width="4.6"/><path d="M1297.97,675.89H1307.73" stroke="#e81414" stroke-width="4.6"/><path d="M1307.73,676.98H1314.9" stroke="#e81414" stroke-width="4.6"/><path d="M1314.9,677.2H1321.37" stroke="#e81414" stroke-width="4.6"/><path d="M1321.37,676.73H1327.63" stroke="#e81414" stroke-width="4.6"/><path d="M1327.63,677.24H1337.33" stroke="#e81414" stroke-width="4.6"/><path d="M1337.33,676.63H1343.46" stroke="#e81414" stroke-width="4.6"/><path d="M1343.46,675.07H1352.88" stroke="#f87e12" stroke-width="4.6"/><path d="M1352.88,676.62H1361.97" stroke="#e81414" stroke-width="4.6"/><path d="M1361.97,677.09H1372.31" stroke="#e81414" stroke-width="4.6"/><path d="M1372.31,676.63H1377.26" stroke="#e81414" stroke-width="4.6"/><path d="M1377.26,674.96H1385.53" stroke="#e81414" stroke-width="4.6"/><path d="M1385.53,676.28H1391.43" stroke="#e81414" stroke-width="4.6"/><path d="M1391.43,675.56H1399.07" stroke="#5ee68a" stroke-width="4.6"/><path d="M1399.07,675.83H1404.81" stroke="#e81414" stroke-width="4.6"/><path d="M1404.81,676.85H1413.83" stroke="#e81414" stroke-width="4.6"/><path d="M1413.83,675.53H1423.92" stroke="#e81414" stroke-width="4.6"/><path d="M1423.92,676.41H1428.74" stroke="#e81414" stroke-width="4.6"/><path d="M1428.74,675.45H1433.49" stroke="#e81414" stroke-width="4.6"/><path d="M1433.49,675.41H1442.73" stroke="#e81414" stroke-width="4.6"/><path d="M1442.73,675.79H1449.6" stroke="#e81414" stroke-width="4.6"/><path d="M1449.6,675.49H1457.16" stroke="#e81414" stroke-width="4.6"/><path d="M1457.16,675.78H1463.71" stroke="#e81414" stroke-width="4.6"/><path d="M1463.71,675.74H1471.5" stroke="#e81414" stroke-width="4.6"/><path d="M1471.5,677.27H1481.69" stroke="#e81414" stroke-width="4.6"/><path d="M1481.69,676.03H1486.99" stroke="#f8481a" stroke-width="4.6"/><path d="M1486.99,676.85H1493.57" stroke="#1a8ff0" stroke-width="4.6"/><path d="M1493.57,675.47H1502.5" stroke="#e81414" stroke-width="4.6"/><path d="M1502.5,677.21H1510.19" stroke="#e81414" stroke-width="4.6"/><path d="M1510.19,677.11H1514.95" stroke="#1ac8f5" stroke-width="4.6"/><path d="M1514.95,676.51H1520.5" stroke="#e81414" stroke-width="4.6"/><path d="M1520.5,675.9H1529.74" stroke="#e81414" stroke-width="4.6"/><path d="M1529.74,677.03H1534.86" stroke="#1ac8f5" stroke-width="4.6"/><path d="M1534.86,676.09H1544.02" stroke="#e81414" stroke-width="4.6"/><path d="M1544.02,675.4H1553.36" stroke="#1a8ff0" stroke-width="4.6"/><path d="M1553.36,677.1H1562.84" stroke="#e81414" stroke-width="4.6"/><path d="M1562.84,675.31H1573.15" stroke="#e81414" stroke-width="4.6"/><path d="M1573.15,675.65H1582.15" stroke="#e81414" stroke-width="4.6"/><path d="M1582.15,676.98H1590.97" stroke="#e81414" stroke-width="4.6"/><path d="M1590.97,676.02H1599.21" stroke="#1ac8f5" stroke-width="4.6"/><path d="M1599.21,675.29H1608.68" stroke="#e81414" stroke-width="4.6"/><path d="M1608.68,675.83H1619.92" stroke="#e81414" stroke-width="4.6"/><path d="M1619.92,674.94H1628.09" stroke="#f8481a" stroke-width="4.6"/><path d="M1628.09,676.49H1639.01" stroke="#e81414" stroke-width="4.6"/><path d="M1639.01,675.29H1646.77" stroke="#e81414" stroke-width="4.6"/><path d="M1646.77,676.32H1652.62" stroke="#1a8ff0" stroke-width="4.6"/><path d="M1652.62,675.27H1661.26" stroke="#f5ee10" stroke-width="4.6"/><path d="M1661.26,675.41H1666.57" stroke="#e81414" stroke-width="4.6"/><path d="M1666.57,677.02H1671.21" stroke="#1ac8f5" stroke-width="4.6"/><path d="M1671.21,675.6H1677.3" stroke="#e81414" stroke-width="4.6"/><path d="M1677.3,675.33H1687.56" stroke="#e81414" stroke-width="4.6"/><path d="M1687.56,675.78H1698.68" stroke="#e81414" stroke-width="4.6"/><path d="M1698.68,676.47H1703.47" stroke="#f8481a" stroke-width="4.6"/><path d="M1703.47,676.82H1714.62" stroke="#e81414" stroke-width="4.6"/><path d="M1714.62,675.94H1724.89" stroke="#5ee68a" stroke-width="4.6"/><path d="M1724.89,677.2H1732.54" stroke="#e81414" stroke-width="4.6"/><path d="M1732.54,677.14H1739.26" stroke="#e81414" stroke-width="4.6"/><path d="M1739.26,675.36H1748.9" stroke="#e81414" stroke-width="4.6"/><path d="M1748.9,675.34H1759.25" stroke="#f87e12" stroke-width="4.6"/><path d="M1759.25,677.21H1768.73" stroke="#e81414" stroke-width="4.6"/><path d="M1768.73,676.83H1778.21" stroke="#f87e12" stroke-width="4.6"/><path d="M1778.21,675.69H1787.14" stroke="#f8b40a" stroke-width="4.6"/><path d="M1787.14,675.15H1792.53" stroke="#e81414" stroke-width="4.6"/><path d="M1792.53,675.59H1802.53" stroke="#e81414" stroke-width="4.6"/><path d="M1802.53,675.42H1809.45" stroke="#26ecd8" stroke-width="4.6"/><path d="M1809.45,677.06H1819.59" stroke="#f8481a" stroke-width="4.6"/><path d="M1819.59,676.26H1828.87" stroke="#e81414" stroke-width="4.6"/><path d="M1828.87,675.13H1835.21" stroke="#e81414" stroke-width="4.6"/><path d="M1835.21,675.48H1845.73" stroke="#26ecd8" stroke-width="4.6"/><path d="M1845.73,676.79H1852.62" stroke="#e81414" stroke-width="4.6"/><path d="M1852.62,676.73H1862.05" stroke="#e81414" stroke-width="4.6"/><path d="M1862.05,675.17H1867.99" stroke="#e81414" stroke-width="4.6"/><path d="M1867.99,675.53H1876.88" stroke="#e81414" stroke-width="4.6"/><path d="M1876.88,676.29H1886.84" stroke="#e81414" stroke-width="4.6"/><path d="M1886.84,674.99H1894.04" stroke="#26ecd8" stroke-width="4.6"/><path d="M1894.04,674.99H1903.7" stroke="#f8b40a" stroke-width="4.6"/><path d="M1903.7,677.14H1910.91" stroke="#1a8ff0" stroke-width="4.6"/><path d="M1910.91,676.01H1915.6" stroke="#e81414" stroke-width="4.6"/><path d="M1915.6,675.25H1922.07" stroke="#e81414" stroke-width="4.6"/><path d="M1922.07,675.88H1927.47" stroke="#e81414" stroke-width="4.6"/><path d="M1927.47,675.17H1935.35" stroke="#e81414" stroke-width="4.6"/><path d="M1935.35,675.99H1940.17" stroke="#e81414" stroke-width="4.6"/><path d="M1940.17,675.3H1944.9" stroke="#e81414" stroke-width="4.6"/><path d="M1944.9,675.79H1952.38" stroke="#1a8ff0" stroke-width="4.6"/><path d="M1952.38,675.42H1958.19" stroke="#e81414" stroke-width="4.6"/><path d="M1958.19,677.17H1958.3" stroke="#e81414" stroke-width="4.6"/><path d="M1847.26,676.58 L1847.84,676.56 L1848.41,676.55 L1848.98,676.53 L1849.55,676.49 L1850.12,676.45 L1850.69,676.39 L1851.27,676.31 L1851.84,676.2 L1852.41,676.05 L1852.98,675.86 L1853.55,675.6 L1854.13,675.27 L1854.7,674.84 L1855.27,674.3 L1855.84,673.61 L1856.41,672.75 L1856.98,671.68 L1857.56,670.36 L1858.13,668.75 L1858.7,666.81 L1859.27,664.5 L1859.84,661.76 L1860.41,658.55 L1860.99,654.82 L1861.56,650.55 L1862.13,645.68 L1862.7,640.22 L1863.27,634.14 L1863.85,627.45 L1864.42,620.17 L1864.99,612.36 L1865.56,604.06 L1866.13,595.36 L1866.7,586.37 L1867.28,577.21 L1867.85,568.02 L1868.42,558.96 L1868.99,550.19 L1869.56,541.88 L1870.13,534.21 L1870.71,527.34 L1871.28,521.43 L1871.85,516.61 L1872.42,513 L1872.99,510.69 L1873.57,509.73 L1874.14,510.14 L1874.71,511.92 L1875.28,515.02 L1875.85,519.37 L1876.42,524.86 L1877,531.36 L1877.57,538.73 L1878.14,546.8 L1878.71,555.41 L1879.28,564.37 L1879.85,573.53 L1880.43,582.72 L1881,591.79 L1881.57,600.62 L1882.14,609.09 L1882.71,617.11 L1883.29,624.61 L1883.86,631.53 L1884.43,637.86 L1885,643.57 L1885.57,648.67 L1886.14,653.18 L1886.72,657.12 L1887.29,660.53 L1887.86,663.46 L1888.43,665.94 L1889,668.02 L1889.57,669.75 L1890.15,671.18 L1890.72,672.35 L1891.29,673.29 L1891.86,674.04 L1892.43,674.64 L1893.01,675.11 L1893.58,675.48 L1894.15,675.76 L1894.72,675.98 L1895.29,676.14 L1895.86,676.27 L1896.44,676.36 L1897.01,676.43 L1897.58,676.48 L1898.15,676.51 L1898.72,676.54 L1899.29,676.56 L1899.87,676.57" fill="none" stroke="#e81414" stroke-width="4.6" stroke-linejoin="round"/><path d="M1243.6,676.6 L1323.65,676.14 L1323.93,676.06 L1324.22,675.98 L1324.5,675.88 L1324.79,675.77 L1325.08,675.64 L1325.36,675.5 L1325.65,675.33 L1325.93,675.14 L1326.22,674.92 L1326.51,674.67 L1326.79,674.38 L1327.08,674.06 L1327.36,673.69 L1327.65,673.27 L1327.93,672.8 L1328.22,672.26 L1328.51,671.65 L1328.79,670.96 L1329.08,670.19 L1329.36,669.31 L1329.65,668.33 L1329.94,667.22 L1330.22,665.98 L1330.51,664.6 L1330.79,663.04 L1331.08,661.31 L1331.37,659.38 L1331.65,657.24 L1331.94,654.86 L1332.22,652.22 L1332.51,649.31 L1332.79,646.1 L1333.08,642.56 L1333.37,638.68 L1333.65,634.44 L1333.94,629.8 L1334.22,624.76 L1334.51,619.29 L1334.8,613.38 L1335.08,607.01 L1335.37,600.19 L1335.65,592.91 L1335.94,585.18 L1336.23,577.02 L1336.51,568.48 L1336.8,559.61 L1337.08,550.5 L1337.37,541.28 L1337.65,532.13 L1337.94,523.33 L1338.23,515.37 L1338.51,509.7 L1338.8,515.37 L1339.08,523.33 L1339.37,532.13 L1339.66,541.28 L1339.94,550.5 L1340.23,559.61 L1340.51,568.48 L1340.8,577.02 L1341.09,585.18 L1341.37,592.91 L1341.66,600.19 L1341.94,607.01 L1342.23,613.38 L1342.51,619.29 L1342.8,624.76 L1343.09,629.8 L1343.37,634.44 L1343.66,638.68 L1343.94,642.56 L1344.23,646.1 L1344.52,649.31 L1344.8,652.22 L1345.09,654.86 L1345.37,657.24 L1345.66,659.38 L1345.95,661.31 L1346.23,663.04 L1346.52,664.6 L1346.8,665.98 L1347.09,667.22 L1347.37,668.33 L1347.66,669.31 L1347.95,670.19 L1348.23,670.96 L1348.52,671.65 L1348.8,672.26 L1349.09,672.8 L1349.38,673.27 L1349.66,673.69 L1349.95,674.06 L1350.23,674.38 L1350.52,674.67 L1350.81,674.92 L1351.09,675.14 L1351.38,675.33 L1351.66,675.5 L1351.95,675.64 L1352.23,675.77 L1352.52,675.88 L1352.81,675.98 L1353.09,676.06 L1353.38,676.14 L1369.96,676.14 L1370.24,676.06 L1370.53,675.98 L1370.82,675.88 L1371.1,675.77 L1371.39,675.64 L1371.67,675.5 L1371.96,675.33 L1372.25,675.14 L1372.53,674.92 L1372.82,674.67 L1373.1,674.38 L1373.39,674.06 L1373.68,673.69 L1373.96,673.27 L1374.25,672.8 L1374.53,672.26 L1374.82,671.65 L1375.1,670.96 L1375.39,670.19 L1375.68,669.31 L1375.96,668.33 L1376.25,667.22 L1376.53,665.98 L1376.82,664.6 L1377.11,663.04 L1377.39,661.31 L1377.68,659.38 L1377.96,657.24 L1378.25,654.86 L1378.54,652.22 L1378.82,649.31 L1379.11,646.1 L1379.39,642.56 L1379.68,638.68 L1379.96,634.44 L1380.25,629.8 L1380.54,624.76 L1380.82,619.29 L1381.11,613.38 L1381.39,607.01 L1381.68,600.19 L1381.97,592.91 L1382.25,585.18 L1382.54,577.02 L1382.82,568.48 L1383.11,559.61 L1383.4,550.5 L1383.68,541.28 L1383.97,532.13 L1384.25,523.33 L1384.54,515.37 L1384.82,509.7 L1385.11,515.37 L1385.4,523.33 L1385.68,532.13 L1385.97,541.28 L1386.25,550.5 L1386.54,559.61 L1386.83,568.48 L1387.11,577.02 L1387.4,585.18 L1387.68,592.91 L1387.97,600.19 L1388.26,607.01 L1388.54,613.38 L1388.83,619.29 L1389.11,624.76 L1389.4,629.8 L1389.68,634.44 L1389.97,638.68 L1390.26,642.56 L1390.54,646.1 L1390.83,649.31 L1391.11,652.22 L1391.4,654.86 L1391.69,657.24 L1391.97,659.38 L1392.26,661.31 L1392.54,663.04 L1392.83,664.6 L1393.12,665.98 L1393.4,667.22 L1393.69,668.33 L1393.97,669.31 L1394.26,670.19 L1394.54,670.96 L1394.83,671.65 L1395.12,672.26 L1395.4,672.8 L1395.69,673.27 L1395.97,673.69 L1396.26,674.06 L1396.55,674.38 L1396.83,674.67 L1397.12,674.92 L1397.4,675.14 L1397.69,675.33 L1397.98,675.5 L1398.26,675.64 L1398.55,675.77 L1398.83,675.88 L1399.12,675.98 L1399.4,676.06 L1399.69,676.14 L1427.71,676.14 L1427.99,676.06 L1428.28,675.98 L1428.56,675.88 L1428.85,675.77 L1429.14,675.64 L1429.42,675.5 L1429.71,675.33 L1429.99,675.14 L1430.28,674.92 L1430.57,674.67 L1430.85,674.38 L1431.14,674.06 L1431.42,673.69 L1431.71,673.27 L1431.99,672.8 L1432.28,672.26 L1432.57,671.65 L1432.85,670.96 L1433.14,670.19 L1433.42,669.31 L1433.71,668.33 L1434,667.22 L1434.28,665.98 L1434.57,664.6 L1434.85,663.04 L1435.14,661.31 L1435.43,659.38 L1435.71,657.24 L1436,654.86 L1436.28,652.22 L1436.57,649.31 L1436.85,646.1 L1437.14,642.56 L1437.43,638.68 L1437.71,634.44 L1438,629.8 L1438.28,624.76 L1438.57,619.29 L1438.86,613.38 L1439.14,607.01 L1439.43,600.19 L1439.71,592.91 L1440,585.18 L1440.29,577.02 L1440.57,568.48 L1440.86,559.61 L1441.14,550.5 L1441.43,541.28 L1441.71,532.13 L1442,523.33 L1442.29,515.37 L1442.57,509.7 L1442.86,515.37 L1443.14,523.33 L1443.43,532.13 L1443.72,541.28 L1444,550.5 L1444.29,559.61 L1444.57,568.48 L1444.86,577.02 L1445.15,585.18 L1445.43,592.91 L1445.72,600.19 L1446,607.01 L1446.29,613.38 L1446.57,619.29 L1446.86,624.76 L1447.15,629.8 L1447.43,634.44 L1447.72,638.68 L1448,642.56 L1448.29,646.1 L1448.58,649.31 L1448.86,652.22 L1449.15,654.86 L1449.43,657.24 L1449.72,659.38 L1450.01,661.31 L1450.29,663.04 L1450.58,664.6 L1450.86,665.98 L1451.15,667.22 L1451.43,668.33 L1451.72,669.31 L1452.01,670.19 L1452.29,670.96 L1452.58,671.65 L1452.86,672.26 L1453.15,672.8 L1453.44,673.27 L1453.72,673.69 L1454.01,674.06 L1454.29,674.38 L1454.58,674.67 L1454.87,674.92 L1455.15,675.14 L1455.44,675.33 L1455.72,675.5 L1456.01,675.64 L1456.29,675.77 L1456.58,675.88 L1456.87,675.98 L1457.15,676.06 L1457.44,676.14 L1496.89,676.14 L1497.18,676.06 L1497.46,675.98 L1497.75,675.88 L1498.03,675.77 L1498.32,675.64 L1498.6,675.5 L1498.89,675.33 L1499.18,675.14 L1499.46,674.92 L1499.75,674.67 L1500.03,674.38 L1500.32,674.06 L1500.61,673.69 L1500.89,673.27 L1501.18,672.8 L1501.46,672.26 L1501.75,671.65 L1502.04,670.96 L1502.32,670.19 L1502.61,669.31 L1502.89,668.33 L1503.18,667.22 L1503.46,665.98 L1503.75,664.6 L1504.04,663.04 L1504.32,661.31 L1504.61,659.38 L1504.89,657.24 L1505.18,654.86 L1505.47,652.22 L1505.75,649.31 L1506.04,646.1 L1506.32,642.56 L1506.61,638.68 L1506.9,634.44 L1507.18,629.8 L1507.47,624.76 L1507.75,619.29 L1508.04,613.38 L1508.32,607.01 L1508.61,600.19 L1508.9,592.91 L1509.18,585.18 L1509.47,577.02 L1509.75,568.48 L1510.04,559.61 L1510.33,550.5 L1510.61,541.28 L1510.9,532.13 L1511.18,523.33 L1511.47,515.37 L1511.76,509.7 L1512.04,515.37 L1512.33,523.33 L1512.61,532.13 L1512.9,541.28 L1513.18,550.5 L1513.47,559.61 L1513.76,568.48 L1514.04,577.02 L1514.33,585.18 L1514.61,592.91 L1514.9,600.19 L1515.19,607.01 L1515.47,613.38 L1515.76,619.29 L1516.04,624.76 L1516.33,629.8 L1516.62,634.44 L1516.9,638.68 L1517.19,642.56 L1517.47,646.1 L1517.76,649.31 L1518.04,652.22 L1518.33,654.86 L1518.62,657.24 L1518.9,659.38 L1519.19,661.31 L1519.47,663.04 L1519.76,664.6 L1520.05,665.98 L1520.33,667.22 L1520.62,668.33 L1520.9,669.31 L1521.19,670.19 L1521.48,670.96 L1521.76,671.65 L1522.05,672.26 L1522.33,672.8 L1522.62,673.27 L1522.9,673.69 L1523.19,674.06 L1523.48,674.38 L1523.76,674.67 L1524.05,674.92 L1524.33,675.14 L1524.62,675.33 L1524.91,675.5 L1525.19,675.64 L1525.48,675.77 L1525.76,675.88 L1526.05,675.98 L1526.34,676.06 L1526.62,676.14 L1566.07,676.14 L1566.36,676.06 L1566.64,675.98 L1566.93,675.88 L1567.22,675.77 L1567.5,675.64 L1567.79,675.5 L1568.07,675.33 L1568.36,675.14 L1568.65,674.92 L1568.93,674.67 L1569.22,674.38 L1569.5,674.06 L1569.79,673.69 L1570.07,673.27 L1570.36,672.8 L1570.65,672.26 L1570.93,671.65 L1571.22,670.96 L1571.5,670.19 L1571.79,669.31 L1572.08,668.33 L1572.36,667.22 L1572.65,665.98 L1572.93,664.6 L1573.22,663.04 L1573.51,661.31 L1573.79,659.38 L1574.08,657.24 L1574.36,654.86 L1574.65,652.22 L1574.93,649.31 L1575.22,646.1 L1575.51,642.56 L1575.79,638.68 L1576.08,634.44 L1576.36,629.8 L1576.65,624.76 L1576.94,619.29 L1577.22,613.38 L1577.51,607.01 L1577.79,600.19 L1578.08,592.91 L1578.37,585.18 L1578.65,577.02 L1578.94,568.48 L1579.22,559.61 L1579.51,550.5 L1579.79,541.28 L1580.08,532.13 L1580.37,523.33 L1580.65,515.37 L1580.94,509.7 L1581.22,515.37 L1581.51,523.33 L1581.8,532.13 L1582.08,541.28 L1582.37,550.5 L1582.65,559.61 L1582.94,568.48 L1583.23,577.02 L1583.51,585.18 L1583.8,592.91 L1584.08,600.19 L1584.37,607.01 L1584.65,613.38 L1584.94,619.29 L1585.23,624.76 L1585.51,629.8 L1585.8,634.44 L1586.08,638.68 L1586.37,642.56 L1586.66,646.1 L1586.94,649.31 L1587.23,652.22 L1587.51,654.86 L1587.8,657.24 L1588.09,659.38 L1588.37,661.31 L1588.66,663.04 L1588.94,664.6 L1589.23,665.98 L1589.51,667.22 L1589.8,668.33 L1590.09,669.31 L1590.37,670.19 L1590.66,670.96 L1590.94,671.65 L1591.23,672.26 L1591.52,672.8 L1591.8,673.27 L1592.09,673.69 L1592.37,674.06 L1592.66,674.38 L1592.95,674.67 L1593.23,674.92 L1593.52,675.14 L1593.8,675.33 L1594.09,675.5 L1594.37,675.64 L1594.66,675.77 L1594.95,675.88 L1595.23,675.98 L1595.52,676.06 L1595.8,676.14 L1627.82,676.14 L1628.11,676.06 L1628.39,675.98 L1628.68,675.88 L1628.97,675.77 L1629.25,675.64 L1629.54,675.5 L1629.82,675.33 L1630.11,675.14 L1630.4,674.92 L1630.68,674.67 L1630.97,674.38 L1631.25,674.06 L1631.54,673.69 L1631.83,673.27 L1632.11,672.8 L1632.4,672.26 L1632.68,671.65 L1632.97,670.96 L1633.25,670.19 L1633.54,669.31 L1633.83,668.33 L1634.11,667.22 L1634.4,665.98 L1634.68,664.6 L1634.97,663.04 L1635.26,661.31 L1635.54,659.38 L1635.83,657.24 L1636.11,654.86 L1636.4,652.22 L1636.69,649.31 L1636.97,646.1 L1637.26,642.56 L1637.54,638.68 L1637.83,634.44 L1638.11,629.8 L1638.4,624.76 L1638.69,619.29 L1638.97,613.38 L1639.26,607.01 L1639.54,600.19 L1639.83,592.91 L1640.12,585.18 L1640.4,577.02 L1640.69,568.48 L1640.97,559.61 L1641.26,550.5 L1641.54,541.28 L1641.83,532.13 L1642.12,523.33 L1642.4,515.37 L1642.69,509.7 L1642.97,515.37 L1643.26,523.33 L1643.55,532.13 L1643.83,541.28 L1644.12,550.5 L1644.4,559.61 L1644.69,568.48 L1644.98,577.02 L1645.26,585.18 L1645.55,592.91 L1645.83,600.19 L1646.12,607.01 L1646.4,613.38 L1646.69,619.29 L1646.98,624.76 L1647.26,629.8 L1647.55,634.44 L1647.83,638.68 L1648.12,642.56 L1648.41,646.1 L1648.69,649.31 L1648.98,652.22 L1649.26,654.86 L1649.55,657.24 L1649.84,659.38 L1650.12,661.31 L1650.41,663.04 L1650.69,664.6 L1650.98,665.98 L1651.26,667.22 L1651.55,668.33 L1651.84,669.31 L1652.12,670.19 L1652.41,670.96 L1652.69,671.65 L1652.98,672.26 L1653.27,672.8 L1653.55,673.27 L1653.84,673.69 L1654.12,674.06 L1654.41,674.38 L1654.7,674.67 L1654.98,674.92 L1655.27,675.14 L1655.55,675.33 L1655.84,675.5 L1656.12,675.64 L1656.41,675.77 L1656.7,675.88 L1656.98,675.98 L1657.27,676.06 L1657.55,676.14 L1684.43,676.14 L1684.71,676.06 L1685,675.98 L1685.28,675.88 L1685.57,675.77 L1685.86,675.64 L1686.14,675.5 L1686.43,675.33 L1686.71,675.14 L1687,674.92 L1687.29,674.67 L1687.57,674.38 L1687.86,674.06 L1688.14,673.69 L1688.43,673.27 L1688.72,672.8 L1689,672.26 L1689.29,671.65 L1689.57,670.96 L1689.86,670.19 L1690.14,669.31 L1690.43,668.33 L1690.72,667.22 L1691,665.98 L1691.29,664.6 L1691.57,663.04 L1691.86,661.31 L1692.15,659.38 L1692.43,657.24 L1692.72,654.86 L1693,652.22 L1693.29,649.31 L1693.58,646.1 L1693.86,642.56 L1694.15,638.68 L1694.43,634.44 L1694.72,629.8 L1695,624.76 L1695.29,619.29 L1695.58,613.38 L1695.86,607.01 L1696.15,600.19 L1696.43,592.91 L1696.72,585.18 L1697.01,577.02 L1697.29,568.48 L1697.58,559.61 L1697.86,550.5 L1698.15,541.28 L1698.44,532.13 L1698.72,523.33 L1699.01,515.37 L1699.29,509.7 L1699.58,515.37 L1699.86,523.33 L1700.15,532.13 L1700.44,541.28 L1700.72,550.5 L1701.01,559.61 L1701.29,568.48 L1701.58,577.02 L1701.87,585.18 L1702.15,592.91 L1702.44,600.19 L1702.72,607.01 L1703.01,613.38 L1703.3,619.29 L1703.58,624.76 L1703.87,629.8 L1704.15,634.44 L1704.44,638.68 L1704.72,642.56 L1705.01,646.1 L1705.3,649.31 L1705.58,652.22 L1705.87,654.86 L1706.15,657.24 L1706.44,659.38 L1706.73,661.31 L1707.01,663.04 L1707.3,664.6 L1707.58,665.98 L1707.87,667.22 L1708.16,668.33 L1708.44,669.31 L1708.73,670.19 L1709.01,670.96 L1709.3,671.65 L1709.58,672.26 L1709.87,672.8 L1710.16,673.27 L1710.44,673.69 L1710.73,674.06 L1711.01,674.38 L1711.3,674.67 L1711.59,674.92 L1711.87,675.14 L1712.16,675.33 L1712.44,675.5 L1712.73,675.64 L1713.01,675.77 L1713.3,675.88 L1713.59,675.98 L1713.87,676.06 L1714.16,676.14 L1734.17,676.15 L1734.46,675.95 L1734.74,675.67 L1735.03,675.31 L1735.31,674.84 L1735.6,674.25 L1735.89,673.52 L1736.17,672.65 L1736.46,671.62 L1736.74,670.46 L1737.03,669.18 L1737.31,667.8 L1737.6,666.38 L1737.89,664.96 L1738.17,663.6 L1738.46,662.38 L1738.74,661.35 L1739.03,660.56 L1739.32,660.08 L1739.6,659.91 L1739.89,660.08 L1740.17,660.56 L1740.46,661.35 L1740.75,662.38 L1741.03,663.6 L1741.32,664.96 L1741.6,666.38 L1741.89,667.8 L1742.17,669.18 L1742.46,670.46 L1742.75,671.62 L1743.03,672.65 L1743.32,673.52 L1743.6,674.25 L1743.89,674.06 L1744.18,673.69 L1744.46,673.27 L1744.75,672.8 L1745.03,672.26 L1745.32,671.65 L1745.61,670.96 L1745.89,670.19 L1746.18,669.31 L1746.46,668.33 L1746.75,667.22 L1747.03,665.98 L1747.32,664.6 L1747.61,663.04 L1747.89,661.31 L1748.18,659.38 L1748.46,657.24 L1748.75,654.86 L1749.04,652.22 L1749.32,649.31 L1749.61,646.1 L1749.89,642.56 L1750.18,638.68 L1750.47,634.44 L1750.75,629.8 L1751.04,624.76 L1751.32,619.29 L1751.61,613.38 L1751.89,607.01 L1752.18,600.19 L1752.47,592.91 L1752.75,585.18 L1753.04,577.02 L1753.32,568.48 L1753.61,559.61 L1753.9,550.5 L1754.18,541.28 L1754.47,532.13 L1754.75,523.33 L1755.04,515.37 L1755.33,509.7 L1755.61,515.37 L1755.9,523.33 L1756.18,532.13 L1756.47,541.28 L1756.75,550.5 L1757.04,559.61 L1757.33,568.48 L1757.61,577.02 L1757.9,585.18 L1758.18,592.91 L1758.47,600.19 L1758.76,607.01 L1759.04,613.38 L1759.33,619.29 L1759.61,624.76 L1759.9,629.8 L1760.19,634.44 L1760.47,638.68 L1760.76,642.56 L1761.04,646.1 L1761.33,649.31 L1761.61,652.22 L1761.9,654.86 L1762.19,657.24 L1762.47,659.38 L1762.76,661.31 L1763.04,663.04 L1763.33,664.6 L1763.62,665.98 L1763.9,667.22 L1764.19,668.33 L1764.47,669.31 L1764.76,670.19 L1765.05,670.96 L1765.33,671.65 L1765.62,672.26 L1765.9,672.8 L1766.19,673.27 L1766.47,673.69 L1766.76,674.06 L1767.05,674.38 L1767.33,674.67 L1767.62,674.92 L1767.9,675.14 L1768.19,675.33 L1768.48,675.5 L1768.76,675.64 L1769.05,675.77 L1769.33,675.88 L1769.62,675.98 L1769.91,676.06 L1770.19,676.14 L1789.92,676.1 L1790.2,675.88 L1790.49,675.58 L1790.77,675.18 L1791.06,674.66 L1791.35,674.01 L1791.63,673.21 L1791.92,672.25 L1792.2,671.13 L1792.49,669.85 L1792.78,668.43 L1793.06,666.92 L1793.35,665.35 L1793.63,663.79 L1793.92,662.3 L1794.2,660.96 L1794.49,659.82 L1794.78,658.96 L1795.06,658.42 L1795.35,658.24 L1795.63,658.42 L1795.92,658.96 L1796.21,659.82 L1796.49,660.96 L1796.78,662.3 L1797.06,663.79 L1797.35,665.35 L1797.64,666.92 L1797.92,668.43 L1798.21,669.85 L1798.49,671.13 L1798.78,672.25 L1799.06,671.65 L1799.35,670.96 L1799.64,670.19 L1799.92,669.31 L1800.21,668.33 L1800.49,667.22 L1800.78,665.98 L1801.07,664.6 L1801.35,663.04 L1801.64,661.31 L1801.92,659.38 L1802.21,657.24 L1802.5,654.86 L1802.78,652.22 L1803.07,649.31 L1803.35,646.1 L1803.64,642.56 L1803.92,638.68 L1804.21,634.44 L1804.5,629.8 L1804.78,624.76 L1805.07,619.29 L1805.35,613.38 L1805.64,607.01 L1805.93,600.19 L1806.21,592.91 L1806.5,585.18 L1806.78,577.02 L1807.07,568.48 L1807.36,559.61 L1807.64,550.5 L1807.93,541.28 L1808.21,532.13 L1808.5,523.33 L1808.78,515.37 L1809.07,509.7 L1809.36,515.37 L1809.64,523.33 L1809.93,532.13 L1810.21,541.28 L1810.5,550.5 L1810.79,559.61 L1811.07,568.48 L1811.36,577.02 L1811.64,585.18 L1811.93,592.91 L1812.22,600.19 L1812.5,607.01 L1812.79,613.38 L1813.07,619.29 L1813.36,624.76 L1813.64,629.8 L1813.93,634.44 L1814.22,638.68 L1814.5,642.56 L1814.79,646.1 L1815.07,649.31 L1815.36,652.22 L1815.65,654.86 L1815.93,657.24 L1816.22,659.38 L1816.5,661.31 L1816.79,663.04 L1817.08,664.6 L1817.36,665.98 L1817.65,667.22 L1817.93,668.33 L1818.22,669.31 L1818.5,670.19 L1818.79,670.96 L1819.08,671.65 L1819.36,672.26 L1819.65,672.8 L1819.93,673.27 L1820.22,673.69 L1820.51,674.06 L1820.79,674.38 L1821.08,674.67 L1821.36,674.92 L1821.65,675.14 L1821.94,675.33 L1822.22,675.5 L1822.51,675.64 L1822.79,675.77 L1823.08,675.88 L1823.36,675.98 L1823.65,676.06 L1823.94,676.14 L1847.09,676.1 L1847.38,675.88 L1847.66,675.58 L1847.95,675.18 L1848.24,674.66 L1848.52,674.01 L1848.81,673.21 L1849.09,672.25 L1849.38,671.13 L1849.67,669.85 L1849.95,668.43 L1850.24,666.92 L1850.52,665.35 L1850.81,663.79 L1851.1,662.3 L1851.38,660.96 L1851.67,659.82 L1851.95,658.96 L1852.24,658.42 L1852.52,658.24 L1852.81,658.42 L1853.1,658.96 L1853.38,659.82 L1853.67,660.96 L1853.95,662.3 L1854.24,663.79 L1854.53,665.35 L1854.81,666.92 L1855.1,668.43 L1855.38,669.85 L1855.67,671.13 L1855.95,672.25 L1856.24,671.65 L1856.53,670.96 L1856.81,670.19 L1857.1,669.31 L1857.38,668.33 L1857.67,667.22 L1857.96,665.98 L1858.24,664.6 L1858.53,663.04 L1858.81,661.31 L1859.1,659.38 L1859.39,657.24 L1859.67,654.86 L1859.96,652.22 L1860.24,649.31 L1860.53,646.1 L1860.81,642.56 L1861.1,638.68 L1861.39,634.44 L1861.67,629.8 L1861.96,624.76 L1862.24,619.29 L1862.53,613.38 L1862.82,607.01 L1863.1,600.19 L1863.39,592.91 L1863.67,585.18 L1863.96,577.02 L1864.25,568.48 L1864.53,559.61 L1864.82,550.5 L1865.1,541.28 L1865.39,532.13 L1865.67,523.33 L1865.96,515.37 L1866.25,509.7 L1866.53,515.37 L1866.82,523.33 L1867.1,532.13 L1867.39,541.28 L1867.68,550.5 L1867.96,559.61 L1868.25,568.48 L1868.53,577.02 L1868.82,585.18 L1869.11,592.91 L1869.39,600.19 L1869.68,607.01 L1869.96,613.38 L1870.25,619.29 L1870.53,624.76 L1870.82,629.8 L1871.11,634.44 L1871.39,638.68 L1871.68,642.56 L1871.96,646.1 L1872.25,649.31 L1872.54,652.22 L1872.82,654.86 L1873.11,657.24 L1873.39,659.38 L1873.68,661.31 L1873.97,663.04 L1874.25,664.6 L1874.54,665.98 L1874.82,667.22 L1875.11,668.33 L1875.39,669.31 L1875.68,670.19 L1875.97,670.96 L1876.25,671.65 L1876.54,672.26 L1876.82,672.8 L1877.11,673.27 L1877.4,673.69 L1877.68,674.06 L1877.97,674.38 L1878.25,674.67 L1878.54,674.92 L1878.83,675.14 L1879.11,675.33 L1879.4,675.5 L1879.68,675.64 L1879.97,675.77 L1880.25,675.88 L1880.54,675.98 L1880.83,676.06 L1881.11,676.14 L1958.3,676.6" fill="none" stroke="#000" stroke-width="2.6" stroke-dasharray="6.5 4.5" stroke-linejoin="round"/>
<g font-family="'Liberation Sans', Arial, sans-serif" font-size="25" fill="#4a4a4a"><text x="1243.6" y="709.3" text-anchor="middle">450</text><text x="1386.54" y="709.3" text-anchor="middle">500</text><text x="1529.48" y="709.3" text-anchor="middle">550</text><text x="1672.42" y="709.3" text-anchor="middle">600</text><text x="1815.36" y="709.3" text-anchor="middle">650</text><text x="1958.3" y="709.3" text-anchor="middle">700</text><text x="1230.6" y="685.2" text-anchor="end">0</text><text x="1230.6" y="601.75" text-anchor="end">0.5</text><text x="1230.6" y="518.3" text-anchor="end">1</text></g>
<g font-family="'Liberation Sans', Arial, sans-serif" font-size="25.5" fill="#1a1a1a"><text x="1594" y="746.9" text-anchor="middle">Wavelength (nm)</text><text transform="translate(1172.8,576.46) rotate(-90)" text-anchor="middle">Intensity (a. u.)</text></g>
<path d="M1264,434.6h7.4m10,0h7.4m10,0h7.4m10,0h7.4m10,0h7.4m10,0h10.6" stroke="#000" stroke-width="3.8"/><rect x="1625.5" y="432.1" width="10.85" height="5" fill="#1a8ff0"/><rect x="1636.05" y="432.1" width="10.85" height="5" fill="#1ac8f5"/><rect x="1646.6" y="432.1" width="10.85" height="5" fill="#26ecd8"/><rect x="1657.15" y="432.1" width="10.85" height="5" fill="#5ee68a"/><rect x="1667.7" y="432.1" width="10.85" height="5" fill="#b2ee3c"/><rect x="1678.25" y="432.1" width="10.85" height="5" fill="#f5ee10"/><rect x="1688.8" y="432.1" width="10.85" height="5" fill="#f8b40a"/><rect x="1699.35" y="432.1" width="10.85" height="5" fill="#f87e12"/><rect x="1709.9" y="432.1" width="10.85" height="5" fill="#f8481a"/><rect x="1720.45" y="432.1" width="10.85" height="5" fill="#e81414"/><g font-family="'Liberation Sans', Arial, sans-serif" font-size="25.5" fill="#111"><text x="1382.6" y="442">Ground truth</text><text x="1744" y="442">BEST camera</text></g>
<path d="M1243.6,870.52V1070.8H1958.3" fill="none" stroke="#3d3d3d" stroke-width="1.3"/>
<path d="M1243.6,987.35h7.5" stroke="#3d3d3d" stroke-width="1.3"/>
<path d="M1243.6,903.9h7.5" stroke="#3d3d3d" stroke-width="1.3"/>
<path d="M1386.54,1070.8v-7.5" stroke="#3d3d3d" stroke-width="1.3"/>
<path d="M1529.48,1070.8v-7.5" stroke="#3d3d3d" stroke-width="1.3"/>
<path d="M1672.42,1070.8v-7.5" stroke="#3d3d3d" stroke-width="1.3"/>
<path d="M1815.36,1070.8v-7.5" stroke="#3d3d3d" stroke-width="1.3"/>
<path d="M1958.3,1070.8v-7.5" stroke="#3d3d3d" stroke-width="1.3"/>
<path d="M1243.8,1069.79 L1246.97,1069.77 L1250.14,1069.73 L1253.31,1069.64 L1256.48,1069.49 L1259.65,1069.24 L1262.82,1068.89 L1265.99,1068.48 L1269.16,1068.07 L1272.33,1067.75 L1275.5,1067.6 L1278.67,1067.68 L1281.84,1067.95 L1285.01,1068.35 L1288.18,1068.77 L1291.35,1069.14 L1294.52,1069.42 L1297.69,1069.6 L1300.86,1069.71 L1304.03,1069.76 L1307.2,1069.78" fill="none" stroke="#f00" stroke-width="4.2" stroke-linecap="butt"/><path d="M1319.9,1069.8 L1324.43,1069.8 L1328.97,1069.8 L1333.5,1069.8" fill="none" stroke="#f00" stroke-width="4.2" stroke-linecap="butt"/><path d="M1339.9,1069.78 L1343.04,1069.76 L1346.18,1069.72 L1349.31,1069.65 L1352.45,1069.55 L1355.59,1069.4 L1358.73,1069.23 L1361.86,1069.05 L1365,1068.91 L1368.14,1068.82 L1371.28,1068.81 L1374.41,1068.88 L1377.55,1068.99 L1380.69,1069.1 L1383.83,1069.1 L1386.96,1068.93 L1390.1,1068.56 L1393.24,1068.12 L1396.38,1067.81 L1399.51,1067.82 L1402.65,1068.18 L1405.79,1068.71 L1408.92,1069.19 L1412.06,1069.52 L1415.2,1069.7" fill="none" stroke="#f00" stroke-width="4.2" stroke-linecap="butt"/><path d="M1422.5,1069.76 L1425.73,1069.65 L1428.96,1069.38 L1432.19,1068.87 L1435.42,1068.11 L1438.65,1067.32 L1441.88,1066.84 L1445.1,1066.93 L1448.33,1067.54 L1451.56,1068.36 L1454.79,1069.05 L1458.02,1069.49 L1461.25,1069.69 L1464.48,1069.77 L1467.71,1069.79 L1470.94,1069.8 L1474.17,1069.8 L1477.4,1069.8 L1480.62,1069.8 L1483.85,1069.8 L1487.08,1069.8 L1490.31,1069.8 L1493.54,1069.8 L1496.77,1069.8 L1500,1069.8" fill="none" stroke="#f00" stroke-width="4.2" stroke-linecap="butt"/><path d="M1704.3,1069.78 L1707.39,1069.76 L1710.48,1069.69 L1713.57,1069.57 L1716.65,1069.36 L1719.74,1069.08 L1722.83,1068.75 L1725.92,1068.46 L1729.01,1068.31 L1732.1,1068.35 L1735.19,1068.56 L1738.27,1068.87 L1741.36,1069.19 L1744.45,1069.45 L1747.54,1069.62 L1750.63,1069.72 L1753.72,1069.75 L1756.81,1069.73 L1759.89,1069.65 L1762.98,1069.46 L1766.07,1069.15 L1769.16,1068.69 L1772.25,1068.15 L1775.34,1067.65 L1778.43,1067.34 L1781.51,1067.34 L1784.6,1067.64 L1787.69,1068.14 L1790.78,1068.68 L1793.87,1069.14 L1796.96,1069.46 L1800.05,1069.65 L1803.13,1069.74 L1806.22,1069.78 L1809.31,1069.79 L1812.4,1069.8" fill="none" stroke="#f00" stroke-width="4.2" stroke-linecap="butt"/><path d="M1840.4,1069.68 L1843.82,1069.51 L1847.25,1069.22 L1850.67,1068.82 L1854.09,1068.39 L1857.52,1068.08 L1860.94,1068.01 L1864.36,1068.22 L1867.78,1068.62 L1871.21,1069.05 L1874.63,1069.39 L1878.05,1069.61 L1881.48,1069.73 L1884.9,1069.78" fill="none" stroke="#f00" stroke-width="4.2" stroke-linecap="butt"/><path d="M1909,1069.73 L1912.43,1069.53 L1915.87,1069.02 L1919.3,1068.24 L1922.73,1067.65 L1926.17,1067.76 L1929.6,1068.45 L1933.03,1069.19 L1936.47,1069.61 L1939.9,1069.76" fill="none" stroke="#f00" stroke-width="4.2" stroke-linecap="butt"/><path d="M1500,1070 L1510.5,1069.6 L1520.9,1065.4 L1535.5,1057 L1543.9,1047.6 L1550.2,1034 L1556.5,1017.3 L1562.7,996.4 L1569,975.5 L1575.3,952.5 L1579,934.7 L1585.7,932.2 L1594.1,965 L1600.4,982.8 L1607.7,970.2 L1614,936.8 L1621.9,904 L1630.1,908.1 L1637,939.9 L1644.3,983.8 L1650.6,1027.7 L1657.9,1047.6 L1665.2,1056 L1673.6,1061.2 L1681.9,1067.5 L1688.2,1071.4" fill="none" stroke="#f00" stroke-width="4.2" stroke-linejoin="round"/><path d="M1243.8,1070.2 L1529.3,1070.2 L1537.6,1068.5 L1550.2,1065 L1558.6,1066.4 L1564.8,1056 L1569,1027.7 L1574.2,971.3 L1578.4,929.5 L1582.6,914.8 L1586.4,905.4 L1589.9,919 L1594.1,975.5 L1598.3,1013.1 L1601.4,1027.7 L1607.7,1025.7 L1610.8,996.4 L1616.1,944.1 L1621.3,910.6 L1625.5,908.6 L1629.7,921.1 L1634.9,965 L1640.1,1017.3 L1646.4,1050.8 L1654.8,1065.4 L1667.3,1069.2 L1680,1070.2 L1958,1070.2" fill="none" stroke="#000" stroke-width="2.2" stroke-dasharray="6 4.5" stroke-linejoin="round"/><path d="M1586.2,866.7V895M1625.5,866.7V895" stroke="#000" stroke-width="3"/><path d="M1554.8,882.4H1572" stroke="#000" stroke-width="5.5"/><path d="M1584.5,882.4L1569,875.6V889.2Z" fill="#000"/><path d="M1640,882.4H1654.8" stroke="#000" stroke-width="5.5"/><path d="M1627.2,882.4L1642.5,875.6V889.2Z" fill="#000"/><text x="1664.7" y="890.6" font-family="'Liberation Sans', Arial, sans-serif" font-size="25.5" fill="#111">5.2 nm</text>
<g font-family="'Liberation Sans', Arial, sans-serif" font-size="25" fill="#4a4a4a"><text x="1243.6" y="1103.5" text-anchor="middle">550</text><text x="1386.54" y="1103.5" text-anchor="middle">570</text><text x="1529.48" y="1103.5" text-anchor="middle">590</text><text x="1672.42" y="1103.5" text-anchor="middle">610</text><text x="1815.36" y="1103.5" text-anchor="middle">630</text><text x="1958.3" y="1103.5" text-anchor="middle">650</text><text x="1230.6" y="1079.4" text-anchor="end">0</text><text x="1230.6" y="995.95" text-anchor="end">0.5</text><text x="1230.6" y="912.5" text-anchor="end">1</text></g>
<g font-family="'Liberation Sans', Arial, sans-serif" font-size="25.5" fill="#1a1a1a"><text x="1594" y="1141.1" text-anchor="middle">Wavelength (nm)</text><text transform="translate(1172.8,970.66) rotate(-90)" text-anchor="middle">Intensity (a. u.)</text></g>
<path d="M1264,831.2h7.4m10,0h7.4m10,0h7.4m10,0h7.4m10,0h7.4m10,0h10.6" stroke="#000" stroke-width="3.8"/><path d="M1625.5,832H1733" stroke="#f00" stroke-width="4.5"/><g font-family="'Liberation Sans', Arial, sans-serif" font-size="25.5" fill="#111"><text x="1382.6" y="838.6">Ground truth</text><text x="1744" y="838.6">BEST camera</text></g></svg>
</body></html>
